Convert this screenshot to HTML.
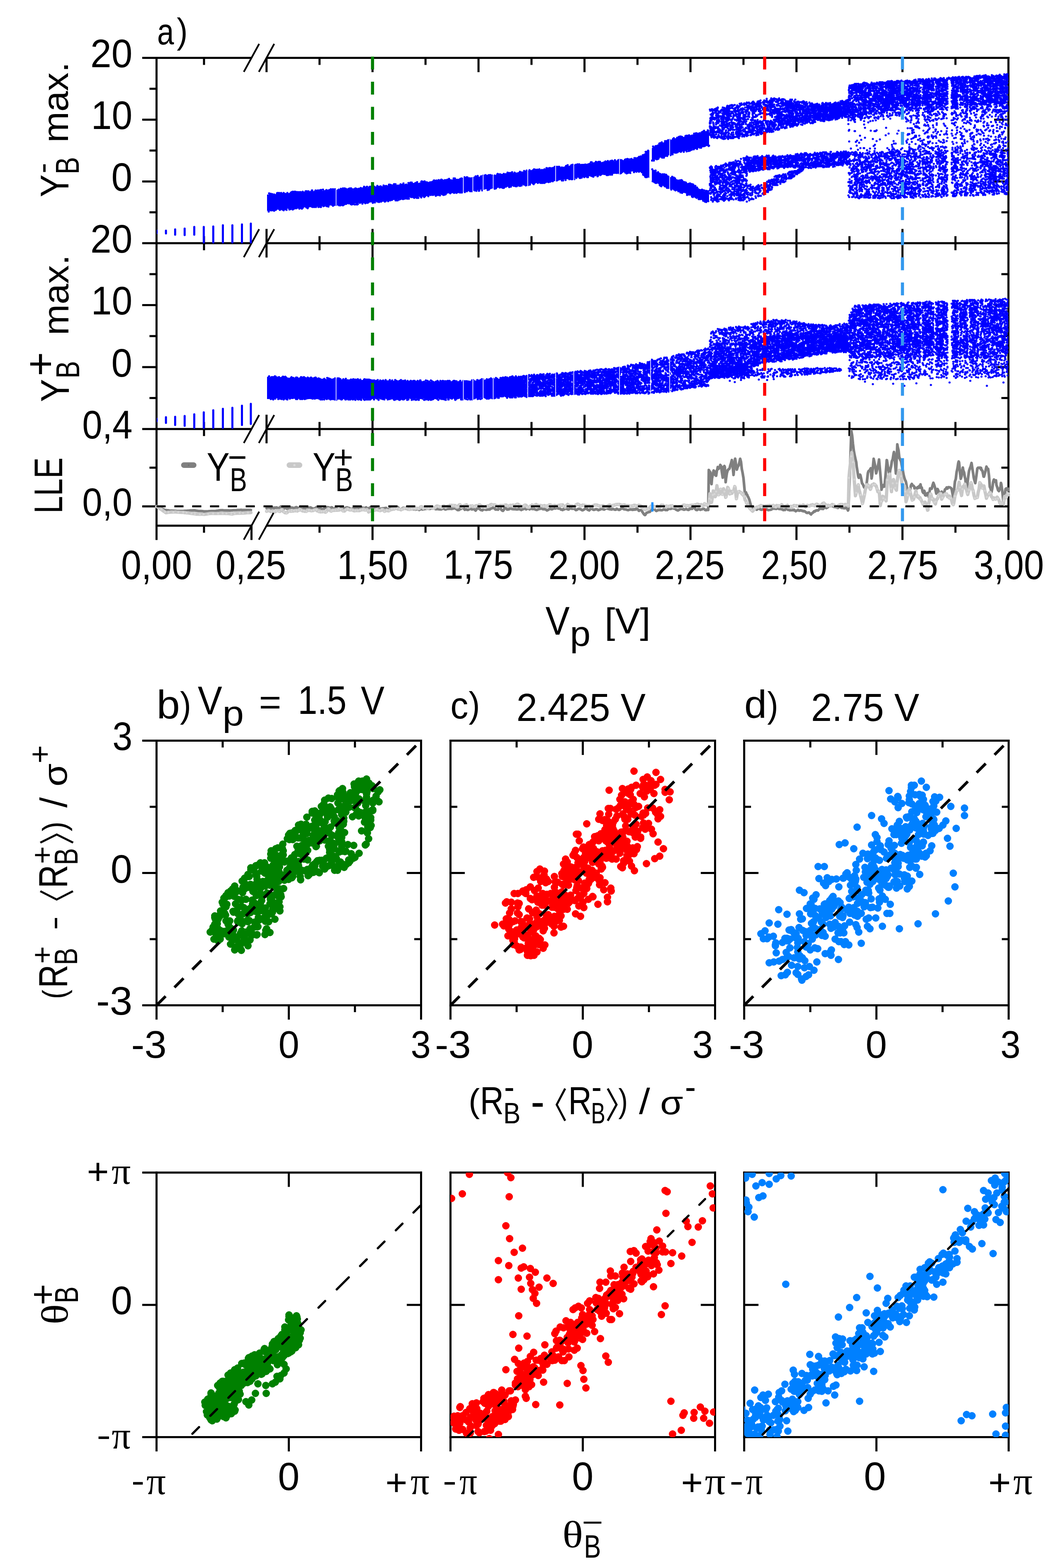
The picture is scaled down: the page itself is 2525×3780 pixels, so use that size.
<!DOCTYPE html>
<html><head><meta charset="utf-8"><title>figure</title><style>html,body{margin:0;padding:0;background:#fff}svg{display:block}</style></head><body>
<svg xmlns="http://www.w3.org/2000/svg" width="2525" height="3780" viewBox="0 0 2525 3780">
<rect width="2525" height="3780" fill="#fff"/>
<line x1="377.5" y1="137" x2="377.5" y2="1269.8" stroke="#000" stroke-width="5.0"/>
<line x1="2432" y1="137" x2="2432" y2="1269.8" stroke="#000" stroke-width="5.0"/>
<line x1="377.5" y1="139.5" x2="606.5" y2="139.5" stroke="#000" stroke-width="5.0"/>
<line x1="642.8" y1="139.5" x2="2434.5" y2="139.5" stroke="#000" stroke-width="5.0"/>
<line x1="377.5" y1="586.3" x2="606.5" y2="586.3" stroke="#000" stroke-width="5.0"/>
<line x1="642.8" y1="586.3" x2="2434.5" y2="586.3" stroke="#000" stroke-width="5.0"/>
<line x1="377.5" y1="1034.2" x2="606.5" y2="1034.2" stroke="#000" stroke-width="5.0"/>
<line x1="642.8" y1="1034.2" x2="2434.5" y2="1034.2" stroke="#000" stroke-width="5.0"/>
<line x1="377.5" y1="1267.3" x2="606.5" y2="1267.3" stroke="#000" stroke-width="5.0"/>
<line x1="642.8" y1="1267.3" x2="2434.5" y2="1267.3" stroke="#000" stroke-width="5.0"/>
<line x1="343" y1="139.5" x2="377.5" y2="139.5" stroke="#000" stroke-width="5.0"/>
<line x1="360.5" y1="214" x2="377.5" y2="214" stroke="#000" stroke-width="5.0"/>
<line x1="343" y1="288.4" x2="377.5" y2="288.4" stroke="#000" stroke-width="5.0"/>
<line x1="360.5" y1="362.9" x2="377.5" y2="362.9" stroke="#000" stroke-width="5.0"/>
<line x1="343" y1="437.4" x2="377.5" y2="437.4" stroke="#000" stroke-width="5.0"/>
<line x1="360.5" y1="511.8" x2="377.5" y2="511.8" stroke="#000" stroke-width="5.0"/>
<line x1="343" y1="586.3" x2="377.5" y2="586.3" stroke="#000" stroke-width="5.0"/>
<line x1="360.5" y1="660.9" x2="377.5" y2="660.9" stroke="#000" stroke-width="5.0"/>
<line x1="343" y1="735.6" x2="377.5" y2="735.6" stroke="#000" stroke-width="5.0"/>
<line x1="360.5" y1="810.2" x2="377.5" y2="810.2" stroke="#000" stroke-width="5.0"/>
<line x1="343" y1="884.9" x2="377.5" y2="884.9" stroke="#000" stroke-width="5.0"/>
<line x1="360.5" y1="959.5" x2="377.5" y2="959.5" stroke="#000" stroke-width="5.0"/>
<line x1="343" y1="1034.2" x2="377.5" y2="1034.2" stroke="#000" stroke-width="5.0"/>
<line x1="360.5" y1="1127.4" x2="377.5" y2="1127.4" stroke="#000" stroke-width="5.0"/>
<line x1="343" y1="1220.7" x2="377.5" y2="1220.7" stroke="#000" stroke-width="5.0"/>
<line x1="2415" y1="214" x2="2432" y2="214" stroke="#000" stroke-width="5.0"/>
<line x1="2397.5" y1="288.4" x2="2432" y2="288.4" stroke="#000" stroke-width="5.0"/>
<line x1="2415" y1="362.9" x2="2432" y2="362.9" stroke="#000" stroke-width="5.0"/>
<line x1="2397.5" y1="437.4" x2="2432" y2="437.4" stroke="#000" stroke-width="5.0"/>
<line x1="2415" y1="511.8" x2="2432" y2="511.8" stroke="#000" stroke-width="5.0"/>
<line x1="2415" y1="660.9" x2="2432" y2="660.9" stroke="#000" stroke-width="5.0"/>
<line x1="2397.5" y1="735.6" x2="2432" y2="735.6" stroke="#000" stroke-width="5.0"/>
<line x1="2415" y1="810.2" x2="2432" y2="810.2" stroke="#000" stroke-width="5.0"/>
<line x1="2397.5" y1="884.9" x2="2432" y2="884.9" stroke="#000" stroke-width="5.0"/>
<line x1="2415" y1="959.5" x2="2432" y2="959.5" stroke="#000" stroke-width="5.0"/>
<line x1="2415" y1="1127.4" x2="2432" y2="1127.4" stroke="#000" stroke-width="5.0"/>
<line x1="2397.5" y1="1220.7" x2="2432" y2="1220.7" stroke="#000" stroke-width="5.0"/>
<line x1="492" y1="139.5" x2="492" y2="156.5" stroke="#000" stroke-width="5.0"/>
<line x1="642.8" y1="139.5" x2="642.8" y2="174" stroke="#000" stroke-width="5.0"/>
<line x1="770.6" y1="139.5" x2="770.6" y2="156.5" stroke="#000" stroke-width="5.0"/>
<line x1="898.4" y1="139.5" x2="898.4" y2="174" stroke="#000" stroke-width="5.0"/>
<line x1="1026.2" y1="139.5" x2="1026.2" y2="156.5" stroke="#000" stroke-width="5.0"/>
<line x1="1154" y1="139.5" x2="1154" y2="174" stroke="#000" stroke-width="5.0"/>
<line x1="1281.8" y1="139.5" x2="1281.8" y2="156.5" stroke="#000" stroke-width="5.0"/>
<line x1="1409.6" y1="139.5" x2="1409.6" y2="174" stroke="#000" stroke-width="5.0"/>
<line x1="1537.4" y1="139.5" x2="1537.4" y2="156.5" stroke="#000" stroke-width="5.0"/>
<line x1="1665.2" y1="139.5" x2="1665.2" y2="174" stroke="#000" stroke-width="5.0"/>
<line x1="1793" y1="139.5" x2="1793" y2="156.5" stroke="#000" stroke-width="5.0"/>
<line x1="1920.8" y1="139.5" x2="1920.8" y2="174" stroke="#000" stroke-width="5.0"/>
<line x1="2048.6" y1="139.5" x2="2048.6" y2="156.5" stroke="#000" stroke-width="5.0"/>
<line x1="2176.4" y1="139.5" x2="2176.4" y2="174" stroke="#000" stroke-width="5.0"/>
<line x1="2304.2" y1="139.5" x2="2304.2" y2="156.5" stroke="#000" stroke-width="5.0"/>
<line x1="492" y1="569.3" x2="492" y2="603.3" stroke="#000" stroke-width="5.0"/>
<line x1="642.8" y1="551.8" x2="642.8" y2="620.8" stroke="#000" stroke-width="5.0"/>
<line x1="770.6" y1="569.3" x2="770.6" y2="603.3" stroke="#000" stroke-width="5.0"/>
<line x1="898.4" y1="551.8" x2="898.4" y2="620.8" stroke="#000" stroke-width="5.0"/>
<line x1="1026.2" y1="569.3" x2="1026.2" y2="603.3" stroke="#000" stroke-width="5.0"/>
<line x1="1154" y1="551.8" x2="1154" y2="620.8" stroke="#000" stroke-width="5.0"/>
<line x1="1281.8" y1="569.3" x2="1281.8" y2="603.3" stroke="#000" stroke-width="5.0"/>
<line x1="1409.6" y1="551.8" x2="1409.6" y2="620.8" stroke="#000" stroke-width="5.0"/>
<line x1="1537.4" y1="569.3" x2="1537.4" y2="603.3" stroke="#000" stroke-width="5.0"/>
<line x1="1665.2" y1="551.8" x2="1665.2" y2="620.8" stroke="#000" stroke-width="5.0"/>
<line x1="1793" y1="569.3" x2="1793" y2="603.3" stroke="#000" stroke-width="5.0"/>
<line x1="1920.8" y1="551.8" x2="1920.8" y2="620.8" stroke="#000" stroke-width="5.0"/>
<line x1="2048.6" y1="569.3" x2="2048.6" y2="603.3" stroke="#000" stroke-width="5.0"/>
<line x1="2176.4" y1="551.8" x2="2176.4" y2="620.8" stroke="#000" stroke-width="5.0"/>
<line x1="2304.2" y1="569.3" x2="2304.2" y2="603.3" stroke="#000" stroke-width="5.0"/>
<line x1="492" y1="1017.2" x2="492" y2="1051.2" stroke="#000" stroke-width="5.0"/>
<line x1="642.8" y1="999.7" x2="642.8" y2="1068.7" stroke="#000" stroke-width="5.0"/>
<line x1="770.6" y1="1017.2" x2="770.6" y2="1051.2" stroke="#000" stroke-width="5.0"/>
<line x1="898.4" y1="999.7" x2="898.4" y2="1068.7" stroke="#000" stroke-width="5.0"/>
<line x1="1026.2" y1="1017.2" x2="1026.2" y2="1051.2" stroke="#000" stroke-width="5.0"/>
<line x1="1154" y1="999.7" x2="1154" y2="1068.7" stroke="#000" stroke-width="5.0"/>
<line x1="1281.8" y1="1017.2" x2="1281.8" y2="1051.2" stroke="#000" stroke-width="5.0"/>
<line x1="1409.6" y1="999.7" x2="1409.6" y2="1068.7" stroke="#000" stroke-width="5.0"/>
<line x1="1537.4" y1="1017.2" x2="1537.4" y2="1051.2" stroke="#000" stroke-width="5.0"/>
<line x1="1665.2" y1="999.7" x2="1665.2" y2="1068.7" stroke="#000" stroke-width="5.0"/>
<line x1="1793" y1="1017.2" x2="1793" y2="1051.2" stroke="#000" stroke-width="5.0"/>
<line x1="1920.8" y1="999.7" x2="1920.8" y2="1068.7" stroke="#000" stroke-width="5.0"/>
<line x1="2048.6" y1="1017.2" x2="2048.6" y2="1051.2" stroke="#000" stroke-width="5.0"/>
<line x1="2176.4" y1="999.7" x2="2176.4" y2="1068.7" stroke="#000" stroke-width="5.0"/>
<line x1="2304.2" y1="1017.2" x2="2304.2" y2="1051.2" stroke="#000" stroke-width="5.0"/>
<line x1="377.5" y1="1267.3" x2="377.5" y2="1301.8" stroke="#000" stroke-width="5.0"/>
<line x1="492" y1="1267.3" x2="492" y2="1284.3" stroke="#000" stroke-width="5.0"/>
<line x1="606.5" y1="1267.3" x2="606.5" y2="1301.8" stroke="#000" stroke-width="5.0"/>
<line x1="770.6" y1="1267.3" x2="770.6" y2="1284.3" stroke="#000" stroke-width="5.0"/>
<line x1="898.4" y1="1267.3" x2="898.4" y2="1301.8" stroke="#000" stroke-width="5.0"/>
<line x1="1026.2" y1="1267.3" x2="1026.2" y2="1284.3" stroke="#000" stroke-width="5.0"/>
<line x1="1154" y1="1267.3" x2="1154" y2="1301.8" stroke="#000" stroke-width="5.0"/>
<line x1="1281.8" y1="1267.3" x2="1281.8" y2="1284.3" stroke="#000" stroke-width="5.0"/>
<line x1="1409.6" y1="1267.3" x2="1409.6" y2="1301.8" stroke="#000" stroke-width="5.0"/>
<line x1="1537.4" y1="1267.3" x2="1537.4" y2="1284.3" stroke="#000" stroke-width="5.0"/>
<line x1="1665.2" y1="1267.3" x2="1665.2" y2="1301.8" stroke="#000" stroke-width="5.0"/>
<line x1="1793" y1="1267.3" x2="1793" y2="1284.3" stroke="#000" stroke-width="5.0"/>
<line x1="1920.8" y1="1267.3" x2="1920.8" y2="1301.8" stroke="#000" stroke-width="5.0"/>
<line x1="2048.6" y1="1267.3" x2="2048.6" y2="1284.3" stroke="#000" stroke-width="5.0"/>
<line x1="2176.4" y1="1267.3" x2="2176.4" y2="1301.8" stroke="#000" stroke-width="5.0"/>
<line x1="2304.2" y1="1267.3" x2="2304.2" y2="1284.3" stroke="#000" stroke-width="5.0"/>
<line x1="2432" y1="1267.3" x2="2432" y2="1301.8" stroke="#000" stroke-width="5.0"/>
<line x1="588" y1="173.2" x2="625" y2="105.8" stroke="#000" stroke-width="4.2"/>
<line x1="624.3" y1="173.2" x2="661.3" y2="105.8" stroke="#000" stroke-width="4.2"/>
<line x1="588" y1="620" x2="625" y2="552.6" stroke="#000" stroke-width="4.2"/>
<line x1="624.3" y1="620" x2="661.3" y2="552.6" stroke="#000" stroke-width="4.2"/>
<line x1="588" y1="1067.9" x2="625" y2="1000.5" stroke="#000" stroke-width="4.2"/>
<line x1="624.3" y1="1067.9" x2="661.3" y2="1000.5" stroke="#000" stroke-width="4.2"/>
<line x1="588" y1="1301" x2="625" y2="1233.6" stroke="#000" stroke-width="4.2"/>
<line x1="624.3" y1="1301" x2="661.3" y2="1233.6" stroke="#000" stroke-width="4.2"/>
<line x1="377.5" y1="1785.5" x2="1015.5" y2="1785.5" stroke="#000" stroke-width="5.0" stroke-linecap="square"/>
<line x1="377.5" y1="2423.5" x2="1015.5" y2="2423.5" stroke="#000" stroke-width="5.0" stroke-linecap="square"/>
<line x1="377.5" y1="1785.5" x2="377.5" y2="2423.5" stroke="#000" stroke-width="5.0" stroke-linecap="square"/>
<line x1="1015.5" y1="1785.5" x2="1015.5" y2="2423.5" stroke="#000" stroke-width="5.0" stroke-linecap="square"/>
<line x1="537" y1="1785.5" x2="537" y2="1802" stroke="#000" stroke-width="5.0"/>
<line x1="696.5" y1="1785.5" x2="696.5" y2="1820" stroke="#000" stroke-width="5.0"/>
<line x1="856" y1="1785.5" x2="856" y2="1802" stroke="#000" stroke-width="5.0"/>
<line x1="377.5" y1="2423.5" x2="377.5" y2="2458" stroke="#000" stroke-width="5.0"/>
<line x1="537" y1="2423.5" x2="537" y2="2440" stroke="#000" stroke-width="5.0"/>
<line x1="696.5" y1="2423.5" x2="696.5" y2="2458" stroke="#000" stroke-width="5.0"/>
<line x1="856" y1="2423.5" x2="856" y2="2440" stroke="#000" stroke-width="5.0"/>
<line x1="1015.5" y1="2423.5" x2="1015.5" y2="2458" stroke="#000" stroke-width="5.0"/>
<line x1="999" y1="1945" x2="1015.5" y2="1945" stroke="#000" stroke-width="5.0"/>
<line x1="981" y1="2104.5" x2="1015.5" y2="2104.5" stroke="#000" stroke-width="5.0"/>
<line x1="999" y1="2264" x2="1015.5" y2="2264" stroke="#000" stroke-width="5.0"/>
<line x1="343" y1="1785.5" x2="377.5" y2="1785.5" stroke="#000" stroke-width="5.0"/>
<line x1="361" y1="1945" x2="377.5" y2="1945" stroke="#000" stroke-width="5.0"/>
<line x1="343" y1="2104.5" x2="377.5" y2="2104.5" stroke="#000" stroke-width="5.0"/>
<line x1="361" y1="2264" x2="377.5" y2="2264" stroke="#000" stroke-width="5.0"/>
<line x1="343" y1="2423.5" x2="377.5" y2="2423.5" stroke="#000" stroke-width="5.0"/>
<line x1="1086.4" y1="1785.5" x2="1724.5" y2="1785.5" stroke="#000" stroke-width="5.0" stroke-linecap="square"/>
<line x1="1086.4" y1="2423.5" x2="1724.5" y2="2423.5" stroke="#000" stroke-width="5.0" stroke-linecap="square"/>
<line x1="1086.4" y1="1785.5" x2="1086.4" y2="2423.5" stroke="#000" stroke-width="5.0" stroke-linecap="square"/>
<line x1="1724.5" y1="1785.5" x2="1724.5" y2="2423.5" stroke="#000" stroke-width="5.0" stroke-linecap="square"/>
<line x1="1245.9" y1="1785.5" x2="1245.9" y2="1802" stroke="#000" stroke-width="5.0"/>
<line x1="1405.5" y1="1785.5" x2="1405.5" y2="1820" stroke="#000" stroke-width="5.0"/>
<line x1="1565" y1="1785.5" x2="1565" y2="1802" stroke="#000" stroke-width="5.0"/>
<line x1="1086.4" y1="2423.5" x2="1086.4" y2="2458" stroke="#000" stroke-width="5.0"/>
<line x1="1245.9" y1="2423.5" x2="1245.9" y2="2440" stroke="#000" stroke-width="5.0"/>
<line x1="1405.5" y1="2423.5" x2="1405.5" y2="2458" stroke="#000" stroke-width="5.0"/>
<line x1="1565" y1="2423.5" x2="1565" y2="2440" stroke="#000" stroke-width="5.0"/>
<line x1="1724.5" y1="2423.5" x2="1724.5" y2="2458" stroke="#000" stroke-width="5.0"/>
<line x1="1708" y1="1945" x2="1724.5" y2="1945" stroke="#000" stroke-width="5.0"/>
<line x1="1690" y1="2104.5" x2="1724.5" y2="2104.5" stroke="#000" stroke-width="5.0"/>
<line x1="1708" y1="2264" x2="1724.5" y2="2264" stroke="#000" stroke-width="5.0"/>
<line x1="1086.4" y1="1945" x2="1102.9" y2="1945" stroke="#000" stroke-width="5.0"/>
<line x1="1086.4" y1="2104.5" x2="1120.9" y2="2104.5" stroke="#000" stroke-width="5.0"/>
<line x1="1086.4" y1="2264" x2="1102.9" y2="2264" stroke="#000" stroke-width="5.0"/>
<line x1="1794.7" y1="1785.5" x2="2432.5" y2="1785.5" stroke="#000" stroke-width="5.0" stroke-linecap="square"/>
<line x1="1794.7" y1="2423.5" x2="2432.5" y2="2423.5" stroke="#000" stroke-width="5.0" stroke-linecap="square"/>
<line x1="1794.7" y1="1785.5" x2="1794.7" y2="2423.5" stroke="#000" stroke-width="5.0" stroke-linecap="square"/>
<line x1="2432.5" y1="1785.5" x2="2432.5" y2="2423.5" stroke="#000" stroke-width="5.0" stroke-linecap="square"/>
<line x1="1954.2" y1="1785.5" x2="1954.2" y2="1802" stroke="#000" stroke-width="5.0"/>
<line x1="2113.6" y1="1785.5" x2="2113.6" y2="1820" stroke="#000" stroke-width="5.0"/>
<line x1="2273.1" y1="1785.5" x2="2273.1" y2="1802" stroke="#000" stroke-width="5.0"/>
<line x1="1794.7" y1="2423.5" x2="1794.7" y2="2458" stroke="#000" stroke-width="5.0"/>
<line x1="1954.2" y1="2423.5" x2="1954.2" y2="2440" stroke="#000" stroke-width="5.0"/>
<line x1="2113.6" y1="2423.5" x2="2113.6" y2="2458" stroke="#000" stroke-width="5.0"/>
<line x1="2273.1" y1="2423.5" x2="2273.1" y2="2440" stroke="#000" stroke-width="5.0"/>
<line x1="2432.5" y1="2423.5" x2="2432.5" y2="2458" stroke="#000" stroke-width="5.0"/>
<line x1="2416" y1="1945" x2="2432.5" y2="1945" stroke="#000" stroke-width="5.0"/>
<line x1="2398" y1="2104.5" x2="2432.5" y2="2104.5" stroke="#000" stroke-width="5.0"/>
<line x1="2416" y1="2264" x2="2432.5" y2="2264" stroke="#000" stroke-width="5.0"/>
<line x1="1794.7" y1="1945" x2="1811.2" y2="1945" stroke="#000" stroke-width="5.0"/>
<line x1="1794.7" y1="2104.5" x2="1829.2" y2="2104.5" stroke="#000" stroke-width="5.0"/>
<line x1="1794.7" y1="2264" x2="1811.2" y2="2264" stroke="#000" stroke-width="5.0"/>
<line x1="377.5" y1="2826.8" x2="1015.5" y2="2826.8" stroke="#000" stroke-width="5.0" stroke-linecap="square"/>
<line x1="377.5" y1="3464.5" x2="1015.5" y2="3464.5" stroke="#000" stroke-width="5.0" stroke-linecap="square"/>
<line x1="377.5" y1="2826.8" x2="377.5" y2="3464.5" stroke="#000" stroke-width="5.0" stroke-linecap="square"/>
<line x1="1015.5" y1="2826.8" x2="1015.5" y2="3464.5" stroke="#000" stroke-width="5.0" stroke-linecap="square"/>
<line x1="696.5" y1="2826.8" x2="696.5" y2="2861.3" stroke="#000" stroke-width="5.0"/>
<line x1="377.5" y1="3464.5" x2="377.5" y2="3499" stroke="#000" stroke-width="5.0"/>
<line x1="696.5" y1="3464.5" x2="696.5" y2="3499" stroke="#000" stroke-width="5.0"/>
<line x1="1015.5" y1="3464.5" x2="1015.5" y2="3499" stroke="#000" stroke-width="5.0"/>
<line x1="981" y1="3145.7" x2="1015.5" y2="3145.7" stroke="#000" stroke-width="5.0"/>
<line x1="343" y1="2826.8" x2="377.5" y2="2826.8" stroke="#000" stroke-width="5.0"/>
<line x1="343" y1="3145.7" x2="377.5" y2="3145.7" stroke="#000" stroke-width="5.0"/>
<line x1="343" y1="3464.5" x2="377.5" y2="3464.5" stroke="#000" stroke-width="5.0"/>
<line x1="1086.4" y1="2826.8" x2="1724.5" y2="2826.8" stroke="#000" stroke-width="5.0" stroke-linecap="square"/>
<line x1="1086.4" y1="3464.5" x2="1724.5" y2="3464.5" stroke="#000" stroke-width="5.0" stroke-linecap="square"/>
<line x1="1086.4" y1="2826.8" x2="1086.4" y2="3464.5" stroke="#000" stroke-width="5.0" stroke-linecap="square"/>
<line x1="1724.5" y1="2826.8" x2="1724.5" y2="3464.5" stroke="#000" stroke-width="5.0" stroke-linecap="square"/>
<line x1="1405.5" y1="2826.8" x2="1405.5" y2="2861.3" stroke="#000" stroke-width="5.0"/>
<line x1="1086.4" y1="3464.5" x2="1086.4" y2="3499" stroke="#000" stroke-width="5.0"/>
<line x1="1405.5" y1="3464.5" x2="1405.5" y2="3499" stroke="#000" stroke-width="5.0"/>
<line x1="1724.5" y1="3464.5" x2="1724.5" y2="3499" stroke="#000" stroke-width="5.0"/>
<line x1="1690" y1="3145.7" x2="1724.5" y2="3145.7" stroke="#000" stroke-width="5.0"/>
<line x1="1086.4" y1="3145.7" x2="1120.9" y2="3145.7" stroke="#000" stroke-width="5.0"/>
<line x1="1794.7" y1="2826.8" x2="2432.5" y2="2826.8" stroke="#000" stroke-width="5.0" stroke-linecap="square"/>
<line x1="1794.7" y1="3464.5" x2="2432.5" y2="3464.5" stroke="#000" stroke-width="5.0" stroke-linecap="square"/>
<line x1="1794.7" y1="2826.8" x2="1794.7" y2="3464.5" stroke="#000" stroke-width="5.0" stroke-linecap="square"/>
<line x1="2432.5" y1="2826.8" x2="2432.5" y2="3464.5" stroke="#000" stroke-width="5.0" stroke-linecap="square"/>
<line x1="2113.6" y1="2826.8" x2="2113.6" y2="2861.3" stroke="#000" stroke-width="5.0"/>
<line x1="1794.7" y1="3464.5" x2="1794.7" y2="3499" stroke="#000" stroke-width="5.0"/>
<line x1="2113.6" y1="3464.5" x2="2113.6" y2="3499" stroke="#000" stroke-width="5.0"/>
<line x1="2432.5" y1="3464.5" x2="2432.5" y2="3499" stroke="#000" stroke-width="5.0"/>
<line x1="2398" y1="3145.7" x2="2432.5" y2="3145.7" stroke="#000" stroke-width="5.0"/>
<line x1="1794.7" y1="3145.7" x2="1829.2" y2="3145.7" stroke="#000" stroke-width="5.0"/>
<defs><clipPath id="cpTop"><rect x="377.5" y="139.5" width="2054.5" height="1127.8"/></clipPath><clipPath id="cp1"><rect x="377.5" y="139.5" width="2054.5" height="446.8"/></clipPath><clipPath id="cp2"><rect x="377.5" y="586.3" width="2054.5" height="447.9"/></clipPath></defs>
<g clip-path="url(#cpTop)">
<path d="M644 469 646 469 650 469 652 467 656 467 658 468 662 466 664 468 668 467 670 466 674 466 676 466 680 465 682 466 686 465 688 465 692 466 694 466 698 465 700 466 704 464 706 463 710 464 712 463 716 462 718 463 722 463 724 464 728 463 730 462 734 462 736 461 740 461 742 461 746 462 748 460 752 461 754 460 758 461 760 460 764 460 766 461 770 460 772 460 776 460 778 460 782 458 784 459 788 459 790 459 794 458 796 458 800 457 802 457 806 457 808 456 812 458 814 456 818 458 820 457 824 456 826 456 830 456 832 455 836 455 838 454 842 455 844 454 848 456 850 454 854 454 856 453 860 455 862 454 866 452 868 454 872 454 874 454 878 453 880 451 884 451 886 453 890 452 892 451 896 452 898 451 902 451 904 450 908 450 910 449 914 448 916 450 920 449 922 449 926 448 928 449 932 447 934 447 938 446 940 446 944 448 946 447 950 446 952 446 956 446 958 445 962 445 964 445 968 444 970 444 974 444 976 444 980 442 982 444 986 441 988 443 992 442 994 441 998 441 1000 442 1004 439 1006 441 1010 441 1012 440 1016 440 1018 438 1022 438 1024 438 1028 437 1030 437 1034 439 1036 437 1040 437 1042 436 1046 437 1048 436 1052 437 1054 435 1058 435 1060 436 1064 435 1066 434 1070 434 1072 435 1076 433 1078 434 1082 432 1084 432 1088 432 1090 433 1094 431 1096 432 1100 431 1102 431 1106 431 1108 431 1112 429 1114 429 1118 428 1120 428 1124 428 1126 429 1130 429 1132 427 1136 428 1138 427 1142 427 1144 427 1148 426 1150 427 1154 426 1156 426 1160 425 1162 424 1166 423 1168 424 1172 424 1174 424 1178 424 1180 422 1184 424 1186 423 1190 423 1192 422 1196 422 1198 420 1202 420 1204 419 1208 419 1210 419 1214 419 1216 419 1220 417 1222 418 1226 417 1228 418 1232 416 1234 416 1238 417 1240 416 1244 416 1246 416 1250 415 1252 414 1256 414 1258 413 1262 414 1264 414 1268 413 1270 411 1274 411 1276 411 1280 410 1282 411 1286 411 1288 410 1292 411 1294 410 1298 408 1300 409 1304 409 1306 407 1310 408 1312 407 1316 407 1318 405 1322 406 1324 406 1328 406 1330 406 1334 404 1336 405 1340 405 1342 404 1346 402 1348 401 1352 403 1354 401 1358 402 1360 402 1364 400 1366 400 1370 400 1372 400 1376 398 1378 399 1382 398 1384 399 1388 399 1390 397 1394 397 1396 397 1400 396 1402 395 1406 395 1408 395 1412 394 1414 395 1418 394 1420 393 1424 392 1426 394 1430 392 1432 391 1436 391 1438 390 1442 392 1444 390 1448 390 1450 391 1454 390 1456 389 1460 389 1462 390 1466 389 1468 389 1472 388 1474 389 1478 389 1480 389 1484 388 1486 387 1490 386 1492 387 1496 388 1498 386 1502 386 1504 386 1508 386 1510 386 1514 383 1516 383 1520 384 1522 383 1526 383 1528 383 1532 383 1534 382 1538 381 1540 379 1544 379 1546 376 1550 374 1552 371 1556 369 1558 366 1562 365 1564 364 1566 362 1566 429 1564 428 1562 428 1558 425 1556 423 1552 421 1550 419 1546 417 1544 414 1540 416 1538 414 1534 414 1532 413 1528 413 1526 413 1522 414 1520 416 1516 416 1514 415 1510 416 1508 417 1504 415 1502 417 1498 417 1496 418 1492 419 1490 418 1486 419 1484 419 1480 419 1478 420 1474 421 1472 421 1468 419 1466 420 1462 420 1460 422 1456 422 1454 421 1450 423 1448 423 1444 423 1442 422 1438 424 1436 425 1432 425 1430 424 1426 426 1424 425 1420 425 1418 426 1414 426 1412 428 1408 427 1406 427 1402 428 1400 427 1396 429 1394 428 1390 429 1388 429 1384 431 1382 430 1378 430 1376 430 1372 431 1370 432 1366 432 1364 432 1360 433 1358 433 1354 433 1352 434 1348 435 1346 436 1342 436 1340 436 1336 437 1334 437 1330 438 1328 437 1324 437 1322 437 1318 439 1316 439 1312 439 1310 439 1306 439 1304 440 1300 440 1298 442 1294 441 1292 442 1288 442 1286 443 1282 442 1280 444 1276 443 1274 444 1270 444 1268 445 1264 444 1262 445 1258 447 1256 447 1252 446 1250 448 1246 448 1244 447 1240 448 1238 449 1234 449 1232 449 1228 450 1226 450 1222 451 1220 452 1216 451 1214 451 1210 452 1208 452 1204 454 1202 452 1198 454 1196 454 1192 455 1190 454 1186 455 1184 456 1180 457 1178 456 1174 456 1172 456 1168 457 1166 458 1162 457 1160 457 1156 458 1154 458 1150 459 1148 459 1144 460 1142 460 1138 460 1136 461 1132 462 1130 461 1126 461 1124 462 1120 462 1118 463 1114 464 1112 463 1108 464 1106 464 1102 464 1100 465 1096 465 1094 465 1090 466 1088 466 1084 467 1082 466 1078 467 1076 468 1072 469 1070 468 1066 468 1064 469 1060 469 1058 470 1054 470 1052 470 1048 470 1046 472 1042 470 1040 471 1036 472 1034 471 1030 473 1028 473 1024 473 1022 472 1018 475 1016 474 1012 475 1010 474 1006 476 1004 476 1000 476 998 476 994 476 992 478 988 476 986 478 982 477 980 479 976 479 974 478 970 480 968 479 964 481 962 481 958 480 956 481 952 482 950 482 946 482 944 483 940 482 938 484 934 484 932 485 928 483 926 484 922 484 920 486 916 485 914 486 910 487 908 486 904 487 902 486 898 487 896 488 892 488 890 489 886 489 884 489 880 490 878 490 874 490 872 490 868 489 866 489 862 491 860 490 856 490 854 492 850 491 848 492 844 491 842 493 838 492 836 494 832 494 830 492 826 493 824 493 820 495 818 495 814 494 812 495 808 495 806 495 802 495 800 496 796 495 794 497 790 496 788 497 784 498 782 496 778 496 776 498 772 497 770 497 766 498 764 498 760 498 758 500 754 500 752 501 748 499 746 500 742 501 740 500 736 500 734 500 730 501 728 501 724 502 722 501 718 503 716 502 712 503 710 503 706 504 704 503 700 503 698 505 694 503 692 504 688 506 686 506 682 506 680 505 676 507 674 507 670 505 668 506 664 508 662 508 658 507 656 508 652 508 650 508 646 508 644 509Z" fill="#0000ff"/>
<path d="M1572 357 1575 355 1578 353 1581 352 1584 349 1587 348 1590 347 1593 345 1596 344 1599 344 1602 342 1605 340 1608 341 1611 340 1614 337 1617 338 1620 336 1623 334 1626 335 1629 333 1632 333 1635 333 1638 331 1641 330 1644 331 1647 330 1650 330 1653 328 1656 329 1659 328 1662 327 1665 326 1668 325 1671 324 1674 323 1677 323 1680 321 1683 322 1686 320 1689 320 1692 318 1695 318 1698 318 1701 316 1704 316 1707 314 1710 314 1710 351 1707 352 1704 352 1701 354 1698 355 1695 355 1692 355 1689 355 1686 356 1683 358 1680 357 1677 359 1674 359 1671 359 1668 359 1665 362 1662 362 1659 362 1656 364 1653 364 1650 365 1647 364 1644 367 1641 367 1638 367 1635 368 1632 368 1629 369 1626 369 1623 371 1620 372 1617 373 1614 374 1611 375 1608 374 1605 377 1602 378 1599 379 1596 380 1593 380 1590 381 1587 384 1584 382 1581 385 1578 385 1575 385 1572 388Z" fill="#0000ff"/>
<path d="M1572 407 1575 409 1578 410 1581 413 1584 415 1587 416 1590 416 1593 417 1596 419 1599 421 1602 421 1605 423 1608 423 1611 424 1614 426 1617 427 1620 427 1623 428 1626 431 1629 431 1632 432 1635 433 1638 435 1641 435 1644 436 1647 438 1650 439 1653 440 1656 440 1659 442 1662 442 1665 444 1668 446 1671 447 1674 449 1677 449 1680 451 1683 452 1686 455 1689 456 1692 456 1695 458 1698 461 1701 462 1704 461 1707 464 1710 463 1710 485 1707 486 1704 486 1701 484 1698 485 1695 484 1692 482 1689 480 1686 478 1683 478 1680 477 1677 474 1674 475 1671 473 1668 471 1665 470 1662 469 1659 469 1656 467 1653 466 1650 465 1647 465 1644 463 1641 464 1638 463 1635 461 1632 460 1629 459 1626 459 1623 457 1620 456 1617 456 1614 453 1611 454 1608 453 1605 450 1602 450 1599 448 1596 448 1593 447 1590 445 1587 443 1584 441 1581 440 1578 438 1575 437 1572 435Z" fill="#0000ff"/>
<path d="M644 909 646 908 650 910 652 908 656 909 658 908 662 909 664 909 668 910 670 909 674 909 676 909 680 909 682 909 686 909 688 909 692 910 694 910 698 911 700 909 704 911 706 910 710 912 712 910 716 911 718 911 722 910 724 911 728 911 730 912 734 910 736 911 740 910 742 911 746 913 748 911 752 913 754 911 758 913 760 913 764 911 766 912 770 913 772 912 776 913 778 913 782 912 784 913 788 914 790 913 794 912 796 912 800 913 802 914 806 915 808 913 812 914 814 913 818 913 820 914 824 915 826 914 830 914 832 915 836 915 838 914 842 915 844 914 848 914 850 914 854 914 856 915 860 915 862 917 866 915 868 917 872 916 874 916 878 915 880 917 884 916 886 916 890 915 892 917 896 916 898 917 902 916 904 916 908 918 910 917 914 918 916 916 920 916 922 917 926 916 928 918 932 917 934 917 938 917 940 918 944 917 946 918 950 918 952 917 956 918 958 917 962 917 964 917 968 917 970 918 974 917 976 919 980 918 982 919 986 918 988 918 992 918 994 917 998 917 1000 918 1004 918 1006 919 1010 919 1012 917 1016 918 1018 919 1022 918 1024 918 1028 920 1030 918 1034 918 1036 920 1040 920 1042 920 1046 918 1048 920 1052 919 1054 920 1058 919 1060 920 1064 920 1066 920 1070 920 1072 919 1076 919 1078 919 1082 919 1084 921 1088 920 1090 919 1094 919 1096 920 1100 919 1102 920 1106 920 1108 919 1112 921 1114 919 1118 919 1120 918 1124 920 1126 918 1130 917 1132 919 1136 918 1138 918 1142 919 1144 916 1148 918 1150 916 1154 917 1156 915 1160 915 1162 915 1166 915 1168 916 1172 914 1174 914 1178 915 1180 914 1184 915 1186 914 1190 914 1192 913 1196 912 1198 913 1202 913 1204 913 1208 912 1210 912 1214 911 1216 911 1220 911 1222 911 1226 910 1228 909 1232 911 1234 908 1238 908 1240 908 1244 908 1246 909 1250 908 1252 907 1256 909 1258 907 1260 908 1260 955 1258 956 1256 955 1252 956 1250 956 1246 956 1244 957 1240 957 1238 956 1234 957 1232 956 1228 957 1226 958 1222 958 1220 958 1216 956 1214 958 1210 958 1208 958 1204 957 1202 958 1198 958 1196 959 1192 958 1190 958 1186 959 1184 960 1180 959 1178 959 1174 959 1172 959 1168 960 1166 959 1162 960 1160 959 1156 961 1154 961 1150 961 1148 960 1144 960 1142 960 1138 962 1136 961 1132 961 1130 961 1126 960 1124 961 1120 961 1118 963 1114 961 1112 962 1108 961 1106 962 1102 963 1100 963 1096 962 1094 961 1090 961 1088 963 1084 961 1082 962 1078 961 1076 962 1072 963 1070 961 1066 963 1064 961 1060 963 1058 961 1054 962 1052 962 1048 962 1046 963 1042 961 1040 962 1036 962 1034 961 1030 961 1028 962 1024 961 1022 961 1018 961 1016 962 1012 962 1010 962 1006 963 1004 961 1000 963 998 962 994 962 992 963 988 961 986 961 982 963 980 962 976 963 974 961 970 962 968 962 964 963 962 963 958 962 956 962 952 961 950 961 946 963 944 963 940 963 938 962 934 963 932 962 928 961 926 962 922 961 920 962 916 963 914 961 910 962 908 963 904 961 902 962 898 962 896 961 892 963 890 962 886 963 884 963 880 961 878 961 874 961 872 963 868 962 866 962 862 963 860 962 856 961 854 962 850 962 848 962 844 961 842 961 838 962 836 962 832 962 830 963 826 961 824 961 820 961 818 961 814 961 812 962 808 961 806 962 802 962 800 961 796 962 794 961 790 962 788 961 784 962 782 962 778 961 776 963 772 962 770 963 766 961 764 962 760 961 758 961 754 960 752 961 748 962 746 962 742 962 740 962 736 961 734 960 730 963 728 961 724 960 722 962 718 961 716 962 712 961 710 961 706 962 704 962 700 961 698 960 694 962 692 961 688 961 686 962 682 961 680 961 676 962 674 961 670 961 668 960 664 960 662 961 658 961 656 961 652 960 650 962 646 962 644 962Z" fill="#0000ff"/>
<path d="M648 510h0m1-44h0m1 1h0m3 0h0m0 40h0m1-38h0m2 38h0m1-39h0m2 1h0m2 39h0m4-2h0m3-40h0m1-1h0m2 1h0m2-1h0m2 3h0m0 38h0m1-40h0m1 1h0m0 1h0m1-3h0m3 40h0m2-38h0m1-2h0m0 42h0m2-40h0m2 37h0m3 2h0m2-41h0m5 40h0m3-40h0m0 39h0m2-41h0m3-1h0m0 43h0m1-41h0m0 1h0m2 37h0m0 1h0m1-41h0m0 2h0m2-2h0m1 40h0m1-39h0m0 39h0m1-39h0m0 39h0m1-39h0m3 0h0m1 1h0m2 39h0m1-40h0m1 38h0m1-38h0m1 38h0m2 2h0m2-41h0m0 38h0m0 1h0m1-37h0m6-3h0m1 0h0m0 1h0m1 38h0m1-39h0m0 39h0m2 0h0m0 2h0m1-40h0m0 37h0m1-38h0m8-2h0m1 0h0m1 40h0m4 0h0m2-38h0m1-2h0m1 39h0m0 1h0m2-38h0m1-1h0m1-1h0m2 40h0m1-40h0m3 38h0m1-39h0m0 40h0m0 1h0m1-41h0m0 3h0m0 38h0m1-41h0m4-1h0m1 40h0m2-1h0m4-36h0m1-2h0m1 2h0m0 37h0m1-38h0m3 39h0m2-40h0m3 0h0m1-2h0m5 0h0m0 40h0m1-38h0m1 0h0m2 36h0m1-38h0m3 38h0m5-1h0m1-36h0m0 37h0m1 1h0m1-2h0m0 2h0m1 0h0m1 0h0m1-40h0m2 37h0m1 2h0m2-40h0m0 41h0m2-38h0m1 36h0m1-39h0m0 2h0m3-1h0m7 0h0m1 1h0m2-2h0m2 38h0m1-38h0m0 2h0m1 37h0m1-1h0m3 0h0m4 1h0m1-39h0m3 1h0m0 35h0m1-1h0m0 4h0m2-1h0m5-3h0m2-36h0m1 1h0m3 37h0m1-37h0m3-4h0m0 2h0m1 0h0m2 0h0m0 38h0m4-40h0m1 39h0m2-1h0m1-36h0m1 0h0m1 0h0m1-2h0m2 1h0m1-1h0m1 2h0m2-1h0m1 38h0m1-2h0m1-38h0m1 1h0m2 1h0m0 36h0m0 1h0m3-36h0m2-1h0m1-3h0m0 38h0m4 1h0m1-37h0m0 35h0m0 1h0m3-37h0m1 36h0m0 1h0m4-2h0m2-37h0m1 1h0m0 35h0m2 3h0m2-1h0m1-37h0m0 1h0m1 0h0m1 0h0m3 36h0m2-40h0m1 36h0m1-36h0m1 38h0m1-1h0m1-36h0m2 36h0m1-1h0m1-34h0m3-3h0m0 3h0m1-3h0m1 0h0m0 3h0m2-3h0m0 39h0m2-3h0m0 3h0m3 0h0m3-3h0m1 1h0m2-1h0m1-36h0m0 35h0m1 0h0m3 0h0m1-34h0m1 34h0m0 1h0m1-38h0m3 37h0m2-2h0m1 1h0m1 0h0m2 0h0m0 1h0m3-38h0m0 36h0m1 2h0m2-37h0m0 1h0m2-3h0m0 3h0m3-3h0m2 35h0m4 2h0m1-1h0m1-34h0m1-1h0m3 36h0m1-38h0m0 38h0m1-2h0m2 2h0m6-3h0m1-36h0m0 38h0m1-39h0m1 1h0m1 2h0m1-2h0m0 34h0m3 3h0m1-38h0m1 36h0m8-1h0m0 1h0m6-3h0m5-32h0m0 32h0m2-35h0m2 0h0m0 1h0m2 34h0m1-1h0m0 3h0m2-37h0m1 34h0m0 1h0m3 0h0m1-36h0m0 2h0m3 35h0m1-36h0m0 1h0m2-3h0m1 0h0m1 35h0m2-33h0m0 34h0m1-2h0m1 3h0m1-3h0m1 2h0m1-35h0m0 35h0m1-34h0m1 33h0m2-34h0m0 1h0m2-2h0m3 0h0m1-2h0m3 35h0m8-36h0m1 35h0m2-35h0m1 34h0m1-1h0m2 1h0m0 1h0m3-2h0m1 0h0m4 1h0m1-33h0m1 33h0m1-33h0m1-1h0m0 33h0m1 1h0m6-37h0m1 36h0m2-34h0m2 0h0m1-2h0m0 34h0m2-33h0m6 33h0m2-2h0m2 1h0m0 1h0m1-2h0m5-31h0m1 31h0m2-34h0m2 2h0m0 33h0m3-36h0m0 2h0m0 1h0m3 33h0m1-1h0m4-34h0m3 34h0m1-35h0m1-1h0m3 1h0m1-1h0m2-1h0m1 1h0m4 35h0m1-35h0m2-1h0m0 35h0m3-35h0m1 0h0m2 1h0m3 0h0m5 0h0m0 32h0m3-1h0m3-33h0m1-2h0m2 1h0m3 2h0m0 30h0m1-32h0m2 1h0m0 30h0m3 1h0m2 0h0m0 1h0m1-32h0m1-2h0m0 34h0m1-2h0m3-2h0m0 1h0m1 0h0m4-34h0m4 1h0m0 34h0m2-33h0m0 31h0m1-32h0m0 1h0m1 31h0m0 1h0m3-35h0m4 33h0m1-1h0m1-31h0m0 32h0m3 1h0m2 0h0m4-3h0m0 1h0m1 0h0m2 1h0m1-34h0m0 31h0m1 3h0m3-3h0m0 2h0m6-35h0m0 33h0m1-1h0m3-30h0m0 30h0m0 3h0m1-2h0m1-34h0m0 33h0m2 2h0m1-2h0m0 1h0m1 1h0m3-36h0m0 2h0m1 33h0m5-33h0m2 30h0m1-32h0m1-1h0m0 32h0m0 3h0m1-36h0m1 33h0m3-32h0m4 0h0m1 0h0m0 32h0m4-33h0m1 2h0m0 30h0m2-1h0m0 2h0m2 0h0m1 0h0m2 0h0m4-33h0m0 33h0m1-3h0m2 1h0m2-34h0m2 33h0m1-32h0m2 1h0m0 31h0m0 1h0m1-32h0m1-2h0m2 0h0m0 33h0m4-2h0m1-31h0m0 31h0m1 1h0m3-33h0m2-2h0m1 0h0m1 3h0m1-2h0m0 32h0m1-33h0m0 2h0m1-1h0m0 32h0m2-32h0m1-1h0m3 0h0m6 33h0m1-2h0m2 2h0m6-1h0m1-34h0m1 0h0m3-2h0m4 32h0m0 2h0m5-34h0m0 33h0m0 1h0m2-2h0m0 2h0m1-35h0m1 34h0m2-33h0m0 1h0m1 33h0m1-33h0m3-2h0m1 32h0m3-33h0m0 2h0m1-1h0m2 0h0m1-1h0m1 1h0m0 1h0m0 31h0m2 0h0m2-1h0m1 0h0m6-1h0m7 0h0m2 0h0m7-36h0m1 33h0m1-33h0m2 3h0m0 31h0m2-2h0m0 3h0m6-36h0m2 1h0m2 34h0m1-34h0m0 33h0m1-32h0m1-2h0m3 0h0m0 31h0m1 1h0m12-33h0m2 1h0m1 32h0m2-32h0m0 30h0m1-32h0m0 34h0m2-1h0m4-33h0m0 33h0m4-34h0m0 34h0m3-32h0m4-3h0m5 31h0m3-31h0m0 1h0m3-2h0m0 33h0m1-31h0m1-1h0m0 31h0m0 1h0m2-1h0m1-31h0m8-1h0m1 31h0m1-32h0m1 2h0m0 30h0m1-32h0m0 34h0m2-35h0m1 34h0m2-33h0m0 32h0m4-32h0m0 33h0m2-32h0m1-2h0m6 30h0m0 2h0m1-34h0m2 0h0m2 32h0m1 1h0m2-33h0m1 0h0m3-3h0m0 36h0m4-37h0m5-3h0m1 46h0m0 1h0m2 1h0m2 1h0m1 3h0m1-60h0m0 58h0m0 3h0m1-61h0m1 0h0m0 61h0m1 0h0m3-64h0m9 24h0m1 21h0m1-22h0m0 51h0m1-84h0m0 34h0m0 50h0m2-50h0m1 52h0m1-27h0m2-60h0m0 59h0m0 2h0m0 28h0m1-58h0m1 58h0m1-57h0m3-1h0m0 32h0m0 1h0m1-34h0m2-36h0m1 100h0m1-101h0m0 2h0m1 101h0m1-102h0m1-1h0m0 104h0m1-106h0m0 103h0m1-67h0m0 1h0m1 40h0m1-41h0m2-1h0m0 1h0m0 1h0m1 40h0m1 2h0m0 27h0m1-109h0m0 36h0m1 73h0m1-28h0m1 1h0m0 28h0m1-110h0m0 112h0m1-76h0m0 77h0m1-28h0m1-87h0m1 88h0m1 0h0m0 27h0m1-114h0m1-2h0m0 35h0m2 2h0m0 79h0m2 4h0m2-31h0m1-54h0m1-37h0m2-2h0m0 2h0m0 93h0m1 3h0m0 26h0m2-89h0m0 62h0m1 29h0m2-91h0m2-36h0m1 35h0m2 94h0m1-131h0m1 3h0m0 102h0m1 0h0m1-106h0m0 106h0m1-105h0m0 35h0m0 99h0m1-135h0m0 37h0m0 96h0m1-28h0m2-104h0m0 105h0m0 30h0m1-2h0m1-25h0m2-72h0m2 73h0m2-111h0m1 112h0m1-113h0m1 38h0m1 103h0m0 2h0m1-1h0m1-142h0m2 37h0m0 79h0m1-117h0m0 37h0m0 106h0m1-106h0m0 106h0m1-106h0m0 79h0m1-80h0m1 81h0m2-116h0m0 34h0m0 84h0m0 26h0m1 3h0m1-30h0m1 31h0m1-30h0m1-85h0m0 88h0m1-126h0m0 36h0m2-36h0m1 1h0m0 125h0m0 27h0m1-118h0m1-36h0m1 35h0m0 121h0m1-155h0m0 37h0m0 93h0m1-130h0m0 1h0m3 157h0m1 0h0m1-159h0m0 158h0m1-123h0m1 124h0m1-125h0m1 1h0m1-37h0m0 139h0m1-1h0m1-139h0m1 140h0m1-141h0m0 2h0m0 141h0m0 24h0m2-169h0m0 3h0m1 141h0m0 24h0m1 0h0m0 3h0m1 0h0m1-25h0m1 26h0m1-27h0m2 2h0m1-148h0m0 2h0m1 145h0m0 4h0m0 20h0m1-133h0m1-1h0m2-87h0m0 31h0m0 3h0m0 6h0m0 2h0m0 16h0m0 3h0m0 79h0m0 39h0m0 3h0m0 13h0m1-192h0m0 18h0m0 5h0m0 2h0m0 5h0m0 13h0m0 5h0m0 4h0m0 84h0m0 3h0m0 5h0m0 15h0m0 29h0m0 10h0m0 2h0m1-191h0m0 9h0m0 11h0m0 10h0m0 106h0m0 4h0m0 6h0m0 1h0m0 7h0m0 1h0m0 4h0m0 2h0m0 13h0m0 1h0m0 16h0m1-201h0m0 17h0m0 3h0m0 1h0m0 19h0m0 7h0m0 15h0m0 73h0m0 15h0m0 19h0m0 5h0m0 2h0m0 3h0m0 9h0m0 21h0m0 7h0m1-204h0m0 8h0m0 5h0m0 18h0m0 10h0m0 12h0m0 74h0m0 2h0m0 3h0m0 10h0m0 28h0m0 3h0m0 26h0m0 2h0m1-216h0m0 11h0m0 41h0m0 9h0m0 79h0m0 3h0m0 11h0m0 32h0m0 11h0m0 3h0m0 1h0m1-197h0m0 7h0m0 35h0m0 6h0m0 5h0m0 8h0m0 80h0m0 5h0m0 4h0m0 5h0m0 5h0m0 9h0m0 3h0m0 19h0m0 2h0m1-189h0m0 5h0m0 1h0m0 5h0m0 5h0m0 24h0m0 7h0m0 9h0m0 1h0m0 89h0m0 5h0m0 1h0m0 7h0m0 2h0m0 15h0m0 2h0m0 1h0m0 8h0m0 26h0m0 2h0m1-191h0m0 2h0m0 17h0m0 99h0m0 2h0m0 6h0m0 36h0m0 2h0m0 4h0m1-190h0m0 25h0m0 3h0m0 4h0m0 2h0m0 12h0m0 2h0m0 6h0m0 3h0m0 80h0m0 1h0m0 1h0m0 3h0m0 17h0m0 1h0m0 5h0m0 11h0m0 11h0m0 8h0m0 1h0m0 10h0m1-215h0m0 1h0m0 1h0m0 18h0m0 24h0m0 7h0m0 10h0m0 7h0m0 77h0m0 9h0m0 4h0m0 6h0m0 5h0m0 24h0m0 2h0m0 10h0m0 1h0m1-182h0m0 17h0m0 1h0m0 3h0m0 1h0m0 18h0m0 82h0m0 8h0m0 5h0m0 29h0m0 5h0m0 8h0m0 10h0m0 7h0m1-219h0m0 3h0m0 18h0m0 3h0m0 127h0m0 14h0m0 10h0m0 4h0m0 10h0m1-189h0m0 7h0m0 16h0m0 23h0m0 10h0m0 84h0m0 41h0m0 1h0m0 10h0m0 24h0m1-217h0m0 9h0m0 47h0m0 12h0m0 71h0m0 5h0m0 4h0m0 10h0m0 5h0m0 3h0m0 1h0m0 29h0m0 7h0m0 17h0m1-214h0m0 5h0m0 5h0m0 18h0m0 4h0m0 6h0m0 1h0m0 17h0m0 76h0m0 9h0m0 6h0m0 1h0m0 9h0m0 4h0m0 2h0m0 1h0m0 2h0m0 23h0m0 20h0m0 3h0m1-219h0m0 5h0m0 1h0m0 9h0m0 3h0m0 1h0m0 2h0m0 3h0m0 22h0m0 12h0m0 13h0m0 74h0m0 33h0m0 3h0m0 1h0m0 18h0m0 12h0m0 11h0m1-223h0m0 2h0m0 1h0m0 13h0m0 6h0m0 7h0m0 1h0m0 1h0m0 26h0m0 92h0m0 54h0m0 6h0m0 11h0m1-219h0m0 3h0m0 8h0m0 36h0m0 7h0m0 17h0m0 91h0m0 3h0m0 8h0m0 37h0m0 2h0m0 5h0m0 7h0m1-227h0m0 1h0m0 7h0m0 8h0m0 6h0m0 15h0m0 1h0m0 20h0m0 2h0m0 10h0m0 73h0m0 11h0m0 17h0m0 10h0m0 32h0m0 4h0m0 5h0m1-197h0m0 5h0m0 17h0m0 6h0m0 92h0m0 3h0m0 10h0m0 25h0m0 20h0m0 6h0m0 1h0m0 3h0m1-194h0m0 6h0m0 9h0m0 3h0m0 14h0m0 15h0m0 3h0m0 2h0m0 89h0m0 1h0m0 20h0m0 30h0m0 15h0m1-214h0m0 18h0m0 39h0m0 74h0m0 4h0m0 23h0m0 4h0m0 38h0m1-202h0m0 3h0m0 9h0m0 11h0m0 22h0m0 2h0m0 4h0m0 93h0m0 25h0m0 18h0m0 14h0m1-168h0m0 10h0m0 2h0m0 91h0m0 6h0m0 6h0m0 9h0m0 1h0m0 17h0m0 6h0m0 2h0m0 2h0m0 8h0m0 1h0m0 10h0m0 7h0m1-209h0m0 32h0m0 28h0m0 75h0m0 18h0m0 16h0m1-173h0m0 1h0m0 12h0m0 52h0m0 70h0m0 10h0m0 9h0m0 14h0m0 12h0m0 7h0m0 13h0m1-201h0m0 19h0m0 1h0m0 36h0m0 77h0m0 3h0m0 20h0m0 16h0m0 19h0m0 1h0m0 6h0m0 16h0m1-196h0m0 4h0m0 5h0m0 4h0m0 7h0m0 11h0m0 3h0m0 9h0m0 81h0m0 3h0m0 8h0m0 9h0m0 25h0m0 10h0m0 12h0m0 2h0m1-213h0m0 29h0m0 3h0m0 5h0m0 2h0m0 20h0m0 80h0m0 6h0m0 2h0m0 8h0m0 2h0m0 1h0m0 53h0m1-208h0m0 6h0m0 9h0m0 16h0m0 8h0m0 3h0m0 4h0m0 17h0m0 4h0m0 73h0m0 18h0m0 4h0m0 18h0m0 7h0m0 1h0m0 8h0m0 18h0m1-222h0m0 8h0m0 11h0m0 10h0m0 9h0m0 9h0m0 2h0m0 3h0m0 2h0m0 5h0m0 100h0m0 10h0m0 5h0m0 6h0m0 3h0m0 15h0m0 5h0m0 18h0m1-201h0m0 15h0m0 6h0m0 98h0m0 2h0m0 8h0m0 15h0m0 6h0m0 23h0m0 8h0m0 11h0m0 8h0m1-210h0m0 15h0m0 1h0m0 4h0m0 3h0m0 2h0m0 18h0m0 10h0m0 13h0m0 74h0m0 4h0m0 19h0m0 4h0m0 4h0m0 7h0m0 6h0m0 23h0m0 7h0m1-220h0m0 2h0m0 9h0m0 2h0m0 1h0m0 4h0m0 16h0m0 5h0m0 7h0m0 17h0m0 4h0m0 5h0m0 77h0m0 4h0m0 14h0m0 7h0m0 12h0m0 4h0m0 15h0m0 5h0m0 2h0m0 9h0m1-224h0m0 3h0m0 5h0m0 4h0m0 3h0m0 24h0m0 9h0m0 89h0m0 7h0m0 6h0m0 30h0m0 9h0m0 2h0m0 9h0m0 14h0m0 8h0m1-218h0m0 1h0m0 1h0m0 1h0m0 40h0m0 14h0m0 8h0m0 86h0m0 6h0m0 3h0m0 1h0m0 47h0m0 8h0m0 1h0m0 1h0m1-209h0m0 10h0m0 11h0m0 6h0m0 4h0m0 2h0m0 14h0m0 1h0m0 1h0m0 3h0m0 9h0m0 81h0m0 11h0m0 2h0m0 6h0m0 2h0m0 22h0m0 6h0m0 6h0m0 11h0m1-210h0m0 13h0m0 3h0m0 7h0m0 6h0m0 18h0m0 6h0m0 3h0m0 67h0m0 4h0m0 27h0m0 11h0m0 10h0m0 4h0m0 8h0m0 8h0m0 11h0m1-214h0m0 25h0m0 4h0m0 14h0m0 8h0m0 7h0m0 80h0m0 10h0m0 14h0m0 15h0m0 1h0m0 1h0m0 1h0m0 12h0m0 11h0m1-205h0m0 7h0m0 6h0m0 3h0m0 27h0m0 16h0m0 76h0m0 4h0m0 8h0m0 3h0m0 15h0m0 22h0m0 10h0m0 21h0m1-221h0m0 3h0m0 3h0m0 9h0m0 2h0m0 8h0m0 3h0m0 2h0m0 5h0m0 4h0m0 1h0m0 5h0m0 27h0m0 102h0m0 5h0m0 23h0m1-205h0m0 5h0m0 3h0m0 5h0m0 5h0m0 6h0m0 6h0m0 14h0m0 8h0m0 1h0m0 23h0m0 1h0m0 98h0m0 9h0m0 5h0m0 9h0m0 20h0m0 6h0m1-224h0m0 10h0m0 11h0m0 1h0m0 14h0m0 28h0m0 11h0m0 85h0m0 13h0m0 2h0m1-172h0m0 3h0m0 9h0m0 34h0m0 6h0m0 15h0m0 1h0m0 5h0m0 4h0m0 63h0m0 11h0m0 9h0m0 1h0m0 13h0m0 8h0m0 14h0m0 7h0m0 3h0m1-202h0m0 4h0m0 4h0m0 1h0m0 3h0m0 9h0m0 4h0m0 11h0m0 1h0m0 16h0m0 9h0m0 83h0m0 2h0m0 22h0m0 1h0m0 24h0m0 26h0m1-226h0m0 1h0m0 5h0m0 2h0m0 1h0m0 1h0m0 2h0m0 6h0m0 4h0m0 3h0m0 8h0m0 32h0m0 8h0m0 3h0m0 63h0m0 6h0m0 22h0m0 4h0m0 2h0m0 1h0m0 11h0m0 2h0m0 36h0m0 4h0m1-226h0m0 16h0m0 5h0m0 7h0m0 11h0m0 1h0m0 15h0m0 17h0m0 63h0m0 13h0m0 17h0m0 8h0m0 5h0m0 14h0m0 8h0m0 13h0m1-202h0m0 33h0m0 28h0m0 77h0m0 1h0m0 2h0m0 18h0m0 16h0m0 4h0m0 30h0m1-223h0m0 1h0m0 6h0m0 45h0m0 8h0m0 15h0m0 66h0m0 3h0m0 7h0m0 55h0m0 1h0m0 18h0m1-225h0m0 21h0m0 35h0m0 2h0m0 18h0m0 3h0m0 72h0m0 1h0m0 12h0m0 6h0m0 7h0m0 18h0m0 19h0m0 7h0m1-201h0m0 6h0m0 9h0m0 16h0m0 2h0m0 1h0m0 16h0m0 68h0m0 4h0m0 7h0m0 3h0m0 4h0m0 8h0m0 12h0m0 1h0m0 1h0m0 7h0m0 31h0m0 5h0m0 5h0m1-220h0m0 12h0m0 16h0m0 4h0m0 3h0m0 7h0m0 9h0m0 84h0m0 15h0m0 19h0m0 16h0m0 1h0m0 17h0m0 3h0m0 6h0m1-219h0m0 16h0m0 20h0m0 8h0m0 23h0m0 5h0m0 7h0m0 1h0m0 75h0m0 1h0m0 1h0m0 6h0m0 29h0m0 20h0m0 13h0m0 1h0m1-223h0m0 14h0m0 1h0m0 140h0m0 2h0m0 7h0m0 17h0m0 14h0m0 5h0m1-201h0m0 1h0m0 5h0m0 25h0m0 10h0m0 4h0m0 3h0m0 9h0m0 1h0m0 15h0m0 72h0m0 2h0m0 3h0m0 22h0m0 1h0m0 15h0m1-188h0m0 18h0m0 10h0m0 14h0m0 1h0m0 9h0m0 6h0m0 6h0m0 14h0m0 58h0m0 2h0m0 4h0m0 7h0m0 4h0m0 4h0m0 30h0m0 23h0m0 2h0m0 2h0m1-215h0m0 24h0m0 3h0m0 15h0m0 28h0m0 7h0m0 84h0m0 5h0m0 16h0m0 7h0m0 20h0m0 2h0m0 16h0m1-214h0m0 10h0m0 2h0m0 50h0m0 1h0m0 61h0m0 8h0m0 2h0m0 9h0m0 18h0m0 7h0m0 7h0m0 13h0m0 2h0m0 6h0m0 3h0m1-203h0m0 4h0m0 46h0m0 18h0m0 67h0m0 2h0m0 8h0m0 10h0m0 3h0m0 31h0m0 20h0m1-219h0m0 16h0m0 19h0m0 9h0m0 1h0m0 1h0m0 96h0m0 18h0m0 1h0m0 6h0m0 1h0m0 8h0m0 18h0m0 9h0m0 5h0m0 6h0m1-207h0m0 3h0m0 2h0m0 24h0m0 108h0m0 7h0m0 13h0m0 1h0m0 11h0m0 8h0m0 14h0m0 10h0m1-194h0m0 5h0m0 5h0m0 12h0m0 12h0m0 4h0m0 25h0m0 57h0m0 28h0m0 7h0m0 14h0m0 4h0m0 11h0m1-191h0m0 17h0m0 2h0m0 21h0m0 19h0m0 3h0m0 8h0m0 63h0m0 7h0m0 31h0m0 3h0m0 7h0m0 27h0m0 10h0m0 2h0m1-205h0m0 1h0m0 13h0m0 20h0m0 1h0m0 2h0m0 5h0m0 7h0m0 66h0m0 35h0m0 13h0m0 8h0m0 15h0m1-204h0m0 2h0m0 9h0m0 23h0m0 9h0m0 4h0m0 4h0m0 13h0m0 8h0m0 65h0m0 29h0m0 3h0m0 7h0m0 2h0m0 5h0m0 5h0m0 3h0m0 8h0m0 9h0m0 1h0m0 3h0m0 2h0m1-217h0m0 3h0m0 18h0m0 7h0m0 1h0m0 17h0m0 17h0m0 79h0m0 1h0m0 17h0m0 20h0m0 6h0m0 30h0m1-205h0m0 16h0m0 4h0m0 12h0m0 2h0m0 8h0m0 3h0m0 1h0m0 10h0m0 74h0m0 17h0m0 18h0m0 5h0m0 7h0m0 8h0m0 8h0m0 2h0m0 1h0m0 1h0m0 5h0m1-206h0m0 7h0m0 1h0m0 21h0m0 22h0m0 14h0m0 3h0m0 2h0m0 57h0m0 12h0m0 26h0m0 11h0m0 1h0m0 1h0m0 29h0m0 1h0m0 8h0m1-198h0m0 4h0m0 4h0m0 4h0m0 10h0m0 8h0m0 6h0m0 2h0m0 8h0m0 6h0m0 64h0m0 6h0m0 2h0m0 8h0m0 17h0m0 4h0m0 8h0m0 8h0m0 7h0m0 1h0m0 2h0m0 5h0m0 4h0m0 4h0m0 11h0m1-226h0m0 2h0m0 12h0m0 4h0m0 5h0m0 16h0m0 14h0m0 5h0m0 10h0m0 2h0m0 7h0m0 75h0m0 2h0m0 6h0m0 24h0m0 12h0m0 1h0m0 17h0m1-177h0m0 6h0m0 13h0m0 7h0m0 4h0m0 99h0m0 15h0m0 1h0m0 12h0m0 24h0m1-224h0m0 6h0m0 9h0m0 1h0m0 11h0m0 3h0m0 3h0m0 1h0m0 6h0m0 10h0m0 5h0m0 1h0m0 6h0m0 2h0m0 5h0m0 9h0m0 64h0m0 2h0m0 3h0m0 15h0m0 4h0m0 13h0m0 4h0m0 9h0m0 17h0m0 10h0m0 10h0m0 4h0m1-208h0m0 2h0m0 8h0m0 7h0m0 2h0m0 10h0m0 19h0m0 66h0m0 3h0m0 20h0m0 5h0m0 8h0m0 29h0m0 16h0m0 5h0m0 8h0m1-230h0m0 11h0m0 9h0m0 16h0m0 16h0m0 6h0m0 83h0m0 20h0m0 6h0m0 4h0m0 4h0m0 18h0m0 5h0m0 6h0m0 8h0m0 3h0m0 3h0m0 8h0m1-226h0m0 9h0m0 1h0m0 21h0m0 9h0m0 16h0m0 7h0m0 7h0m0 1h0m0 59h0m0 20h0m0 43h0m0 3h0m0 5h0m0 4h0m0 14h0m0 7h0m0 4h0m1-234h0m0 3h0m0 1h0m0 9h0m0 8h0m0 23h0m0 6h0m0 5h0m0 4h0m0 119h0m0 7h0m0 17h0m0 11h0m0 7h0m0 8h0m0 3h0m1-228h0m0 10h0m0 59h0m0 76h0m0 13h0m0 14h0m0 19h0m0 18h0m0 21h0m1-216h0m0 19h0m0 13h0m0 2h0m0 24h0m0 5h0m0 72h0m0 1h0m0 1h0m0 4h0m0 1h0m0 1h0m0 7h0m0 7h0m0 11h0m0 4h0m1-177h0m0 3h0m0 9h0m0 21h0m0 5h0m0 8h0m0 7h0m0 92h0m0 17h0m0 15h0m0 31h0m0 2h0m1-209h0m0 26h0m0 9h0m0 27h0m0 2h0m0 2h0m0 74h0m0 3h0m0 22h0m0 18h0m0 12h0m0 15h0m0 4h0m0 7h0m1-213h0m0 8h0m0 1h0m0 2h0m0 2h0m0 1h0m0 15h0m0 13h0m0 5h0m0 9h0m0 55h0m0 71h0m0 8h0m0 22h0m1-232h0m0 2h0m0 24h0m0 1h0m0 16h0m0 19h0m0 14h0m0 1h0m0 1h0m0 58h0m0 20h0m0 2h0m0 3h0m0 4h0m0 16h0m0 3h0m0 1h0m0 11h0m0 12h0m0 9h0m0 1h0m0 12h0m1-231h0m0 2h0m0 2h0m0 11h0m0 15h0m0 10h0m0 4h0m0 19h0m0 13h0m0 4h0m0 62h0m0 12h0m0 4h0m0 2h0m0 1h0m0 22h0m0 19h0m0 16h0m0 3h0m0 3h0m0 3h0m1-193h0m0 1h0m0 10h0m0 18h0m0 14h0m0 56h0m0 12h0m0 8h0m0 6h0m0 27h0m0 25h0m0 5h0m0 6h0m0 9h0m1-221h0m0 18h0m0 39h0m0 9h0m0 56h0m0 29h0m0 2h0m0 53h0m1-215h0m0 19h0m0 19h0m0 7h0m0 14h0m0 9h0m0 2h0m0 66h0m0 13h0m0 17h0m0 16h0m0 3h0m0 13h0m1-180h0m0 3h0m0 28h0m0 9h0m0 75h0m0 3h0m0 19h0m0 11h0m0 27h0m0 14h0m0 6h0m0 13h0m1-224h0m0 13h0m0 2h0m0 4h0m0 3h0m0 7h0m0 11h0m0 17h0m0 9h0m0 4h0m0 58h0m0 4h0m0 13h0m0 11h0m0 4h0m0 6h0m0 6h0m0 13h0m0 5h0m0 2h0m0 4h0m1-201h0m0 2h0m0 10h0m0 8h0m0 58h0m0 1h0m0 2h0m0 49h0m0 16h0m0 8h0m0 12h0m0 5h0m0 1h0m0 3h0m0 13h0m0 24h0m0 7h0m0 1h0m0 1h0m0 18h0m1-231h0m0 1h0m0 3h0m0 22h0m0 41h0m0 4h0m0 53h0m0 7h0m0 4h0m0 4h0m0 59h0m0 22h0m1-207h0m0 19h0m0 16h0m0 1h0m0 17h0m0 58h0m0 6h0m0 6h0m0 7h0m0 3h0m0 63h0m0 10h0m1-226h0m0 9h0m0 4h0m0 3h0m0 23h0m0 14h0m0 16h0m0 9h0m0 54h0m0 17h0m0 7h0m0 3h0m0 42h0m0 15h0m0 5h0m1-193h0m0 2h0m0 29h0m0 4h0m0 69h0m0 1h0m0 9h0m0 3h0m0 1h0m0 1h0m0 5h0m0 47h0m1-200h0m0 7h0m0 3h0m0 15h0m0 1h0m0 4h0m0 4h0m0 19h0m0 7h0m0 9h0m0 3h0m0 61h0m0 6h0m0 10h0m0 2h0m0 2h0m0 8h0m0 2h0m0 68h0m1-229h0m0 11h0m0 11h0m0 3h0m0 8h0m0 25h0m0 2h0m0 9h0m0 62h0m0 6h0m0 19h0m0 7h0m0 43h0m0 28h0m1-223h0m0 40h0m0 1h0m0 2h0m0 6h0m0 5h0m0 67h0m0 5h0m0 8h0m0 2h0m0 17h0m0 1h0m0 33h0m1-186h0m0 35h0m0 17h0m0 2h0m0 4h0m0 72h0m0 7h0m0 3h0m0 48h0m0 17h0m0 4h0m1-220h0m0 9h0m0 66h0m0 1h0m0 65h0m0 7h0m0 2h0m0 2h0m0 5h0m0 6h0m0 32h0m0 10h0m0 3h0m1-202h0m0 2h0m0 7h0m0 24h0m0 15h0m0 10h0m0 66h0m0 25h0m0 6h0m0 42h0m0 27h0m1-224h0m0 6h0m0 39h0m0 1h0m0 16h0m0 7h0m0 62h0m0 3h0m0 2h0m0 3h0m0 8h0m0 7h0m0 41h0m0 6h0m0 14h0m1-223h0m0 8h0m0 9h0m0 2h0m0 22h0m0 2h0m0 5h0m0 9h0m0 9h0m0 6h0m0 4h0m0 63h0m0 6h0m0 6h0m0 1h0m0 8h0m0 49h0m0 21h0m0 2h0m1-230h0m0 34h0m0 25h0m0 1h0m0 74h0m0 3h0m0 15h0m0 3h0m0 1h0m0 52h0m0 6h0m0 1h0m0 4h0m1-223h0m0 1h0m0 1h0m0 7h0m0 5h0m0 12h0m0 4h0m0 8h0m0 2h0m0 17h0m0 5h0m0 5h0m0 4h0m0 70h0m0 5h0m0 12h0m0 7h0m0 1h0m0 40h0m0 2h0m0 1h0m0 5h0m0 3h0m1-218h0m0 2h0m0 6h0m0 12h0m0 3h0m0 4h0m0 8h0m0 3h0m0 6h0m0 7h0m0 21h0m0 66h0m0 6h0m0 2h0m0 22h0m0 37h0m1-205h0m0 25h0m0 36h0m0 1h0m0 15h0m0 57h0m0 4h0m0 1h0m0 5h0m0 3h0m0 2h0m0 5h0m0 1h0m0 8h0m0 72h0m1-221h0m0 5h0m0 8h0m0 1h0m0 9h0m0 17h0m0 1h0m0 7h0m0 3h0m0 14h0m0 58h0m0 14h0m0 11h0m0 3h0m0 2h0m1-164h0m0 4h0m0 6h0m0 4h0m0 2h0m0 4h0m0 1h0m0 1h0m0 1h0m0 2h0m0 21h0m0 13h0m0 7h0m0 63h0m0 6h0m0 1h0m0 4h0m0 8h0m0 1h0m0 7h0m0 6h0m1-152h0m0 33h0m0 17h0m0 72h0m0 2h0m0 2h0m0 9h0m0 7h0m0 54h0m0 4h0m1-206h0m0 14h0m0 16h0m0 8h0m0 2h0m0 1h0m0 7h0m0 15h0m0 89h0m0 53h0m0 4h0m0 3h0m1-196h0m0 13h0m0 11h0m0 13h0m0 16h0m0 56h0m0 14h0m0 10h0m0 6h0m0 45h0m0 21h0m1-222h0m0 4h0m0 3h0m0 9h0m0 10h0m0 20h0m0 1h0m0 85h0m0 3h0m0 9h0m0 17h0m0 52h0m0 13h0m1-226h0m0 9h0m0 4h0m0 17h0m0 12h0m0 1h0m0 7h0m0 25h0m0 53h0m0 87h0m1-217h0m0 5h0m0 2h0m0 2h0m0 51h0m0 8h0m0 7h0m0 66h0m0 1h0m0 18h0m0 40h0m0 8h0m1-205h0m0 27h0m0 14h0m0 11h0m0 6h0m0 2h0m0 5h0m0 1h0m0 4h0m0 57h0m0 8h0m0 3h0m0 5h0m0 12h0m0 47h0m0 3h0m1-212h0m0 18h0m0 26h0m0 1h0m0 5h0m0 4h0m0 18h0m0 2h0m0 6h0m0 51h0m0 5h0m0 17h0m0 2h0m0 9h0m0 45h0m0 2h0m1-210h0m0 2h0m0 46h0m0 5h0m0 14h0m0 69h0m0 10h0m0 1h0m0 6h0m0 3h0m0 5h0m0 1h0m0 40h0m0 3h0m0 3h0m0 12h0m0 6h0m1-228h0m0 20h0m0 12h0m0 21h0m0 8h0m0 1h0m0 14h0m0 5h0m0 61h0m0 11h0m0 5h0m0 5h0m0 4h0m0 35h0m0 9h0m0 12h0m0 6h0m1-228h0m0 4h0m0 1h0m0 4h0m0 3h0m0 11h0m0 28h0m0 8h0m0 76h0m0 10h0m0 3h0m0 3h0m0 6h0m0 6h0m0 44h0m0 1h0m1-204h0m0 10h0m0 2h0m0 42h0m0 79h0m0 3h0m0 7h0m0 6h0m0 5h0m0 2h0m0 53h0m1-214h0m0 49h0m0 11h0m0 6h0m0 7h0m0 3h0m0 82h0m0 3h0m0 5h0m0 39h0m0 6h0m0 8h0m0 9h0m1-218h0m0 8h0m0 4h0m0 4h0m0 4h0m0 1h0m0 17h0m0 11h0m0 11h0m0 78h0m0 11h0m1-161h0m0 9h0m0 5h0m0 39h0m0 1h0m0 12h0m0 12h0m0 1h0m0 58h0m0 5h0m0 3h0m0 7h0m0 2h0m0 1h0m0 1h0m0 10h0m0 51h0m0 1h0m1-212h0m0 7h0m0 12h0m0 5h0m0 1h0m0 50h0m0 57h0m0 22h0m0 1h0m0 4h0m0 65h0m1-190h0m0 16h0m0 1h0m0 13h0m0 2h0m0 4h0m0 5h0m0 68h0m0 2h0m0 53h0m1-189h0m0 2h0m0 36h0m0 7h0m0 6h0m0 7h0m0 76h0m0 1h0m0 15h0m0 45h0m0 1h0m1-160h0m0 12h0m0 9h0m0 62h0m0 7h0m0 1h0m0 4h0m0 2h0m0 8h0m0 8h0m0 2h0m1-135h0m0 21h0m0 7h0m0 9h0m0 4h0m0 7h0m0 57h0m0 15h0m0 1h0m0 10h0m0 1h0m0 3h0m0 59h0m1-221h0m0 16h0m0 2h0m0 36h0m0 7h0m0 75h0m0 9h0m0 18h0m0 57h0m1-216h0m0 1h0m0 47h0m0 12h0m0 10h0m0 59h0m0 1h0m0 7h0m0 4h0m0 18h0m0 45h0m1-207h0m0 3h0m0 11h0m0 8h0m0 21h0m0 18h0m0 2h0m0 8h0m0 63h0m0 6h0m0 2h0m0 11h0m0 8h0m0 50h0m0 11h0m1-227h0m0 5h0m0 6h0m0 6h0m0 15h0m0 28h0m0 7h0m0 70h0m0 1h0m0 3h0m0 1h0m0 2h0m0 1h0m0 10h0m0 9h0m0 40h0m0 2h0m0 14h0m1-210h0m0 55h0m0 82h0m0 5h0m0 3h0m0 3h0m0 1h0m0 43h0m0 1h0m1-202h0m0 9h0m0 8h0m0 3h0m0 11h0m0 1h0m0 48h0m0 59h0m0 1h0m0 15h0m0 8h0m0 41h0m0 3h0m0 7h0m0 1h0m1-167h0m0 20h0m0 9h0m0 1h0m0 67h0m0 9h0m0 4h0m1-145h0m0 8h0m0 32h0m0 17h0m0 3h0m0 62h0m0 2h0m0 6h0m0 1h0m0 6h0m0 5h0m0 5h0m0 45h0m0 15h0m1-217h0m0 46h0m0 2h0m0 18h0m0 82h0m0 10h0m0 40h0m0 6h0m0 1h0m1-213h0m0 4h0m0 11h0m0 11h0m0 2h0m0 9h0m0 1h0m0 23h0m0 18h0m0 58h0m0 11h0m0 18h0m0 2h0m0 37h0m0 17h0m0 2h0m1-201h0m0 2h0m0 3h0m0 31h0m0 1h0m0 3h0m0 9h0m0 2h0m0 5h0m0 1h0m0 60h0m0 11h0m0 1h0m0 1h0m0 15h0m0 32h0m0 8h0m0 3h0m1-204h0m0 2h0m0 10h0m0 2h0m0 4h0m0 29h0m0 14h0m0 75h0m0 17h0m0 7h0m0 33h0m0 9h0m0 2h0m0 10h0m0 1h0m1-212h0m0 6h0m0 39h0m0 11h0m0 3h0m0 8h0m0 67h0m0 5h0m0 1h0m0 1h0m0 5h0m0 14h0m0 30h0m0 12h0m0 5h0m0 6h0m0 2h0m1-218h0m0 2h0m0 16h0m0 2h0m0 1h0m0 1h0m0 25h0m0 14h0m0 4h0m0 3h0m0 65h0m0 2h0m0 8h0m0 1h0m0 8h0m0 1h0m0 8h0m0 33h0m1-192h0m0 6h0m0 14h0m0 8h0m0 29h0m0 3h0m0 1h0m0 3h0m0 64h0m0 3h0m0 1h0m0 8h0m0 2h0m0 3h0m0 9h0m0 34h0m0 14h0m0 9h0m1-213h0m0 8h0m0 22h0m0 19h0m0 5h0m0 5h0m0 13h0m0 67h0m0 62h0m0 6h0m1-194h0m0 45h0m0 2h0m0 2h0m0 1h0m0 5h0m0 5h0m0 67h0m0 20h0m0 3h0m0 27h0m0 19h0m1-212h0m0 7h0m0 2h0m0 22h0m0 107h0m0 5h0m0 5h0m0 5h0m0 7h0m0 33h0m0 3h0m0 1h0m0 1h0m0 4h0m0 14h0m1-213h0m0 17h0m0 7h0m0 9h0m0 21h0m0 89h0m0 12h0m0 44h0m0 4h0m1-199h0m0 3h0m0 3h0m0 7h0m0 3h0m0 26h0m0 5h0m0 15h0m0 4h0m0 1h0m0 68h0m0 9h0m0 6h0m0 3h0m0 41h0m1-206h0m0 1h0m0 8h0m0 9h0m0 4h0m0 34h0m0 2h0m0 4h0m0 10h0m0 8h0m0 67h0m0 7h0m0 5h0m0 40h0m0 2h0m0 19h0m1-217h0m0 4h0m0 5h0m0 2h0m0 5h0m0 17h0m0 4h0m0 18h0m0 1h0m0 1h0m0 1h0m0 20h0m0 71h0m0 12h0m0 3h0m0 1h0m0 28h0m0 1h0m0 3h0m0 14h0m0 5h0m1-215h0m0 4h0m0 3h0m0 22h0m0 7h0m0 1h0m0 4h0m0 20h0m0 2h0m0 75h0m0 3h0m0 4h0m0 65h0m0 1h0m1-213h0m0 9h0m0 5h0m0 12h0m0 7h0m0 22h0m0 5h0m0 15h0m0 1h0m0 62h0m0 2h0m0 64h0m1-199h0m0 14h0m0 11h0m0 3h0m0 33h0m0 12h0m0 59h0m0 3h0m0 3h0m0 2h0m0 5h0m0 1h0m0 5h0m0 7h0m0 1h0m0 1h0m0 1h0m0 30h0m0 1h0m0 1h0m0 4h0m0 5h0m1-206h0m0 16h0m0 1h0m0 9h0m0 33h0m0 12h0m0 6h0m0 58h0m0 3h0m0 7h0m0 3h0m0 1h0m0 1h0m0 1h0m0 2h0m0 1h0m0 2h0m0 7h0m0 3h0m0 30h0m1-198h0m0 27h0m0 5h0m0 19h0m0 18h0m0 72h0m0 3h0m0 1h0m0 10h0m0 12h0m0 27h0m0 1h0m0 1h0m0 6h0m0 4h0m1-207h0m0 5h0m0 10h0m0 22h0m0 14h0m0 2h0m0 6h0m0 7h0m0 3h0m0 4h0m0 68h0m0 1h0m0 24h0m0 33h0m0 3h0m1-199h0m0 17h0m0 6h0m0 5h0m0 3h0m0 3h0m0 22h0m0 5h0m0 4h0m0 1h0m0 73h0m0 12h0m0 6h0m0 1h0m0 1h0m0 27h0m0 6h0m0 4h0m0 10h0m1-208h0m0 21h0m0 23h0m0 6h0m0 5h0m0 8h0m0 86h0m0 1h0m0 3h0m0 41h0m1-166h0m0 3h0m0 32h0m0 12h0m0 64h0m0 2h0m0 4h0m0 5h0m0 6h0m0 39h0m0 9h0m1-197h0m0 17h0m0 3h0m0 3h0m0 1h0m0 19h0m0 3h0m0 2h0m0 7h0m0 2h0m0 10h0m0 68h0m0 9h0m0 4h0m0 8h0m0 1h0m0 22h0m0 1h0m0 8h0m0 8h0m0 5h0m1-175h0m0 11h0m0 5h0m0 5h0m0 89h0m0 1h0m0 10h0m0 4h0m0 1h0m0 1h0m0 44h0m1-203h0m0 5h0m0 2h0m0 7h0m0 14h0m0 1h0m0 12h0m0 4h0m0 3h0m0 23h0m0 70h0m0 6h0m0 2h0m0 3h0m0 33h0m0 4h0m0 5h0m0 3h0m0 2h0m0 8h0m1-202h0m0 2h0m0 9h0m0 7h0m0 1h0m0 1h0m0 10h0m0 34h0m0 72h0m0 10h0m0 12h0m0 22h0m0 6h0m0 4h0m1-189h0m0 21h0m0 3h0m0 6h0m0 7h0m0 6h0m0 109h0m0 5h0m0 4h0m0 20h0m0 7h0m0 4h0m0 3h0m0 6h0m1-206h0m0 1h0m0 5h0m0 8h0m0 11h0m0 20h0m0 8h0m0 20h0m0 67h0m0 14h0m0 3h0m0 5h0m0 33h0m1-195h0m0 3h0m0 7h0m0 12h0m0 7h0m0 4h0m0 5h0m0 10h0m0 7h0m0 9h0m0 5h0m0 69h0m0 2h0m0 5h0m0 1h0m0 1h0m0 1h0m0 13h0m0 4h0m0 18h0m0 9h0m1-151h0m0 1h0m0 9h0m0 4h0m0 5h0m0 12h0m0 67h0m0 8h0m0 6h0m0 46h0m1-202h0m0 3h0m0 31h0m0 14h0m0 2h0m0 13h0m0 10h0m0 2h0m0 65h0m0 1h0m0 3h0m0 1h0m0 2h0m0 15h0m0 1h0m0 27h0m1-187h0m0 2h0m0 13h0m0 11h0m0 3h0m0 4h0m0 4h0m0 13h0m0 99h0m0 3h0m0 2h0m0 3h0m0 3h0m0 2h0m0 1h0m0 19h0m0 4h0m1-162h0m0 1h0m0 17h0m0 9h0m0 1h0m0 4h0m0 5h0m0 88h0m0 11h0m0 2h0m0 36h0m1-189h0m0 11h0m0 3h0m0 39h0m0 75h0m0 4h0m0 5h0m0 7h0m0 42h0m0 8h0m1-160h0m0 14h0m0 1h0m0 5h0m0 75h0m0 11h0m0 7h0m0 29h0m0 11h0m0 3h0m1-198h0m0 6h0m0 9h0m0 15h0m0 3h0m0 4h0m0 3h0m0 4h0m0 1h0m0 5h0m0 9h0m0 3h0m0 4h0m0 1h0m0 73h0m0 7h0m0 7h0m0 3h0m1-154h0m0 1h0m0 3h0m0 8h0m0 7h0m0 7h0m0 3h0m0 8h0m0 14h0m0 10h0m0 80h0m0 11h0m0 3h0m0 3h0m0 23h0m0 5h0m0 2h0m0 5h0m1-198h0m0 12h0m0 24h0m0 11h0m0 4h0m0 3h0m0 15h0m0 70h0m0 14h0m0 7h0m0 3h0m0 21h0m0 5h0m0 1h0m0 6h0m1-166h0m0 17h0m0 6h0m0 2h0m0 82h0m0 16h0m1-148h0m0 6h0m0 11h0m0 16h0m0 9h0m0 4h0m0 9h0m0 8h0m0 71h0m0 23h0m0 1h0m0 26h0m0 7h0m0 4h0m1-200h0m0 9h0m0 6h0m0 1h0m0 9h0m0 14h0m0 8h0m0 13h0m0 2h0m0 5h0m0 81h0m0 11h0m0 1h0m0 21h0m0 15h0m0 3h0m1-190h0m0 14h0m0 1h0m0 14h0m0 11h0m0 3h0m0 6h0m0 3h0m0 79h0m0 6h0m1-123h0m0 1h0m0 6h0m0 14h0m0 8h0m0 87h0m0 1h0m0 14h0m0 12h0m0 17h0m0 4h0m0 3h0m0 2h0m0 8h0m1-199h0m0 9h0m0 4h0m0 25h0m0 4h0m0 25h0m0 72h0m0 7h0m0 5h0m0 1h0m0 3h0m0 1h0m0 4h0m0 25h0m1-159h0m0 21h0m0 2h0m0 4h0m0 4h0m0 12h0m0 68h0m0 5h0m0 19h0m0 26h0m0 4h0m1-179h0m0 7h0m0 11h0m0 110h0m0 1h0m0 8h0m0 4h0m0 2h0m0 7h0m0 18h0m0 5h0m0 5h0m0 7h0m1-194h0m0 2h0m0 2h0m0 3h0m0 4h0m0 12h0m0 4h0m0 10h0m0 4h0m0 1h0m0 9h0m0 12h0m0 71h0m0 7h0m0 1h0m0 11h0m0 26h0m0 1h0m0 2h0m1-178h0m0 2h0m0 6h0m0 3h0m0 3h0m0 7h0m0 24h0m0 3h0m0 1h0m0 4h0m0 86h0m0 9h0m0 1h0m0 2h0m0 27h0m0 5h0m0 2h0m1-180h0m0 2h0m0 12h0m0 1h0m0 9h0m0 1h0m0 26h0m0 5h0m0 90h0m0 2h0m0 2h0m0 27h0m1-181h0m0 16h0m0 3h0m0 10h0m0 4h0m0 2h0m0 9h0m0 3h0m0 7h0m0 83h0m0 1h0m0 2h0m0 11h0m1-150h0m0 10h0m0 20h0m0 8h0m0 3h0m0 84h0m0 8h0m0 5h0m0 6h0m1-149h0m0 4h0m0 7h0m0 4h0m0 2h0m0 2h0m0 2h0m0 2h0m0 1h0m0 12h0m0 1h0m0 1h0m0 8h0m0 9h0m0 79h0m0 7h0m0 6h0m0 1h0m0 5h0m0 2h0m0 2h0m0 2h0m0 15h0m1-165h0m0 18h0m0 8h0m0 1h0m0 1h0m0 8h0m0 2h0m0 1h0m0 5h0m0 2h0m0 78h0m0 2h0m0 3h0m0 4h0m0 3h0m0 4h0m0 28h0m0 9h0m1-185h0m0 6h0m0 7h0m0 2h0m0 5h0m0 3h0m0 4h0m0 9h0m0 12h0m0 89h0m0 3h0m0 2h0m0 12h0m0 1h0m0 1h0m0 28h0m1-161h0m0 7h0m0 20h0m0 3h0m0 81h0m0 10h0m0 26h0m0 1h0m0 5h0m0 5h0m0 1h0m1-178h0m0 5h0m0 5h0m0 26h0m0 9h0m0 1h0m0 7h0m0 74h0m0 4h0m0 3h0m0 13h0m0 1h0m0 3h0m0 1h0m0 14h0m0 15h0m1-187h0m0 23h0m0 5h0m0 3h0m0 5h0m0 1h0m0 6h0m0 5h0m0 87h0m0 12h0m0 5h0m0 1h0m0 18h0m0 11h0m0 2h0m1-187h0m0 6h0m0 10h0m0 3h0m0 2h0m0 11h0m0 8h0m0 4h0m0 22h0m0 68h0m0 2h0m0 15h0m0 1h0m0 10h0m0 12h0m0 7h0m0 4h0m0 4h0m1-179h0m0 1h0m0 6h0m0 16h0m0 17h0m0 3h0m0 9h0m0 74h0m0 1h0m0 3h0m0 18h0m0 1h0m0 1h0m0 14h0m0 9h0m0 7h0m1-186h0m0 1h0m0 11h0m0 4h0m0 14h0m0 5h0m0 9h0m0 10h0m0 81h0m0 2h0m0 6h0m0 3h0m0 10h0m0 17h0m0 8h0m1-183h0m0 10h0m0 1h0m0 8h0m0 6h0m0 1h0m0 5h0m0 2h0m0 8h0m0 7h0m0 12h0m0 75h0m0 19h0m0 1h0m0 3h0m0 21h0m0 8h0m1-189h0m0 8h0m0 1h0m0 6h0m0 6h0m0 5h0m0 110h0m0 2h0m0 5h0m0 1h0m0 9h0m0 4h0m0 4h0m0 12h0m0 2h0m1-163h0m0 2h0m0 3h0m0 5h0m0 7h0m0 10h0m0 9h0m0 10h0m0 1h0m0 6h0m0 75h0m0 1h0m0 8h0m0 2h0m0 3h0m0 1h0m0 2h0m0 3h0m0 14h0m1-153h0m0 1h0m0 3h0m0 16h0m0 4h0m0 9h0m0 10h0m0 1h0m0 77h0m0 32h0m0 3h0m0 4h0m0 4h0m0 1h0m1-176h0m0 13h0m0 10h0m0 1h0m0 1h0m0 5h0m0 17h0m0 117h0m0 2h0m0 10h0m1-161h0m0 27h0m0 7h0m0 2h0m0 1h0m0 74h0m0 4h0m0 2h0m0 4h0m0 5h0m0 12h0m0 10h0m0 1h0m0 2h0m0 1h0m1-173h0m0 10h0m0 3h0m0 1h0m0 1h0m0 8h0m0 22h0m0 5h0m0 90h0m0 15h0m0 26h0m1-178h0m0 11h0m0 4h0m0 22h0m0 6h0m0 4h0m0 4h0m0 4h0m0 97h0m0 3h0m0 1h0m0 1h0m0 10h0m0 2h0m0 7h0m1-157h0m0 15h0m0 6h0m0 5h0m0 86h0m0 2h0m0 2h0m0 2h0m0 2h0m0 26h0m0 3h0m1-175h0m0 6h0m0 6h0m0 10h0m0 8h0m0 12h0m0 1h0m0 6h0m0 6h0m0 3h0m0 3h0m0 75h0m0 4h0m0 6h0m0 2h0m0 3h0m0 11h0m0 2h0m0 11h0m1-167h0m0 3h0m0 5h0m0 8h0m0 5h0m0 3h0m0 12h0m0 2h0m0 2h0m0 3h0m0 81h0m0 8h0m0 3h0m0 5h0m0 6h0m0 4h0m0 3h0m0 14h0m0 3h0m0 1h0m1-172h0m0 10h0m0 19h0m0 3h0m0 1h0m0 9h0m0 10h0m0 75h0m0 6h0m0 37h0m1-170h0m0 9h0m0 1h0m0 4h0m0 2h0m0 13h0m0 12h0m0 124h0m0 1h0m0 5h0m0 1h0m1-170h0m0 6h0m0 15h0m0 11h0m0 10h0m0 8h0m0 1h0m0 3h0m0 74h0m0 6h0m0 1h0m0 2h0m0 5h0m0 5h0m0 17h0m0 3h0m0 4h0m1-175h0m0 1h0m0 5h0m0 14h0m0 8h0m0 1h0m0 5h0m0 11h0m0 81h0m0 3h0m0 1h0m0 8h0m0 1h0m0 2h0m0 13h0m0 19h0m1-166h0m0 22h0m0 11h0m0 3h0m0 4h0m0 7h0m0 73h0m0 3h0m0 12h0m0 12h0m0 3h0m0 12h0m1-169h0m0 1h0m0 13h0m0 34h0m0 7h0m0 81h0m0 1h0m0 5h0m0 6h0m0 7h0m0 9h0m0 8h0m1-172h0m0 10h0m0 1h0m0 18h0m0 5h0m0 8h0m0 3h0m0 7h0m0 90h0m0 15h0m0 11h0m0 1h0m0 1h0m1-164h0m0 1h0m0 7h0m0 3h0m0 3h0m0 15h0m0 95h0m0 1h0m0 2h0m0 1h0m0 4h0m0 3h0m0 1h0m0 11h0m0 2h0m0 9h0m0 2h0m0 4h0m1-168h0m0 12h0m0 118h0m0 3h0m0 7h0m0 11h0m0 1h0m0 4h0m0 4h0m0 1h0m0 2h0m0 1h0m0 3h0m0 1h0m0 1h0m1-163h0m0 14h0m0 1h0m0 4h0m0 7h0m0 5h0m0 90h0m0 12h0m0 1h0m0 16h0m0 5h0m0 1h0m0 5h0m1-153h0m0 3h0m0 5h0m0 20h0m0 5h0m0 78h0m0 1h0m0 36h0m0 2h0m1-165h0m0 9h0m0 6h0m0 3h0m0 9h0m0 4h0m0 13h0m0 91h0m0 2h0m0 12h0m0 10h0m0 7h0m1-158h0m0 2h0m0 6h0m0 1h0m0 21h0m0 5h0m0 2h0m0 9h0m0 70h0m0 9h0m0 2h0m0 13h0m0 12h0m0 2h0m0 5h0m1-167h0m0 8h0m0 31h0m0 8h0m0 1h0m0 79h0m0 6h0m0 4h0m0 4h0m0 6h0m0 7h0m0 3h0m0 1h0m0 3h0m0 3h0m1-162h0m0 12h0m0 1h0m0 2h0m0 15h0m0 5h0m0 9h0m0 1h0m0 78h0m0 3h0m0 3h0m0 1h0m0 8h0m0 19h0m0 2h0m0 1h0m0 1h0m1-163h0m0 2h0m0 8h0m0 1h0m0 1h0m0 17h0m0 3h0m0 2h0m0 12h0m0 9h0m0 71h0m0 7h0m0 6h0m0 12h0m0 14h0m1-164h0m0 8h0m0 5h0m0 7h0m0 4h0m0 19h0m0 5h0m0 85h0m0 8h0m0 11h0m0 1h0m0 1h0m0 1h0m0 1h0m0 2h0m1-161h0m0 2h0m0 15h0m0 12h0m0 10h0m0 5h0m0 5h0m0 4h0m0 82h0m0 1h0m0 20h0m0 6h0m0 2h0m1-164h0m0 3h0m0 10h0m0 3h0m0 1h0m0 2h0m0 1h0m0 3h0m0 4h0m0 1h0m0 1h0m0 8h0m0 104h0m0 2h0m0 6h0m0 1h0m0 2h0m0 8h0m1-153h0m0 17h0m0 16h0m0 1h0m0 1h0m0 3h0m0 85h0m0 11h0m0 2h0m0 2h0m0 1h0m0 14h0m1-158h0m0 19h0m0 22h0m0 4h0m0 79h0m0 8h0m0 19h0m0 6h0m1-153h0m0 7h0m0 2h0m0 19h0m0 1h0m0 5h0m0 3h0m0 11h0m0 71h0m0 1h0m0 6h0m0 7h0m0 1h0m0 3h0m0 3h0m0 13h0m1-149h0m0 1h0m0 1h0m0 2h0m0 9h0m0 2h0m0 5h0m0 14h0m0 4h0m0 4h0m0 91h0m0 2h0m0 2h0m0 12h0m1-153h0m0 26h0m0 2h0m0 2h0m0 4h0m0 6h0m0 82h0m0 19h0m0 3h0m0 4h0m1-148h0m0 3h0m0 10h0m0 3h0m0 1h0m0 9h0m0 8h0m0 1h0m0 84h0m0 15h0m0 12h0m0 7h0m1-157h0m0 5h0m0 13h0m0 3h0m0 2h0m0 1h0m0 4h0m0 3h0m0 8h0m0 6h0m0 1h0m0 80h0m0 10h0m0 13h0m1-142h0m0 1h0m0 1h0m0 7h0m0 11h0m0 8h0m0 6h0m0 4h0m0 1h0m0 2h0m0 1h0m0 1h0m0 75h0m0 3h0m0 24h0m1-148h0m0 10h0m0 3h0m0 5h0m0 2h0m0 1h0m0 5h0m0 10h0m0 3h0m0 5h0m0 102h0m0 1h0m1-138h0m0 2h0m0 114h0m0 1h0m0 2h0m0 1h0m0 4h0m0 5h0m0 4h0m1-135h0m0 12h0m0 3h0m0 1h0m0 7h0m0 95h0m0 4h0m0 3h0m0 3h0m0 4h0m0 3h0m0 12h0m1-143h0m0 2h0m0 4h0m0 5h0m0 10h0m0 4h0m0 7h0m0 80h0m0 2h0m0 1h0m0 4h0m0 7h0m0 7h0m0 3h0m0 1h0m0 7h0m1-143h0m0 6h0m0 2h0m0 10h0m0 1h0m0 4h0m0 8h0m0 84h0m0 6h0m0 4h0m0 9h0m0 3h0m0 1h0m1-153h0m0 8h0m0 19h0m0 5h0m0 4h0m0 7h0m0 4h0m0 79h0m0 14h0m0 8h0m0 5h0m0 2h0m0 2h0m1-149h0m0 2h0m0 7h0m0 6h0m0 9h0m0 1h0m0 1h0m0 1h0m0 1h0m0 5h0m0 84h0m0 1h0m0 2h0m0 3h0m0 5h0m0 15h0m0 3h0m1-151h0m0 2h0m0 30h0m0 3h0m0 86h0m0 1h0m0 1h0m1-122h0m0 1h0m0 4h0m0 7h0m0 9h0m0 1h0m0 2h0m0 2h0m0 6h0m0 4h0m0 10h0m0 86h0m0 10h0m1-142h0m0 1h0m0 2h0m0 3h0m0 6h0m0 3h0m0 7h0m0 7h0m0 9h0m0 85h0m0 9h0m0 9h0m0 1h0m0 5h0m0 7h0m1-153h0m0 8h0m0 1h0m1-12h0m0 6h0m0 1h0m0 9h0m0 2h0m0 4h0m0 1h0m0 24h0m0 77h0m0 10h0m0 4h0m0 5h0m0 8h0m1-147h0m0 7h0m0 4h0m0 2h0m0 13h0m0 11h0m0 3h0m0 92h0m1-133h0m0 1h0m0 9h0m0 11h0m0 11h0m0 7h0m0 1h0m0 5h0m0 99h0m0 2h0m0 1h0m1-147h0m0 5h0m0 14h0m0 12h0m0 90h0m0 2h0m0 1h0m0 5h0m0 20h0m0 2h0m1-150h0m0 8h0m0 4h0m0 3h0m0 2h0m0 4h0m0 3h0m0 14h0m0 4h0m0 77h0m0 1h0m0 2h0m0 6h0m0 12h0m0 3h0m1-143h0m0 16h0m0 5h0m0 1h0m0 7h0m0 6h0m0 3h0m0 99h0m0 3h0m1-141h0m0 4h0m0 3h0m0 1h0m0 2h0m0 4h0m0 1h0m0 5h0m0 5h0m0 1h0m0 93h0m0 22h0m0 7h0m0 1h0m0 1h0m1-148h0m0 5h0m0 11h0m0 6h0m0 5h0m0 3h0m0 3h0m0 1h0m0 1h0m0 79h0m0 4h0m0 8h0m0 15h0m1-137h0m0 4h0m0 5h0m0 7h0m0 1h0m0 13h0m0 6h0m0 79h0m0 11h0m0 1h0m0 4h0m0 10h0m0 1h0m1-145h0m0 6h0m0 9h0m0 7h0m0 2h0m0 92h0m0 2h0m0 1h0m0 7h0m0 4h0m0 3h0m0 2h0m0 14h0m1-153h0m0 8h0m0 10h0m0 7h0m0 3h0m0 6h0m0 1h0m0 102h0m0 1h0m0 7h0m0 1h0m0 3h0m0 1h0m0 1h0m1-148h0m0 6h0m0 6h0m0 8h0m0 1h0m0 5h0m0 4h0m0 88h0m0 3h0m0 7h0m0 6h0m0 1h0m0 5h0m0 4h0m1-144h0m0 4h0m0 1h0m0 20h0m0 1h0m0 93h0m0 5h0m0 21h0m1-149h0m0 6h0m0 21h0m0 7h0m0 4h0m0 81h0m0 10h0m0 15h0m0 2h0m0 3h0m0 1h0m1-140h0m0 3h0m0 26h0m0 84h0m0 4h0m0 7h0m0 2h0m0 1h0m0 8h0m0 6h0m1-139h0m0 9h0m0 3h0m0 1h0m0 5h0m0 9h0m0 86h0m0 16h0m0 10h0m1-145h0m0 11h0m0 2h0m0 10h0m0 2h0m0 4h0m0 1h0m0 3h0m0 82h0m0 7h0m0 5h0m0 8h0m1-138h0m0 1h0m0 1h0m0 7h0m0 7h0m0 15h0m0 87h0m0 7h0m0 4h0m0 10h0m0 6h0m1-146h0m0 3h0m0 2h0m0 7h0m0 1h0m0 2h0m0 5h0m0 3h0m0 1h0m0 5h0m0 104h0m0 8h0m0 1h0m0 2h0m0 1h0m0 4h0m1-143h0m0 1h0m0 4h0m0 1h0m0 2h0m0 2h0m0 7h0m0 3h0m0 2h0m0 4h0m0 3h0m1-31h0m0 7h0m0 4h0m0 3h0m0 4h0m0 2h0m0 2h0m0 8h0m0 82h0m0 28h0m1-139h0m0 1h0m0 7h0m0 3h0m0 2h0m0 12h0m0 9h0m0 81h0m0 4h0m0 10h0m0 3h0m0 3h0m0 8h0m1-143h0m0 130h0m0 2h0m0 12h0m1-145h0m0 1h0m0 2h0m0 2h0m0 1h0m0 4h0m0 2h0m0 6h0m0 6h0m0 8h0m0 84h0m0 7h0m0 1h0m0 1h0m0 6h0m0 5h0m0 2h0m1-140h0m0 3h0m0 6h0m0 13h0m0 3h0m0 9h0m0 3h0m0 79h0m0 29h0m0 1h0m1-151h0m0 3h0m0 5h0m0 7h0m0 104h0m0 3h0m0 2h0m0 3h0m0 1h0m0 2h0m0 7h0m1-138h0m0 7h0m0 5h0m0 2h0m0 4h0m0 3h0m0 6h0m0 2h0m0 6h0m0 4h0m0 2h0m0 89h0m0 5h0m0 8h0m0 9h0m1-144h0m0 1h0m0 7h0m0 3h0m0 11h0m0 3h0m0 3h0m0 5h0m0 78h0m0 20h0m0 3h0m0 8h0m0 5h0m1-140h0m0 7h0m0 2h0m0 1h0m0 4h0m0 4h0m0 3h0m0 8h0m0 84h0m0 1h0m0 1h0m0 6h0m0 4h0m0 11h0m1-148h0m0 2h0m0 8h0m0 4h0m0 5h0m0 4h0m0 15h0m0 2h0m0 91h0m0 11h0m0 10h0m1-152h0m0 10h0m0 2h0m0 6h0m0 4h0m0 9h0m0 1h0m0 2h0m0 4h0m0 3h0m0 75h0m0 7h0m0 6h0m0 12h0m0 8h0m1-148h0m0 6h0m0 4h0m0 3h0m0 1h0m0 4h0m0 7h0m0 6h0m0 88h0m0 6h0m0 2h0m0 14h0m0 8h0m1-142h0m0 2h0m0 3h0m0 3h0m0 4h0m0 5h0m0 7h0m0 3h0m0 1h0m0 1h0m0 113h0m1-147h0m0 1h0m0 9h0m0 11h0m0 4h0m0 1h0m0 91h0m0 12h0m0 4h0m0 8h0m1-147h0m0 1h0m0 4h0m0 3h0m0 2h0m0 3h0m0 3h0m0 8h0m0 4h0m0 5h0m0 7h0m0 79h0m0 11h0m0 2h0m0 12h0m0 4h0m0 6h0m1-150h0m0 1h0m0 8h0m0 3h0m0 9h0m0 104h0m0 12h0m0 3h0m0 5h0m1-145h0m0 1h0m0 5h0m0 6h0m0 3h0m0 3h0m0 18h0m0 96h0m0 2h0m0 4h0m0 1h0m0 2h0m0 1h0m0 8h0m1-149h0m0 13h0m0 4h0m0 1h0m0 10h0m0 4h0m0 2h0m0 2h0m0 84h0m0 6h0m0 1h0m0 1h0m0 3h0m0 8h0m0 4h0m0 2h0m0 4h0m1-151h0m0 7h0m0 1h0m0 3h0m0 4h0m0 2h0m0 11h0m0 1h0m0 1h0m0 2h0m0 1h0m0 86h0m0 9h0m0 7h0m0 12h0m1-149h0m0 12h0m0 15h0m0 1h0m0 2h0m0 3h0m0 3h0m0 88h0m0 10h0m0 14h0m0 2h0m1-138h0m0 1h0m0 3h0m0 12h0m0 1h0m0 93h0m0 2h0m0 12h0m0 1h0m0 4h0m0 4h0m0 7h0m1-148h0m0 5h0m0 1h0m0 20h0m0 2h0m0 1h0m0 5h0m0 3h0m0 98h0m0 2h0m0 7h0m0 1h0m0 1h0m0 3h0m1-151h0m0 1h0m0 8h0m0 19h0m0 105h0m0 4h0m0 6h0m0 1h0m0 1h0m0 2h0m1-146h0m0 3h0m0 5h0m0 6h0m0 3h0m0 4h0m0 14h0m0 96h0m0 7h0m0 9h0m1-151h0m0 3h0m0 2h0m0 1h0m0 1h0m0 3h0m0 6h0m0 2h0m0 1h0m0 2h0m0 4h0m0 6h0m0 3h0m0 1h0m0 4h0m0 83h0m0 7h0m0 1h0m0 10h0m0 8h0m1-142h0m0 1h0m0 5h0m0 5h0m0 4h0m0 1h0m0 4h0m0 3h0m0 2h0m0 1h0m0 2h0m0 7h0m0 77h0m0 7h0m0 2h0m0 3h0m0 3h0m0 1h0m0 6h0m0 1h0m0 6h0m1-139h0m0 8h0m0 1h0m0 5h0m0 2h0m0 4h0m0 4h0m0 3h0m0 1h0m0 2h0m0 80h0m0 13h0m0 5h0m0 11h0m0 3h0m1-146h0m0 7h0m0 3h0m0 2h0m0 2h0m0 1h0m0 2h0m0 4h0m0 1h0m0 2h0m0 7h0m0 2h0m0 93h0m0 6h0m0 1h0m0 4h0m0 6h0m0 1h0m1-128h0m0 2h0m0 10h0m0 1h0m0 1h0m0 4h0m0 91h0m0 2h0m0 4h0m1-129h0m0 4h0m0 3h0m0 13h0m0 1h0m0 10h0m0 1h0m0 2h0m0 86h0m0 4h0m0 9h0m1-136h0m0 6h0m0 3h0m0 1h0m0 3h0m0 4h0m0 12h0m0 7h0m0 84h0m0 1h0m0 6h0m0 1h0m0 7h0m0 7h0m0 4h0m1-135h0m0 2h0m0 12h0m0 8h0m0 1h0m0 89h0m0 1h0m0 9h0m0 2h0m0 16h0m1-151h0m0 5h0m0 4h0m0 10h0m0 2h0m0 1h0m0 1h0m0 2h0m0 1h0m0 3h0m0 90h0m0 2h0m0 12h0m0 12h0m1-140h0m0 8h0m0 5h0m0 2h0m0 4h0m0 1h0m0 2h0m0 6h0m0 94h0m0 3h0m0 1h0m0 3h0m0 3h0m0 2h0m0 7h0m1-148h0m0 4h0m0 1h0m0 11h0m0 3h0m0 7h0m0 2h0m0 1h0m0 3h0m0 91h0m0 15h0m0 1h0m0 4h0m0 4h0m0 1h0m1-149h0m0 3h0m0 4h0m0 13h0m0 1h0m0 1h0m0 4h0m0 1h0m0 1h0m0 2h0m0 1h0m0 5h0m0 88h0m0 6h0m0 1h0m0 12h0m0 2h0m0 3h0m0 5h0m1-151h0m0 3h0m0 6h0m0 2h0m0 3h0m0 8h0m0 5h0m0 93h0m0 6h0m0 18h0m0 1h0m1-148h0m0 27h0m0 8h0m0 1h0m0 5h0m0 94h0m0 11h0m0 1h0m0 1h0m1-145h0m0 3h0m0 5h0m0 1h0m0 9h0m0 2h0m0 1h0m0 2h0m0 4h0m0 93h0m0 4h0m0 2h0m0 2h0m0 1h0m0 12h0m1-137h0m0 7h0m0 12h0m0 7h0m0 3h0m0 1h0m0 86h0m0 4h0m0 21h0m1-132h0m0 2h0m0 2h0m0 4h0m0 2h0m0 5h0m0 91h0m0 10h0m0 13h0m0 6h0m1-149h0m0 1h0m0 9h0m0 3h0m0 2h0m0 11h0m0 8h0m0 4h0m0 79h0m0 1h0m0 5h0m0 23h0m0 2h0m1-146h0m0 11h0m0 6h0m0 4h0m0 4h0m0 93h0m0 5h0m0 1h0m0 3h0m1-130h0m0 2h0m0 6h0m0 5h0m0 2h0m0 5h0m0 10h0m0 3h0m0 1h0m0 87h0m0 3h0m0 1h0m0 18h0m0 2h0m1-146h0m0 3h0m0 5h0m0 3h0m0 1h0m0 1h0m0 2h0m0 1h0m0 8h0m0 8h0m0 4h0m0 1h0m0 1h0m0 83h0m0 1h0m0 1h0m0 2h0m0 16h0m0 5h0m0 5h0m1-148h0m0 6h0m0 6h0m0 4h0m0 1h0m0 1h0m0 1h0m0 3h0m0 10h0m0 102h0m1-135h0m0 1h0m0 2h0m0 1h0m0 1h0m0 3h0m0 6h0m0 5h0m0 4h0m0 1h0m0 7h0m0 4h0m0 91h0m0 6h0m0 13h0m0 1h0m1-144h0m0 5h0m0 4h0m0 8h0m0 4h0m0 4h0m0 4h0m0 1h0m0 1h0m0 91h0m0 8h0m0 16h0m1-143h0m0 2h0m0 8h0m0 2h0m0 8h0m0 6h0m0 93h0m0 1h0m0 2h0m0 8h0m0 8h0m1-148h0m0 4h0m0 5h0m0 6h0m0 2h0m0 12h0m0 1h0m0 1h0m0 4h0m0 90h0m0 16h0m0 2h0m0 9h0m1-148h0m0 9h0m0 10h0m0 4h0m0 1h0m0 6h0m0 88h0m0 8h0m0 1h0m0 4h0m0 2h0m0 8h0m0 5h0m0 1h0m0 1h0m0 1h0m1-153h0m0 5h0m0 9h0m0 5h0m0 2h0m0 9h0m0 4h0m0 92h0m0 1h0m0 1h0m0 6h0m0 4h0m0 9h0m0 4h0m0 1h0m1-145h0m0 7h0m0 2h0m0 3h0m0 11h0m0 6h0m0 91h0m0 3h0m0 14h0m0 2h0m1-147h0m0 16h0m0 2h0m0 1h0m0 6h0m0 4h0m0 2h0m0 3h0m0 1h0m0 2h0m0 4h0m0 93h0m0 10h0m0 3h0m1-146h0m0 3h0m0 1h0m0 4h0m0 6h0m0 1h0m0 9h0m0 11h0m0 101h0m0 10h0m0 9h0m1-153h0m0 6h0m0 10h0m0 7h0m0 3h0m0 1h0m0 2h0m0 1h0m0 3h0m0 89h0m0 10h0m0 1h0m0 8h0m0 3h0m0 2h0m1-140h0m0 2h0m0 1h0m0 5h0m0 10h0m0 1h0m0 1h0m0 94h0m0 8h0m0 1h0m0 11h0m0 5h0m0 4h0m1-142h0m0 2h0m0 4h0m0 5h0m0 1h0m0 100h0m0 6h0m0 5h0m0 8h0m1-133h0m0 6h0m0 1h0m0 15h0m0 1h0m0 5h0m0 92h0m0 2h0m1-128h0m0 3h0m0 1h0m0 3h0m0 12h0m0 5h0m0 5h0m0 6h0m0 91h0m0 9h0m0 3h0m0 2h0m0 5h0m1-144h0m0 1h0m0 1h0m0 3h0m0 5h0m0 1h0m0 3h0m0 9h0m0 10h0m0 3h0m0 84h0m0 11h0m0 2h0m0 12h0m1-146h0m0 3h0m0 14h0m0 8h0m0 8h0m0 93h0m0 7h0m1-134h0m0 1h0m0 1h0m0 20h0m0 7h0m0 4h0m0 2h0m0 86h0m0 3h0m0 7h0m0 8h0m0 9h0m0 2h0m1-152h0m0 6h0m0 9h0m0 13h0m0 1h0m0 5h0m0 5h0m0 87h0m0 2h0m0 3h0m0 5h0m0 6h0m1-133h0m0 1h0m0 1h0m0 1h0m0 3h0m0 7h0m0 2h0m0 4h0m0 1h0m0 11h0m0 86h0m0 4h0m0 16h0m0 3h0m1-136h0m0 1h0m0 1h0m0 1h0m0 4h0m0 8h0m0 3h0m0 107h0m0 17h0m1-156h0m0 4h0m0 9h0m0 2h0m0 3h0m0 4h0m0 1h0m0 3h0m0 4h0m0 104h0m1-131h0m0 11h0m0 1h0m0 6h0m0 3h0m0 3h0m0 1h0m0 2h0m0 5h0m0 95h0m0 8h0m0 14h0m0 1h0m1-148h0m0 3h0m0 5h0m0 11h0m0 6h0m0 10h0m0 5h0m0 4h0m0 9h0m0 68h0m0 6h0m0 3h0m0 12h0m0 3h0m0 4h0m0 44h0m0 32h0m1-254h0m0 17h0m0 5h0m0 20h0m0 4h0m0 17h0m0 35h0m0 62h0m0 40h0m0 31h0m1-238h0m0 1h0m0 1h0m0 1h0m0 1h0m0 6h0m0 4h0m0 6h0m0 31h0m0 1h0m0 5h0m0 2h0m0 44h0m0 28h0m0 35h0m0 15h0m0 3h0m0 23h0m0 21h0m0 25h0m0 12h0m1-269h0m0 2h0m0 30h0m0 4h0m0 7h0m0 2h0m0 7h0m0 14h0m0 112h0m0 19h0m0 1h0m0 16h0m0 1h0m0 11h0m0 6h0m0 9h0m0 12h0m1-248h0m0 27h0m0 1h0m0 2h0m0 7h0m0 1h0m0 9h0m0 14h0m0 6h0m0 91h0m0 27h0m0 45h0m0 12h0m0 12h0m1-254h0m0 9h0m0 5h0m0 27h0m0 2h0m0 4h0m0 6h0m0 10h0m0 9h0m0 89h0m0 16h0m0 7h0m0 3h0m0 40h0m0 17h0m0 7h0m0 1h0m1-257h0m0 20h0m0 6h0m0 1h0m0 14h0m0 21h0m0 22h0m0 68h0m0 11h0m0 2h0m0 79h0m0 15h0m1-255h0m0 3h0m0 6h0m0 1h0m0 1h0m0 3h0m0 7h0m0 25h0m0 16h0m0 116h0m0 22h0m0 7h0m0 40h0m1-250h0m0 3h0m0 1h0m0 10h0m0 9h0m0 29h0m0 4h0m0 14h0m0 130h0m0 1h0m0 9h0m0 10h0m0 9h0m0 5h0m0 13h0m1-249h0m0 5h0m0 7h0m0 1h0m0 4h0m0 15h0m0 11h0m0 3h0m0 17h0m0 6h0m0 4h0m0 8h0m0 81h0m0 45h0m0 39h0m0 24h0m1-269h0m0 3h0m0 7h0m0 12h0m0 20h0m0 3h0m0 23h0m0 1h0m0 1h0m0 6h0m0 3h0m0 120h0m0 20h0m0 22h0m0 4h0m0 6h0m0 9h0m1-258h0m0 36h0m0 9h0m0 6h0m0 2h0m0 4h0m0 2h0m0 3h0m0 1h0m0 5h0m0 2h0m0 2h0m0 93h0m0 13h0m0 9h0m0 11h0m0 1h0m0 7h0m1-208h0m0 1h0m0 1h0m0 4h0m0 2h0m0 1h0m0 9h0m0 32h0m0 2h0m0 15h0m0 4h0m0 7h0m0 4h0m0 84h0m0 14h0m0 15h0m0 2h0m0 5h0m0 2h0m0 48h0m0 1h0m0 9h0m0 1h0m0 5h0m1-270h0m0 3h0m0 3h0m0 3h0m0 1h0m0 20h0m0 8h0m0 22h0m0 7h0m0 2h0m0 95h0m0 21h0m0 57h0m0 26h0m1-266h0m0 2h0m0 10h0m0 6h0m0 9h0m0 17h0m0 15h0m0 20h0m0 5h0m0 109h0m0 7h0m0 2h0m0 6h0m0 6h0m0 4h0m1-220h0m0 1h0m0 8h0m0 4h0m0 14h0m0 1h0m0 2h0m0 1h0m0 5h0m0 11h0m0 19h0m0 23h0m0 23h0m0 54h0m0 4h0m0 8h0m0 18h0m0 21h0m0 6h0m0 14h0m1-239h0m0 1h0m0 11h0m0 17h0m0 28h0m0 17h0m0 5h0m0 7h0m0 6h0m0 22h0m0 61h0m0 55h0m0 9h0m0 1h0m0 12h0m0 9h0m0 2h0m0 2h0m1-229h0m0 2h0m0 13h0m0 1h0m0 2h0m0 24h0m0 86h0m0 2h0m0 1h0m0 2h0m0 15h0m0 20h0m0 18h0m0 8h0m0 6h0m0 7h0m0 31h0m1-271h0m0 4h0m0 1h0m0 7h0m0 1h0m0 4h0m0 8h0m0 7h0m0 16h0m0 5h0m0 4h0m0 2h0m0 2h0m0 1h0m0 3h0m0 72h0m0 31h0m0 3h0m0 19h0m0 9h0m0 18h0m0 7h0m0 6h0m0 9h0m0 2h0m1-240h0m0 8h0m0 4h0m0 7h0m0 10h0m0 9h0m0 16h0m0 18h0m0 89h0m0 8h0m0 27h0m0 5h0m0 5h0m0 11h0m0 4h0m0 4h0m0 7h0m0 17h0m0 2h0m1-255h0m0 5h0m0 17h0m0 4h0m0 123h0m0 18h0m0 3h0m0 13h0m0 1h0m0 17h0m0 3h0m0 14h0m0 5h0m0 20h0m0 3h0m0 4h0m0 11h0m0 9h0m1-265h0m0 34h0m0 10h0m0 19h0m0 8h0m0 61h0m0 33h0m0 14h0m0 6h0m0 15h0m0 1h0m0 11h0m0 12h0m0 28h0m0 6h0m0 1h0m0 2h0m0 7h0m1-263h0m0 2h0m0 5h0m0 21h0m0 24h0m0 1h0m0 131h0m0 4h0m0 26h0m0 7h0m0 9h0m0 28h0m0 1h0m1-261h0m0 11h0m0 10h0m0 1h0m0 3h0m0 3h0m0 29h0m0 3h0m0 6h0m0 5h0m0 80h0m0 36h0m0 13h0m0 1h0m0 4h0m0 1h0m0 5h0m0 16h0m1-235h0m0 5h0m0 2h0m0 3h0m0 1h0m0 6h0m0 20h0m0 3h0m0 10h0m0 2h0m0 20h0m0 3h0m0 97h0m0 5h0m0 21h0m0 9h0m0 23h0m0 1h0m0 4h0m0 40h0m1-271h0m0 3h0m0 6h0m0 25h0m0 1h0m0 5h0m0 7h0m0 2h0m0 5h0m0 118h0m0 5h0m0 13h0m0 15h0m0 1h0m0 28h0m1-234h0m0 14h0m0 3h0m0 7h0m0 25h0m0 12h0m0 15h0m0 62h0m0 29h0m0 5h0m0 10h0m0 9h0m0 38h0m0 21h0m0 22h0m1-269h0m0 1h0m0 3h0m0 17h0m0 19h0m0 2h0m0 14h0m0 2h0m0 6h0m0 1h0m0 101h0m0 43h0m0 11h0m0 18h0m0 4h0m0 10h0m0 12h0m1-269h0m0 13h0m0 2h0m0 2h0m0 4h0m0 10h0m0 3h0m0 1h0m0 23h0m0 1h0m0 18h0m0 46h0m0 41h0m0 18h0m0 6h0m0 26h0m0 26h0m0 32h0m1-273h0m0 2h0m0 5h0m0 12h0m0 13h0m0 42h0m0 8h0m0 72h0m0 14h0m0 9h0m0 10h0m0 42h0m0 8h0m0 15h0m1-247h0m0 9h0m0 3h0m0 1h0m0 13h0m0 15h0m0 9h0m0 7h0m0 5h0m0 19h0m0 87h0m0 18h0m0 3h0m0 35h0m0 1h0m0 36h0m1-265h0m0 1h0m0 2h0m0 1h0m0 2h0m0 1h0m0 3h0m0 17h0m0 1h0m0 2h0m0 7h0m0 12h0m0 8h0m0 1h0m0 12h0m0 63h0m0 65h0m0 6h0m0 17h0m0 7h0m0 20h0m0 4h0m0 3h0m0 9h0m0 5h0m1-269h0m0 7h0m0 2h0m0 11h0m0 3h0m0 5h0m0 8h0m0 36h0m0 2h0m0 7h0m0 87h0m0 5h0m0 16h0m0 18h0m0 23h0m0 3h0m0 3h0m0 1h0m0 5h0m0 12h0m0 17h0m1-271h0m0 12h0m0 1h0m0 2h0m0 3h0m0 13h0m0 3h0m0 34h0m0 10h0m0 3h0m0 114h0m0 4h0m0 1h0m0 11h0m0 18h0m0 5h0m0 7h0m0 4h0m0 8h0m0 4h0m0 10h0m1-269h0m0 18h0m0 3h0m0 12h0m0 10h0m0 6h0m0 11h0m0 12h0m0 2h0m0 3h0m0 94h0m0 18h0m0 3h0m0 4h0m0 5h0m0 7h0m0 13h0m0 8h0m0 5h0m0 35h0m1-258h0m0 6h0m0 3h0m0 7h0m0 11h0m0 14h0m0 1h0m0 21h0m0 1h0m0 92h0m0 9h0m0 35h0m0 14h0m0 7h0m1-234h0m0 3h0m0 1h0m0 1h0m0 3h0m0 16h0m0 21h0m0 4h0m0 10h0m0 8h0m0 1h0m0 122h0m0 15h0m0 9h0m0 10h0m0 15h0m1-234h0m0 1h0m0 1h0m0 2h0m0 21h0m0 17h0m0 2h0m0 17h0m0 2h0m0 1h0m0 88h0m0 23h0m0 25h0m0 2h0m0 23h0m0 14h0m0 1h0m0 6h0m1-252h0m0 4h0m0 2h0m0 16h0m0 8h0m0 4h0m0 2h0m0 6h0m0 2h0m0 7h0m0 11h0m0 1h0m0 4h0m0 3h0m0 1h0m0 22h0m0 8h0m0 57h0m0 34h0m0 17h0m0 65h0m0 3h0m1-255h0m0 2h0m0 25h0m0 5h0m0 5h0m0 3h0m0 10h0m0 2h0m0 2h0m0 10h0m0 118h0m0 45h0m0 22h0m1-263h0m0 2h0m0 8h0m0 9h0m0 2h0m0 4h0m0 4h0m0 30h0m0 18h0m0 24h0m0 24h0m0 55h0m0 8h0m0 1h0m0 13h0m0 19h0m0 10h0m0 17h0m1-248h0m0 7h0m0 8h0m0 1h0m0 12h0m0 1h0m0 2h0m0 8h0m0 13h0m0 12h0m0 12h0m0 87h0m0 7h0m0 32h0m0 18h0m0 12h0m0 27h0m1-266h0m0 15h0m0 3h0m0 5h0m0 10h0m0 12h0m0 3h0m0 1h0m0 3h0m0 2h0m0 9h0m0 4h0m0 1h0m0 1h0m0 6h0m0 107h0m0 1h0m0 7h0m0 11h0m0 8h0m0 2h0m0 2h0m0 9h0m0 2h0m0 11h0m0 3h0m0 2h0m0 31h0m0 5h0m1-271h0m0 25h0m0 5h0m0 6h0m0 5h0m0 7h0m0 24h0m0 102h0m0 17h0m0 11h0m0 22h0m0 9h0m0 2h0m0 16h0m1-253h0m0 21h0m0 3h0m0 3h0m0 2h0m0 1h0m0 21h0m0 16h0m0 3h0m0 131h0m0 7h0m0 28h0m0 3h0m0 7h0m0 12h0m0 4h0m1-264h0m0 2h0m0 1h0m0 7h0m0 2h0m0 14h0m0 6h0m0 12h0m0 2h0m0 7h0m0 1h0m0 6h0m0 101h0m0 23h0m0 1h0m0 1h0m0 20h0m0 43h0m0 19h0m0 6h0m1-251h0m0 5h0m0 52h0m0 87h0m0 1h0m0 3h0m0 10h0m0 6h0m0 1h0m0 13h0m0 3h0m0 13h0m0 1h0m0 5h0m0 12h0m0 30h0m0 3h0m1-262h0m0 2h0m0 3h0m0 11h0m0 7h0m0 14h0m0 16h0m0 1h0m0 129h0m0 8h0m0 30h0m0 1h0m0 32h0m0 7h0m0 8h0m1-273h0m0 2h0m0 18h0m0 11h0m0 13h0m0 5h0m0 9h0m0 10h0m0 13h0m0 11h0m0 144h0m0 18h0m0 1h0m0 14h0m1-267h0m0 5h0m0 8h0m0 4h0m0 13h0m0 1h0m0 8h0m0 5h0m0 2h0m0 6h0m0 5h0m0 23h0m0 92h0m0 5h0m0 8h0m0 3h0m0 3h0m0 65h0m0 9h0m1-261h0m0 5h0m0 3h0m0 7h0m0 2h0m0 3h0m0 28h0m0 17h0m0 96h0m0 10h0m0 1h0m0 19h0m0 3h0m0 25h0m0 6h0m0 3h0m0 19h0m0 7h0m0 4h0m0 3h0m0 7h0m1-264h0m0 3h0m0 1h0m0 13h0m0 9h0m0 3h0m0 2h0m0 5h0m0 1h0m0 3h0m0 5h0m0 6h0m0 3h0m0 15h0m0 83h0m0 40h0m0 12h0m1-212h0m0 1h0m0 4h0m0 42h0m0 8h0m0 3h0m0 95h0m0 50h0m0 2h0m0 31h0m0 27h0m1-262h0m0 7h0m0 3h0m0 2h0m0 3h0m0 4h0m0 20h0m0 2h0m0 9h0m0 13h0m0 23h0m0 109h0m0 10h0m0 60h0m0 5h0m1-273h0m0 3h0m0 1h0m0 20h0m0 2h0m0 9h0m0 3h0m0 10h0m0 1h0m0 4h0m0 14h0m0 1h0m0 10h0m0 34h0m0 58h0m0 16h0m0 3h0m0 5h0m0 7h0m0 12h0m0 15h0m0 21h0m0 17h0m1-265h0m0 2h0m0 12h0m0 9h0m0 1h0m0 1h0m0 38h0m0 7h0m0 126h0m0 1h0m0 11h0m0 14h0m1-227h0m0 48h0m0 19h0m0 4h0m0 107h0m0 2h0m0 46h0m0 3h0m0 2h0m0 16h0m1-243h0m0 9h0m0 7h0m0 19h0m0 23h0m0 136h0m0 12h0m0 5h0m0 3h0m0 30h0m0 4h0m0 4h0m1-252h0m0 2h0m0 2h0m0 35h0m0 1h0m0 19h0m0 4h0m0 1h0m0 119h0m0 44h0m0 5h0m0 16h0m0 2h0m1-249h0m0 2h0m0 1h0m0 2h0m0 5h0m0 19h0m0 6h0m0 1h0m0 10h0m0 4h0m0 11h0m0 1h0m0 25h0m0 44h0m0 36h0m0 2h0m0 17h0m0 27h0m0 12h0m0 4h0m0 28h0m1-258h0m0 8h0m0 21h0m0 9h0m0 9h0m0 3h0m0 6h0m0 3h0m0 15h0m0 105h0m0 18h0m0 8h0m0 18h0m0 46h0m0 2h0m0 3h0m1-276h0m0 2h0m0 15h0m0 2h0m0 10h0m0 7h0m0 6h0m0 17h0m0 9h0m0 83h0m0 37h0m0 6h0m0 23h0m0 10h0m0 35h0m0 9h0m0 3h0m1-274h0m0 2h0m0 2h0m0 21h0m0 1h0m0 11h0m0 18h0m0 7h0m0 14h0m0 138h0m0 4h0m0 8h0m0 20h0m0 29h0m1-273h0m0 4h0m0 6h0m0 6h0m0 4h0m0 18h0m0 10h0m0 3h0m0 1h0m0 10h0m0 9h0m0 9h0m0 2h0m0 31h0m0 48h0m0 4h0m0 1h0m0 19h0m0 19h0m0 1h0m0 22h0m0 13h0m0 10h0m1-252h0m0 3h0m0 4h0m0 20h0m0 5h0m0 5h0m0 13h0m0 5h0m0 93h0m0 9h0m0 12h0m0 9h0m0 3h0m0 4h0m0 4h0m0 22h0m0 2h0m0 8h0m0 19h0m0 3h0m0 22h0m0 4h0m0 7h0m1-275h0m0 24h0m0 2h0m0 7h0m0 1h0m0 2h0m0 6h0m0 19h0m0 110h0m0 37h0m0 14h0m0 5h0m0 11h0m1-225h0m0 9h0m0 5h0m0 7h0m0 6h0m0 7h0m0 22h0m0 1h0m0 11h0m0 7h0m0 26h0m0 74h0m0 11h0m0 13h0m0 18h0m0 39h0m0 3h0m1-265h0m0 3h0m0 1h0m0 11h0m0 9h0m0 1h0m0 2h0m0 1h0m0 6h0m0 26h0m0 107h0m0 15h0m0 14h0m0 2h0m0 18h0m0 5h0m0 32h0m1-259h0m0 6h0m0 3h0m0 7h0m0 10h0m0 6h0m0 11h0m0 6h0m0 5h0m0 1h0m0 9h0m0 7h0m0 40h0m0 26h0m0 39h0m0 49h0m0 5h0m0 2h0m0 18h0m0 1h0m0 2h0m0 15h0m1-272h0m0 3h0m0 6h0m0 1h0m0 9h0m0 5h0m0 9h0m0 20h0m0 5h0m0 111h0m0 12h0m0 4h0m0 7h0m0 8h0m0 6h0m0 24h0m0 7h0m0 7h0m1-217h0m0 2h0m0 28h0m0 3h0m0 8h0m0 18h0m0 102h0m0 14h0m0 2h0m0 1h0m0 16h0m0 7h0m0 28h0m0 14h0m1-267h0m0 10h0m0 23h0m0 5h0m0 12h0m0 2h0m0 6h0m0 144h0m0 9h0m0 29h0m0 1h0m0 28h0m0 6h0m1-254h0m0 8h0m0 6h0m0 8h0m0 3h0m0 8h0m0 6h0m0 19h0m0 5h0m0 85h0m0 62h0m0 5h0m0 7h0m0 5h0m0 15h0m1-264h0m0 2h0m0 1h0m0 15h0m0 1h0m0 24h0m0 12h0m0 2h0m0 5h0m0 8h0m0 12h0m0 94h0m0 10h0m0 29h0m0 11h0m0 28h0m0 3h0m1-244h0m0 3h0m0 7h0m0 7h0m0 2h0m0 3h0m0 2h0m0 1h0m0 2h0m0 3h0m0 11h0m0 119h0m0 7h0m0 33h0m0 14h0m0 8h0m0 3h0m0 14h0m0 7h0m0 3h0m0 10h0m1-275h0m0 1h0m0 2h0m0 2h0m0 4h0m0 11h0m0 5h0m0 14h0m0 2h0m0 3h0m0 31h0m0 1h0m0 103h0m0 28h0m0 22h0m0 5h0m0 7h0m0 33h0m0 6h0m1-278h0m0 1h0m0 6h0m0 9h0m0 20h0m0 3h0m0 2h0m0 10h0m0 6h0m0 79h0m0 32h0m0 17h0m0 7h0m0 3h0m0 8h0m0 21h0m0 24h0m1-237h0m0 4h0m0 12h0m0 5h0m0 3h0m0 3h0m0 3h0m0 16h0m0 2h0m0 3h0m0 10h0m0 96h0m0 22h0m0 7h0m0 4h0m0 1h0m0 25h0m0 10h0m0 8h0m1-247h0m0 4h0m0 7h0m0 7h0m0 23h0m0 7h0m0 12h0m0 6h0m0 16h0m0 89h0m0 5h0m0 1h0m0 2h0m0 7h0m0 11h0m0 40h0m0 32h0m0 10h0m1-276h0m0 3h0m0 23h0m0 14h0m0 25h0m0 104h0m0 16h0m0 7h0m0 3h0m0 16h0m0 15h0m0 16h0m0 29h0m1-270h0m0 3h0m0 2h0m0 3h0m0 5h0m0 2h0m0 6h0m0 1h0m0 2h0m0 16h0m0 5h0m0 1h0m0 11h0m0 3h0m0 2h0m0 3h0m0 1h0m0 4h0m0 4h0m0 92h0m0 3h0m0 2h0m0 30h0m0 69h0m1-264h0m0 3h0m0 7h0m0 6h0m0 1h0m0 3h0m0 4h0m0 2h0m0 2h0m0 2h0m0 18h0m0 12h0m0 98h0m0 54h0m0 23h0m0 3h0m0 14h0m1-262h0m0 2h0m0 2h0m0 1h0m0 24h0m0 8h0m0 13h0m0 3h0m0 5h0m0 9h0m0 112h0m0 10h0m0 44h0m0 5h0m0 16h0m0 1h0m0 5h0m0 2h0m0 4h0m0 4h0m1-267h0m0 14h0m0 3h0m0 14h0m0 1h0m0 3h0m0 10h0m0 3h0m0 4h0m0 3h0m0 12h0m0 9h0m0 90h0m0 35h0m0 38h0m0 29h0m0 7h0m1-274h0m0 2h0m0 6h0m0 11h0m0 1h0m0 8h0m0 8h0m0 2h0m0 15h0m0 8h0m0 8h0m0 9h0m0 1h0m0 111h0m0 4h0m0 10h0m0 3h0m0 3h0m0 14h0m0 9h0m0 9h0m0 11h0m0 5h0m1-258h0m0 21h0m0 4h0m0 15h0m0 5h0m0 1h0m0 19h0m0 3h0m0 17h0m0 133h0m0 4h0m0 1h0m0 17h0m0 11h0m0 3h0m0 3h0m0 7h0m0 5h0m1-272h0m0 10h0m0 9h0m0 4h0m0 4h0m0 13h0m0 8h0m0 3h0m0 4h0m0 7h0m0 10h0m0 100h0m0 4h0m0 20h0m0 10h0m0 29h0m0 7h0m0 3h0m0 1h0m0 28h0m1-245h0m0 17h0m0 2h0m0 4h0m0 9h0m0 1h0m0 6h0m0 1h0m0 110h0m0 16h0m0 19h0m0 7h0m1-219h0m0 25h0m0 25h0m0 7h0m0 114h0m0 10h0m0 17h0m0 26h0m0 8h0m0 8h0m1-241h0m0 9h0m0 10h0m0 3h0m0 9h0m0 9h0m0 2h0m0 11h0m0 3h0m0 5h0m0 3h0m0 3h0m0 131h0m0 11h0m0 15h0m0 20h0m0 19h0m0 11h0m1-274h0m0 3h0m0 2h0m0 6h0m0 8h0m0 3h0m0 6h0m0 9h0m0 4h0m0 6h0m0 4h0m0 2h0m0 1h0m0 3h0m0 2h0m0 67h0m0 44h0m0 8h0m0 16h0m0 33h0m0 1h0m0 18h0m0 31h0m1-274h0m0 8h0m0 2h0m0 1h0m0 8h0m0 5h0m0 7h0m0 13h0m0 14h0m0 1h0m0 46h0m0 64h0m0 2h0m0 19h0m0 5h0m0 17h0m0 33h0m1-250h0m0 3h0m0 1h0m0 3h0m0 7h0m0 14h0m0 17h0m0 1h0m0 3h0m0 12h0m0 120h0m0 7h0m0 4h0m0 8h0m0 22h0m0 3h0m0 24h0m1-235h0m0 10h0m0 29h0m0 9h0m0 1h0m0 6h0m0 5h0m0 7h0m0 90h0m0 31h0m0 7h0m0 14h0m0 5h0m0 9h0m0 18h0m0 11h0m1-257h0m0 2h0m0 21h0m0 1h0m0 6h0m0 1h0m0 3h0m0 1h0m0 1h0m0 12h0m0 5h0m0 1h0m0 17h0m0 79h0m0 17h0m0 8h0m0 20h0m0 5h0m0 2h0m0 1h0m0 4h0m0 23h0m0 21h0m0 5h0m1-267h0m0 7h0m0 1h0m0 1h0m0 27h0m0 7h0m0 4h0m0 12h0m0 10h0m0 114h0m0 17h0m0 20h0m0 11h0m0 15h0m0 23h0m0 1h0m0 6h0m1-273h0m0 2h0m0 3h0m0 13h0m0 10h0m0 3h0m0 3h0m0 13h0m0 2h0m0 15h0m0 19h0m0 86h0m0 13h0m0 1h0m0 14h0m0 6h0m0 31h0m0 11h0m1-248h0m0 3h0m0 3h0m0 2h0m0 1h0m0 6h0m0 25h0m0 5h0m0 8h0m0 3h0m0 1h0m0 3h0m0 66h0m0 59h0m0 1h0m0 23h0m0 12h0m0 1h0m0 17h0m0 3h0m0 3h0m0 14h0m0 2h0m1-260h0m0 2h0m0 1h0m0 3h0m0 4h0m0 6h0m0 10h0m0 2h0m0 9h0m0 2h0m0 9h0m0 10h0m0 4h0m0 102h0m0 16h0m0 20h0m0 17h0m0 11h0m0 2h0m0 3h0m0 22h0m0 13h0m0 7h0m1-268h0m0 3h0m0 3h0m0 9h0m0 7h0m0 3h0m0 1h0m0 17h0m0 2h0m0 1h0m0 3h0m0 4h0m0 8h0m0 121h0m0 21h0m0 3h0m0 7h0m1-221h0m0 3h0m0 1h0m0 8h0m0 13h0m0 13h0m0 9h0m0 6h0m0 25h0m0 5h0m0 87h0m0 1h0m0 2h0m0 16h0m0 19h0m0 16h0m0 4h0m0 15h0m0 4h0m0 6h0m1-250h0m0 2h0m0 1h0m0 12h0m0 5h0m0 18h0m0 2h0m0 3h0m0 1h0m0 43h0m0 82h0m0 15h0m0 39h0m0 2h0m0 20h0m0 19h0m0 2h0m0 9h0m1-277h0m0 10h0m0 3h0m0 4h0m0 6h0m0 1h0m0 12h0m0 1h0m0 9h0m0 4h0m0 1h0m0 15h0m0 108h0m0 15h0m0 8h0m0 12h0m0 36h0m0 22h0m0 12h0m1-277h0m0 1h0m0 2h0m0 16h0m0 3h0m0 1h0m0 2h0m0 4h0m0 1h0m0 1h0m0 16h0m0 2h0m0 13h0m0 5h0m0 99h0m0 11h0m0 47h0m0 7h0m0 2h0m0 6h0m0 28h0m0 3h0m1-274h0m0 4h0m0 3h0m0 4h0m0 7h0m0 6h0m0 2h0m0 8h0m0 6h0m0 15h0m0 11h0m0 4h0m0 13h0m0 106h0m0 33h0m0 11h0m0 2h0m1-231h0m0 2h0m0 9h0m0 10h0m0 5h0m0 6h0m0 4h0m0 3h0m0 2h0m0 5h0m0 7h0m0 97h0m0 15h0m0 3h0m0 2h0m0 6h0m0 7h0m0 10h0m0 21h0m0 29h0m0 13h0m0 17h0m0 6h0m1-282h0m0 2h0m0 2h0m0 3h0m0 10h0m0 7h0m0 3h0m0 2h0m0 2h0m0 5h0m0 3h0m0 1h0m0 16h0m0 2h0m0 4h0m0 3h0m0 5h0m0 11h0m0 77h0m0 6h0m0 12h0m0 4h0m0 25h0m0 5h0m0 4h0m0 35h0m0 1h0m0 1h0m0 24h0m1-255h0m0 5h0m0 2h0m0 3h0m0 6h0m0 5h0m0 13h0m0 22h0m0 98h0m0 10h0m0 20h0m0 26h0m1-224h0m0 5h0m0 13h0m0 4h0m0 2h0m0 17h0m0 4h0m0 1h0m0 1h0m0 16h0m0 141h0m0 33h0m0 22h0m0 6h0m1-268h0m0 7h0m0 4h0m0 9h0m0 6h0m0 6h0m0 10h0m0 1h0m0 13h0m0 85h0m0 18h0m0 8h0m0 9h0m0 19h0m0 62h0m0 16h0m0 5h0m1-279h0m0 1h0m0 15h0m0 3h0m0 1h0m0 12h0m0 6h0m0 3h0m0 4h0m0 14h0m0 2h0m0 87h0m0 23h0m0 1h0m0 42h0m0 1h0m0 24h0m0 13h0m0 24h0m0 4h0m1-276h0m0 2h0m0 6h0m0 3h0m0 22h0m0 11h0m0 7h0m0 2h0m0 2h0m0 1h0m0 10h0m0 93h0m0 20h0m0 16h0m0 19h0m0 6h0m0 20h0m0 13h0m0 13h0m1-271h0m0 5h0m0 3h0m0 15h0m0 2h0m0 3h0m0 10h0m0 4h0m0 1h0m0 1h0m0 3h0m0 1h0m0 12h0m0 2h0m0 7h0m0 108h0m0 7h0m0 1h0m0 1h0m0 47h0m0 28h0m1-260h0m0 1h0m0 39h0m0 14h0m0 2h0m0 5h0m0 12h0m0 108h0m0 7h0m0 40h0m0 16h0m0 8h0m0 4h0m0 5h0m1-252h0m0 10h0m0 3h0m0 16h0m0 3h0m0 15h0m0 6h0m0 4h0m0 13h0m0 69h0m0 21h0m0 1h0m0 12h0m0 1h0m0 4h0m0 14h0m0 25h0m0 44h0m1-269h0m0 14h0m0 9h0m0 25h0m0 2h0m0 4h0m0 4h0m0 16h0m0 91h0m0 25h0m0 2h0m0 21h0m0 6h0m0 4h0m0 2h0m0 2h0m0 8h0m0 27h0m0 6h0m0 8h0m1-272h0m0 19h0m0 2h0m0 2h0m0 4h0m0 5h0m0 12h0m0 9h0m0 16h0m0 124h0m0 34h0m0 22h0m0 10h0m0 12h0m1-279h0m0 2h0m0 6h0m0 4h0m0 3h0m0 8h0m0 6h0m0 11h0m0 5h0m0 11h0m0 1h0m0 1h0m0 4h0m0 1h0m0 5h0m0 15h0m0 96h0m0 11h0m0 24h0m0 5h0m0 4h0m0 27h0m0 7h0m0 21h0m1-277h0m0 3h0m0 22h0m0 4h0m0 3h0m0 4h0m0 5h0m0 8h0m0 17h0m0 60h0m0 40h0m0 3h0m0 46h0m0 22h0m1-238h0m0 3h0m0 2h0m0 11h0m0 2h0m0 9h0m0 8h0m0 8h0m0 125h0m0 14h0m0 16h0m0 14h0m0 10h0m0 16h0m0 20h0m0 19h0m0 6h0m1-283h0m0 16h0m0 7h0m0 3h0m0 32h0m0 1h0m0 17h0m0 99h0m0 15h0m0 4h0m0 39h0m0 1h0m0 16h0m0 13h0m0 1h0m0 2h0m0 9h0m0 5h0m1-275h0m0 17h0m0 15h0m0 2h0m0 5h0m0 10h0m0 12h0m0 13h0m0 41h0m0 51h0m0 6h0m0 29h0m0 6h0m0 19h0m0 38h0m0 8h0m1-272h0m0 6h0m0 27h0m0 3h0m0 2h0m0 3h0m0 22h0m0 108h0m0 25h0m0 7h0m0 9h0m0 8h0m0 20h0m0 1h0m1-243h0m0 11h0m0 9h0m0 4h0m0 4h0m0 1h0m0 11h0m0 33h0m0 4h0m0 3h0m0 1h0m0 86h0m0 6h0m0 20h0m0 17h0m0 2h0m0 62h0m0 5h0m1-281h0m0 3h0m0 6h0m0 3h0m0 5h0m0 1h0m0 3h0m0 2h0m0 7h0m0 1h0m0 5h0m0 9h0m0 1h0m0 128h0m0 6h0m0 15h0m0 9h0m0 21h0m0 13h0m0 23h0m1-259h0m0 1h0m0 1h0m0 25h0m0 20h0m0 4h0m0 25h0m0 95h0m0 16h0m0 6h0m0 5h0m0 22h0m0 20h0m0 14h0m1-243h0m0 5h0m0 11h0m0 9h0m0 7h0m0 3h0m0 5h0m0 6h0m0 9h0m0 116h0m0 8h0m0 8h0m0 31h0m0 3h0m0 8h0m0 4h0m0 7h0m0 19h0m0 3h0m0 5h0m1-280h0m0 1h0m0 2h0m0 2h0m0 1h0m0 15h0m0 1h0m0 1h0m0 8h0m0 12h0m0 15h0m0 12h0m0 94h0m0 30h0m0 16h0m0 14h0m0 7h0m0 15h0m0 23h0m1-271h0m0 5h0m0 17h0m0 15h0m0 2h0m0 8h0m0 1h0m0 5h0m0 1h0m0 14h0m0 8h0m0 117h0m0 7h0m0 23h0m0 3h0m0 3h0m0 7h0m1-224h0m0 7h0m0 4h0m0 2h0m0 17h0m0 10h0m0 9h0m0 123h0m0 36h0m0 11h0m0 45h0m1-272h0m0 2h0m0 3h0m0 9h0m0 7h0m0 7h0m0 5h0m0 5h0m0 4h0m0 8h0m0 15h0m0 9h0m0 85h0m0 16h0m0 37h0m0 9h0m0 17h0m0 2h0m0 3h0m0 3h0m0 5h0m0 8h0m1-254h0m0 1h0m0 4h0m0 3h0m0 8h0m0 17h0m0 6h0m0 17h0m0 16h0m0 140h0m0 6h0m0 1h0m0 18h0m0 1h0m0 13h0m0 12h0m0 2h0m0 4h0m1-275h0m0 3h0m0 17h0m0 8h0m0 20h0m0 5h0m0 71h0m0 51h0m0 22h0m0 12h0m0 2h0m0 10h0m0 1h0m0 2h0m0 15h0m0 14h0m1-252h0m0 6h0m0 11h0m0 1h0m0 4h0m0 8h0m0 3h0m0 3h0m0 6h0m0 9h0m0 129h0m0 2h0m0 10h0m0 6h0m0 13h0m0 4h0m0 7h0m0 25h0m0 14h0m0 8h0m0 6h0m1-276h0m0 18h0m0 7h0m0 1h0m0 6h0m0 1h0m0 14h0m0 5h0m0 2h0m0 2h0m0 132h0m0 75h0m0 15h0m1-269h0m0 1h0m0 14h0m0 4h0m0 21h0m0 25h0m0 107h0m0 8h0m0 19h0m0 16h0m0 30h0m0 18h0m1-269h0m0 11h0m0 11h0m0 15h0m0 8h0m0 10h0m0 14h0m0 95h0m0 8h0m0 20h0m0 6h0m0 9h0m0 14h0m0 4h0m0 16h0m0 21h0m0 3h0m0 11h0m1-275h0m0 8h0m0 2h0m0 2h0m0 7h0m0 8h0m0 8h0m0 6h0m0 8h0m0 7h0m0 158h0m0 31h0m0 3h0m0 6h0m0 18h0m1-278h0m0 17h0m0 9h0m0 26h0m0 36h0m0 105h0m0 11h0m0 38h0m0 5h0m0 3h0m0 11h0m0 2h0m0 7h0m1-268h0m0 17h0m0 10h0m0 2h0m0 3h0m0 8h0m0 4h0m0 5h0m0 11h0m0 8h0m0 21h0m0 92h0m0 23h0m0 16h0m0 9h0m0 7h0m0 12h0m0 3h0m0 3h0m0 4h0m1-259h0m0 6h0m0 7h0m0 3h0m0 4h0m0 20h0m0 1h0m0 6h0m0 7h0m0 3h0m0 3h0m0 37h0m0 47h0m0 61h0m0 2h0m0 2h0m0 1h0m0 3h0m0 14h0m0 27h0m0 2h0m1-231h0m0 8h0m0 1h0m0 1h0m0 4h0m0 2h0m0 3h0m0 1h0m0 12h0m0 6h0m0 1h0m0 15h0m0 69h0m0 21h0m0 11h0m0 6h0m0 21h0m0 9h0m0 2h0m0 8h0m0 43h0m0 10h0m1-281h0m0 4h0m0 3h0m0 7h0m0 5h0m0 7h0m0 17h0m0 19h0m0 10h0m0 22h0m0 84h0m0 8h0m0 10h0m0 6h0m0 28h0m0 4h0m0 10h0m0 5h0m0 9h0m0 1h0m1-256h0m0 1h0m0 17h0m0 10h0m0 2h0m0 14h0m0 13h0m0 55h0m0 16h0m0 11h0m0 31h0m0 14h0m0 21h0m0 5h0m0 9h0m0 36h0m0 2h0m0 2h0m0 8h0m0 4h0m1-268h0m0 5h0m0 11h0m0 9h0m0 9h0m0 3h0m0 1h0m0 1h0m0 11h0m0 6h0m0 1h0m0 66h0m0 46h0m0 5h0m0 3h0m0 25h0m0 15h0m0 9h0m0 5h0m0 35h0m1-268h0m0 10h0m0 10h0m0 6h0m0 2h0m0 3h0m0 6h0m0 1h0m0 18h0m0 9h0m0 10h0m0 18h0m0 33h0m0 47h0m0 12h0m0 25h0m0 37h0m0 13h0m0 6h0m1-268h0m0 28h0m0 1h0m0 7h0m0 2h0m0 7h0m0 30h0m0 93h0m0 10h0m0 22h0m0 3h0m0 3h0m0 15h0m0 22h0m0 4h0m0 2h0m1-250h0m0 3h0m0 10h0m0 10h0m0 5h0m0 5h0m0 5h0m0 3h0m0 2h0m0 8h0m0 5h0m0 2h0m0 6h0m0 1h0m0 1h0m0 62h0m0 25h0m0 6h0m0 2h0m0 5h0m0 6h0m0 30h0m0 7h0m0 10h0m0 20h0m0 3h0m0 14h0m0 13h0m1-256h0m0 5h0m0 10h0m0 4h0m0 4h0m0 3h0m0 26h0m0 98h0m0 5h0m0 6h0m0 18h0m0 5h0m0 38h0m0 12h0m0 12h0m0 14h0m1-272h0m0 3h0m0 3h0m0 18h0m0 6h0m0 38h0m0 2h0m0 14h0m0 29h0m0 50h0m0 28h0m0 18h0m0 6h0m0 7h0m0 22h0m0 23h0m0 7h0m1-273h0m0 1h0m0 17h0m0 2h0m0 42h0m0 36h0m0 80h0m0 1h0m0 20h0m0 6h0m0 5h0m0 8h0m0 1h0m0 9h0m0 2h0m0 2h0m0 11h0m0 26h0m0 9h0m1-277h0m0 7h0m0 7h0m0 12h0m0 6h0m0 11h0m0 11h0m0 7h0m0 31h0m0 68h0m0 21h0m0 13h0m0 3h0m0 1h0m0 14h0m0 44h0m0 10h0m0 4h0m0 5h0m1-271h0m0 1h0m0 9h0m0 8h0m0 7h0m0 21h0m0 16h0m0 16h0m0 4h0m0 5h0m0 46h0m0 49h0m0 17h0m0 8h0m0 4h0m0 34h0m0 4h0m0 9h0m1-263h0m0 5h0m0 2h0m0 19h0m0 10h0m0 12h0m0 3h0m0 61h0m0 33h0m0 17h0m0 11h0m0 37h0m0 3h0m0 39h0m0 7h0m0 7h0m0 11h0m0 2h0m1-278h0m0 5h0m0 1h0m0 28h0m0 5h0m0 3h0m0 4h0m0 3h0m0 5h0m0 1h0m0 3h0m0 3h0m0 55h0m0 1h0m0 5h0m0 1h0m0 72h0m0 2h0m0 19h0m0 3h0m0 1h0m0 9h0m0 5h0m0 20h0m0 21h0m0 1h0m1-275h0m0 3h0m0 3h0m0 5h0m0 4h0m0 5h0m0 1h0m0 4h0m0 1h0m0 13h0m0 10h0m0 9h0m0 4h0m0 6h0m0 93h0m0 18h0m0 11h0m0 8h0m0 31h0m0 5h0m0 7h0m0 3h0m0 10h0m0 10h0m0 4h0m1-271h0m0 3h0m0 20h0m0 2h0m0 13h0m0 7h0m0 5h0m0 1h0m0 1h0m0 85h0m0 31h0m0 5h0m0 1h0m0 19h0m0 7h0m0 6h0m0 5h0m1-212h0m0 2h0m0 20h0m0 11h0m0 4h0m0 5h0m0 1h0m0 13h0m0 27h0m0 35h0m0 48h0m0 8h0m0 63h0m0 7h0m0 16h0m0 22h0m1-283h0m0 3h0m0 2h0m0 23h0m0 6h0m0 5h0m0 4h0m0 3h0m0 1h0m0 6h0m0 4h0m0 2h0m0 46h0m0 20h0m0 48h0m0 9h0m0 56h0m0 8h0m0 2h0m0 11h0m0 6h0m0 8h0m0 4h0m1-278h0m0 2h0m0 2h0m0 1h0m0 14h0m0 27h0m0 7h0m0 16h0m0 69h0m0 35h0m0 5h0m0 16h0m0 15h0m0 14h0m0 3h0m0 26h0m1-251h0m0 1h0m0 6h0m0 5h0m0 9h0m0 2h0m0 2h0m0 11h0m0 11h0m0 136h0m0 2h0m0 3h0m0 3h0m0 24h0m0 11h0m0 35h0m1-260h0m0 2h0m0 2h0m0 17h0m0 12h0m0 6h0m0 1h0m0 1h0m0 2h0m0 11h0m0 2h0m0 4h0m0 49h0m0 23h0m0 34h0m0 24h0m0 2h0m0 35h0m0 7h0m0 9h0m0 7h0m0 10h0m0 4h0m0 5h0m0 9h0m1-281h0m0 4h0m0 3h0m0 1h0m0 12h0m0 4h0m0 1h0m0 12h0m0 4h0m0 8h0m0 11h0m0 1h0m0 4h0m0 2h0m0 20h0m0 27h0m0 41h0m0 14h0m0 15h0m0 2h0m0 5h0m0 30h0m0 7h0m0 7h0m0 3h0m0 2h0m0 37h0m1-266h0m0 1h0m0 1h0m0 11h0m0 1h0m0 14h0m0 4h0m0 8h0m0 7h0m0 6h0m0 11h0m0 60h0m0 3h0m0 43h0m0 2h0m0 8h0m0 17h0m0 24h0m0 8h0m0 20h0m0 16h0m0 5h0m0 1h0m1-278h0m0 5h0m0 4h0m0 1h0m0 1h0m0 7h0m0 1h0m0 1h0m0 2h0m0 3h0m0 3h0m0 2h0m0 3h0m0 5h0m0 2h0m0 7h0m0 14h0m0 1h0m0 5h0m0 17h0m0 5h0m0 12h0m0 7h0m0 65h0m0 3h0m0 28h0m0 1h0m0 10h0m0 18h0m0 12h0m1-235h0m0 11h0m0 10h0m0 10h0m0 8h0m0 3h0m0 1h0m0 2h0m0 5h0m0 17h0m0 149h0m0 33h0m1-255h0m0 5h0m0 25h0m0 1h0m0 16h0m0 1h0m0 18h0m0 16h0m0 23h0m0 2h0m0 70h0m0 14h0m0 38h0m0 13h0m0 25h0m1-271h0m0 1h0m0 9h0m0 5h0m0 4h0m0 27h0m0 2h0m0 4h0m0 1h0m0 2h0m0 3h0m0 9h0m0 9h0m0 3h0m0 19h0m0 11h0m0 114h0m0 18h0m0 10h0m1-228h0m0 2h0m0 9h0m0 6h0m0 5h0m0 13h0m0 38h0m0 45h0m0 22h0m0 21h0m0 16h0m0 23h0m0 10h0m0 21h0m0 3h0m1-262h0m0 40h0m0 7h0m0 23h0m0 2h0m0 3h0m0 5h0m0 6h0m0 2h0m0 8h0m0 50h0m0 18h0m0 23h0m0 16h0m0 2h0m0 5h0m0 5h0m0 15h0m0 25h0m0 5h0m0 1h0m0 9h0m1-265h0m0 6h0m0 5h0m0 1h0m0 17h0m0 8h0m0 6h0m0 7h0m0 20h0m0 13h0m0 17h0m0 12h0m0 105h0m0 36h0m0 10h0m0 3h0m0 10h0m1-278h0m0 24h0m0 19h0m0 4h0m0 2h0m0 4h0m0 2h0m0 2h0m0 58h0m0 18h0m0 24h0m0 13h0m0 13h0m0 19h0m0 3h0m0 30h0m0 36h0m0 4h0m1-278h0m0 2h0m0 2h0m0 2h0m0 16h0m0 18h0m0 1h0m0 4h0m0 6h0m0 10h0m0 2h0m0 1h0m0 5h0m0 116h0m0 11h0m0 7h0m0 18h0m0 7h0m0 10h0m0 16h0m0 10h0m0 13h0m1-277h0m0 28h0m0 2h0m0 16h0m0 6h0m0 3h0m0 1h0m0 4h0m0 2h0m0 81h0m0 20h0m0 26h0m0 10h0m0 16h0m0 41h0m0 2h0m0 12h0m1-264h0m0 4h0m0 28h0m0 4h0m0 3h0m0 1h0m0 103h0m0 13h0m0 7h0m0 6h0m0 4h0m0 4h0m0 30h0m0 9h0m0 22h0m0 41h0m1-279h0m0 14h0m0 50h0m0 157h0m0 40h0m1-265h0m0 2h0m1-3h0m0 2h0m1-1h0m0 43h0m0 9h0m0 4h0m0 90h0m0 9h0m0 34h0m0 6h0m0 82h0m1-279h0m0 1h0m0 3h0m0 3h0m0 5h0m0 13h0m0 6h0m0 14h0m0 3h0m0 1h0m0 6h0m0 8h0m0 23h0m0 67h0m0 4h0m0 8h0m0 17h0m0 12h0m0 8h0m0 4h0m0 6h0m0 27h0m0 4h0m0 10h0m0 1h0m1-254h0m0 40h0m0 19h0m0 22h0m0 93h0m0 40h0m0 37h0m0 29h0m0 3h0m1-279h0m0 4h0m0 11h0m0 3h0m0 9h0m0 2h0m0 9h0m0 12h0m0 4h0m0 66h0m0 66h0m0 29h0m0 1h0m0 3h0m0 5h0m0 2h0m0 10h0m0 6h0m0 6h0m0 3h0m0 8h0m0 8h0m0 9h0m0 2h0m1-279h0m0 2h0m0 1h0m0 1h0m0 5h0m0 2h0m0 12h0m0 11h0m0 10h0m0 9h0m0 15h0m0 2h0m0 73h0m0 27h0m0 15h0m0 11h0m0 4h0m0 13h0m1-188h0m0 2h0m0 16h0m0 2h0m0 5h0m0 18h0m0 16h0m0 3h0m0 21h0m0 46h0m0 10h0m0 27h0m0 19h0m0 1h0m0 25h0m0 25h0m1-250h0m0 1h0m0 5h0m0 3h0m0 8h0m0 4h0m0 2h0m0 1h0m0 17h0m0 18h0m0 23h0m0 13h0m0 22h0m0 26h0m0 22h0m0 1h0m0 35h0m0 12h0m0 12h0m1-235h0m0 2h0m0 1h0m0 2h0m0 10h0m0 11h0m0 3h0m0 3h0m0 3h0m0 2h0m0 4h0m0 8h0m0 8h0m0 1h0m0 10h0m0 6h0m0 13h0m0 81h0m0 27h0m0 17h0m0 14h0m0 17h0m0 23h0m0 7h0m1-264h0m0 10h0m0 7h0m0 7h0m0 15h0m0 3h0m0 4h0m0 2h0m0 37h0m0 2h0m0 29h0m0 32h0m0 17h0m0 1h0m0 24h0m0 3h0m0 24h0m0 2h0m0 5h0m0 47h0m1-283h0m0 3h0m0 5h0m0 3h0m0 1h0m0 3h0m0 5h0m0 17h0m0 3h0m0 4h0m0 2h0m0 11h0m0 10h0m0 44h0m0 99h0m0 1h0m0 26h0m0 18h0m0 1h0m0 23h0m1-280h0m0 4h0m0 1h0m0 2h0m0 23h0m0 6h0m0 3h0m0 6h0m0 2h0m0 4h0m0 6h0m0 11h0m0 3h0m0 87h0m0 15h0m0 3h0m0 3h0m0 11h0m0 4h0m0 6h0m0 13h0m0 5h0m0 12h0m0 23h0m0 30h0m1-282h0m0 10h0m0 10h0m0 6h0m0 7h0m0 16h0m0 11h0m0 8h0m0 28h0m0 30h0m0 51h0m0 9h0m0 25h0m0 10h0m0 10h0m0 12h0m1-241h0m0 10h0m0 3h0m0 19h0m0 10h0m0 2h0m0 16h0m0 7h0m0 8h0m0 26h0m0 24h0m0 60h0m0 1h0m0 6h0m0 26h0m0 15h0m0 19h0m0 14h0m1-265h0m0 4h0m0 4h0m0 1h0m0 2h0m0 7h0m0 9h0m0 1h0m0 9h0m0 3h0m0 6h0m0 5h0m0 8h0m0 3h0m0 1h0m0 8h0m0 14h0m0 39h0m0 12h0m0 35h0m0 15h0m0 8h0m0 4h0m0 2h0m0 6h0m0 24h0m0 28h0m0 21h0m1-282h0m0 7h0m0 8h0m0 4h0m0 1h0m0 16h0m0 9h0m0 7h0m0 6h0m0 17h0m0 5h0m0 11h0m0 5h0m0 13h0m0 13h0m0 15h0m0 13h0m0 12h0m0 38h0m0 19h0m0 16h0m0 11h0m0 5h0m0 24h0m1-257h0m0 4h0m0 4h0m0 19h0m0 16h0m0 5h0m0 1h0m0 7h0m0 38h0m0 28h0m0 14h0m0 24h0m0 20h0m0 9h0m0 2h0m0 1h0m0 24h0m0 10h0m0 6h0m0 19h0m0 5h0m1-276h0m0 2h0m0 2h0m0 11h0m0 1h0m0 2h0m0 1h0m0 7h0m0 6h0m0 15h0m0 10h0m0 4h0m0 17h0m0 2h0m0 12h0m0 47h0m0 53h0m0 51h0m0 20h0m0 22h0m1-283h0m0 20h0m0 3h0m0 13h0m0 2h0m0 4h0m0 21h0m0 1h0m0 7h0m0 26h0m0 22h0m0 32h0m0 23h0m0 52h0m0 9h0m0 5h0m0 10h0m0 28h0m1-274h0m0 1h0m0 4h0m0 2h0m0 27h0m0 4h0m0 4h0m0 1h0m0 31h0m0 1h0m0 5h0m0 33h0m0 48h0m0 41h0m0 6h0m0 5h0m0 31h0m0 15h0m0 2h0m1-254h0m0 31h0m0 4h0m0 1h0m0 5h0m0 8h0m0 40h0m0 49h0m0 30h0m0 22h0m0 21h0m0 8h0m0 13h0m0 6h0m0 16h0m1-260h0m0 6h0m0 2h0m0 1h0m0 1h0m0 2h0m0 5h0m0 10h0m0 3h0m0 27h0m0 5h0m0 12h0m0 13h0m0 92h0m0 2h0m0 11h0m0 17h0m0 23h0m0 4h0m0 2h0m0 15h0m1-256h0m0 11h0m0 11h0m0 9h0m0 3h0m0 6h0m0 6h0m0 12h0m0 3h0m0 13h0m0 8h0m0 81h0m0 13h0m0 15h0m0 16h0m0 13h0m0 9h0m0 17h0m0 19h0m1-262h0m0 8h0m0 2h0m0 3h0m0 18h0m0 7h0m0 10h0m0 9h0m0 12h0m0 138h0m0 55h0m0 5h0m0 10h0m1-285h0m0 6h0m0 9h0m0 10h0m0 4h0m0 11h0m0 4h0m0 12h0m0 11h0m0 5h0m0 2h0m0 15h0m0 48h0m0 3h0m0 26h0m0 27h0m0 9h0m0 29h0m0 24h0m1-250h0m0 2h0m0 28h0m0 9h0m0 18h0m0 10h0m0 29h0m0 69h0m0 23h0m0 5h0m0 34h0m0 29h0m0 14h0m0 8h0m1-276h0m0 2h0m0 2h0m0 15h0m0 2h0m0 16h0m0 14h0m0 5h0m0 16h0m0 77h0m0 34h0m0 32h0m0 10h0m0 5h0m0 9h0m0 11h0m0 2h0m0 3h0m1-258h0m0 4h0m0 12h0m0 3h0m0 1h0m0 20h0m0 2h0m0 12h0m0 3h0m0 2h0m0 14h0m0 36h0m0 31h0m0 24h0m0 5h0m0 12h0m0 33h0m0 24h0m0 23h0m0 6h0m0 6h0m0 7h0m1-273h0m0 5h0m0 1h0m0 1h0m0 25h0m0 3h0m0 13h0m0 41h0m0 2h0m0 16h0m0 12h0m0 59h0m0 23h0m0 1h0m0 20h0m0 17h0m0 20h0m0 2h0m1-268h0m0 10h0m0 12h0m0 3h0m0 7h0m0 2h0m0 6h0m0 12h0m0 3h0m0 2h0m0 8h0m0 1h0m0 3h0m0 2h0m0 1h0m0 10h0m0 54h0m0 28h0m0 20h0m0 18h0m0 10h0m0 56h0m1-272h0m0 3h0m1 0h0m1-3h0m1 3h0m0 33h0m0 5h0m0 13h0m0 2h0m0 2h0m0 2h0m0 25h0m0 12h0m0 26h0m0 4h0m0 49h0m0 5h0m0 98h0m0 6h0m1-283h0m0 4h0m0 3h0m0 1h0m0 10h0m0 15h0m0 2h0m0 12h0m0 10h0m0 15h0m0 16h0m0 8h0m0 25h0m0 16h0m0 25h0m0 47h0m0 23h0m0 28h0m1-258h0m0 2h0m0 13h0m0 6h0m0 2h0m0 4h0m0 5h0m0 6h0m0 1h0m0 6h0m0 10h0m0 2h0m0 5h0m0 3h0m0 31h0m0 43h0m0 13h0m0 24h0m0 9h0m0 1h0m0 6h0m0 3h0m0 15h0m0 55h0m0 3h0m0 8h0m1-275h0m0 8h0m0 21h0m0 2h0m0 4h0m0 46h0m0 22h0m0 4h0m0 21h0m0 49h0m0 79h0m0 11h0m0 5h0m0 5h0m0 2h0m1-273h0m0 20h0m0 2h0m0 1h0m0 4h0m0 1h0m0 6h0m0 4h0m0 1h0m0 11h0m0 8h0m0 30h0m0 79h0m0 26h0m0 57h0m0 15h0m0 3h0m1-276h0m0 2h0m0 2h0m0 7h0m0 11h0m0 12h0m0 21h0m0 5h0m0 7h0m0 1h0m0 18h0m0 113h0m0 4h0m0 39h0m0 5h0m1-244h0m0 3h0m0 2h0m0 4h0m0 3h0m0 4h0m0 3h0m0 8h0m0 16h0m0 2h0m0 29h0m0 49h0m0 34h0m0 8h0m0 8h0m0 6h0m0 4h0m0 11h0m0 29h0m0 19h0m0 2h0m0 7h0m1-246h0m0 4h0m0 4h0m0 3h0m0 9h0m0 23h0m0 15h0m0 1h0m0 98h0m0 16h0m0 10h0m0 48h0m0 28h0m0 13h0m1-281h0m0 2h0m0 1h0m0 2h0m0 1h0m0 2h0m0 15h0m0 5h0m0 11h0m0 22h0m0 20h0m0 13h0m0 54h0m0 22h0m0 12h0m0 17h0m0 2h0m0 18h0m0 15h0m0 5h0m0 40h0m1-272h0m0 4h0m0 2h0m0 13h0m0 5h0m0 7h0m0 5h0m0 7h0m0 4h0m0 4h0m0 110h0m0 5h0m0 5h0m0 7h0m0 26h0m0 19h0m0 8h0m0 19h0m0 4h0m0 14h0m1-274h0m0 2h0m0 4h0m0 7h0m0 5h0m0 10h0m0 5h0m0 3h0m0 4h0m0 6h0m0 2h0m0 10h0m0 4h0m0 21h0m0 112h0m0 11h0m0 2h0m0 6h0m0 4h0m0 10h0m0 23h0m1-240h0m0 43h0m0 11h0m0 6h0m0 62h0m0 45h0m0 9h0m0 17h0m0 11h0m1-219h0m0 17h0m0 23h0m0 1h0m0 1h0m0 15h0m0 12h0m0 85h0m0 35h0m0 3h0m0 24h0m0 8h0m0 58h0m1-278h0m0 2h0m0 7h0m0 4h0m0 25h0m0 9h0m0 1h0m0 2h0m0 5h0m0 6h0m0 89h0m0 12h0m0 10h0m0 6h0m0 4h0m0 2h0m0 17h0m0 1h0m0 12h0m0 25h0m1-242h0m0 2h0m0 2h0m0 1h0m0 1h0m0 8h0m0 2h0m0 2h0m0 6h0m0 4h0m0 2h0m0 7h0m0 12h0m0 49h0m0 29h0m0 74h0m0 4h0m0 25h0m0 8h0m0 1h0m0 3h0m0 28h0m0 15h0m1-282h0m0 13h0m0 1h0m0 9h0m0 3h0m0 1h0m0 14h0m0 18h0m0 3h0m0 6h0m0 102h0m0 6h0m0 7h0m0 15h0m0 40h0m0 9h0m0 4h0m0 17h0m0 15h0m1-282h0m0 12h0m0 7h0m0 4h0m0 4h0m0 1h0m0 6h0m0 6h0m0 1h0m0 2h0m0 3h0m0 13h0m0 8h0m0 2h0m0 2h0m0 6h0m0 112h0m0 4h0m0 18h0m0 4h0m0 19h0m0 7h0m0 21h0m0 2h0m0 5h0m0 2h0m0 3h0m1-272h0m0 10h0m0 2h0m0 2h0m0 4h0m0 14h0m0 8h0m0 9h0m0 42h0m0 67h0m0 22h0m0 15h0m0 30h0m0 10h0m0 7h0m0 15h0m0 7h0m1-269h0m0 2h0m0 11h0m0 1h0m0 4h0m0 2h0m0 6h0m0 23h0m0 8h0m0 16h0m0 1h0m0 8h0m0 13h0m0 59h0m0 29h0m0 3h0m0 6h0m0 5h0m0 1h0m0 4h0m0 8h0m0 3h0m0 1h0m0 3h0m0 59h0m1-274h0m0 6h0m0 2h0m0 6h0m0 13h0m0 6h0m0 5h0m0 2h0m0 1h0m0 9h0m0 3h0m0 2h0m0 1h0m0 8h0m0 8h0m0 16h0m0 57h0m0 18h0m0 12h0m0 11h0m0 26h0m0 5h0m0 5h0m0 16h0m0 23h0m0 16h0m1-281h0m0 7h0m0 2h0m0 6h0m0 1h0m0 2h0m0 10h0m0 2h0m0 12h0m0 8h0m0 1h0m0 17h0m0 20h0m0 1h0m0 8h0m0 13h0m0 40h0m0 47h0m0 19h0m0 28h0m0 16h0m0 11h0m0 5h0m0 8h0m1-280h0m0 1h0m0 17h0m0 14h0m0 3h0m0 2h0m0 9h0m0 4h0m0 38h0m0 44h0m0 19h0m0 27h0m0 8h0m0 11h0m0 38h0m0 6h0m0 8h0m0 15h0m0 5h0m1-269h0m0 12h0m0 4h0m0 9h0m0 10h0m0 11h0m0 3h0m0 9h0m0 8h0m0 17h0m0 27h0m0 22h0m0 33h0m0 24h0m0 22h0m0 2h0m0 8h0m0 37h0m0 11h0m0 7h0m1-275h0m0 6h0m0 5h0m0 4h0m0 17h0m0 7h0m0 5h0m0 4h0m0 122h0m0 21h0m0 4h0m0 20h0m0 2h0m0 1h0m0 6h0m0 6h0m0 14h0m1-244h0m0 11h0m0 10h0m0 28h0m0 11h0m0 22h0m0 29h0m0 50h0m0 24h0m0 21h0m0 21h0m1-223h0m0 7h0m0 7h0m0 7h0m0 6h0m0 1h0m0 5h0m0 8h0m0 1h0m0 4h0m0 8h0m0 11h0m0 14h0m0 92h0m0 8h0m0 5h0m0 16h0m0 6h0m0 11h0m0 14h0m0 6h0m0 2h0m0 9h0m0 22h0m1-272h0m0 3h0m0 8h0m0 35h0m0 3h0m0 2h0m0 1h0m0 1h0m0 12h0m0 61h0m0 34h0m0 10h0m0 14h0m0 11h0m0 5h0m0 43h0m0 15h0m0 11h0m1-268h0m0 4h0m0 13h0m0 1h0m0 9h0m0 2h0m0 21h0m0 5h0m0 34h0m0 31h0m0 24h0m0 56h0m0 16h0m0 35h0m0 4h0m0 13h0m0 8h0m1-283h0m0 3h0m0 2h0m0 6h0m0 14h0m0 13h0m0 5h0m0 17h0m0 16h0m0 44h0m0 15h0m0 85h0m0 15h0m0 5h0m0 4h0m0 21h0m1-264h0m0 1h0m0 13h0m0 5h0m0 5h0m0 7h0m0 5h0m0 11h0m0 1h0m0 6h0m0 4h0m0 2h0m0 9h0m0 73h0m0 32h0m0 27h0m0 31h0m0 35h0m0 4h0m0 9h0m1-281h0m2-2h0m1 1h0m1 2h0m3-1h0m1 5h0m1-4h0m0 1h0m0 2h0m0 6h0m0 30h0m0 5h0m0 2h0m0 8h0m0 13h0m0 4h0m0 13h0m0 16h0m0 32h0m0 47h0m0 23h0m0 4h0m0 11h0m0 14h0m0 43h0m1-276h0m0 1h0m0 7h0m0 3h0m0 3h0m0 5h0m0 11h0m0 6h0m0 7h0m0 13h0m0 2h0m0 26h0m0 4h0m0 21h0m0 17h0m0 54h0m0 4h0m0 3h0m0 2h0m0 7h0m0 1h0m0 19h0m0 4h0m0 5h0m0 27h0m0 25h0m1-277h0m0 3h0m0 16h0m0 14h0m0 1h0m0 3h0m0 2h0m0 5h0m0 4h0m0 13h0m0 7h0m0 3h0m0 68h0m0 15h0m0 14h0m0 4h0m0 1h0m0 7h0m0 38h0m0 3h0m0 21h0m0 3h0m0 8h0m0 23h0m1-278h0m0 5h0m0 1h0m0 2h0m0 7h0m0 12h0m0 9h0m0 4h0m0 24h0m0 2h0m0 8h0m0 122h0m0 3h0m0 18h0m0 6h0m0 10h0m0 8h0m0 38h0m0 7h0m1-279h0m0 3h0m0 32h0m0 6h0m0 5h0m0 3h0m0 3h0m0 44h0m0 58h0m0 78h0m0 44h0m0 1h0m0 1h0m0 2h0m1-285h0m0 2h0m0 1h0m0 9h0m0 5h0m0 6h0m0 4h0m0 2h0m0 19h0m0 10h0m0 13h0m0 14h0m0 11h0m0 1h0m0 14h0m0 77h0m0 10h0m0 3h0m0 2h0m0 21h0m0 6h0m0 47h0m0 1h0m0 2h0m1-280h0m0 2h0m0 4h0m0 17h0m0 9h0m0 12h0m0 11h0m0 54h0m0 36h0m0 32h0m0 15h0m0 19h0m0 15h0m0 18h0m0 29h0m0 6h0m1-278h0m0 1h0m0 17h0m0 1h0m0 19h0m0 13h0m0 7h0m0 9h0m0 12h0m0 120h0m0 11h0m0 3h0m0 4h0m0 65h0m1-284h0m0 2h0m0 1h0m0 21h0m0 7h0m0 1h0m0 5h0m0 7h0m0 7h0m0 6h0m0 7h0m0 2h0m0 6h0m0 11h0m0 16h0m0 16h0m0 85h0m0 8h0m0 34h0m0 5h0m0 13h0m0 3h0m0 9h0m0 14h0m1-287h0m0 19h0m0 1h0m0 1h0m0 14h0m0 1h0m0 12h0m0 9h0m0 2h0m0 1h0m0 8h0m0 6h0m0 35h0m0 61h0m0 3h0m0 8h0m0 17h0m0 7h0m0 35h0m0 9h0m0 9h0m1-246h0m0 12h0m0 9h0m0 5h0m0 2h0m0 5h0m0 1h0m0 10h0m0 6h0m0 14h0m0 10h0m0 23h0m0 29h0m0 8h0m0 30h0m0 4h0m0 27h0m0 5h0m0 7h0m0 9h0m0 9h0m1-236h0m0 3h0m0 1h0m0 1h0m0 1h0m0 2h0m0 7h0m0 1h0m0 7h0m0 25h0m0 2h0m0 3h0m0 7h0m0 9h0m0 2h0m0 18h0m0 4h0m0 88h0m0 14h0m0 2h0m0 17h0m0 6h0m0 37h0m0 9h0m0 7h0m0 6h0m0 5h0m1-283h0m0 1h0m0 12h0m0 14h0m0 4h0m0 4h0m0 10h0m0 2h0m0 2h0m0 5h0m0 4h0m0 4h0m0 12h0m0 46h0m0 36h0m0 39h0m0 6h0m0 3h0m0 12h0m0 8h0m0 28h0m0 1h0m0 4h0m0 1h0m0 21h0m1-280h0m0 9h0m0 16h0m0 14h0m0 16h0m0 10h0m0 36h0m0 26h0m0 6h0m0 82h0m0 2h0m0 1h0m0 6h0m0 18h0m0 12h0m0 23h0m1-256h0m0 5h0m0 5h0m0 2h0m0 9h0m0 20h0m0 2h0m0 5h0m0 3h0m0 47h0m0 47h0m0 7h0m0 2h0m0 29h0m0 16h0m0 41h0m0 8h0m0 8h0m1-275h0m0 4h0m0 5h0m0 1h0m0 12h0m0 3h0m0 2h0m0 13h0m0 33h0m0 16h0m0 7h0m0 82h0m0 14h0m0 7h0m0 63h0m0 1h0m0 5h0m1-271h0m0 1h0m0 5h0m0 6h0m0 2h0m0 2h0m0 5h0m0 5h0m0 8h0m0 9h0m0 3h0m0 1h0m0 123h0m0 17h0m0 13h0m0 6h0m0 1h0m0 16h0m0 1h0m0 26h0m0 8h0m0 14h0m1-270h0m0 2h0m1-5h0m0 4h0m1 0h0m0 3h0m1 0h0m0 4h0m0 2h0m0 5h0m0 26h0m0 12h0m0 11h0m0 24h0m0 42h0m0 91h0m0 12h0m0 7h0m0 20h0m0 17h0m0 2h0m1-278h0m0 5h0m0 11h0m0 5h0m0 2h0m0 1h0m0 19h0m0 6h0m0 2h0m0 19h0m0 94h0m0 5h0m0 6h0m0 5h0m0 16h0m0 12h0m0 26h0m0 21h0m0 4h0m0 14h0m1-271h0m0 3h0m0 5h0m0 3h0m0 15h0m0 1h0m0 3h0m0 14h0m0 2h0m0 3h0m0 7h0m0 6h0m0 20h0m0 5h0m0 31h0m0 16h0m0 10h0m0 21h0m0 48h0m0 13h0m0 2h0m0 9h0m0 16h0m1-252h0m0 9h0m0 1h0m0 6h0m0 4h0m0 2h0m0 1h0m0 2h0m0 23h0m0 11h0m0 152h0m0 53h0m0 7h0m0 6h0m0 1h0m0 1h0m1-285h0m0 9h0m0 5h0m0 2h0m0 2h0m0 4h0m0 9h0m0 3h0m0 61h0m0 40h0m0 40h0m0 19h0m0 18h0m0 3h0m0 9h0m0 9h0m0 9h0m0 17h0m0 25h0m1-269h0m0 8h0m0 5h0m0 1h0m0 4h0m0 31h0m0 16h0m0 61h0m0 3h0m0 5h0m0 10h0m0 19h0m0 26h0m0 2h0m0 13h0m0 22h0m0 13h0m0 8h0m0 13h0m0 3h0m1-277h0m0 14h0m0 3h0m0 4h0m0 3h0m0 11h0m0 10h0m0 2h0m0 3h0m0 4h0m0 7h0m0 20h0m0 23h0m0 103h0m1-209h0m0 5h0m0 12h0m0 2h0m0 7h0m0 3h0m0 2h0m0 2h0m0 8h0m0 22h0m0 2h0m0 3h0m0 12h0m0 4h0m0 2h0m0 18h0m0 16h0m0 24h0m0 18h0m0 5h0m0 20h0m0 6h0m0 2h0m0 26h0m0 8h0m0 7h0m0 18h0m1-252h0m0 23h0m0 5h0m0 6h0m0 11h0m0 145h0m0 42h0m0 15h0m0 28h0m1-274h0m0 6h0m0 2h0m0 1h0m0 12h0m0 7h0m0 6h0m0 1h0m0 1h0m0 2h0m0 6h0m0 96h0m0 50h0m0 10h0m0 9h0m0 38h0m0 19h0m0 8h0m1-240h0m0 1h0m0 9h0m0 12h0m0 29h0m0 23h0m0 86h0m0 7h0m0 17h0m0 6h0m0 9h0m0 14h0m1-248h0m0 8h0m0 5h0m0 5h0m0 6h0m0 19h0m0 1h0m0 8h0m0 47h0m0 25h0m0 26h0m0 4h0m0 88h0m0 7h0m0 15h0m1-263h0m0 1h0m0 3h0m0 4h0m0 20h0m0 3h0m0 4h0m0 7h0m0 4h0m0 4h0m0 2h0m0 10h0m0 7h0m0 31h0m0 57h0m0 19h0m0 12h0m0 3h0m0 82h0m0 7h0m0 3h0m1-280h0m0 12h0m0 31h0m0 1h0m0 1h0m0 4h0m0 11h0m0 2h0m0 5h0m0 22h0m0 89h0m0 6h0m0 49h0m0 10h0m0 19h0m0 13h0m1-279h0m0 1h0m0 2h0m0 17h0m0 13h0m0 2h0m0 7h0m0 11h0m0 29h0m0 100h0m0 23h0m0 16h0m0 12h0m0 33h0m0 5h0m0 3h0m0 2h0m0 7h0m1-285h0m0 4h0m0 1h0m0 1h0m0 2h0m0 1h0m0 4h0m0 11h0m0 8h0m0 3h0m0 16h0m0 5h0m0 2h0m0 14h0m0 11h0m0 5h0m0 8h0m0 2h0m0 14h0m0 18h0m0 1h0m0 59h0m0 13h0m0 19h0m0 11h0m0 23h0m0 11h0m0 5h0m0 14h0m1-283h0m0 1h0m0 3h0m0 5h0m0 12h0m0 16h0m0 2h0m0 12h0m0 6h0m0 1h0m0 1h0m0 6h0m0 2h0m0 9h0m0 11h0m0 42h0m0 71h0m0 35h0m0 21h0m0 3h0m0 6h0m0 3h0m0 10h0m0 5h0m1-282h0m0 1h0m0 2h0m0 23h0m0 4h0m0 7h0m0 5h0m0 15h0m0 9h0m0 4h0m0 6h0m0 1h0m0 8h0m0 3h0m0 5h0m0 33h0m0 1h0m0 45h0m0 8h0m0 6h0m0 5h0m0 3h0m0 11h0m0 1h0m0 20h0m0 51h0m1-266h0m0 7h0m0 1h0m0 2h0m0 1h0m0 4h0m0 4h0m0 2h0m0 10h0m0 3h0m0 4h0m0 2h0m0 15h0m0 7h0m0 30h0m0 49h0m0 27h0m0 4h0m0 8h0m0 18h0m0 29h0m0 4h0m0 11h0m0 23h0m0 2h0m1-280h0m0 11h0m0 12h0m0 5h0m0 9h0m0 10h0m0 4h0m0 3h0m0 1h0m0 5h0m0 1h0m0 3h0m0 43h0m0 89h0m0 10h0m0 19h0m0 6h0m0 26h0m0 21h0m1-280h0m0 2h0m3-1h0m0 2h0m0 1h0m0 9h0m0 8h0m0 15h0m0 22h0m0 53h0m0 17h0m0 75h0m0 21h0m0 46h0m0 3h0m1-270h0m0 1h0m0 2h0m0 3h0m0 21h0m0 2h0m0 2h0m0 14h0m0 1h0m0 7h0m0 6h0m0 5h0m0 5h0m0 2h0m0 7h0m0 18h0m0 6h0m0 78h0m0 1h0m0 13h0m0 41h0m0 1h0m1-233h0m0 1h0m0 8h0m0 5h0m0 22h0m0 6h0m0 1h0m0 10h0m0 25h0m0 20h0m0 34h0m0 5h0m0 117h0m0 5h0m0 13h0m0 8h0m1-283h0m0 8h0m0 3h0m0 10h0m0 8h0m0 18h0m0 14h0m0 1h0m0 2h0m0 9h0m0 38h0m0 35h0m0 72h0m0 33h0m0 11h0m0 11h0m1-272h0m0 1h0m0 17h0m0 12h0m0 4h0m0 4h0m0 1h0m0 9h0m0 9h0m0 7h0m0 1h0m0 20h0m0 15h0m0 32h0m0 12h0m0 90h0m0 5h0m0 4h0m0 13h0m0 1h0m0 7h0m0 1h0m0 5h0m0 4h0m0 3h0m1-274h0m0 5h0m0 8h0m0 4h0m0 16h0m0 23h0m0 3h0m0 14h0m0 26h0m0 31h0m0 14h0m0 22h0m0 24h0m0 9h0m0 35h0m0 4h0m0 30h0m1-271h0m0 6h0m0 4h0m0 27h0m0 9h0m0 6h0m0 1h0m0 4h0m0 114h0m0 39h0m0 21h0m0 4h0m0 6h0m0 18h0m0 8h0m1-266h0m0 3h0m0 2h0m0 9h0m0 4h0m0 34h0m0 3h0m0 7h0m0 68h0m0 31h0m0 23h0m0 31h0m0 20h0m0 15h0m1-251h0m0 13h0m0 2h0m0 2h0m0 1h0m0 11h0m0 15h0m0 5h0m0 3h0m0 4h0m0 1h0m0 12h0m0 3h0m0 1h0m0 68h0m0 24h0m0 19h0m0 1h0m0 3h0m0 1h0m0 28h0m0 11h0m0 25h0m0 18h0m0 1h0m0 1h0m0 8h0m1-282h0m0 1h0m0 23h0m0 16h0m0 6h0m0 7h0m0 1h0m0 6h0m0 3h0m0 85h0m0 41h0m0 2h0m0 4h0m0 24h0m0 2h0m0 1h0m0 22h0m0 2h0m0 1h0m0 19h0m0 6h0m1-272h0m0 13h0m0 22h0m0 24h0m0 1h0m0 13h0m0 79h0m0 1h0m0 18h0m0 3h0m0 20h0m0 1h0m0 11h0m0 18h0m0 14h0m0 1h0m0 19h0m0 4h0m0 2h0m0 19h0m0 1h0m1-276h0m0 1h0m0 12h0m0 6h0m0 15h0m0 2h0m0 4h0m0 6h0m0 5h0m0 2h0m0 8h0m0 6h0m0 9h0m0 36h0m0 20h0m0 3h0m0 16h0m0 14h0m0 18h0m0 14h0m0 14h0m1-223h0m0 10h0m0 4h0m0 9h0m0 11h0m0 18h0m0 22h0m0 90h0m0 8h0m0 13h0m0 39h0m0 4h0m0 12h0m0 2h0m0 6h0m0 11h0m0 2h0m1-255h0m0 14h0m0 5h0m0 1h0m0 1h0m0 16h0m0 1h0m0 5h0m0 7h0m0 12h0m0 26h0m0 24h0m0 4h0m0 62h0m0 3h0m0 12h0m0 13h0m0 3h0m0 53h0m0 5h0m1-271h0m0 7h0m0 17h0m0 5h0m0 3h0m0 1h0m0 16h0m0 1h0m0 2h0m0 3h0m0 36h0m0 14h0m0 84h0m0 9h0m0 7h0m0 2h0m0 6h0m0 46h0m0 3h0m1-246h0m0 7h0m0 18h0m0 21h0m0 1h0m0 12h0m0 148h0m0 21h0m0 14h0m0 4h0m0 10h0m1-274h0m0 5h0m0 6h0m0 14h0m0 2h0m0 28h0m0 44h0m0 76h0m0 8h0m0 27h0m0 4h0m0 7h0m0 23h0m0 2h0m0 2h0m0 10h0m0 28h0m1-287h0m0 25h0m0 4h0m0 6h0m0 15h0m0 1h0m0 21h0m0 1h0m0 6h0m0 14h0m0 36h0m0 13h0m0 33h0m0 42h0m0 12h0m0 52h0m0 5h0m1-277h0m0 11h0m0 3h0m0 9h0m0 10h0m0 12h0m0 5h0m0 9h0m0 17h0m0 25h0m0 1h0m0 21h0m0 2h0m0 41h0m0 44h0m0 33h0m1-248h0m0 35h0m0 9h0m0 7h0m0 1h0m0 1h0m0 16h0m0 10h0m0 74h0m0 3h0m0 50h0m0 10h0m0 16h0m0 2h0m0 14h0m0 12h0m0 19h0m1-283h0m0 6h0m0 4h0m0 2h0m0 1h0m0 1h0m0 6h0m0 1h0m0 14h0m0 2h0m0 3h0m0 1h0m0 91h0m0 63h0m0 25h0m0 17h0m0 5h0m1-228h0m0 3h0m0 2h0m0 4h0m0 13h0m0 10h0m0 9h0m0 52h0m0 3h0m0 20h0m0 51h0m0 45h0m0 18h0m0 14h0m0 9h0m0 20h0m1-285h0m0 3h0m0 2h0m0 1h0m0 6h0m0 8h0m0 2h0m0 5h0m0 10h0m0 20h0m0 2h0m0 6h0m0 14h0m0 58h0m0 44h0m0 9h0m0 3h0m0 14h0m0 48h0m0 9h0m0 16h0m1-282h0m0 4h0m1 0h0m1-5h0m0 4h0m0 1h0m1 11h0m0 2h0m0 1h0m0 5h0m0 12h0m0 5h0m0 14h0m0 7h0m0 5h0m0 3h0m0 72h0m0 12h0m0 14h0m0 39h0m0 14h0m0 1h0m0 12h0m0 32h0m0 5h0m0 5h0m1-270h0m0 7h0m0 4h0m0 3h0m0 29h0m0 4h0m0 4h0m0 22h0m0 22h0m0 9h0m0 21h0m0 11h0m0 15h0m0 27h0m0 12h0m0 6h0m0 6h0m0 13h0m0 3h0m0 20h0m0 11h0m0 5h0m0 7h0m0 13h0m0 1h0m1-277h0m0 14h0m0 7h0m0 6h0m0 6h0m0 1h0m0 16h0m0 16h0m0 30h0m0 4h0m0 60h0m0 11h0m0 7h0m0 12h0m0 16h0m0 7h0m0 16h0m0 29h0m0 20h0m1-278h0m0 13h0m0 20h0m0 3h0m0 11h0m0 6h0m0 9h0m0 5h0m0 6h0m0 2h0m0 120h0m0 6h0m0 35h0m0 11h0m0 11h0m0 3h0m0 9h0m0 6h0m1-276h0m0 11h0m0 1h0m0 5h0m0 11h0m0 3h0m0 9h0m0 53h0m0 38h0m0 45h0m0 13h0m0 4h0m0 9h0m0 10h0m0 3h0m0 12h0m0 24h0m0 19h0m0 9h0m1-282h0m0 29h0m0 2h0m0 3h0m0 5h0m0 3h0m0 8h0m0 12h0m0 3h0m0 2h0m0 7h0m0 13h0m0 6h0m0 79h0m0 23h0m0 1h0m0 2h0m0 1h0m0 10h0m0 63h0m0 11h0m1-266h0m0 4h0m0 16h0m0 16h0m0 5h0m0 2h0m0 3h0m0 15h0m0 7h0m0 12h0m0 40h0m0 77h0m0 1h0m0 17h0m0 16h0m0 20h0m1-264h0m0 7h0m0 10h0m0 7h0m0 7h0m0 12h0m0 4h0m0 6h0m0 10h0m0 1h0m0 130h0m0 8h0m0 1h0m0 4h0m0 16h0m0 29h0m0 3h0m0 25h0m0 3h0m1-287h0m0 2h0m0 3h0m0 6h0m0 10h0m0 17h0m0 6h0m0 2h0m0 18h0m0 2h0m0 1h0m0 16h0m0 11h0m0 9h0m0 10h0m0 7h0m0 18h0m0 14h0m0 1h0m0 33h0m0 5h0m0 56h0m0 9h0m1-257h0m0 11h0m0 15h0m0 1h0m0 2h0m0 11h0m0 1h0m0 8h0m0 12h0m0 3h0m0 59h0m0 22h0m0 23h0m0 23h0m0 16h0m0 57h0m0 19h0m1-279h0m0 7h0m0 5h0m0 3h0m0 3h0m0 5h0m0 3h0m0 11h0m0 20h0m0 4h0m0 5h0m0 19h0m0 22h0m0 81h0m0 19h0m0 2h0m0 7h0m0 3h0m0 1h0m0 2h0m0 2h0m0 44h0m0 6h0m1-277h0m0 3h0m0 1h0m0 2h0m0 3h0m0 12h0m0 4h0m0 6h0m0 1h0m0 11h0m0 18h0m0 3h0m0 5h0m0 16h0m0 94h0m0 15h0m0 7h0m0 12h0m0 26h0m1-230h0m0 3h0m0 10h0m0 9h0m0 4h0m0 6h0m0 5h0m0 14h0m0 31h0m0 40h0m0 56h0m0 21h0m0 23h0m0 10h0m0 9h0m0 8h0m0 3h0m0 4h0m0 5h0m0 16h0m0 1h0m1-289h0m0 17h0m0 10h0m0 9h0m0 2h0m0 8h0m0 1h0m0 2h0m0 3h0m0 31h0m0 78h0m0 12h0m0 36h0m0 1h0m0 18h0m0 8h0m0 10h0m0 6h0m0 2h0m0 4h0m0 13h0m0 9h0m1-277h0m0 10h0m0 4h0m0 13h0m0 3h0m0 1h0m0 18h0m0 9h0m0 6h0m0 3h0m0 84h0m0 29h0m0 35h0m0 1h0m1-212h0m0 3h0m0 4h0m0 1h0m0 2h0m0 12h0m0 26h0m0 9h0m0 26h0m0 41h0m0 74h0m0 34h0m0 6h0m0 19h0m0 8h0m0 3h0m1-270h0m0 1h0m0 4h0m0 17h0m0 5h0m0 14h0m0 2h0m0 2h0m0 5h0m0 23h0m0 43h0m0 67h0m0 2h0m0 14h0m0 7h0m0 3h0m0 31h0m0 6h0m1-248h0m0 3h0m0 1h0m0 2h0m0 4h0m0 4h0m0 7h0m0 6h0m0 7h0m0 10h0m0 1h0m0 1h0m0 2h0m0 8h0m0 14h0m0 7h0m0 20h0m0 16h0m0 70h0m0 13h0m0 1h0m0 15h0m0 67h0m1-267h0m0 5h0m0 16h0m0 1h0m0 16h0m0 5h0m0 2h0m0 2h0m0 1h0m0 1h0m0 89h0m0 11h0m0 36h0m0 8h0m0 4h0m0 7h0m0 12h0m0 14h0m0 34h0m1-265h0m0 5h0m0 4h0m0 1h0m0 1h0m0 6h0m0 2h0m0 4h0m0 5h0m0 11h0m0 18h0m0 12h0m0 19h0m0 25h0m0 31h0m0 18h0m0 30h0m0 12h0m0 20h0m0 20h0m0 11h0m1-266h0m0 1h0m0 7h0m0 13h0m0 9h0m0 1h0m0 24h0m0 2h0m0 3h0m0 2h0m0 11h0m0 10h0m0 35h0m0 25h0m0 36h0m0 39h0m0 29h0m0 6h0m0 10h0m0 5h0m1-266h0m0 38h0m0 3h0m0 1h0m0 2h0m0 6h0m0 17h0m0 2h0m0 101h0m0 32h0m0 25h0m0 7h0m0 8h0m0 14h0m0 4h0m0 8h0m0 7h0m0 1h0m1-277h0m0 1h0m0 3h0m0 6h0m0 6h0m0 6h0m0 8h0m0 5h0m0 2h0m0 4h0m0 4h0m0 6h0m0 10h0m0 1h0m0 16h0m0 53h0m0 21h0m0 33h0m0 19h0m0 16h0m0 3h0m0 1h0m0 18h0m0 17h0m0 3h0m0 19h0m1-273h0m0 1h0m0 2h0m0 2h0m0 15h0m0 12h0m0 6h0m0 3h0m0 7h0m0 1h0m0 3h0m0 19h0m0 13h0m0 88h0m0 5h0m0 2h0m0 23h0m0 10h0m0 18h0m0 19h0m0 9h0m0 9h0m1-258h0m0 5h0m0 5h0m0 8h0m0 17h0m0 6h0m0 7h0m0 64h0m0 84h0m0 17h0m0 3h0m0 1h0m0 3h0m0 1h0m0 8h0m0 3h0m0 10h0m0 5h0m1-260h0m0 1h0m0 2h0m0 2h0m0 8h0m0 2h0m0 6h0m0 14h0m0 3h0m0 1h0m0 3h0m0 9h0m0 1h0m0 14h0m0 103h0m0 8h0m0 7h0m0 17h0m0 11h0m0 21h0m0 4h0m0 3h0m0 4h0m0 3h0m0 4h0m0 3h0m0 7h0m0 11h0m1-261h0m0 16h0m0 11h0m0 1h0m0 9h0m0 3h0m0 17h0m0 37h0m0 35h0m0 20h0m0 16h0m0 4h0m0 24h0m0 16h0m0 23h0m0 21h0m0 6h0m0 1h0m1-274h0m0 9h0m0 13h0m0 14h0m0 9h0m0 2h0m0 8h0m0 4h0m0 2h0m0 134h0m0 1h0m0 7h0m0 8h0m0 25h0m0 3h0m0 5h0m0 3h0m0 6h0m1-258h0m0 1h0m0 4h0m0 9h0m0 3h0m0 23h0m0 3h0m0 8h0m0 1h0m0 48h0m0 23h0m0 44h0m0 25h0m0 30h0m0 2h0m0 1h0m0 10h0m0 5h0m0 19h0m0 23h0m1-276h0m0 1h0m0 8h0m0 6h0m0 13h0m0 10h0m0 6h0m0 7h0m0 8h0m0 25h0m0 33h0m0 50h0m0 19h0m0 39h0m0 5h0m0 8h0m0 27h0m1-264h0m0 2h0m0 5h0m0 12h0m0 35h0m0 120h0m0 42h0m0 17h0m0 1h0m0 8h0m0 27h0m0 3h0m0 9h0m1-283h0m0 10h0m0 5h0m0 1h0m0 10h0m0 8h0m0 2h0m0 21h0m0 24h0m0 36h0m0 14h0m0 53h0m0 1h0m0 8h0m0 29h0m0 4h0m0 1h0m0 27h0m0 4h0m0 1h0m1-262h0m0 12h0m0 10h0m0 2h0m0 2h0m0 7h0m0 5h0m0 9h0m0 14h0m0 2h0m0 18h0m0 49h0m0 8h0m0 55h0m0 12h0m0 1h0m0 11h0m0 10h0m0 1h0m0 24h0m0 4h0m0 1h0m0 10h0m0 1h0m0 1h0m0 10h0m1-254h0m0 33h0m0 105h0m0 39h0m0 31h0m0 12h0m0 4h0m0 2h0m0 8h0m0 8h0m0 1h0m0 14h0m0 3h0m0 1h0m1-284h0m0 7h0m0 3h0m0 13h0m0 5h0m0 3h0m0 12h0m0 3h0m0 2h0m0 6h0m0 5h0m0 3h0m0 5h0m0 12h0m0 74h0m0 39h0m0 7h0m0 37h0m0 3h0m0 2h0m0 20h0m0 1h0m0 5h0m0 8h0m0 6h0m1-277h0m0 2h0m0 1h0m0 23h0m0 14h0m0 10h0m0 3h0m0 4h0m0 100h0m0 19h0m0 7h0m0 5h0m0 23h0m0 2h0m0 3h0m0 4h0m0 15h0m0 5h0m0 4h0m0 20h0m1-262h0m0 2h0m0 3h0m0 6h0m0 5h0m0 1h0m0 5h0m0 3h0m0 5h0m0 2h0m0 5h0m0 1h0m0 4h0m0 2h0m0 9h0m0 6h0m0 8h0m0 11h0m0 76h0m0 15h0m0 10h0m0 4h0m0 6h0m0 22h0m0 16h0m0 15h0m0 14h0m1-257h0m0 6h0m0 9h0m0 14h0m0 3h0m0 2h0m0 1h0m0 16h0m0 6h0m0 18h0m0 15h0m0 12h0m0 38h0m0 37h0m0 36h0m0 2h0m0 7h0m0 4h0m0 2h0m0 2h0m0 13h0m0 24h0m1-274h0m0 10h0m0 1h0m0 4h0m0 5h0m0 2h0m0 8h0m0 12h0m0 3h0m0 1h0m0 5h0m0 5h0m0 4h0m0 7h0m0 7h0m0 2h0m0 6h0m0 4h0m0 7h0m0 19h0m0 41h0m0 1h0m0 7h0m0 19h0m0 14h0m0 15h0m0 8h0m0 2h0m0 6h0m0 3h0m0 2h0m0 12h0m0 2h0m0 21h0m1-266h0m0 3h0m0 14h0m0 2h0m0 3h0m0 1h0m0 1h0m0 11h0m0 10h0m0 11h0m0 1h0m0 13h0m0 121h0m0 4h0m0 13h0m0 40h0m0 12h0m0 12h0m0 3h0m0 1h0m0 4h0m1-274h0m0 8h0m0 6h0m0 3h0m0 1h0m0 1h0m0 4h0m0 13h0m0 13h0m0 5h0m0 14h0m0 14h0m0 38h0m0 8h0m0 66h0m0 7h0m0 5h0m0 56h0m0 3h0m0 14h0m1-282h0m0 4h0m0 23h0m0 17h0m0 1h0m0 1h0m0 1h0m0 2h0m0 8h0m0 3h0m0 2h0m0 1h0m0 53h0m0 58h0m0 1h0m0 5h0m0 30h0m0 40h0m0 10h0m0 22h0m1-284h0m0 1h0m0 28h0m0 2h0m0 6h0m0 4h0m0 7h0m0 1h0m0 5h0m0 2h0m0 3h0m0 23h0m0 7h0m0 15h0m0 29h0m0 50h0m0 25h0m0 2h0m0 2h0m0 8h0m0 2h0m0 33h0m0 19h0m1-267h0m0 3h0m0 2h0m0 5h0m0 5h0m0 1h0m0 19h0m0 5h0m0 56h0m0 69h0m0 5h0m0 25h0m0 6h0m0 21h0m0 14h0m0 33h0m1-276h0m0 1h0m0 3h0m0 11h0m0 7h0m0 9h0m0 10h0m0 1h0m0 21h0m0 3h0m0 22h0m0 10h0m0 6h0m0 44h0m0 6h0m0 60h0m0 12h0m0 39h0m1-266h0m0 11h0m0 28h0m0 2h0m0 1h0m0 9h0m0 13h0m0 3h0m0 18h0m0 3h0m0 57h0m0 35h0m0 27h0m0 18h0m0 2h0m0 2h0m0 2h0m0 20h0m0 28h0m0 5h0m1-282h0m0 5h0m0 5h0m0 6h0m0 5h0m0 8h0m0 10h0m0 6h0m0 1h0m0 35h0m0 74h0m0 3h0m0 8h0m0 3h0m0 43h0m0 26h0m0 6h0m0 22h0m0 1h0m1-271h0m0 2h0m0 1h0m0 4h0m0 3h0m0 4h0m0 4h0m0 9h0m0 6h0m0 1h0m0 1h0m0 6h0m0 15h0m0 10h0m0 9h0m0 39h0m0 16h0m0 15h0m0 31h0m0 20h0m0 2h0m0 35h0m0 11h0m0 7h0m1-236h0m0 3h0m0 1h0m0 6h0m0 15h0m0 20h0m0 12h0m0 2h0m0 23h0m0 28h0m0 24h0m0 24h0m0 33h0m0 15h0m0 18h0m1-236h0m0 2h0m0 7h0m0 8h0m0 6h0m0 1h0m0 2h0m0 1h0m0 1h0m0 4h0m0 1h0m0 6h0m0 15h0m0 4h0m0 1h0m0 5h0m0 3h0m0 14h0m0 5h0m0 8h0m0 91h0m0 6h0m0 14h0m0 4h0m0 18h0m0 1h0m0 9h0m0 2h0m0 1h0m1-240h0m0 14h0m0 10h0m0 2h0m0 1h0m0 1h0m0 12h0m0 2h0m0 6h0m0 5h0m0 1h0m0 8h0m0 30h0m0 7h0m0 94h0m0 22h0m0 8h0m0 21h0m0 1h0m1-244h0m0 1h0m0 2h0m0 5h0m0 9h0m0 3h0m0 1h0m0 15h0m0 19h0m0 27h0m0 1h0m0 8h0m0 59h0m0 27h0m0 1h0m0 2h0m0 3h0m0 6h0m0 41h0m0 12h0m0 23h0m0 5h0m0 1h0m0 7h0m1-276h0m0 1h0m0 14h0m0 10h0m0 1h0m0 13h0m0 21h0m0 4h0m0 29h0m0 18h0m0 9h0m0 13h0m0 52h0m0 1h0m0 7h0m0 14h0m0 35h0m0 2h0m0 8h0m1-244h0m0 7h0m0 1h0m0 7h0m0 4h0m0 1h0m0 7h0m0 32h0m0 1h0m0 3h0m0 25h0m0 42h0m0 18h0m0 1h0m0 22h0m0 5h0m0 8h0m0 13h0m0 1h0m0 14h0m0 25h0m0 27h0m1-269h0m0 18h0m0 7h0m0 4h0m0 11h0m0 2h0m0 11h0m0 8h0m0 19h0m0 15h0m0 16h0m0 76h0m0 9h0m0 7h0m0 36h0m0 1h0m1-244h0m0 13h0m0 6h0m0 13h0m0 40h0m0 4h0m0 13h0m0 19h0m0 27h0m0 21h0m0 16h0m0 11h0m0 7h0m0 1h0m0 7h0m0 4h0m0 10h0m0 5h0m0 5h0m0 14h0m0 2h0m0 19h0m0 21h0m1-274h0m0 6h0m0 1h0m0 6h0m0 9h0m0 9h0m0 2h0m0 13h0m0 4h0m0 8h0m0 9h0m0 1h0m0 88h0m0 5h0m0 60h0m0 4h0m0 1h0m0 3h0m0 32h0m1-266h0m0 16h0m0 1h0m0 9h0m0 14h0m0 5h0m0 5h0m0 2h0m0 7h0m0 17h0m0 57h0m0 18h0m0 34h0m0 11h0m0 26h0m0 3h0m0 22h0m0 17h0m0 3h0m0 6h0m1-278h0m0 4h0m0 2h0m0 10h0m0 2h0m0 14h0m0 2h0m0 1h0m0 13h0m0 4h0m0 18h0m0 13h0m0 6h0m0 20h0m0 64h0m0 27h0m0 32h0m0 1h0m0 8h0m0 26h0m0 7h0m0 7h0m1-277h0m0 3h0m0 2h0m0 2h0m0 33h0m0 15h0m0 4h0m0 5h0m0 1h0m0 21h0m0 3h0m0 97h0m0 7h0m0 10h0m0 9h0m0 21h0m0 4h0m0 5h0m0 37h0m0 5h0m1-287h0m0 2h0m0 6h0m0 10h0m0 7h0m0 14h0m0 4h0m0 6h0m0 8h0m0 1h0m0 5h0m0 65h0m0 1h0m0 26h0m0 61h0m0 15h0m0 6h0m0 27h0m1-261h0m0 3h0m0 13h0m0 35h0m0 1h0m0 3h0m0 2h0m0 4h0m0 14h0m0 43h0m0 30h0m0 21h0m0 34h0m0 20h0m0 11h0m0 21h0m0 2h0m0 1h0m1-258h0m0 1h0m0 3h0m0 4h0m0 11h0m0 7h0m0 5h0m0 5h0m0 4h0m0 6h0m0 3h0m0 2h0m0 2h0m0 11h0m0 10h0m0 1h0m0 3h0m0 7h0m0 13h0m0 17h0m0 46h0m0 17h0m0 31h0m0 8h0m0 6h0m0 30h0m0 32h0m1-282h0m0 3h0m0 1h0m0 5h0m0 4h0m0 1h0m0 2h0m0 3h0m0 5h0m0 3h0m0 1h0m0 9h0m0 9h0m0 1h0m0 2h0m0 2h0m0 19h0m0 2h0m0 3h0m0 135h0m0 10h0m0 28h0m0 7h0m0 2h0m0 7h0m0 4h0m0 11h0m1-286h0m0 8h0m0 6h0m0 9h0m0 1h0m0 16h0m0 17h0m0 1h0m0 10h0m0 6h0m0 3h0m0 32h0m0 108h0m0 27h0m0 20h0m0 9h0m0 6h0m0 10h0m1-289h0m0 4h0m0 2h0m0 1h0m0 1h0m0 2h0m0 10h0m0 26h0m0 15h0m0 17h0m0 45h0m0 98h0m0 8h0m0 5h0m0 5h0m0 8h0m0 6h0m0 3h0m1-256h0m0 10h0m0 2h0m0 2h0m0 17h0m0 4h0m0 5h0m0 2h0m0 12h0m0 5h0m0 19h0m0 2h0m0 8h0m0 100h0m0 4h0m0 13h0m0 2h0m0 25h0m0 14h0m0 14h0m0 9h0m0 8h0m1-263h0m0 6h0m0 24h0m0 10h0m0 7h0m0 1h0m0 21h0m0 41h0m0 38h0m0 17h0m0 17h0m0 2h0m0 25h0m0 5h0m0 6h0m0 6h0m0 2h0m0 15h0m0 3h0m0 12h0m0 4h0m1-246h0m0 48h0m0 108h0m0 38h0m0 17h0m0 15h0m0 7h0m0 17h0" stroke="#0000ff" stroke-width="5.2" stroke-linecap="round" fill="none" clip-path="url(#cp1)"/>
<path d="M647 910h0m2-3h0m4 55h0m2-53h0m1 51h0m1 1h0m1-52h0m1 51h0m0 2h0m0 1h0m2-54h0m0 51h0m2-53h0m1 2h0m0 52h0m1-53h0m0 2h0m5 0h0m1 52h0m1-2h0m1-51h0m2 52h0m4 1h0m2-53h0m1-1h0m1 0h0m1 55h0m2-2h0m1-52h0m1-1h0m0 1h0m1 2h0m1-1h0m0 1h0m1 51h0m1-2h0m1 3h0m6-2h0m4-52h0m2 2h0m2 1h0m1-1h0m5 49h0m1-50h0m0 52h0m2-52h0m1 1h0m0 51h0m7 0h0m1-51h0m1-2h0m2 53h0m1-52h0m0 52h0m1-51h0m2 1h0m1-3h0m0 1h0m0 51h0m1-50h0m1 51h0m1-51h0m1 1h0m1 49h0m1-48h0m3-3h0m0 1h0m0 49h0m1-49h0m4 1h0m2-1h0m1-1h0m0 3h0m1 47h0m2-48h0m1 49h0m2-48h0m2-2h0m1 50h0m1-48h0m1-3h0m0 3h0m1-2h0m0 49h0m5 0h0m1-48h0m2 1h0m0 48h0m1-48h0m0 47h0m2 3h0m4 0h0m5-50h0m0 50h0m2-3h0m4 2h0m1-51h0m3 1h0m0 2h0m1 47h0m2-48h0m0 47h0m2-46h0m0 47h0m0 2h0m3-2h0m1 1h0m1-47h0m1 46h0m0 1h0m1-1h0m1-47h0m1 0h0m1 49h0m1-51h0m0 50h0m2 0h0m1 2h0m1-2h0m2-50h0m0 3h0m3-3h0m0 49h0m2-48h0m1 48h0m1-47h0m2 49h0m1 0h0m1-1h0m3-48h0m5 2h0m0 47h0m1-50h0m0 49h0m0 1h0m4-3h0m0 1h0m2 2h0m3 0h0m2 0h0m1-48h0m0 1h0m0 46h0m1-47h0m0 1h0m0 45h0m1-45h0m3 47h0m1-49h0m3 1h0m1 47h0m1 2h0m1-49h0m4 47h0m1-48h0m0 3h0m1-1h0m0 1h0m0 46h0m1 0h0m3-1h0m1-47h0m0 2h0m2 47h0m6-2h0m1-47h0m1-1h0m0 50h0m3-49h0m0 48h0m1-1h0m1-47h0m0 48h0m2-47h0m1-1h0m0 47h0m0 1h0m1-47h0m1 0h0m0 46h0m1-47h0m0 3h0m0 45h0m1-45h0m1 0h0m1-2h0m0 47h0m2-46h0m0 44h0m2-44h0m4 0h0m1 46h0m1-46h0m0 1h0m5 0h0m2 43h0m1-45h0m0 45h0m2 3h0m4-47h0m3 44h0m3 1h0m1-45h0m0 1h0m3 45h0m3-47h0m5 46h0m0 1h0m4-1h0m1-46h0m0 46h0m6-45h0m4 46h0m1 1h0m2-48h0m1 3h0m0 44h0m2-45h0m3 44h0m4 2h0m1-46h0m0 46h0m3-48h0m0 46h0m5-44h0m0 45h0m1-44h0m0 43h0m0 1h0m2-44h0m0 43h0m2-45h0m5 47h0m1-46h0m0 1h0m0 42h0m1 0h0m1 2h0m5-45h0m0 1h0m1-1h0m2 46h0m4-46h0m1 1h0m0 44h0m2-45h0m3 46h0m3-1h0m1-45h0m0 1h0m1 0h0m2 42h0m0 3h0m3-47h0m0 2h0m1-2h0m5 44h0m4-41h0m0 44h0m2-2h0m2-45h0m0 46h0m3-1h0m1-44h0m0 43h0m2 3h0m1-1h0m1-43h0m1 42h0m3-45h0m0 47h0m3-45h0m0 44h0m1-1h0m2 0h0m6-42h0m2 41h0m1-41h0m0 41h0m1-43h0m1 1h0m1 45h0m5-46h0m0 43h0m2-42h0m2 43h0m2-44h0m2 44h0m2-43h0m0 44h0m1-1h0m1-43h0m1 45h0m1-45h0m4-1h0m1 45h0m1 0h0m1-44h0m1-1h0m0 2h0m1-1h0m5 2h0m0 40h0m3-42h0m1-1h0m2 0h0m1 43h0m1 3h0m1-45h0m0 44h0m1-43h0m1-1h0m5 2h0m4-3h0m0 2h0m2 43h0m2 0h0m2-1h0m1-44h0m0 3h0m0 42h0m4-44h0m1 41h0m1-41h0m1 43h0m1-43h0m1 0h0m2 44h0m4-43h0m0 40h0m2 3h0m2-1h0m1-1h0m1-44h0m0 2h0m1 44h0m1-1h0m1-46h0m2 44h0m2 0h0m6-44h0m1 46h0m1-45h0m3 44h0m3-45h0m0 46h0m3-48h0m1 46h0m1-45h0m1-1h0m6 45h0m3-45h0m0 47h0m1-46h0m0 44h0m3 2h0m2-47h0m1 1h0m0 45h0m3-48h0m0 46h0m1-44h0m2 46h0m1-2h0m1-44h0m0 46h0m1-47h0m1 44h0m1 2h0m0 1h0m1-1h0m1-2h0m1 2h0m1-48h0m3 2h0m2 46h0m2 0h0m4-48h0m4 0h0m2-1h0m3 1h0m3-2h0m4 1h0m0 49h0m1-47h0m5-2h0m0 1h0m0 45h0m1-47h0m0 49h0m3 0h0m1-50h0m2-1h0m0 3h0m0 48h0m1-49h0m0 46h0m1-45h0m2 0h0m2 48h0m2-51h0m0 51h0m1-49h0m5 47h0m1-48h0m1 48h0m3-43h0m0 1h0m0 14h0m0 3h0m0 20h0m1-43h0m0 2h0m0 3h0m0 7h0m0 1h0m0 26h0m1-36h0m0 16h0m0 3h0m0 15h0m0 10h0m0 1h0m1-42h0m0 4h0m0 2h0m0 3h0m0 12h0m0 7h0m0 1h0m0 11h0m1-40h0m0 1h0m0 22h0m0 4h0m0 1h0m0 1h0m0 2h0m0 7h0m0 3h0m1-45h0m0 1h0m0 3h0m0 11h0m0 2h0m0 1h0m0 6h0m0 21h0m1-48h0m0 3h0m0 1h0m0 5h0m0 5h0m0 2h0m0 10h0m0 7h0m0 1h0m1-12h0m0 6h0m0 1h0m0 2h0m0 10h0m0 5h0m1-47h0m0 3h0m0 2h0m0 6h0m0 5h0m0 1h0m0 8h0m0 9h0m0 5h0m0 8h0m1-35h0m0 7h0m0 4h0m0 14h0m0 1h0m0 3h0m0 6h0m1-46h0m0 3h0m0 1h0m0 9h0m0 4h0m0 3h0m0 2h0m1-14h0m0 2h0m0 5h0m0 11h0m0 7h0m0 3h0m0 3h0m0 5h0m0 3h0m0 1h0m1-42h0m0 6h0m0 12h0m0 6h0m0 4h0m0 13h0m1-44h0m0 17h0m0 1h0m0 2h0m0 8h0m0 5h0m0 6h0m0 1h0m0 3h0m1-43h0m0 1h0m0 3h0m0 3h0m0 3h0m0 24h0m0 4h0m0 2h0m1-44h0m0 3h0m0 1h0m0 8h0m0 9h0m0 2h0m0 1h0m0 4h0m0 9h0m0 12h0m0 2h0m1-43h0m0 10h0m0 6h0m0 22h0m0 1h0m0 2h0m1-45h0m0 1h0m0 4h0m0 1h0m0 4h0m0 8h0m0 1h0m0 3h0m0 7h0m0 5h0m0 10h0m0 1h0m1-47h0m0 17h0m1-18h0m0 5h0m0 10h0m0 1h0m0 1h0m0 4h0m0 7h0m0 6h0m0 9h0m1-43h0m0 1h0m0 15h0m0 3h0m0 10h0m0 3h0m0 4h0m0 1h0m0 2h0m1-42h0m0 19h0m0 19h0m0 1h0m0 6h0m0 5h0m0 1h0m1-49h0m0 9h0m0 6h0m0 9h0m0 5h0m0 11h0m1-29h0m0 5h0m0 3h0m0 6h0m0 1h0m0 6h0m0 7h0m0 2h0m1-26h0m0 20h0m0 8h0m0 2h0m0 1h0m1-45h0m0 6h0m0 3h0m0 3h0m0 22h0m0 5h0m0 6h0m0 3h0m1-41h0m0 4h0m0 10h0m0 5h0m0 1h0m0 6h0m0 11h0m1-47h0m0 3h0m0 5h0m0 2h0m0 1h0m0 1h0m0 16h0m0 1h0m0 9h0m0 2h0m0 2h0m0 5h0m1-36h0m0 1h0m0 16h0m0 6h0m0 1h0m0 8h0m0 2h0m1-41h0m0 3h0m0 1h0m0 4h0m0 8h0m0 1h0m0 4h0m0 3h0m0 12h0m0 6h0m0 4h0m0 1h0m1-45h0m0 6h0m0 6h0m0 2h0m0 9h0m0 1h0m0 1h0m0 16h0m0 4h0m1-49h0m0 2h0m0 4h0m0 27h0m0 8h0m0 2h0m0 2h0m0 3h0m1-43h0m0 1h0m0 3h0m0 2h0m0 4h0m0 7h0m0 1h0m0 3h0m0 5h0m0 3h0m0 1h0m0 6h0m1-44h0m0 7h0m0 9h0m0 9h0m0 3h0m0 4h0m0 3h0m0 14h0m1-46h0m0 2h0m0 4h0m0 2h0m0 4h0m0 12h0m0 2h0m0 6h0m0 5h0m0 2h0m0 1h0m0 6h0m1-46h0m0 5h0m0 1h0m0 29h0m0 1h0m0 2h0m0 3h0m1-39h0m0 4h0m0 14h0m0 1h0m1-19h0m0 9h0m0 4h0m0 3h0m0 1h0m0 8h0m0 2h0m0 4h0m0 5h0m0 9h0m1-45h0m0 7h0m0 3h0m0 10h0m0 7h0m0 6h0m0 5h0m1-35h0m0 7h0m0 4h0m0 8h0m0 15h0m0 1h0m0 4h0m1-46h0m0 19h0m0 10h0m0 9h0m0 2h0m0 3h0m0 4h0m0 2h0m0 1h0m1-50h0m0 6h0m0 4h0m0 11h0m0 12h0m0 1h0m0 10h0m0 1h0m0 2h0m0 2h0m1-48h0m0 1h0m0 2h0m0 6h0m0 3h0m0 8h0m0 3h0m0 19h0m1-28h0m0 1h0m0 30h0m1-44h0m0 5h0m0 4h0m0 4h0m0 8h0m0 11h0m1-33h0m0 2h0m0 8h0m0 8h0m0 1h0m0 25h0m0 4h0m1-45h0m0 8h0m0 10h0m0 4h0m0 3h0m0 3h0m1-13h0m0 21h0m0 3h0m0 7h0m1-52h0m0 9h0m0 1h0m0 8h0m0 1h0m0 9h0m0 20h0m1-46h0m0 3h0m0 6h0m0 13h0m0 6h0m0 10h0m0 3h0m0 2h0m1-43h0m0 2h0m0 25h0m0 2h0m0 1h0m0 3h0m0 7h0m0 1h0m0 3h0m0 6h0m1-47h0m0 3h0m0 13h0m0 2h0m0 2h0m0 1h0m0 8h0m0 1h0m0 15h0m0 1h0m1-50h0m0 3h0m0 8h0m0 10h0m0 12h0m0 9h0m0 2h0m1-42h0m0 18h0m0 8h0m0 3h0m0 2h0m0 7h0m0 3h0m0 5h0m1-45h0m0 2h0m0 1h0m0 2h0m0 1h0m0 3h0m0 1h0m0 1h0m0 11h0m0 4h0m0 2h0m0 2h0m0 8h0m0 2h0m0 8h0m1-51h0m0 1h0m0 2h0m0 5h0m0 1h0m0 3h0m0 3h0m0 3h0m0 5h0m0 1h0m0 2h0m0 2h0m0 18h0m0 1h0m1-48h0m0 2h0m0 2h0m0 20h0m0 2h0m0 9h0m1-27h0m0 10h0m0 20h0m0 2h0m1-26h0m0 8h0m0 2h0m0 3h0m0 14h0m0 7h0m1-42h0m0 7h0m0 10h0m0 4h0m0 1h0m0 1h0m0 6h0m0 3h0m0 3h0m0 3h0m0 2h0m0 5h0m1-11h0m0 3h0m0 3h0m0 3h0m1-39h0m0 13h0m0 6h0m0 5h0m0 16h0m0 3h0m1-51h0m0 7h0m0 2h0m0 6h0m0 3h0m0 2h0m0 6h0m0 3h0m0 14h0m1-13h0m0 1h0m0 1h0m1-31h0m0 3h0m0 2h0m0 1h0m0 14h0m0 9h0m0 3h0m0 2h0m0 6h0m1-44h0m0 4h0m0 1h0m0 6h0m0 19h0m0 2h0m0 3h0m0 1h0m0 3h0m0 4h0m0 5h0m1-38h0m0 7h0m0 3h0m0 5h0m0 14h0m0 9h0m1-6h0m0 1h0m0 8h0m1-49h0m0 7h0m0 3h0m0 1h0m0 9h0m0 11h0m0 6h0m0 4h0m0 2h0m0 4h0m1-47h0m0 4h0m0 1h0m0 4h0m0 2h0m0 8h0m0 1h0m0 2h0m0 5h0m0 6h0m0 5h0m0 10h0m1-47h0m0 5h0m0 28h0m0 5h0m0 2h0m0 6h0m1-49h0m0 10h0m0 1h0m0 5h0m0 4h0m0 9h0m0 2h0m0 5h0m0 1h0m1-23h0m0 5h0m0 7h0m0 13h0m1-33h0m0 2h0m0 9h0m0 1h0m0 5h0m0 4h0m0 2h0m0 1h0m0 10h0m0 3h0m0 4h0m1-40h0m0 18h0m0 24h0m1-35h0m0 7h0m0 17h0m0 1h0m0 2h0m0 7h0m0 1h0m1-46h0m0 6h0m0 8h0m0 4h0m0 2h0m0 15h0m0 14h0m0 1h0m1-51h0m0 1h0m0 3h0m0 1h0m0 25h0m0 1h0m0 1h0m0 5h0m0 11h0m1-40h0m0 10h0m0 5h0m0 10h0m0 5h0m0 11h0m0 2h0m1-51h0m0 1h0m0 18h0m0 2h0m0 4h0m0 7h0m0 5h0m0 3h0m0 4h0m0 6h0m0 1h0m1-47h0m0 9h0m0 11h0m0 15h0m0 10h0m1-43h0m0 3h0m0 4h0m0 23h0m0 13h0m1-47h0m0 8h0m0 3h0m0 3h0m0 2h0m0 6h0m0 8h0m0 2h0m0 4h0m0 12h0m1-50h0m0 2h0m0 2h0m0 15h0m0 9h0m0 2h0m0 3h0m0 11h0m0 2h0m0 5h0m1-51h0m0 2h0m0 10h0m0 15h0m0 14h0m0 5h0m0 4h0m1-52h0m0 21h0m0 8h0m0 1h0m0 1h0m0 4h0m0 6h0m0 9h0m1-37h0m0 4h0m0 2h0m0 6h0m0 2h0m0 2h0m0 4h0m0 7h0m1-39h0m0 7h0m0 6h0m0 6h0m0 31h0m1-52h0m0 25h0m0 10h0m0 2h0m0 7h0m1-42h0m0 3h0m0 4h0m0 9h0m0 15h0m0 5h0m0 7h0m0 4h0m1-35h0m0 3h0m0 3h0m0 1h0m0 2h0m0 6h0m0 6h0m0 3h0m0 2h0m0 3h0m0 7h0m1-43h0m0 6h0m0 1h0m0 10h0m0 13h0m0 12h0m1-36h0m0 2h0m0 7h0m0 2h0m0 2h0m0 13h0m1-34h0m0 2h0m0 1h0m0 3h0m0 5h0m0 4h0m0 10h0m0 5h0m0 1h0m0 8h0m0 1h0m1-33h0m0 5h0m0 4h0m0 14h0m1-28h0m0 10h0m0 1h0m0 10h0m0 5h0m0 3h0m0 4h0m0 5h0m1-42h0m0 1h0m0 16h0m0 3h0m0 7h0m0 7h0m0 1h0m0 3h0m0 8h0m0 2h0m1-42h0m0 4h0m0 14h0m0 5h0m0 10h0m0 9h0m1-39h0m0 6h0m0 1h0m0 3h0m0 2h0m0 6h0m0 3h0m0 4h0m0 5h0m0 9h0m0 3h0m1-52h0m0 1h0m0 9h0m0 5h0m0 10h0m0 6h0m0 6h0m0 5h0m0 4h0m1-46h0m0 12h0m0 8h0m0 3h0m0 7h0m0 7h0m0 1h0m0 1h0m0 3h0m0 6h0m0 1h0m1-52h0m0 7h0m0 18h0m0 7h0m0 1h0m0 12h0m0 2h0m1-37h0m0 7h0m0 8h0m0 16h0m0 3h0m0 1h0m0 8h0m1-30h0m0 2h0m0 1h0m0 4h0m0 9h0m0 4h0m0 3h0m0 1h0m0 5h0m0 2h0m1-53h0m0 8h0m0 11h0m0 21h0m0 4h0m0 2h0m0 1h0m1-46h0m0 2h0m0 1h0m0 4h0m0 7h0m0 1h0m0 3h0m0 28h0m1-38h0m0 8h0m0 8h0m0 1h0m0 4h0m0 15h0m0 2h0m0 4h0m1-38h0m0 7h0m0 6h0m0 5h0m0 4h0m0 7h0m0 5h0m1-42h0m0 9h0m0 5h0m0 9h0m0 10h0m0 4h0m0 5h0m0 1h0m1-49h0m0 3h0m0 1h0m0 1h0m0 5h0m0 18h0m0 6h0m0 1h0m0 3h0m0 6h0m1-35h0m0 6h0m0 2h0m0 5h0m0 1h0m0 14h0m1-36h0m0 14h0m0 2h0m0 6h0m0 27h0m1-42h0m0 16h0m0 5h0m0 1h0m0 11h0m0 10h0m1-41h0m0 4h0m0 11h0m0 1h0m0 4h0m0 2h0m0 14h0m1-43h0m0 6h0m0 10h0m0 8h0m0 6h0m0 1h0m0 5h0m0 1h0m0 5h0m1-43h0m0 4h0m0 1h0m0 6h0m0 5h0m0 2h0m0 2h0m0 4h0m0 1h0m0 2h0m0 19h0m1-47h0m0 15h0m0 14h0m0 10h0m0 13h0m1-43h0m0 3h0m0 9h0m0 18h0m0 4h0m1-34h0m0 13h0m0 5h0m0 4h0m0 2h0m0 2h0m1-32h0m0 6h0m0 1h0m0 4h0m0 26h0m0 3h0m1-45h0m0 5h0m0 12h0m0 7h0m0 2h0m0 1h0m0 2h0m0 2h0m0 5h0m0 1h0m0 2h0m0 12h0m1-47h0m0 2h0m0 1h0m0 4h0m0 9h0m0 1h0m0 3h0m0 6h0m0 6h0m0 7h0m1-41h0m0 4h0m0 4h0m0 17h0m0 5h0m0 6h0m0 3h0m0 5h0m0 2h0m1-38h0m0 1h0m0 2h0m0 1h0m0 4h0m0 9h0m0 11h0m0 8h0m0 6h0m1-52h0m0 28h0m0 3h0m0 1h0m0 12h0m0 1h0m0 7h0m1-51h0m0 26h0m0 4h0m0 9h0m0 2h0m0 3h0m0 2h0m0 1h0m1-47h0m0 6h0m0 1h0m0 1h0m0 6h0m0 14h0m0 2h0m0 6h0m1-38h0m0 1h0m0 15h0m0 5h0m0 10h0m0 8h0m0 1h0m1-33h0m0 1h0m0 3h0m0 2h0m0 3h0m0 3h0m0 7h0m0 6h0m0 3h0m1-23h0m0 8h0m0 2h0m0 1h0m0 4h0m0 5h0m0 1h0m0 7h0m0 2h0m0 7h0m0 4h0m1-50h0m0 10h0m0 1h0m0 2h0m0 2h0m0 5h0m0 15h0m0 13h0m1-50h0m0 2h0m0 4h0m0 1h0m0 7h0m0 11h0m0 12h0m0 1h0m0 1h0m0 5h0m0 1h0m0 2h0m0 1h0m0 3h0m1-51h0m0 5h0m0 8h0m0 3h0m0 9h0m0 8h0m0 15h0m0 1h0m0 2h0m1-53h0m0 11h0m0 1h0m0 3h0m0 8h0m0 3h0m0 7h0m0 2h0m0 13h0m0 1h0m1-45h0m0 1h0m0 2h0m0 5h0m0 5h0m0 4h0m0 2h0m0 7h0m0 16h0m0 1h0m0 6h0m1-37h0m0 2h0m0 2h0m0 12h0m0 10h0m0 2h0m0 7h0m1-46h0m0 11h0m0 10h0m0 9h0m0 1h0m0 17h0m1-51h0m0 8h0m0 32h0m0 7h0m1-50h0m0 7h0m0 5h0m0 1h0m0 2h0m0 2h0m0 4h0m0 6h0m0 3h0m0 19h0m1-32h0m0 15h0m0 2h0m0 10h0m0 12h0m1-47h0m0 1h0m0 13h0m0 7h0m0 12h0m0 1h0m0 1h0m0 9h0m0 2h0m1-53h0m0 26h0m0 11h0m0 9h0m0 2h0m0 1h0m0 4h0m1-53h0m0 14h0m0 4h0m0 4h0m0 16h0m0 5h0m0 4h0m0 6h0m0 1h0m1-43h0m0 2h0m0 6h0m0 5h0m0 2h0m0 11h0m0 5h0m0 1h0m1-43h0m0 11h0m0 2h0m0 10h0m0 1h0m0 9h0m0 5h0m0 9h0m1-50h0m0 8h0m0 3h0m0 7h0m0 1h0m0 11h0m0 8h0m0 4h0m0 11h0m1-50h0m0 6h0m0 8h0m0 3h0m0 15h0m0 2h0m0 5h0m0 5h0m1-46h0m0 10h0m0 8h0m0 3h0m0 6h0m0 1h0m0 1h0m0 10h0m0 1h0m0 6h0m0 7h0m1-47h0m0 2h0m0 1h0m0 5h0m0 6h0m0 2h0m0 2h0m0 1h0m0 2h0m0 1h0m0 17h0m0 6h0m1-34h0m0 1h0m0 3h0m0 5h0m0 18h0m0 5h0m0 5h0m0 1h0m1-53h0m0 7h0m0 7h0m0 2h0m0 1h0m0 1h0m0 2h0m0 1h0m0 1h0m0 2h0m0 7h0m0 9h0m1-39h0m0 13h0m0 8h0m0 7h0m0 2h0m0 12h0m1-26h0m0 6h0m0 1h0m0 19h0m1-42h0m0 1h0m0 5h0m0 17h0m0 12h0m0 10h0m1-45h0m0 7h0m0 1h0m0 2h0m0 8h0m0 31h0m0 2h0m1-55h0m0 5h0m0 8h0m0 13h0m0 4h0m1-28h0m0 7h0m0 5h0m0 4h0m0 17h0m0 3h0m0 14h0m1-49h0m0 13h0m0 2h0m0 2h0m0 5h0m0 8h0m0 1h0m0 10h0m0 11h0m0 1h0m1-55h0m0 2h0m0 4h0m0 2h0m0 24h0m0 15h0m0 2h0m0 4h0m1-49h0m0 3h0m0 5h0m0 6h0m0 14h0m0 2h0m0 9h0m0 3h0m0 1h0m1-45h0m0 24h0m0 1h0m0 5h0m0 2h0m0 1h0m0 9h0m0 1h0m0 3h0m0 3h0m1-47h0m0 12h0m0 15h0m0 16h0m1-45h0m0 1h0m0 1h0m0 1h0m0 5h0m0 6h0m0 2h0m0 1h0m0 7h0m0 4h0m0 6h0m0 4h0m0 2h0m0 11h0m1-52h0m0 9h0m0 4h0m0 7h0m0 1h0m0 8h0m0 1h0m0 5h0m0 8h0m0 7h0m1-44h0m0 8h0m0 14h0m0 12h0m0 12h0m1-54h0m0 7h0m0 1h0m0 12h0m0 1h0m0 5h0m0 3h0m0 12h0m1-39h0m0 2h0m0 2h0m0 4h0m0 5h0m0 10h0m0 3h0m0 8h0m0 3h0m0 6h0m1-45h0m0 1h0m0 6h0m0 13h0m0 6h0m0 2h0m0 7h0m0 4h0m0 4h0m0 9h0m1-53h0m0 11h0m0 4h0m0 17h0m0 9h0m0 5h0m1-46h0m0 1h0m0 21h0m0 8h0m0 4h0m0 7h0m0 4h0m0 8h0m1-51h0m0 11h0m0 2h0m0 8h0m0 4h0m0 2h0m0 11h0m0 3h0m0 6h0m0 3h0m0 1h0m0 3h0m1-52h0m0 12h0m0 18h0m0 3h0m0 19h0m1-53h0m0 4h0m0 4h0m0 1h0m0 15h0m0 1h0m0 18h0m0 8h0m1-44h0m0 20h0m0 15h0m0 3h0m0 8h0m1-39h0m0 1h0m0 6h0m0 11h0m0 2h0m0 12h0m0 2h0m1-44h0m0 1h0m0 5h0m0 11h0m0 10h0m0 3h0m0 18h0m1-55h0m0 13h0m0 3h0m0 8h0m0 8h0m0 1h0m0 2h0m0 2h0m0 10h0m0 3h0m0 5h0m0 1h0m1-53h0m0 7h0m0 5h0m0 10h0m0 3h0m0 12h0m0 4h0m0 3h0m0 6h0m0 1h0m1-49h0m0 9h0m0 3h0m0 19h0m0 8h0m0 2h0m0 9h0m1-55h0m0 1h0m0 1h0m0 6h0m0 2h0m0 5h0m0 4h0m0 4h0m0 13h0m0 1h0m0 14h0m1-25h0m0 1h0m0 12h0m1-33h0m0 19h0m0 4h0m0 10h0m0 1h0m0 5h0m0 6h0m0 1h0m0 1h0m1-54h0m0 12h0m0 18h0m0 13h0m0 1h0m0 13h0m1-51h0m0 8h0m0 3h0m0 11h0m1-10h0m0 7h0m0 5h0m0 6h0m0 1h0m0 5h0m0 7h0m0 1h0m1-51h0m0 6h0m0 2h0m0 5h0m0 8h0m0 2h0m0 6h0m0 1h0m0 18h0m0 9h0m1-48h0m0 28h0m0 1h0m0 1h0m0 10h0m0 3h0m0 4h0m1-50h0m0 2h0m0 1h0m0 3h0m0 30h0m0 1h0m0 13h0m0 1h0m0 1h0m0 1h0m1-57h0m0 5h0m0 1h0m0 5h0m0 26h0m1-38h0m0 11h0m0 13h0m0 3h0m0 10h0m0 2h0m0 10h0m1-44h0m0 14h0m0 8h0m0 2h0m0 12h0m0 1h0m0 2h0m0 7h0m0 1h0m0 3h0m1-56h0m0 14h0m0 2h0m0 6h0m0 8h0m0 20h0m0 5h0m0 1h0m0 1h0m1-39h0m0 11h0m0 1h0m0 4h0m0 2h0m0 11h0m1-46h0m0 4h0m0 9h0m0 8h0m0 4h0m0 2h0m0 1h0m0 1h0m0 10h0m0 12h0m0 4h0m1-57h0m0 13h0m0 5h0m0 4h0m0 6h0m0 3h0m0 7h0m0 2h0m0 1h0m0 3h0m0 3h0m0 1h0m0 7h0m0 3h0m1-24h0m0 1h0m0 9h0m0 4h0m0 2h0m0 3h0m0 4h0m0 3h0m1-60h0m0 9h0m0 4h0m0 16h0m0 2h0m0 2h0m0 1h0m0 1h0m0 7h0m0 5h0m1-38h0m0 8h0m0 1h0m0 10h0m0 1h0m0 11h0m0 9h0m0 2h0m0 8h0m1-53h0m0 1h0m0 12h0m0 14h0m0 19h0m0 2h0m0 2h0m1-48h0m0 7h0m0 9h0m0 9h0m0 5h0m0 4h0m0 1h0m0 3h0m0 9h0m1-53h0m0 1h0m0 18h0m0 1h0m0 5h0m0 12h0m0 1h0m0 10h0m0 6h0m0 2h0m1-55h0m0 10h0m0 11h0m0 2h0m0 1h0m0 6h0m0 7h0m0 8h0m0 8h0m0 2h0m1-57h0m0 3h0m0 4h0m0 6h0m0 25h0m0 1h0m0 5h0m0 2h0m0 6h0m1-52h0m0 9h0m0 1h0m0 4h0m0 23h0m0 5h0m0 14h0m0 1h0m0 1h0m1-55h0m0 1h0m0 10h0m0 2h0m0 7h0m0 1h0m0 4h0m0 4h0m0 1h0m0 7h0m1-14h0m0 6h0m0 3h0m0 9h0m0 13h0m1-59h0m0 8h0m0 1h0m0 7h0m0 11h0m0 1h0m0 3h0m0 9h0m0 1h0m1-40h0m0 15h0m0 5h0m0 3h0m0 4h0m0 4h0m0 25h0m0 1h0m1-52h0m0 5h0m0 2h0m0 11h0m0 6h0m0 13h0m0 5h0m0 4h0m0 4h0m0 4h0m1-44h0m0 1h0m0 8h0m0 11h0m0 5h0m0 1h0m0 2h0m0 8h0m0 6h0m1-35h0m0 5h0m0 2h0m0 9h0m0 7h0m0 8h0m1-46h0m0 10h0m0 19h0m0 6h0m1-41h0m0 3h0m0 4h0m0 4h0m0 3h0m0 6h0m0 12h0m0 9h0m0 10h0m0 4h0m0 2h0m1-58h0m0 5h0m0 15h0m0 3h0m0 4h0m0 1h0m0 5h0m0 19h0m0 5h0m1-57h0m0 3h0m0 1h0m0 8h0m0 2h0m0 2h0m0 16h0m0 3h0m0 17h0m0 1h0m0 2h0m1-50h0m0 4h0m0 17h0m0 6h0m0 4h0m0 4h0m0 7h0m0 5h0m1-45h0m0 9h0m0 1h0m0 34h0m0 3h0m1-50h0m0 1h0m0 3h0m0 2h0m0 1h0m0 4h0m0 6h0m0 3h0m0 6h0m0 5h0m0 16h0m0 7h0m1-57h0m0 8h0m0 7h0m0 5h0m0 10h0m0 1h0m0 7h0m0 4h0m0 4h0m1-39h0m0 6h0m0 3h0m0 7h0m0 7h0m0 1h0m0 20h0m0 4h0m1-54h0m0 30h0m0 4h0m1-36h0m0 6h0m0 1h0m0 6h0m0 7h0m0 3h0m0 1h0m0 1h0m0 5h0m0 9h0m0 12h0m1-47h0m0 1h0m0 17h0m0 5h0m0 3h0m0 9h0m0 11h0m0 4h0m1-47h0m0 2h0m0 6h0m0 4h0m0 12h0m0 3h0m0 2h0m0 3h0m1-28h0m0 6h0m0 8h0m0 27h0m1-48h0m0 3h0m0 2h0m0 10h0m0 24h0m0 1h0m0 4h0m1-51h0m0 4h0m0 6h0m0 2h0m0 4h0m0 5h0m0 3h0m0 3h0m0 8h0m0 6h0m0 5h0m0 10h0m1-54h0m0 3h0m0 5h0m0 7h0m0 3h0m0 4h0m0 5h0m0 1h0m0 4h0m0 24h0m1-37h0m0 13h0m0 2h0m0 1h0m0 6h0m0 2h0m0 2h0m0 2h0m0 3h0m0 8h0m1-59h0m0 22h0m0 2h0m0 5h0m0 7h0m0 20h0m1-48h0m0 2h0m0 7h0m0 2h0m0 10h0m0 5h0m0 5h0m0 14h0m0 5h0m1-57h0m0 20h0m0 9h0m0 12h0m0 9h0m1-36h0m0 3h0m0 9h0m0 16h0m1-41h0m0 5h0m0 23h0m0 15h0m0 1h0m0 6h0m0 3h0m0 1h0m0 2h0m1-59h0m0 5h0m0 10h0m0 18h0m0 20h0m0 1h0m1-53h0m0 15h0m0 5h0m0 1h0m0 37h0m1-48h0m0 10h0m0 11h0m0 6h0m0 6h0m0 2h0m0 1h0m0 4h0m0 11h0m1-59h0m0 5h0m0 2h0m0 6h0m0 2h0m0 16h0m0 15h0m0 2h0m1-52h0m0 2h0m0 4h0m0 4h0m0 1h0m0 7h0m0 7h0m0 11h0m0 2h0m0 10h0m0 5h0m0 9h0m1-62h0m0 2h0m0 6h0m0 13h0m0 7h0m0 14h0m0 9h0m0 8h0m0 2h0m1-60h0m0 4h0m0 4h0m0 2h0m0 5h0m0 6h0m0 13h0m0 2h0m0 4h0m0 2h0m0 16h0m1-52h0m0 2h0m0 3h0m0 16h0m0 3h0m0 1h0m0 1h0m0 3h0m0 19h0m0 4h0m1-48h0m0 19h0m0 17h0m0 1h0m0 2h0m0 7h0m0 5h0m0 1h0m1-35h0m0 6h0m0 5h0m0 1h0m0 1h0m0 15h0m0 3h0m1-55h0m0 2h0m0 16h0m0 3h0m0 10h0m0 15h0m0 3h0m0 3h0m1-54h0m0 2h0m0 18h0m0 2h0m0 1h0m0 11h0m0 5h0m0 1h0m0 4h0m0 1h0m0 2h0m1-47h0m0 28h0m0 3h0m0 8h0m0 6h0m0 1h0m0 10h0m0 4h0m1-63h0m0 6h0m0 6h0m0 12h0m0 1h0m0 32h0m1-45h0m0 4h0m0 1h0m0 3h0m0 7h0m0 11h0m0 4h0m0 1h0m0 4h0m0 3h0m0 1h0m0 4h0m0 6h0m1-53h0m0 5h0m0 1h0m0 1h0m0 17h0m0 2h0m0 5h0m0 25h0m1-65h0m0 5h0m0 1h0m0 25h0m0 2h0m0 25h0m1-57h0m0 7h0m0 1h0m0 4h0m0 12h0m0 14h0m0 16h0m0 10h0m1-65h0m0 4h0m0 2h0m0 14h0m0 6h0m0 4h0m0 10h0m0 14h0m0 7h0m1-57h0m0 1h0m0 7h0m0 10h0m0 2h0m0 33h0m1-53h0m0 3h0m0 6h0m0 6h0m0 3h0m0 14h0m0 1h0m0 7h0m1-38h0m0 6h0m0 2h0m0 15h0m0 6h0m0 3h0m0 5h0m0 15h0m1-53h0m0 3h0m0 4h0m0 3h0m0 18h0m0 4h0m0 4h0m0 23h0m1-58h0m0 14h0m0 1h0m0 21h0m0 3h0m0 5h0m0 3h0m0 12h0m1-54h0m0 2h0m0 10h0m0 6h0m0 7h0m0 6h0m0 3h0m0 1h0m0 5h0m0 1h0m0 5h0m0 5h0m0 2h0m1-67h0m0 1h0m0 1h0m0 4h0m0 23h0m0 11h0m0 7h0m0 2h0m0 6h0m0 8h0m1-60h0m0 27h0m0 4h0m0 14h0m0 1h0m0 2h0m0 11h0m1-60h0m0 7h0m0 17h0m0 17h0m0 18h0m0 4h0m1-62h0m0 5h0m0 6h0m0 1h0m0 2h0m0 2h0m0 1h0m0 12h0m0 19h0m0 5h0m0 1h0m1-30h0m0 8h0m0 1h0m0 4h0m0 3h0m0 5h0m0 1h0m0 8h0m0 11h0m1-66h0m0 9h0m0 4h0m0 19h0m0 17h0m0 5h0m0 4h0m0 5h0m1-63h0m0 11h0m0 1h0m0 9h0m0 3h0m0 9h0m1-23h0m0 7h0m0 7h0m0 4h0m0 17h0m0 14h0m1-63h0m0 1h0m0 24h0m0 3h0m0 4h0m0 14h0m0 1h0m0 3h0m0 5h0m0 4h0m1-58h0m0 20h0m0 2h0m0 11h0m0 4h0m0 4h0m0 1h0m0 15h0m0 10h0m1-55h0m0 3h0m0 10h0m0 9h0m0 5h0m0 2h0m0 5h0m0 8h0m0 12h0m1-66h0m0 25h0m0 7h0m0 6h0m0 2h0m0 3h0m0 18h0m1-59h0m0 5h0m0 5h0m0 13h0m0 10h0m0 5h0m0 6h0m0 1h0m0 4h0m0 2h0m0 6h0m0 8h0m1-67h0m0 2h0m0 3h0m0 2h0m0 6h0m0 7h0m0 7h0m0 1h0m0 6h0m0 6h0m0 2h0m0 3h0m0 3h0m0 4h0m0 9h0m0 3h0m1-49h0m0 19h0m0 1h0m0 1h0m0 6h0m0 12h0m0 12h0m1-65h0m0 14h0m0 18h0m0 2h0m0 16h0m0 2h0m0 4h0m0 4h0m1-60h0m0 17h0m0 10h0m0 3h0m0 2h0m0 12h0m0 10h0m0 10h0m1-59h0m0 2h0m0 8h0m0 7h0m0 8h0m0 1h0m0 14h0m1-43h0m0 6h0m0 2h0m0 5h0m0 8h0m0 16h0m0 4h0m0 15h0m0 7h0m1-52h0m0 5h0m0 5h0m0 7h0m0 7h0m0 2h0m0 2h0m0 21h0m0 5h0m1-70h0m0 19h0m0 4h0m0 9h0m0 5h0m0 11h0m1-41h0m0 1h0m0 6h0m0 26h0m0 2h0m0 12h0m0 3h0m1-55h0m0 5h0m0 23h0m0 11h0m0 10h0m0 14h0m0 4h0m1-66h0m0 3h0m0 4h0m0 3h0m0 36h0m0 8h0m0 13h0m1-67h0m0 1h0m0 3h0m0 1h0m0 1h0m0 1h0m0 2h0m0 1h0m0 1h0m0 9h0m0 7h0m0 3h0m0 2h0m0 3h0m0 4h0m0 5h0m0 3h0m0 19h0m1-67h0m0 1h0m0 2h0m0 13h0m0 6h0m0 15h0m0 5h0m0 5h0m0 11h0m1-33h0m0 2h0m0 3h0m0 12h0m0 8h0m0 1h0m0 8h0m0 1h0m1-60h0m0 5h0m0 11h0m0 8h0m0 4h0m0 2h0m0 10h0m0 5h0m1-44h0m0 41h0m0 12h0m0 11h0m1-70h0m0 6h0m0 5h0m0 1h0m0 11h0m0 2h0m0 1h0m0 5h0m0 17h0m0 13h0m1-58h0m0 1h0m0 22h0m0 6h0m0 2h0m0 13h0m0 4h0m0 13h0m0 9h0m1-63h0m0 11h0m0 6h0m0 22h0m0 7h0m0 10h0m1-64h0m0 11h0m0 18h0m0 1h0m0 2h0m0 14h0m0 9h0m0 6h0m0 2h0m1-62h0m0 8h0m0 17h0m0 13h0m0 8h0m1-47h0m0 5h0m0 5h0m0 22h0m0 3h0m0 3h0m0 31h0m1-69h0m0 7h0m0 2h0m0 21h0m0 9h0m0 15h0m0 5h0m0 7h0m1-63h0m0 3h0m0 4h0m0 24h0m0 5h0m0 20h0m0 4h0m0 2h0m0 2h0m0 3h0m1-42h0m0 1h0m0 4h0m0 3h0m0 4h0m0 1h0m0 18h0m0 1h0m0 3h0m0 1h0m1-51h0m0 3h0m0 5h0m0 6h0m0 3h0m0 1h0m0 11h0m0 20h0m0 6h0m0 1h0m1-65h0m0 5h0m0 8h0m0 7h0m0 30h0m0 3h0m0 13h0m1-69h0m0 12h0m0 5h0m0 4h0m0 3h0m0 18h0m0 10h0m0 8h0m0 10h0m1-57h0m0 12h0m0 10h0m0 1h0m0 2h0m0 8h0m0 13h0m0 11h0m1-68h0m0 10h0m0 5h0m0 14h0m0 3h0m0 6h0m0 11h0m0 8h0m1-54h0m0 4h0m0 13h0m0 4h0m0 10h0m0 8h0m0 2h0m0 5h0m0 8h0m0 10h0m1-62h0m0 12h0m0 6h0m0 8h0m0 5h0m0 29h0m0 1h0m1-57h0m0 12h0m0 9h0m0 20h0m0 5h0m0 10h0m1-62h0m0 4h0m0 1h0m0 16h0m0 1h0m0 3h0m0 5h0m0 5h0m1-40h0m0 3h0m0 7h0m0 6h0m0 3h0m0 2h0m0 16h0m0 1h0m0 23h0m0 2h0m0 2h0m1-70h0m0 2h0m0 2h0m0 3h0m0 1h0m0 12h0m0 16h0m0 7h0m0 7h0m0 11h0m1-53h0m0 2h0m0 5h0m0 23h0m0 8h0m0 1h0m0 1h0m0 1h0m0 14h0m0 2h0m1-64h0m0 8h0m0 2h0m0 4h0m0 10h0m0 47h0m0 4h0m1-76h0m0 20h0m0 1h0m0 23h0m0 12h0m0 4h0m0 6h0m1-66h0m0 1h0m0 2h0m0 1h0m0 3h0m0 7h0m0 24h0m0 4h0m0 8h0m1-48h0m0 10h0m0 10h0m0 1h0m0 19h0m0 7h0m0 15h0m1-49h0m0 5h0m0 7h0m0 47h0m1-76h0m0 5h0m0 2h0m0 5h0m0 17h0m0 3h0m0 28h0m0 9h0m0 6h0m1-69h0m0 2h0m0 4h0m0 1h0m0 20h0m0 2h0m0 25h0m0 2h0m0 3h0m0 2h0m1-66h0m0 38h0m0 2h0m0 21h0m1-66h0m0 3h0m0 6h0m0 17h0m0 6h0m0 6h0m0 24h0m0 5h0m0 3h0m1-55h0m0 3h0m0 6h0m0 5h0m0 8h0m0 3h0m0 8h0m0 9h0m0 1h0m0 4h0m0 1h0m0 4h0m0 3h0m0 8h0m0 1h0m1-77h0m0 8h0m0 12h0m0 3h0m0 11h0m0 16h0m0 8h0m0 18h0m1-35h0m0 8h0m0 10h0m0 17h0m1-72h0m0 34h0m0 5h0m0 8h0m0 2h0m0 11h0m0 2h0m0 2h0m1-60h0m0 2h0m0 7h0m0 20h0m0 19h0m0 8h0m0 11h0m0 1h0m0 2h0m1-45h0m0 2h0m0 6h0m0 14h0m0 12h0m1-66h0m0 7h0m0 17h0m0 1h0m0 6h0m0 25h0m0 11h0m0 1h0m0 3h0m0 2h0m0 1h0m1-74h0m0 3h0m0 4h0m0 6h0m0 10h0m0 13h0m0 7h0m0 1h0m0 2h0m0 1h0m1-46h0m0 20h0m0 2h0m0 1h0m0 3h0m0 3h0m0 13h0m0 2h0m0 5h0m0 1h0m0 4h0m0 3h0m0 8h0m1-58h0m0 16h0m0 26h0m0 2h0m0 14h0m0 5h0m1-67h0m0 12h0m0 18h0m0 5h0m0 6h0m0 15h0m0 11h0m1-65h0m0 1h0m0 5h0m0 2h0m0 5h0m0 5h0m0 3h0m0 5h0m0 3h0m0 13h0m0 2h0m0 6h0m0 15h0m0 4h0m1-77h0m0 1h0m0 8h0m0 6h0m0 11h0m0 7h0m0 1h0m0 10h0m0 12h0m0 18h0m1-75h0m0 31h0m0 2h0m0 29h0m0 9h0m1-59h0m0 23h0m0 9h0m0 18h0m0 6h0m0 5h0m0 4h0m1-41h0m0 4h0m0 8h0m0 11h0m0 7h0m0 6h0m1-73h0m0 22h0m0 2h0m0 4h0m0 25h0m0 8h0m0 6h0m1-67h0m0 22h0m0 9h0m0 14h0m0 6h0m0 14h0m0 3h0m0 10h0m0 1h0m1-71h0m0 32h0m0 15h0m0 12h0m0 8h0m0 2h0m0 3h0m1-67h0m0 19h0m0 2h0m0 2h0m0 22h0m1-60h0m0 6h0m0 16h0m0 2h0m0 5h0m0 2h0m0 2h0m0 2h0m0 12h0m0 6h0m0 1h0m0 9h0m0 7h0m1-70h0m0 6h0m0 10h0m0 22h0m0 6h0m0 23h0m0 7h0m0 2h0m1-65h0m0 2h0m0 26h0m0 23h0m0 10h0m0 2h0m0 2h0m0 4h0m1-64h0m0 24h0m0 9h0m0 11h0m0 10h0m0 3h0m1-67h0m0 4h0m0 2h0m0 8h0m0 28h0m0 2h0m0 15h0m0 8h0m1-42h0m0 19h0m0 8h0m0 2h0m1-45h0m0 14h0m0 2h0m0 10h0m0 3h0m0 10h0m0 21h0m1-71h0m0 12h0m0 1h0m0 34h0m0 14h0m0 5h0m0 3h0m0 1h0m0 6h0m1-78h0m0 5h0m0 1h0m0 38h0m0 6h0m0 13h0m0 3h0m1-70h0m0 2h0m0 13h0m0 2h0m0 5h0m0 4h0m0 18h0m0 23h0m0 8h0m0 7h0m1-72h0m0 2h0m0 4h0m0 8h0m0 1h0m0 24h0m0 31h0m1-69h0m0 2h0m0 4h0m0 10h0m0 26h0m0 12h0m1-39h0m0 2h0m0 9h0m0 3h0m0 4h0m0 5h0m0 2h0m0 4h0m0 1h0m0 6h0m0 4h0m0 10h0m1-76h0m0 14h0m0 9h0m0 2h0m0 14h0m0 1h0m0 22h0m1-54h0m0 1h0m0 4h0m0 18h0m0 11h0m0 6h0m0 19h0m0 7h0m0 7h0m0 2h0m1-83h0m0 2h0m0 9h0m0 13h0m0 18h0m0 1h0m0 8h0m0 23h0m0 3h0m0 1h0m1-74h0m0 5h0m0 3h0m0 5h0m0 13h0m0 18h0m0 3h0m0 4h0m0 3h0m0 11h0m0 1h0m1-64h0m0 7h0m0 9h0m0 28h0m0 2h0m0 14h0m0 1h0m0 6h0m1-58h0m0 7h0m0 8h0m0 4h0m0 18h0m0 11h0m0 5h0m1-52h0m0 6h0m0 5h0m0 15h0m0 7h0m0 5h0m0 4h0m0 6h0m0 3h0m0 10h0m0 3h0m1-72h0m0 7h0m0 6h0m0 3h0m0 1h0m0 38h0m0 2h0m0 9h0m0 8h0m1-74h0m0 18h0m0 17h0m0 10h0m0 6h0m0 3h0m0 4h0m0 13h0m1-71h0m0 28h0m0 15h0m0 9h0m0 5h0m0 1h0m0 5h0m0 8h0m1-75h0m0 2h0m0 9h0m0 5h0m0 4h0m0 15h0m0 9h0m0 1h0m0 1h0m0 11h0m0 1h0m1-34h0m0 20h0m0 2h0m0 10h0m0 12h0m0 1h0m1-61h0m0 8h0m0 2h0m0 4h0m0 2h0m0 2h0m0 17h0m0 6h0m0 3h0m0 12h0m1-52h0m0 7h0m0 2h0m0 42h0m1-67h0m0 11h0m0 1h0m0 1h0m0 10h0m0 5h0m0 25h0m0 14h0m0 2h0m1-71h0m0 6h0m0 2h0m0 18h0m0 10h0m0 9h0m0 3h0m0 4h0m0 11h0m0 20h0m1-80h0m0 8h0m0 21h0m0 29h0m0 3h0m0 2h0m0 2h0m0 2h0m0 1h0m0 1h0m0 8h0m1-81h0m0 31h0m0 9h0m0 8h0m0 6h0m0 1h0m0 21h0m0 2h0m1-79h0m0 11h0m0 6h0m0 4h0m0 3h0m0 10h0m0 21h0m0 5h0m0 6h0m0 8h0m0 5h0m1-70h0m0 2h0m0 9h0m0 11h0m0 12h0m0 1h0m0 1h0m0 1h0m0 18h0m0 2h0m0 7h0m0 4h0m0 6h0m1-51h0m1-11h0m0 4h0m0 10h0m0 3h0m0 3h0m0 10h0m0 12h0m0 18h0m0 2h0m1-79h0m0 36h0m0 11h0m0 6h0m0 8h0m0 9h0m0 8h0m1-57h0m0 32h0m0 21h0m1-75h0m0 2h0m0 30h0m0 8h0m0 12h0m0 10h0m0 6h0m1-72h0m0 5h0m0 11h0m0 2h0m0 10h0m0 10h0m0 4h0m0 5h0m0 14h0m1-62h0m0 3h0m0 3h0m0 7h0m0 17h0m0 3h0m0 1h0m0 1h0m0 31h0m0 4h0m0 6h0m1-75h0m0 60h0m0 6h0m0 8h0m0 8h0m0 1h0m1-67h0m0 14h0m0 11h0m0 3h0m0 6h0m0 4h0m0 1h0m0 1h0m0 26h0m1-75h0m0 2h0m0 33h0m0 30h0m0 3h0m0 2h0m1-69h0m0 2h0m0 7h0m0 1h0m0 19h0m0 5h0m0 5h0m0 3h0m1-53h0m0 3h0m0 5h0m0 2h0m0 20h0m0 7h0m0 2h0m0 7h0m0 19h0m1-56h0m0 2h0m0 8h0m0 3h0m0 13h0m0 8h0m0 36h0m1-52h0m0 1h0m0 17h0m0 8h0m0 1h0m0 13h0m0 7h0m0 4h0m0 1h0m1-68h0m0 12h0m0 6h0m0 9h0m0 3h0m0 6h0m0 4h0m0 15h0m0 13h0m0 4h0m1-82h0m0 4h0m0 11h0m0 8h0m0 9h0m0 9h0m0 2h0m0 12h0m0 1h0m0 9h0m0 14h0m1-77h0m0 9h0m0 1h0m0 19h0m0 1h0m0 4h0m0 1h0m0 3h0m0 4h0m0 17h0m1-60h0m0 4h0m0 4h0m0 20h0m0 7h0m0 9h0m0 7h0m0 8h0m0 4h0m0 4h0m0 16h0m1-79h0m0 4h0m0 1h0m0 1h0m0 27h0m0 37h0m0 7h0m0 1h0m1-84h0m0 9h0m0 1h0m0 12h0m0 5h0m0 16h0m0 15h0m1-49h0m0 8h0m0 6h0m0 15h0m0 25h0m1-62h0m0 30h0m0 4h0m0 2h0m0 4h0m0 11h0m0 20h0m0 1h0m0 3h0m0 8h0m1-61h0m0 24h0m0 22h0m1-69h0m0 13h0m0 20h0m0 8h0m0 26h0m0 2h0m0 5h0m0 6h0m0 1h0m1-77h0m0 10h0m0 3h0m0 9h0m0 6h0m0 12h0m0 11h0m0 20h0m0 2h0m0 5h0m1-79h0m0 2h0m0 6h0m0 13h0m0 2h0m0 2h0m0 8h0m0 6h0m0 13h0m0 11h0m0 4h0m0 7h0m1-72h0m0 11h0m0 47h0m0 5h0m0 8h0m1-68h0m0 6h0m0 9h0m0 11h0m0 7h0m0 5h0m0 18h0m0 8h0m0 10h0m1-64h0m0 19h0m0 6h0m0 3h0m0 3h0m0 2h0m0 3h0m1-45h0m0 8h0m0 18h0m0 14h0m0 1h0m0 28h0m1-80h0m0 29h0m0 17h0m0 7h0m0 4h0m0 26h0m1-85h0m0 2h0m0 15h0m0 10h0m0 2h0m0 5h0m0 3h0m0 31h0m0 11h0m0 7h0m1-75h0m0 12h0m0 22h0m0 7h0m1-37h0m0 6h0m0 10h0m0 15h0m0 4h0m0 8h0m0 4h0m0 21h0m1-82h0m0 14h0m0 10h0m0 8h0m0 4h0m0 10h0m0 12h0m0 20h0m0 5h0m1-82h0m0 2h0m0 3h0m0 14h0m0 16h0m0 13h0m0 13h0m0 8h0m1-43h0m0 29h0m0 2h0m0 8h0m0 1h0m0 13h0m1-52h0m0 11h0m0 13h0m0 4h0m0 2h0m0 14h0m0 2h0m1-77h0m0 19h0m0 8h0m0 11h0m0 6h0m0 12h0m0 6h0m0 24h0m0 1h0m1-84h0m0 17h0m0 13h0m0 4h0m0 5h0m0 6h0m0 8h0m0 20h0m0 5h0m1-80h0m0 4h0m0 15h0m0 4h0m0 10h0m0 2h0m0 6h0m0 3h0m0 31h0m1-68h0m0 5h0m0 15h0m0 5h0m0 32h0m1-64h0m0 4h0m0 3h0m0 5h0m0 8h0m0 3h0m0 27h0m0 9h0m0 12h0m0 10h0m0 3h0m1-84h0m0 37h0m0 9h0m0 8h0m0 9h0m0 12h0m0 3h0m0 5h0m0 1h0m1-62h0m0 28h0m0 20h0m0 9h0m0 1h0m0 2h0m1-78h0m0 19h0m0 10h0m0 2h0m0 4h0m0 23h0m0 8h0m1-70h0m0 1h0m0 27h0m0 5h0m0 18h0m0 2h0m0 10h0m0 19h0m1-78h0m0 13h0m0 11h0m0 4h0m0 3h0m0 5h0m0 4h0m0 2h0m0 24h0m0 9h0m1-60h0m0 5h0m0 22h0m0 1h0m0 1h0m0 6h0m0 2h0m0 18h0m0 1h0m0 1h0m0 2h0m0 3h0m0 4h0m1-74h0m0 24h0m0 11h0m0 10h0m0 7h0m0 3h0m0 5h0m0 8h0m1-78h0m0 5h0m0 21h0m0 14h0m0 34h0m1-75h0m0 10h0m0 1h0m0 1h0m0 1h0m0 1h0m0 10h0m0 58h0m0 3h0m1-79h0m0 21h0m0 8h0m0 7h0m0 5h0m0 5h0m0 11h0m0 3h0m0 1h0m0 2h0m0 8h0m0 6h0m1-84h0m0 25h0m0 2h0m0 2h0m0 9h0m0 11h0m0 3h0m0 7h0m0 1h0m1-42h0m0 9h0m0 1h0m0 24h0m0 8h0m0 4h0m0 9h0m1-75h0m0 11h0m0 2h0m0 7h0m0 15h0m0 2h0m0 6h0m0 6h0m0 31h0m1-81h0m0 1h0m0 25h0m0 31h0m0 12h0m0 2h0m0 1h0m0 7h0m1-74h0m0 2h0m0 5h0m0 1h0m0 16h0m0 20h0m0 7h0m1-56h0m0 9h0m0 6h0m0 1h0m0 9h0m0 46h0m0 7h0m1-78h0m0 10h0m0 1h0m0 1h0m0 5h0m0 7h0m0 15h0m0 3h0m0 6h0m0 24h0m0 14h0m1-84h0m0 5h0m0 18h0m0 5h0m0 14h0m0 14h0m0 17h0m1-10h0m0 9h0m0 2h0m0 4h0m1-62h0m0 2h0m0 16h0m0 11h0m1-47h0m0 27h0m0 6h0m0 9h0m0 1h0m0 4h0m0 2h0m0 3h0m0 28h0m0 2h0m0 3h0m1-64h0m0 2h0m0 19h0m0 21h0m0 6h0m0 2h0m0 14h0m1-86h0m0 14h0m0 12h0m0 4h0m0 8h0m0 2h0m0 1h0m0 18h0m0 9h0m0 7h0m1-64h0m0 6h0m0 17h0m0 6h0m0 3h0m0 20h0m0 2h0m0 9h0m0 4h0m0 7h0m0 3h0m1-87h0m0 8h0m0 5h0m0 13h0m0 2h0m0 18h0m0 35h0m0 3h0m1-74h0m0 12h0m0 9h0m0 28h0m0 3h0m0 21h0m0 2h0m1-78h0m0 10h0m0 13h0m0 6h0m0 25h0m0 9h0m0 1h0m1-42h0m0 2h0m0 45h0m1-70h0m0 31h0m0 4h0m0 1h0m0 8h0m0 31h0m0 2h0m1-85h0m0 6h0m0 3h0m0 4h0m0 4h0m0 4h0m0 9h0m0 4h0m0 15h0m0 6h0m0 11h0m0 4h0m0 12h0m1-76h0m0 21h0m0 6h0m0 1h0m0 9h0m0 34h0m0 8h0m1-84h0m0 2h0m0 3h0m0 5h0m0 27h0m0 1h0m0 3h0m0 21h0m0 3h0m0 3h0m0 14h0m0 2h0m0 1h0m0 1h0m1-90h0m0 21h0m0 37h0m0 22h0m0 10h0m1-87h0m0 8h0m0 10h0m0 4h0m0 4h0m0 11h0m0 22h0m0 3h0m0 8h0m0 6h0m0 10h0m1-87h0m0 8h0m0 41h0m0 17h0m0 2h0m0 18h0m0 3h0m1-88h0m0 15h0m0 9h0m0 32h0m0 1h0m0 3h0m0 2h0m0 5h0m0 5h0m1-73h0m0 8h0m0 18h0m0 17h0m0 3h0m0 6h0m0 24h0m0 3h0m1-63h0m0 4h0m0 2h0m0 28h0m0 4h0m0 32h0m1-86h0m0 14h0m0 8h0m0 5h0m0 5h0m0 19h0m0 4h0m0 15h0m0 6h0m0 1h0m0 9h0m1-88h0m0 17h0m0 4h0m0 68h0m0 1h0m1-82h0m0 1h0m0 5h0m0 15h0m0 12h0m0 6h0m0 11h0m0 2h0m0 8h0m1-35h0m0 14h0m0 14h0m0 1h0m0 6h0m0 7h0m1-68h0m0 2h0m0 27h0m0 24h0m0 10h0m0 3h0m1-91h0m0 14h0m0 7h0m0 10h0m0 5h0m0 18h0m0 20h0m0 13h0m1-88h0m0 2h0m0 6h0m0 2h0m0 21h0m0 1h0m0 12h0m0 11h0m0 8h0m0 4h0m0 5h0m0 2h0m0 1h0m0 3h0m0 3h0m0 2h0m0 1h0m0 6h0m1-92h0m0 30h0m0 6h0m0 7h0m0 4h0m0 14h0m0 4h0m0 5h0m0 8h0m0 4h0m0 6h0m0 1h0m1-104h0m0 9h0m0 13h0m0 6h0m0 18h0m0 4h0m0 2h0m0 5h0m0 1h0m0 7h0m0 8h0m0 5h0m0 7h0m0 4h0m0 19h0m1-111h0m0 32h0m0 6h0m0 3h0m0 19h0m0 3h0m0 17h0m0 1h0m0 10h0m0 8h0m0 3h0m0 8h0m1-72h0m0 3h0m0 10h0m0 29h0m0 9h0m0 4h0m0 1h0m0 1h0m0 2h0m0 2h0m0 5h0m1-81h0m0 14h0m0 7h0m0 15h0m0 12h0m0 4h0m0 1h0m0 4h0m0 17h0m0 7h0m0 6h0m1-112h0m0 39h0m0 1h0m0 1h0m0 44h0m0 8h0m0 2h0m0 1h0m0 1h0m0 7h0m0 3h0m0 1h0m1-106h0m0 76h0m0 4h0m0 5h0m0 4h0m0 1h0m0 10h0m0 3h0m1-99h0m0 4h0m0 6h0m0 14h0m0 1h0m0 1h0m0 7h0m0 28h0m0 11h0m0 5h0m0 15h0m1-89h0m0 21h0m0 12h0m0 17h0m0 2h0m0 11h0m0 1h0m0 4h0m0 2h0m0 2h0m0 1h0m0 6h0m0 12h0m0 1h0m0 2h0m0 6h0m0 1h0m1-94h0m0 35h0m0 5h0m0 9h0m0 12h0m0 1h0m0 9h0m0 5h0m0 8h0m0 2h0m0 2h0m0 1h0m1-95h0m0 30h0m0 10h0m0 5h0m0 15h0m0 6h0m0 7h0m0 1h0m0 5h0m0 7h0m0 2h0m0 1h0m0 9h0m0 4h0m1-109h0m0 33h0m0 3h0m0 1h0m0 26h0m0 15h0m0 2h0m0 8h0m1-89h0m0 10h0m0 19h0m0 15h0m0 5h0m0 3h0m0 3h0m0 2h0m0 6h0m0 11h0m0 3h0m0 6h0m0 2h0m0 2h0m0 7h0m0 5h0m0 4h0m0 4h0m1-110h0m0 15h0m0 17h0m0 1h0m0 1h0m0 11h0m0 5h0m0 1h0m0 7h0m0 6h0m0 9h0m0 13h0m0 3h0m0 1h0m0 2h0m0 9h0m0 5h0m1-94h0m0 11h0m0 6h0m0 2h0m0 1h0m0 2h0m0 15h0m0 23h0m0 3h0m0 1h0m0 10h0m0 1h0m0 15h0m0 8h0m1-74h0m0 8h0m0 18h0m0 8h0m0 4h0m0 10h0m0 5h0m0 1h0m0 5h0m0 3h0m0 1h0m0 5h0m0 2h0m0 5h0m1-84h0m0 7h0m0 7h0m0 14h0m0 1h0m0 15h0m0 13h0m0 4h0m0 10h0m0 2h0m0 4h0m0 2h0m0 6h0m1-117h0m0 21h0m0 15h0m0 2h0m0 2h0m0 15h0m0 5h0m0 29h0m0 11h0m0 11h0m0 3h0m1-76h0m0 1h0m0 2h0m0 3h0m0 1h0m0 15h0m0 11h0m0 2h0m0 2h0m0 22h0m0 4h0m0 8h0m0 6h0m1-110h0m0 21h0m0 10h0m0 6h0m0 21h0m0 2h0m0 41h0m0 7h0m0 5h0m1-117h0m0 34h0m0 14h0m0 9h0m0 8h0m0 18h0m0 18h0m0 12h0m0 1h0m1-106h0m0 33h0m0 3h0m0 2h0m0 1h0m0 2h0m0 2h0m0 10h0m0 12h0m0 13h0m0 1h0m0 1h0m0 2h0m0 3h0m0 2h0m0 2h0m0 16h0m0 4h0m1-117h0m0 11h0m0 10h0m0 17h0m0 6h0m0 4h0m0 4h0m0 7h0m0 12h0m0 18h0m0 13h0m0 1h0m1-102h0m0 8h0m0 20h0m0 6h0m0 9h0m0 4h0m0 19h0m0 22h0m0 1h0m0 5h0m0 2h0m0 9h0m0 2h0m1-106h0m0 6h0m0 40h0m0 2h0m0 4h0m0 14h0m0 10h0m0 3h0m0 9h0m0 17h0m0 5h0m0 1h0m0 2h0m1-105h0m0 25h0m0 24h0m0 5h0m0 24h0m0 3h0m0 7h0m0 11h0m1-70h0m0 4h0m0 15h0m0 5h0m0 2h0m0 7h0m0 16h0m0 3h0m0 7h0m0 3h0m0 2h0m0 2h0m0 4h0m0 3h0m0 2h0m1-113h0m0 2h0m0 2h0m0 1h0m0 1h0m0 31h0m0 2h0m0 27h0m0 9h0m0 3h0m0 5h0m0 6h0m0 6h0m0 4h0m0 3h0m0 1h0m0 2h0m0 6h0m1-103h0m0 3h0m0 21h0m0 9h0m0 4h0m0 6h0m0 13h0m0 5h0m0 15h0m0 2h0m0 3h0m0 3h0m0 7h0m0 5h0m0 3h0m0 1h0m0 6h0m1-107h0m0 13h0m0 13h0m0 10h0m0 4h0m0 7h0m0 17h0m0 2h0m0 1h0m0 8h0m0 3h0m0 8h0m0 1h0m0 3h0m0 2h0m0 5h0m0 4h0m1-88h0m0 3h0m0 4h0m0 4h0m0 11h0m0 2h0m0 1h0m0 2h0m0 9h0m0 12h0m0 2h0m0 1h0m0 3h0m0 10h0m0 3h0m0 11h0m0 3h0m0 9h0m0 2h0m1-52h0m0 4h0m0 11h0m0 13h0m0 2h0m0 13h0m0 1h0m0 5h0m0 4h0m1-114h0m0 1h0m0 12h0m0 2h0m0 7h0m0 2h0m0 7h0m0 25h0m0 12h0m0 7h0m0 7h0m0 4h0m0 1h0m0 9h0m0 9h0m0 2h0m1-109h0m0 11h0m0 19h0m0 6h0m0 1h0m0 3h0m0 6h0m0 8h0m0 6h0m0 3h0m0 7h0m0 4h0m0 2h0m0 2h0m0 24h0m0 9h0m0 1h0m0 5h0m0 1h0m0 1h0m1-116h0m0 9h0m0 26h0m0 7h0m0 1h0m0 8h0m0 23h0m0 16h0m0 8h0m0 1h0m1-101h0m0 1h0m0 4h0m0 10h0m0 20h0m0 6h0m0 6h0m0 22h0m0 3h0m0 10h0m0 7h0m0 7h0m0 17h0m1-95h0m0 8h0m0 4h0m0 20h0m0 13h0m0 18h0m0 2h0m0 8h0m0 4h0m1-86h0m0 2h0m0 3h0m0 21h0m0 24h0m0 4h0m0 1h0m0 15h0m0 9h0m0 2h0m0 1h0m0 7h0m0 6h0m0 2h0m0 1h0m0 5h0m0 1h0m1-112h0m0 9h0m0 7h0m0 30h0m0 5h0m0 11h0m0 24h0m0 1h0m0 2h0m0 10h0m0 8h0m0 6h0m1-110h0m0 23h0m0 22h0m0 6h0m0 1h0m0 22h0m0 2h0m0 2h0m0 16h0m0 4h0m0 3h0m0 11h0m1-82h0m0 3h0m0 7h0m0 3h0m0 18h0m0 4h0m0 8h0m0 1h0m0 6h0m0 5h0m0 5h0m0 2h0m0 1h0m0 1h0m0 14h0m0 5h0m1-108h0m0 2h0m0 17h0m0 17h0m0 10h0m0 8h0m0 11h0m0 22h0m0 3h0m0 4h0m0 7h0m0 5h0m1-94h0m0 23h0m0 5h0m0 6h0m0 29h0m0 4h0m0 11h0m0 3h0m0 5h0m0 5h0m0 4h0m1-106h0m0 1h0m0 22h0m0 13h0m0 7h0m0 11h0m0 3h0m0 6h0m0 4h0m0 9h0m0 3h0m0 5h0m0 4h0m0 1h0m0 1h0m0 4h0m0 9h0m0 3h0m1-119h0m0 3h0m0 28h0m0 4h0m0 13h0m0 4h0m0 3h0m0 1h0m0 5h0m0 3h0m0 4h0m0 10h0m0 1h0m0 8h0m0 5h0m0 10h0m0 8h0m0 2h0m0 5h0m0 1h0m1-113h0m0 46h0m0 6h0m0 15h0m0 3h0m0 6h0m0 12h0m0 10h0m0 9h0m0 1h0m0 2h0m1-112h0m0 10h0m0 3h0m0 51h0m0 18h0m0 3h0m0 1h0m0 3h0m0 3h0m0 6h0m0 1h0m0 3h0m0 5h0m0 1h0m0 1h0m0 4h0m0 1h0m0 11h0m1-107h0m0 6h0m0 13h0m0 5h0m0 3h0m0 22h0m0 25h0m0 2h0m0 2h0m0 4h0m1-104h0m0 15h0m0 2h0m0 26h0m0 4h0m0 15h0m0 3h0m0 6h0m0 8h0m0 2h0m0 15h0m0 4h0m0 16h0m1-112h0m0 9h0m0 10h0m0 2h0m0 2h0m0 25h0m0 7h0m0 5h0m0 12h0m0 5h0m0 1h0m0 22h0m0 4h0m0 2h0m0 3h0m0 4h0m1-110h0m0 18h0m0 14h0m0 34h0m0 3h0m0 10h0m0 9h0m0 4h0m0 11h0m1-102h0m0 24h0m0 25h0m0 10h0m0 5h0m0 2h0m0 7h0m0 6h0m0 6h0m0 5h0m0 9h0m0 9h0m0 4h0m1-112h0m0 18h0m0 14h0m0 2h0m0 31h0m0 8h0m0 2h0m0 2h0m0 6h0m0 1h0m0 9h0m1-99h0m0 11h0m0 50h0m0 1h0m0 8h0m0 7h0m0 7h0m0 1h0m0 4h0m0 1h0m0 5h0m0 8h0m0 4h0m1-108h0m0 1h0m0 1h0m0 1h0m0 6h0m0 11h0m0 18h0m0 13h0m0 12h0m0 17h0m0 18h0m0 1h0m0 6h0m0 8h0m0 1h0m1-100h0m0 6h0m0 34h0m0 9h0m0 1h0m0 2h0m0 8h0m0 6h0m0 19h0m0 1h0m0 1h0m0 5h0m0 5h0m0 1h0m0 10h0m1-101h0m0 18h0m0 17h0m0 17h0m0 4h0m0 7h0m0 2h0m0 9h0m0 5h0m0 8h0m0 2h0m0 3h0m1-102h0m0 14h0m0 5h0m0 10h0m0 14h0m0 18h0m0 6h0m0 2h0m0 17h0m0 2h0m0 1h0m0 5h0m0 9h0m1-109h0m0 47h0m0 30h0m0 5h0m0 7h0m0 3h0m0 8h0m0 17h0m0 9h0m1-121h0m0 23h0m0 10h0m0 18h0m0 39h0m0 3h0m0 6h0m0 10h0m0 2h0m1-95h0m0 17h0m0 3h0m0 5h0m0 4h0m0 2h0m0 2h0m0 25h0m0 1h0m0 1h0m0 4h0m0 6h0m0 1h0m0 2h0m0 3h0m0 8h0m0 1h0m0 7h0m1-120h0m0 23h0m0 4h0m0 7h0m0 5h0m0 15h0m0 8h0m0 6h0m0 8h0m0 11h0m0 8h0m0 7h0m0 12h0m1-112h0m0 7h0m0 7h0m0 18h0m0 9h0m0 11h0m0 9h0m0 7h0m0 3h0m0 20h0m0 4h0m0 3h0m0 5h0m0 6h0m0 5h0m1-94h0m0 1h0m0 19h0m0 25h0m0 2h0m0 11h0m0 8h0m0 2h0m0 2h0m0 1h0m0 1h0m0 3h0m0 2h0m0 7h0m0 2h0m0 1h0m0 1h0m0 1h0m0 9h0m1-117h0m0 3h0m0 1h0m0 47h0m0 39h0m0 11h0m0 1h0m0 4h0m0 7h0m1-114h0m0 5h0m0 1h0m0 24h0m0 20h0m0 4h0m0 5h0m0 3h0m0 3h0m0 4h0m0 2h0m0 1h0m0 11h0m0 11h0m0 1h0m0 10h0m0 5h0m0 1h0m0 1h0m0 4h0m0 1h0m1-109h0m0 13h0m0 6h0m0 1h0m0 1h0m0 11h0m0 20h0m0 19h0m0 9h0m0 9h0m0 3h0m0 5h0m0 5h0m0 10h0m1-120h0m0 7h0m0 13h0m0 16h0m0 1h0m0 21h0m0 25h0m0 13h0m0 9h0m0 13h0m1-121h0m0 3h0m0 35h0m0 3h0m0 13h0m0 22h0m0 2h0m0 5h0m0 7h0m0 3h0m0 3h0m0 1h0m0 2h0m0 3h0m0 12h0m1-112h0m0 4h0m0 14h0m0 7h0m0 14h0m0 2h0m0 9h0m0 2h0m0 7h0m0 24h0m0 5h0m0 3h0m0 1h0m0 1h0m0 1h0m0 7h0m0 4h0m1-102h0m0 4h0m0 12h0m0 1h0m0 10h0m0 9h0m0 6h0m0 5h0m0 5h0m0 19h0m0 3h0m0 3h0m0 14h0m0 9h0m0 6h0m0 6h0m0 2h0m1-115h0m0 1h0m0 24h0m0 22h0m0 28h0m0 2h0m0 3h0m0 7h0m0 10h0m0 1h0m0 9h0m0 5h0m1-114h0m0 6h0m0 6h0m0 17h0m0 7h0m0 4h0m0 1h0m0 1h0m0 10h0m0 2h0m0 9h0m0 4h0m0 11h0m0 3h0m0 3h0m0 5h0m0 3h0m0 3h0m0 4h0m0 6h0m0 1h0m0 1h0m0 10h0m1-117h0m0 8h0m0 64h0m0 12h0m0 8h0m0 4h0m0 1h0m0 9h0m0 5h0m0 4h0m0 7h0m0 5h0m1-100h0m0 31h0m0 17h0m0 9h0m0 2h0m0 8h0m0 7h0m0 3h0m0 4h0m0 2h0m0 6h0m1-98h0m0 20h0m0 6h0m0 9h0m0 11h0m0 6h0m0 9h0m0 3h0m0 4h0m0 5h0m0 3h0m0 2h0m0 7h0m0 5h0m0 10h0m1-79h0m0 9h0m0 13h0m0 9h0m0 4h0m0 16h0m0 2h0m0 2h0m0 7h0m0 5h0m0 3h0m0 5h0m0 1h0m0 7h0m1-103h0m0 13h0m0 2h0m0 7h0m0 14h0m0 2h0m0 17h0m0 16h0m0 1h0m0 6h0m0 2h0m0 1h0m0 5h0m0 1h0m0 4h0m0 3h0m0 9h0m1-122h0m0 6h0m0 2h0m0 19h0m0 14h0m0 8h0m0 4h0m0 16h0m0 21h0m0 8h0m0 9h0m0 4h0m0 3h0m1-112h0m0 6h0m0 41h0m0 2h0m0 4h0m0 3h0m0 6h0m0 4h0m0 6h0m0 1h0m0 18h0m1-83h0m0 3h0m0 20h0m0 6h0m0 6h0m0 2h0m0 25h0m0 16h0m0 13h0m0 3h0m0 4h0m0 3h0m0 1h0m0 1h0m0 7h0m1-93h0m0 18h0m0 13h0m0 5h0m0 16h0m0 16h0m0 1h0m0 27h0m1-124h0m0 2h0m0 22h0m0 7h0m0 6h0m0 17h0m0 4h0m0 2h0m0 17h0m0 5h0m0 7h0m0 3h0m0 1h0m0 7h0m0 4h0m0 13h0m1-118h0m0 40h0m0 5h0m0 6h0m0 8h0m0 9h0m0 17h0m0 4h0m0 8h0m0 15h0m0 1h0m0 1h0m1-112h0m0 3h0m0 9h0m0 1h0m0 9h0m0 4h0m0 5h0m0 9h0m0 9h0m0 1h0m0 11h0m0 2h0m0 2h0m0 10h0m0 18h0m0 9h0m0 3h0m0 9h0m1-97h0m0 37h0m0 10h0m0 2h0m0 10h0m0 11h0m0 1h0m0 9h0m0 2h0m0 11h0m1-73h0m0 9h0m0 9h0m0 15h0m0 2h0m0 13h0m0 7h0m0 3h0m0 2h0m1-96h0m0 19h0m0 3h0m0 72h0m0 3h0m0 5h0m0 6h0m0 3h0m0 2h0m0 2h0m1-113h0m0 23h0m0 4h0m0 12h0m0 32h0m0 20h0m0 4h0m0 1h0m0 11h0m0 1h0m0 5h0m0 2h0m1-119h0m0 7h0m0 12h0m0 8h0m0 38h0m0 1h0m0 16h0m0 6h0m0 2h0m0 4h0m0 15h0m0 1h0m0 1h0m0 4h0m0 6h0m1-114h0m0 34h0m0 9h0m0 8h0m0 3h0m0 3h0m0 1h0m0 20h0m0 22h0m0 2h0m1-108h0m0 26h0m0 6h0m0 30h0m0 1h0m0 8h0m0 9h0m0 2h0m0 6h0m0 14h0m0 3h0m0 1h0m0 6h0m0 1h0m1-72h0m0 18h0m0 19h0m0 18h0m0 7h0m0 6h0m0 8h0m0 4h0m1-118h0m0 14h0m0 18h0m0 5h0m0 25h0m0 17h0m0 21h0m0 5h0m1-98h0m0 9h0m0 21h0m0 9h0m0 3h0m0 9h0m0 2h0m0 1h0m0 13h0m0 6h0m0 23h0m0 10h0m1-104h0m0 4h0m0 21h0m0 9h0m0 13h0m0 19h0m0 7h0m0 9h0m1-63h0m0 5h0m0 32h0m0 14h0m0 4h0m0 2h0m0 6h0m0 3h0m0 9h0m1-95h0m0 3h0m0 29h0m0 1h0m0 3h0m0 1h0m0 24h0m0 4h0m0 3h0m0 2h0m0 13h0m0 5h0m0 5h0m0 3h0m0 3h0m1-118h0m0 8h0m0 6h0m0 28h0m0 11h0m0 3h0m0 8h0m0 18h0m0 20h0m0 2h0m0 2h0m0 6h0m0 1h0m0 1h0m0 1h0m1-94h0m0 18h0m0 12h0m0 1h0m0 3h0m0 1h0m0 3h0m0 3h0m0 22h0m0 6h0m0 7h0m0 1h0m0 3h0m0 5h0m0 1h0m0 4h0m0 1h0m0 2h0m0 1h0m0 8h0m1-108h0m0 15h0m0 20h0m0 15h0m0 1h0m0 2h0m0 8h0m0 6h0m0 13h0m0 1h0m0 16h0m1-110h0m0 35h0m0 16h0m0 15h0m0 1h0m0 4h0m0 1h0m0 1h0m0 15h0m0 9h0m0 13h0m0 9h0m0 2h0m1-120h0m0 4h0m0 13h0m0 4h0m0 8h0m0 5h0m0 5h0m0 3h0m0 8h0m0 18h0m0 3h0m0 18h0m1-93h0m0 27h0m0 20h0m0 2h0m0 5h0m0 5h0m0 10h0m0 5h0m0 9h0m0 10h0m0 1h0m0 21h0m0 2h0m0 2h0m1-115h0m0 4h0m0 26h0m0 15h0m0 6h0m0 6h0m0 6h0m0 7h0m0 4h0m0 4h0m0 2h0m0 2h0m0 2h0m0 8h0m0 3h0m0 4h0m0 12h0m1-113h0m0 6h0m0 1h0m0 10h0m0 13h0m0 15h0m0 4h0m0 6h0m0 2h0m0 2h0m0 21h0m0 7h0m0 1h0m0 2h0m0 1h0m0 33h0m1-93h0m0 8h0m0 12h0m0 3h0m0 3h0m0 3h0m0 6h0m0 1h0m0 2h0m0 9h0m0 5h0m0 5h0m0 1h0m0 8h0m0 3h0m0 16h0m1-110h0m0 4h0m0 7h0m0 16h0m0 8h0m0 8h0m0 2h0m0 15h0m0 6h0m0 14h0m0 2h0m0 8h0m0 1h0m1-100h0m0 5h0m0 28h0m0 22h0m0 14h0m0 6h0m0 2h0m0 16h0m0 4h0m0 5h0m0 22h0m1-121h0m0 8h0m0 27h0m0 10h0m0 7h0m0 5h0m0 14h0m0 13h0m0 3h0m0 1h0m0 2h0m0 2h0m0 6h0m1-63h0m0 9h0m0 6h0m0 4h0m0 2h0m0 9h0m0 9h0m0 1h0m0 13h0m0 7h0m0 3h0m0 25h0m1-108h0m0 32h0m0 13h0m0 10h0m0 2h0m0 6h0m0 1h0m0 8h0m0 3h0m0 5h0m1-96h0m0 35h0m0 1h0m0 21h0m0 5h0m0 3h0m0 4h0m0 2h0m0 4h0m0 1h0m0 4h0m0 4h0m0 3h0m0 2h0m0 20h0m0 7h0m1-120h0m0 17h0m0 3h0m0 20h0m0 1h0m0 17h0m0 5h0m0 1h0m0 1h0m0 5h0m0 6h0m0 5h0m0 12h0m0 5h0m0 18h0m0 7h0m0 4h0m1-117h0m0 3h0m0 6h0m0 13h0m0 5h0m0 2h0m0 2h0m0 2h0m0 2h0m0 7h0m0 10h0m0 8h0m0 3h0m0 4h0m0 1h0m0 15h0m0 5h0m0 6h0m0 21h0m1-91h0m0 11h0m0 3h0m0 13h0m0 15h0m0 14h0m0 8h0m0 2h0m0 23h0m1-93h0m0 14h0m0 2h0m0 2h0m0 4h0m0 7h0m0 14h0m0 4h0m0 4h0m0 4h0m0 53h0m1-112h0m0 9h0m0 12h0m0 9h0m0 4h0m0 5h0m0 2h0m0 1h0m0 24h0m0 6h0m1-96h0m0 18h0m0 36h0m0 5h0m0 23h0m0 6h0m0 1h0m0 1h0m0 5h0m0 28h0m1-122h0m0 12h0m0 1h0m0 18h0m0 12h0m0 12h0m0 11h0m0 30h0m0 16h0m1-117h0m0 48h0m0 1h0m0 1h0m0 4h0m0 2h0m0 14h0m0 19h0m0 10h0m0 18h0m1-114h0m0 3h0m0 8h0m0 10h0m0 2h0m0 10h0m0 4h0m0 4h0m0 4h0m0 4h0m0 13h0m0 2h0m0 12h0m0 4h0m0 6h0m1-83h0m0 15h0m0 35h0m0 23h0m0 5h0m0 40h0m0 9h0m1-93h0m0 18h0m0 40h0m0 37h0m1-91h0m0 2h0m0 1h0m0 2h0m0 1h0m0 9h0m0 1h0m0 18h0m0 2h0m0 4h0m0 15h0m0 28h0m0 5h0m1-89h0m0 5h0m0 1h0m0 10h0m0 1h0m0 2h0m0 1h0m0 2h0m0 2h0m0 7h0m0 5h0m0 8h0m0 5h0m0 2h0m0 20h0m0 3h0m0 14h0m1-124h0m0 3h0m0 32h0m0 1h0m0 5h0m0 10h0m0 2h0m0 4h0m0 4h0m0 2h0m0 8h0m0 1h0m0 3h0m0 10h0m0 7h0m0 36h0m1-134h0m0 1h0m0 23h0m0 16h0m0 29h0m0 6h0m0 10h0m0 6h0m1-93h0m0 1h0m0 4h0m0 2h0m0 7h0m0 2h0m0 11h0m0 4h0m0 10h0m0 25h0m0 2h0m0 11h0m0 11h0m0 8h0m0 28h0m1-124h0m0 39h0m0 3h0m0 16h0m0 13h0m0 2h0m0 10h0m0 1h0m0 2h0m0 3h0m0 45h0m1-127h0m0 13h0m0 21h0m0 1h0m0 4h0m0 1h0m0 2h0m0 14h0m0 1h0m0 6h0m0 15h0m0 11h0m0 2h0m0 18h0m0 15h0m1-90h0m0 8h0m0 1h0m0 8h0m0 4h0m0 12h0m0 7h0m0 1h0m0 7h0m0 2h0m1-88h0m0 16h0m0 9h0m0 5h0m0 10h0m0 7h0m0 3h0m0 9h0m0 2h0m0 8h0m0 6h0m0 3h0m0 8h0m0 10h0m1-95h0m0 8h0m0 7h0m0 3h0m0 18h0m0 3h0m0 9h0m0 11h0m0 3h0m0 2h0m0 4h0m0 13h0m0 5h0m0 2h0m0 4h0m0 1h0m1-96h0m0 5h0m0 31h0m0 18h0m0 16h0m0 1h0m0 8h0m0 5h0m0 10h0m1-60h0m0 1h0m0 3h0m0 5h0m0 4h0m0 6h0m0 13h0m0 4h0m0 2h0m0 3h0m0 3h0m0 6h0m0 5h0m0 2h0m1-67h0m0 2h0m0 11h0m0 10h0m0 5h0m0 7h0m0 2h0m0 4h0m0 19h0m0 5h0m0 50h0m1-119h0m0 7h0m0 13h0m0 7h0m0 10h0m0 1h0m0 11h0m0 9h0m0 3h0m0 2h0m0 37h0m0 2h0m0 9h0m1-134h0m0 2h0m0 1h0m0 19h0m0 17h0m0 2h0m0 1h0m0 17h0m0 1h0m0 3h0m0 1h0m0 2h0m0 5h0m0 1h0m0 14h0m0 9h0m0 2h0m0 36h0m0 1h0m1-135h0m0 17h0m0 7h0m0 19h0m0 3h0m0 3h0m0 4h0m0 2h0m0 12h0m0 21h0m0 8h0m0 21h0m1-107h0m0 2h0m0 1h0m0 26h0m0 5h0m0 23h0m0 12h0m0 4h0m0 10h0m0 6h0m0 23h0m1-102h0m0 6h0m0 3h0m0 13h0m0 8h0m0 6h0m0 11h0m0 8h0m0 1h0m0 3h0m0 12h0m1-88h0m0 35h0m0 15h0m0 10h0m0 15h0m0 7h0m0 13h0m1-94h0m0 2h0m0 8h0m0 17h0m0 14h0m0 18h0m0 4h0m0 1h0m0 11h0m0 12h0m0 30h0m1-114h0m0 3h0m0 20h0m0 4h0m0 24h0m0 6h0m0 5h0m0 8h0m0 4h0m0 5h0m0 1h0m0 43h0m1-109h0m0 11h0m0 3h0m0 5h0m0 1h0m0 7h0m0 13h0m0 1h0m0 5h0m0 2h0m0 1h0m0 3h0m0 1h0m0 9h0m0 3h0m0 2h0m0 6h0m0 23h0m1-116h0m0 3h0m0 6h0m0 16h0m0 13h0m0 7h0m0 2h0m0 25h0m0 1h0m0 5h0m0 13h0m0 1h0m0 4h0m1-83h0m0 4h0m0 8h0m0 18h0m0 5h0m0 14h0m0 1h0m0 21h0m0 31h0m1-107h0m0 12h0m0 22h0m0 10h0m0 2h0m0 7h0m0 11h0m0 1h0m0 2h0m0 10h0m0 1h0m1-72h0m0 24h0m0 2h0m0 8h0m0 15h0m0 21h0m0 14h0m1-96h0m0 2h0m0 3h0m0 30h0m0 5h0m0 14h0m0 4h0m0 6h0m0 5h0m0 23h0m0 38h0m1-135h0m0 13h0m0 25h0m0 5h0m0 2h0m0 3h0m0 25h0m0 13h0m0 9h0m0 35h0m0 8h0m1-136h0m0 6h0m0 8h0m0 24h0m0 11h0m0 2h0m0 6h0m0 3h0m0 4h0m0 13h0m0 1h0m0 14h0m0 1h0m0 3h0m0 1h0m0 44h0m1-111h0m0 7h0m0 2h0m0 1h0m0 1h0m0 19h0m0 1h0m0 9h0m0 23h0m0 6h0m0 26h0m0 6h0m1-125h0m0 28h0m0 7h0m0 1h0m0 5h0m0 4h0m0 22h0m0 2h0m0 7h0m0 5h0m0 1h0m1-74h0m0 1h0m0 5h0m0 27h0m0 2h0m0 8h0m0 3h0m0 7h0m0 7h0m0 3h0m0 8h0m0 6h0m0 28h0m0 7h0m1-127h0m0 2h0m0 2h0m0 6h0m0 17h0m0 12h0m0 17h0m0 22h0m0 3h0m0 3h0m0 3h0m0 6h0m1-80h0m0 30h0m0 15h0m0 12h0m0 22h0m0 7h0m1-99h0m0 7h0m0 1h0m0 16h0m0 15h0m0 4h0m0 12h0m0 1h0m0 1h0m0 2h0m0 29h0m0 5h0m0 33h0m1-127h0m0 41h0m0 4h0m0 7h0m0 8h0m0 4h0m0 3h0m0 1h0m0 5h0m0 1h0m0 12h0m0 39h0m1-115h0m0 1h0m0 13h0m0 4h0m0 8h0m0 10h0m0 2h0m0 4h0m0 4h0m0 14h0m0 7h0m0 19h0m0 30h0m0 10h0m1-117h0m0 14h0m0 6h0m0 3h0m0 2h0m0 4h0m0 7h0m0 25h0m0 1h0m0 5h0m0 3h0m0 6h0m0 1h0m1-93h0m0 37h0m0 12h0m0 11h0m0 14h0m0 5h0m0 6h0m0 5h0m0 4h0m1-89h0m0 14h0m0 15h0m0 5h0m0 3h0m0 5h0m0 4h0m0 9h0m0 5h0m0 4h0m0 6h0m0 4h0m0 8h0m0 2h0m1-89h0m0 19h0m0 4h0m0 7h0m0 8h0m0 3h0m0 9h0m0 3h0m0 1h0m0 1h0m0 1h0m0 7h0m0 5h0m0 2h0m0 1h0m0 8h0m0 1h0m0 10h0m0 3h0m0 23h0m1-116h0m0 6h0m0 29h0m0 3h0m0 9h0m0 1h0m0 12h0m0 23h0m0 11h0m1-93h0m0 2h0m0 38h0m0 10h0m0 4h0m0 3h0m0 35h0m0 1h0m0 1h0m0 20h0m1-100h0m0 2h0m0 3h0m0 6h0m0 9h0m0 2h0m0 22h0m0 4h0m0 17h0m0 6h0m0 3h0m0 30h0m1-115h0m0 5h0m0 3h0m0 30h0m0 15h0m0 6h0m0 15h0m0 2h0m0 10h0m0 1h0m0 1h0m0 3h0m0 2h0m0 36h0m1-125h0m0 10h0m0 30h0m0 15h0m0 2h0m0 25h0m0 28h0m0 11h0m1-129h0m0 12h0m0 36h0m0 2h0m0 6h0m0 10h0m0 5h0m1-73h0m0 8h0m0 3h0m0 6h0m0 32h0m0 11h0m0 2h0m0 22h0m0 1h0m0 5h0m0 4h0m0 5h0m0 24h0m0 2h0m0 4h0m0 2h0m0 1h0m1-130h0m0 4h0m0 3h0m0 12h0m0 10h0m0 8h0m0 6h0m0 3h0m0 1h0m0 2h0m0 3h0m0 15h0m0 9h0m0 5h0m0 1h0m0 10h0m1-87h0m0 24h0m0 4h0m0 5h0m0 4h0m0 4h0m0 17h0m0 2h0m0 1h0m0 2h0m0 8h0m0 7h0m0 1h0m0 8h0m1-93h0m0 17h0m0 12h0m0 6h0m0 4h0m0 5h0m0 11h0m0 5h0m0 3h0m0 7h0m0 7h0m0 4h0m0 5h0m0 6h0m0 1h0m0 24h0m0 10h0m1-124h0m0 23h0m0 8h0m0 2h0m0 1h0m0 8h0m0 3h0m0 7h0m0 3h0m0 5h0m0 9h0m0 9h0m0 1h0m0 8h0m0 28h0m0 15h0m1-117h0m0 2h0m0 2h0m0 7h0m0 22h0m0 12h0m0 2h0m0 5h0m0 2h0m0 5h0m0 2h0m0 1h0m0 1h0m0 1h0m0 10h0m0 3h0m0 27h0m0 5h0m0 7h0m0 1h0m1-126h0m0 20h0m0 7h0m0 1h0m0 2h0m0 4h0m0 19h0m0 10h0m0 4h0m0 2h0m0 11h0m0 48h0m1-132h0m0 1h0m0 9h0m0 1h0m0 12h0m0 11h0m0 1h0m0 8h0m0 1h0m0 18h0m0 6h0m0 7h0m0 2h0m0 2h0m0 1h0m0 6h0m1-89h0m0 13h0m0 14h0m0 4h0m0 9h0m0 2h0m0 5h0m0 5h0m0 2h0m0 13h0m0 2h0m0 11h0m0 7h0m0 1h0m0 6h0m0 1h0m0 30h0m0 10h0m1-93h0m0 1h0m0 3h0m0 2h0m0 2h0m0 4h0m0 4h0m0 2h0m0 4h0m0 9h0m0 45h0m0 17h0m1-137h0m0 15h0m0 1h0m0 28h0m0 8h0m0 6h0m0 3h0m0 2h0m0 3h0m0 15h0m0 6h0m0 39h0m0 1h0m1-121h0m0 21h0m0 7h0m0 1h0m0 3h0m0 8h0m0 8h0m0 10h0m0 5h0m0 12h0m0 2h0m0 4h0m0 4h0m0 1h0m0 29h0m0 3h0m1-112h0m0 9h0m0 5h0m0 4h0m0 15h0m0 2h0m0 1h0m0 1h0m0 17h0m0 12h0m0 8h0m0 1h0m0 1h0m0 3h0m0 38h0m1-99h0m0 28h0m0 3h0m0 13h0m1-66h0m0 12h0m0 11h0m0 13h0m0 2h0m0 2h0m0 5h0m0 1h0m0 6h0m0 14h0m0 4h0m0 6h0m0 9h0m0 27h0m0 7h0m0 4h0m1-129h0m0 17h0m0 17h0m0 4h0m0 7h0m0 6h0m0 13h0m0 1h0m0 1h0m0 11h0m0 2h0m0 1h0m0 4h0m0 4h0m0 36h0m1-92h0m0 11h0m0 6h0m0 12h0m0 4h0m0 6h0m0 4h0m0 9h0m0 5h0m0 28h0m0 3h0m0 8h0m1-118h0m0 29h0m0 3h0m0 3h0m0 3h0m0 3h0m0 5h0m0 4h0m0 8h0m0 5h0m0 8h0m0 4h0m1-72h0m0 7h0m0 11h0m0 2h0m0 1h0m0 2h0m0 2h0m0 1h0m0 3h0m0 1h0m0 5h0m0 1h0m0 7h0m0 22h0m0 2h0m0 10h0m0 3h0m0 27h0m0 7h0m1-112h0m0 11h0m0 2h0m0 1h0m0 2h0m0 3h0m0 4h0m0 11h0m0 11h0m0 2h0m0 2h0m0 6h0m0 5h0m0 6h0m0 2h0m1-83h0m0 20h0m0 15h0m0 3h0m0 7h0m0 7h0m0 26h0m0 7h0m0 49h0m1-131h0m0 3h0m0 27h0m0 2h0m0 1h0m0 6h0m0 9h0m0 2h0m0 6h0m0 19h0m0 2h0m0 6h0m0 6h0m0 25h0m0 2h0m1-115h0m0 13h0m0 7h0m0 12h0m0 39h0m0 1h0m0 1h0m0 7h0m0 47h0m1-115h0m0 20h0m0 3h0m0 4h0m0 10h0m0 4h0m0 2h0m0 10h0m0 3h0m0 4h0m0 7h0m0 5h0m0 33h0m0 3h0m0 3h0m0 7h0m1-125h0m0 16h0m0 2h0m0 3h0m0 7h0m0 2h0m0 2h0m0 7h0m0 3h0m0 5h0m0 6h0m0 6h0m0 2h0m0 2h0m0 2h0m0 10h0m0 1h0m0 2h0m0 3h0m0 30h0m0 6h0m1-103h0m0 1h0m0 7h0m0 10h0m0 6h0m0 10h0m0 5h0m0 1h0m0 1h0m0 7h0m0 6h0m0 1h0m0 13h0m0 40h0m1-96h0m0 5h0m0 5h0m0 7h0m0 10h0m0 3h0m0 13h0m0 1h0m0 38h0m1-112h0m0 3h0m0 29h0m0 19h0m0 5h0m0 3h0m0 4h0m0 4h0m0 4h0m0 18h0m1-92h0m0 4h0m0 39h0m0 10h0m0 4h0m0 6h0m0 4h0m0 21h0m0 33h0m1-99h0m0 8h0m0 3h0m0 20h0m0 1h0m0 2h0m0 1h0m0 5h0m0 5h0m0 3h0m0 1h0m0 4h0m0 3h0m0 1h0m0 3h0m0 1h0m1-83h0m0 4h0m0 11h0m0 3h0m0 20h0m0 3h0m0 4h0m0 7h0m0 7h0m0 2h0m0 1h0m0 1h0m0 16h0m0 2h0m0 2h0m0 5h0m0 30h0m0 2h0m0 2h0m1-122h0m0 2h0m0 30h0m0 8h0m0 3h0m0 11h0m0 4h0m0 2h0m0 2h0m0 8h0m0 5h0m0 1h0m0 3h0m0 3h0m0 8h0m1-89h0m0 13h0m0 1h0m0 15h0m0 2h0m0 1h0m0 22h0m0 28h0m0 4h0m0 28h0m0 4h0m0 1h0m0 9h0m1-122h0m0 1h0m0 1h0m0 5h0m0 8h0m0 6h0m0 2h0m0 1h0m0 12h0m0 13h0m0 8h0m0 4h0m0 11h0m0 7h0m0 1h0m0 31h0m0 2h0m0 9h0m1-125h0m0 27h0m0 50h0m0 8h0m1-86h0m0 2h0m0 33h0m0 5h0m0 5h0m0 3h0m0 2h0m0 6h0m1-59h0m0 27h0m0 5h0m0 2h0m0 6h0m0 4h0m0 1h0m0 2h0m0 1h0m0 1h0m0 8h0m0 5h0m0 8h0m0 1h0m0 6h0m0 1h0m0 6h0m0 6h0m1-78h0m0 3h0m0 21h0m0 1h0m0 1h0m0 3h0m0 23h0m0 16h0m0 6h0m0 36h0m0 3h0m1-119h0m0 14h0m0 8h0m0 14h0m0 3h0m0 16h0m0 7h0m0 12h0m0 4h0m0 2h0m1-81h0m0 1h0m0 5h0m0 3h0m0 9h0m0 3h0m0 3h0m0 6h0m0 2h0m0 4h0m0 3h0m0 5h0m0 22h0m0 13h0m0 2h0m0 36h0m0 7h0m1-122h0m0 1h0m0 25h0m0 6h0m0 2h0m0 5h0m0 12h0m0 3h0m0 3h0m0 2h0m0 7h0m0 7h0m1-55h0m0 18h0m0 1h0m0 12h0m0 1h0m0 9h0m0 1h0m0 1h0m0 12h0m1-77h0m0 2h0m0 6h0m0 50h0m0 1h0m0 1h0m0 3h0m0 1h0m0 10h0m0 38h0m1-113h0m0 6h0m0 3h0m0 6h0m0 20h0m0 9h0m0 17h0m0 2h0m0 8h0m0 8h0m0 7h0m1-81h0m0 1h0m0 33h0m0 12h0m0 5h0m0 1h0m0 3h0m0 7h0m0 2h0m0 7h0m0 4h0m0 39h0m0 2h0m1-111h0m0 3h0m0 7h0m0 1h0m0 7h0m0 25h0m0 6h0m0 6h0m0 1h0m0 8h0m0 5h0m0 35h0m0 6h0m0 1h0m1-90h0m0 3h0m0 26h0m0 5h0m0 10h0m0 10h0m1-82h0m0 1h0m0 7h0m0 15h0m0 10h0m0 2h0m0 13h0m0 4h0m0 18h0m0 42h0m0 8h0m1-107h0m0 2h0m0 1h0m0 30h0m0 10h0m0 1h0m0 8h0m0 1h0m0 4h0m0 2h0m0 3h0m0 39h0m1-114h0m0 27h0m0 5h0m0 1h0m0 5h0m0 10h0m0 6h0m0 13h0m0 2h0m0 9h0m0 4h0m0 40h0m0 1h0m1-116h0m0 18h0m0 29h0m0 5h0m0 8h0m0 1h0m0 8h0m0 5h0m0 29h0m0 5h0m1-111h0m0 26h0m0 4h0m0 1h0m0 4h0m0 13h0m0 3h0m0 1h0m0 1h0m0 1h0m0 3h0m0 3h0m0 1h0m0 4h0m0 5h0m0 1h0m0 2h0m1-65h0m0 4h0m0 7h0m0 3h0m0 2h0m0 7h0m0 1h0m0 7h0m0 10h0m0 17h0m0 4h0m0 7h0m1-82h0m0 3h0m0 3h0m0 13h0m0 5h0m0 6h0m0 1h0m0 1h0m0 15h0m0 2h0m0 10h0m0 1h0m0 2h0m0 6h0m0 1h0m0 3h0m0 4h0m0 4h0m1-80h0m0 6h0m0 23h0m0 3h0m0 15h0m0 8h0m0 1h0m0 17h0m0 1h0m0 4h0m0 32h0m0 8h0m0 1h0m1-118h0m0 3h0m0 1h0m0 1h0m0 2h0m0 1h0m0 23h0m0 2h0m0 3h0m0 8h0m0 2h0m0 2h0m0 2h0m0 21h0m0 4h0m0 1h0m0 45h0m1-119h0m0 5h0m0 21h0m0 2h0m0 4h0m0 12h0m0 1h0m0 1h0m0 11h0m0 4h0m0 10h0m0 1h0m0 1h0m0 3h0m0 30h0m0 5h0m0 10h0m1-117h0m0 6h0m0 11h0m0 11h0m0 2h0m0 27h0m0 1h0m0 5h0m0 2h0m0 4h0m0 2h0m0 40h0m1-106h0m0 11h0m0 1h0m0 14h0m0 4h0m0 2h0m0 4h0m0 13h0m0 17h0m0 41h0m1-116h0m0 14h0m0 7h0m0 3h0m0 3h0m0 2h0m0 4h0m0 1h0m0 2h0m0 20h0m0 6h0m0 51h0m1-99h0m0 15h0m0 14h0m0 16h0m0 10h0m0 3h0m0 38h0m0 7h0m1-95h0m0 8h0m0 1h0m0 3h0m0 3h0m0 3h0m0 6h0m0 10h0m0 12h0m0 38h0m0 11h0m0 3h0m1-118h0m0 17h0m0 12h0m0 1h0m0 4h0m0 3h0m0 1h0m0 5h0m0 3h0m0 2h0m0 11h0m0 3h0m0 11h0m0 35h0m0 11h0m1-118h0m0 3h0m0 16h0m0 1h0m0 5h0m0 1h0m0 3h0m0 9h0m0 5h0m0 3h0m0 5h0m0 3h0m0 4h0m0 1h0m0 10h0m0 1h0m1-55h0m0 9h0m0 3h0m0 2h0m0 4h0m0 4h0m0 3h0m0 2h0m0 6h0m0 3h0m0 3h0m0 1h0m0 11h0m0 1h0m0 1h0m0 1h0m0 35h0m0 7h0m0 2h0m0 2h0m1-119h0m0 7h0m0 13h0m0 12h0m0 5h0m0 1h0m0 5h0m0 5h0m0 1h0m0 1h0m0 3h0m0 2h0m0 2h0m0 1h0m0 8h0m0 7h0m0 35h0m0 6h0m0 4h0m1-115h0m0 1h0m0 7h0m0 18h0m0 6h0m0 1h0m0 1h0m0 1h0m0 5h0m0 2h0m0 5h0m0 7h0m0 2h0m1-55h0m0 19h0m0 6h0m0 4h0m0 1h0m0 2h0m0 4h0m0 1h0m0 27h0m0 5h0m0 5h0m0 42h0m1-114h0m0 5h0m0 10h0m0 9h0m0 1h0m0 27h0m0 4h0m0 6h0m0 2h0m0 50h0m1-103h0m0 5h0m0 3h0m0 9h0m0 10h0m0 7h0m0 1h0m0 8h0m0 2h0m0 3h0m0 4h0m0 3h0m0 39h0m1-105h0m0 15h0m0 19h0m0 2h0m0 1h0m0 8h0m0 5h0m0 2h0m0 1h0m0 5h0m0 6h0m0 1h0m0 3h0m0 3h0m0 37h0m0 3h0m0 3h0m1-119h0m0 2h0m0 24h0m0 14h0m0 3h0m0 5h0m0 3h0m0 3h0m0 6h0m0 5h0m0 42h0m1-104h0m0 11h0m0 1h0m0 2h0m0 2h0m0 4h0m0 2h0m0 3h0m0 2h0m0 3h0m0 2h0m0 4h0m0 6h0m0 1h0m0 8h0m0 6h0m0 3h0m0 2h0m0 8h0m0 2h0m1-68h0m0 3h0m0 2h0m0 2h0m0 3h0m0 11h0m0 4h0m0 5h0m0 4h0m0 6h0m0 3h0m0 6h0m0 2h0m0 3h0m0 51h0m1-109h0m0 10h0m0 14h0m0 10h0m0 3h0m0 13h0m0 3h0m0 5h0m0 2h0m0 9h0m0 38h0m0 5h0m1-111h0m0 8h0m0 1h0m0 1h0m0 15h0m0 1h0m0 7h0m0 2h0m0 1h0m0 7h0m0 2h0m0 1h0m0 2h0m0 4h0m0 1h0m0 4h0m0 10h0m0 42h0m1-113h0m0 5h0m0 11h0m0 8h0m0 2h0m0 4h0m0 4h0m0 6h0m0 2h0m0 11h0m0 4h0m0 2h0m0 4h0m0 2h0m1-56h0m0 26h0m0 4h0m0 11h0m0 2h0m0 14h0m0 1h0m0 40h0m0 4h0m0 3h0m1-95h0m0 8h0m0 5h0m0 2h0m0 1h0m0 2h0m0 5h0m0 1h0m0 1h0m0 1h0m0 4h0m0 9h0m0 2h0m0 3h0m0 1h0m0 3h0m0 47h0m0 4h0m0 1h0m1-117h0m0 4h0m0 7h0m0 17h0m0 2h0m0 1h0m0 4h0m0 1h0m0 8h0m0 6h0m0 2h0m0 1h0m0 6h0m0 1h0m0 3h0m0 7h0m0 40h0m0 2h0m1-109h0m0 6h0m0 6h0m0 5h0m0 6h0m0 1h0m0 4h0m0 3h0m0 17h0m0 2h0m0 7h0m0 2h0m0 1h0m0 5h0m0 38h0m1-106h0m0 4h0m0 21h0m0 3h0m0 1h0m0 7h0m0 8h0m0 9h0m0 14h0m0 2h0m0 47h0m1-108h0m0 15h0m0 1h0m0 17h0m0 3h0m0 1h0m0 5h0m0 7h0m0 3h0m0 7h0m0 3h0m0 35h0m0 10h0m1-116h0m0 3h0m0 1h0m0 3h0m0 3h0m0 19h0m0 2h0m0 1h0m0 8h0m0 12h0m0 8h0m0 45h0m1-96h0m0 5h0m0 19h0m0 2h0m0 9h0m0 13h0m0 4h0m0 44h0m1-98h0m0 10h0m0 4h0m0 5h0m0 1h0m0 1h0m0 15h0m0 13h0m0 3h0m0 1h0m0 2h0m0 5h0m0 1h0m0 1h0m0 3h0m0 40h0m1-97h0m0 7h0m0 4h0m0 1h0m0 13h0m0 9h0m0 16h0m0 1h0m0 1h0m0 4h0m0 33h0m0 7h0m1-108h0m0 28h0m0 26h0m0 5h0m0 3h0m0 3h0m0 2h0m0 35h0m0 11h0m1-112h0m0 12h0m0 5h0m0 4h0m0 13h0m0 2h0m0 10h0m0 10h0m0 1h0m0 3h0m0 5h0m0 1h0m0 1h0m0 39h0m1-110h0m0 16h0m0 13h0m0 9h0m0 4h0m0 2h0m0 10h0m0 1h0m0 1h0m0 2h0m0 5h0m0 1h0m1-64h0m0 16h0m0 12h0m0 11h0m0 2h0m0 13h0m0 12h0m1-53h0m0 4h0m0 3h0m0 15h0m0 4h0m0 6h0m0 10h0m0 6h0m0 4h0m1-63h0m0 1h0m0 1h0m0 2h0m0 1h0m0 14h0m0 5h0m0 4h0m0 4h0m0 7h0m0 6h0m0 3h0m0 56h0m0 11h0m1-98h0m0 3h0m0 3h0m0 9h0m0 2h0m0 1h0m0 4h0m0 7h0m0 6h0m0 4h0m0 10h0m1-67h0m0 1h0m0 26h0m0 2h0m0 1h0m0 5h0m0 4h0m0 9h0m0 6h0m0 11h0m0 40h0m0 3h0m0 5h0m0 3h0m1-103h0m0 3h0m0 1h0m0 6h0m0 3h0m0 3h0m0 12h0m0 2h0m0 1h0m0 2h0m0 2h0m0 4h0m0 1h0m0 3h0m0 9h0m0 5h0m0 35h0m0 4h0m1-98h0m0 6h0m0 2h0m0 22h0m0 3h0m0 3h0m0 4h0m0 1h0m0 12h0m0 42h0m0 3h0m0 1h0m1-103h0m0 1h0m0 6h0m0 21h0m0 5h0m0 1h0m0 1h0m0 5h0m0 2h0m0 12h0m0 8h0m0 41h0m1-111h0m0 3h0m0 4h0m0 14h0m0 6h0m0 5h0m0 16h0m0 10h0m0 56h0m1-110h0m0 7h0m0 1h0m0 4h0m0 6h0m0 11h0m0 18h0m0 2h0m0 5h0m0 7h0m0 2h0m0 39h0m1-98h0m0 8h0m0 8h0m0 3h0m0 1h0m0 7h0m0 7h0m0 2h0m0 5h0m0 4h0m0 2h0m0 1h0m0 1h0m0 9h0m0 48h0m1-107h0m0 4h0m0 13h0m0 7h0m0 1h0m0 2h0m0 6h0m0 3h0m0 25h0m1-66h0m0 12h0m0 5h0m0 19h0m0 5h0m0 4h0m0 2h0m0 5h0m0 2h0m0 2h0m0 2h0m0 6h0m0 1h0m1-66h0m0 8h0m0 1h0m0 3h0m0 4h0m0 12h0m0 1h0m0 2h0m0 9h0m0 2h0m0 15h0m0 8h0m1-38h0m0 6h0m0 1h0m0 2h0m0 3h0m0 4h0m0 10h0m0 1h0m0 8h0m0 1h0m0 40h0m0 10h0m1-105h0m0 6h0m0 2h0m0 6h0m0 6h0m0 7h0m0 3h0m0 6h0m0 2h0m0 9h0m0 3h0m0 2h0m0 2h0m0 3h0m0 3h0m0 40h0m1-93h0m0 4h0m0 13h0m0 2h0m0 1h0m0 9h0m0 2h0m0 17h0m1-62h0m0 2h0m0 11h0m0 8h0m0 7h0m0 3h0m0 3h0m0 1h0m0 7h0m0 13h0m0 9h0m0 1h0m0 43h0m0 5h0m1-111h0m0 1h0m0 11h0m0 27h0m0 3h0m0 2h0m0 4h0m0 1h0m0 3h0m0 4h0m0 9h0m0 42h0m1-107h0m0 7h0m0 9h0m0 8h0m0 1h0m0 10h0m0 5h0m0 2h0m0 13h0m0 1h0m0 2h0m0 3h0m0 42h0m0 7h0m1-106h0m0 8h0m0 11h0m0 6h0m0 17h0m0 1h0m0 3h0m0 4h0m0 4h0m1-47h0m0 1h0m0 19h0m0 1h0m0 3h0m0 7h0m0 8h0m0 1h0m0 4h0m0 1h0m0 2h0m0 43h0m0 6h0m0 1h0m1-104h0m0 16h0m0 1h0m0 13h0m0 4h0m0 3h0m0 1h0m0 1h0m0 4h0m0 1h0m0 5h0m0 1h0m0 1h0m0 4h0m0 49h0m1-105h0m0 11h0m0 8h0m0 14h0m0 8h0m0 6h0m0 1h0m0 1h0m0 1h0m0 1h0m0 2h0m0 1h0m0 1h0m1-52h0m0 13h0m0 5h0m0 8h0m0 22h0m0 1h0m0 1h0m1-46h0m0 12h0m0 4h0m0 4h0m0 6h0m0 6h0m0 1h0m0 6h0m1-50h0m0 11h0m0 2h0m0 1h0m0 4h0m0 8h0m0 2h0m0 3h0m0 2h0m0 5h0m0 7h0m0 6h0m0 5h0m0 1h0m0 44h0m0 7h0m0 3h0m1-107h0m0 6h0m0 18h0m0 6h0m0 4h0m0 1h0m0 4h0m0 7h0m0 1h0m0 2h0m0 1h0m0 4h0m0 3h0m0 44h0m0 4h0m1-111h0m0 5h0m0 7h0m0 3h0m0 7h0m0 1h0m0 9h0m0 4h0m0 13h0m0 9h0m0 49h0m0 3h0m1-104h0m0 1h0m0 2h0m0 1h0m0 17h0m0 1h0m0 1h0m0 6h0m0 9h0m0 7h0m0 1h0m0 2h0m0 9h0m1-59h0m0 18h0m0 9h0m0 8h0m0 9h0m0 2h0m0 3h0m0 7h0m0 44h0m0 3h0m0 5h0m1-109h0m0 3h0m0 2h0m0 18h0m0 4h0m0 2h0m0 3h0m0 19h0m0 3h0m0 1h0m0 1h0m0 1h0m1-52h0m0 34h0m0 16h0m0 1h0m0 2h0m0 1h0m0 1h0m0 44h0m0 5h0m1-103h0m0 18h0m0 6h0m0 7h0m0 5h0m0 1h0m0 14h0m0 1h0m0 1h0m0 4h0m0 39h0m0 7h0m1-108h0m0 2h0m0 9h0m0 3h0m0 1h0m0 12h0m0 5h0m0 3h0m0 10h0m0 2h0m0 2h0m0 1h0m0 1h0m0 8h0m0 45h0m0 4h0m1-107h0m0 1h0m0 3h0m0 6h0m0 10h0m0 2h0m0 6h0m0 9h0m0 1h0m0 3h0m0 8h0m0 8h0m1-60h0m0 2h0m0 18h0m0 7h0m0 3h0m0 2h0m0 4h0m0 16h0m0 56h0m1-104h0m0 9h0m0 8h0m0 3h0m0 5h0m0 4h0m0 4h0m0 11h0m0 4h0m0 1h0m0 3h0m0 1h0m0 1h0m0 2h0m0 1h0m0 41h0m1-97h0m0 3h0m0 5h0m0 1h0m0 4h0m0 3h0m0 9h0m0 15h0m0 3h0m0 2h0m0 1h0m0 5h0m0 4h0m0 1h0m0 2h0m1-62h0m0 9h0m0 10h0m0 10h0m0 2h0m0 4h0m0 17h0m0 7h0m0 1h0m0 3h0m0 44h0m1-110h0m0 21h0m0 1h0m0 8h0m0 16h0m0 1h0m0 3h0m0 2h0m0 58h0m1-108h0m0 2h0m0 21h0m0 2h0m0 2h0m0 3h0m0 2h0m0 9h0m0 9h0m0 4h0m0 3h0m0 1h0m0 44h0m1-92h0m0 6h0m0 3h0m0 3h0m0 1h0m0 5h0m0 1h0m0 14h0m0 1h0m0 2h0m0 2h0m0 1h0m0 3h0m0 6h0m0 2h0m0 47h0m1-109h0m0 5h0m0 1h0m0 18h0m0 7h0m0 8h0m0 11h0m0 2h0m0 1h0m0 7h0m0 2h0m0 3h0m0 44h0m1-103h0m0 17h0m0 7h0m0 4h0m0 7h0m0 4h0m0 2h0m0 2h0m0 4h0m0 54h0m1-99h0m0 8h0m0 2h0m0 9h0m0 7h0m0 3h0m0 10h0m0 8h0m0 5h0m0 50h0m1-110h0m0 8h0m0 3h0m0 16h0m0 1h0m0 1h0m0 6h0m0 6h0m0 2h0m0 2h0m0 4h0m0 5h0m0 6h0m0 47h0m1-96h0m0 3h0m0 19h0m0 7h0m0 4h0m0 3h0m0 5h0m1-41h0m0 2h0m0 8h0m0 5h0m0 2h0m0 4h0m0 2h0m0 1h0m0 7h0m0 10h0m0 5h0m0 4h0m0 1h0m0 2h0m0 44h0m1-108h0m0 15h0m0 8h0m0 11h0m0 5h0m0 2h0m0 11h0m0 2h0m0 1h0m0 50h0m0 1h0m0 1h0m1-110h0m0 3h0m0 15h0m0 8h0m0 6h0m0 1h0m0 2h0m0 8h0m0 5h0m0 1h0m0 3h0m0 5h0m0 1h0m0 6h0m0 49h0m1-107h0m0 12h0m0 7h0m0 11h0m0 11h0m0 1h0m0 1h0m0 2h0m0 6h0m0 1h0m1-47h0m0 2h0m0 1h0m0 8h0m0 3h0m0 4h0m0 2h0m0 2h0m0 8h0m0 1h0m0 7h0m0 2h0m0 13h0m0 45h0m1-96h0m0 1h0m0 6h0m0 2h0m0 16h0m0 5h0m0 6h0m0 6h0m0 12h0m0 44h0m1-89h0m0 1h0m0 3h0m0 2h0m0 3h0m0 6h0m0 3h0m0 6h0m0 6h0m0 3h0m0 8h0m1-57h0m0 14h0m0 12h0m0 1h0m0 1h0m0 12h0m0 3h0m0 1h0m0 1h0m0 8h0m0 3h0m0 3h0m1-52h0m0 4h0m0 13h0m0 3h0m0 2h0m0 3h0m0 3h0m0 9h0m0 4h0m0 6h0m0 1h0m1-59h0m0 8h0m0 8h0m0 13h0m0 15h0m0 5h0m0 10h0m0 4h0m1-44h0m0 9h0m0 11h0m0 4h0m0 3h0m0 4h0m0 3h0m1-50h0m0 17h0m0 4h0m0 3h0m0 1h0m0 10h0m0 2h0m0 16h0m0 3h0m1-52h0m0 16h0m0 8h0m0 2h0m0 5h0m0 4h0m0 4h0m0 3h0m0 4h0m0 8h0m0 5h0m1-69h0m0 17h0m0 9h0m0 4h0m0 7h0m0 1h0m0 8h0m0 1h0m0 3h0m0 13h0m0 3h0m1-57h0m0 4h0m0 9h0m0 20h0m0 1h0m0 5h0m0 7h0m0 1h0m0 8h0m1-61h0m0 9h0m0 2h0m0 14h0m0 3h0m0 1h0m0 6h0m0 1h0m0 2h0m0 1h0m0 7h0m0 3h0m0 3h0m0 1h0m0 5h0m0 5h0m1-57h0m0 17h0m0 1h0m0 16h0m0 2h0m0 3h0m0 6h0m0 4h0m0 2h0m1-58h0m0 6h0m0 3h0m0 6h0m0 1h0m0 11h0m0 6h0m0 4h0m0 5h0m0 5h0m0 3h0m0 1h0m0 4h0m0 2h0m0 1h0m0 6h0m0 1h0m0 2h0m1-67h0m0 2h0m0 6h0m0 8h0m0 5h0m0 5h0m0 4h0m0 3h0m0 14h0m0 2h0m0 1h0m0 2h0m0 10h0m1-63h0m0 9h0m0 5h0m0 2h0m0 6h0m0 6h0m0 5h0m0 5h0m0 6h0m0 6h0m0 8h0m0 1h0m0 4h0m1-52h0m0 2h0m0 23h0m0 4h0m0 1h0m0 7h0m0 6h0m0 1h0m1-52h0m0 2h0m0 1h0m0 8h0m0 2h0m0 14h0m0 8h0m0 7h0m0 8h0m0 3h0m0 4h0m0 3h0m1-55h0m0 12h0m0 15h0m0 3h0m0 8h0m0 2h0m0 8h0m0 5h0m0 4h0m1-60h0m0 15h0m0 3h0m0 25h0m0 2h0m0 1h0m0 8h0m1-67h0m0 31h0m0 23h0m0 7h0m0 8h0m0 46h0m1-109h0m0 9h0m0 2h0m0 24h0m0 22h0m0 12h0m0 58h0m1-147h0m0 6h0m0 3h0m0 19h0m0 9h0m0 8h0m0 3h0m0 1h0m0 1h0m0 21h0m0 27h0m0 11h0m0 25h0m0 1h0m0 1h0m1-132h0m0 14h0m0 3h0m0 6h0m0 2h0m0 4h0m0 2h0m0 1h0m0 1h0m0 3h0m0 13h0m0 3h0m0 2h0m0 14h0m0 4h0m0 7h0m0 3h0m0 4h0m0 12h0m0 28h0m1-117h0m0 9h0m0 8h0m0 3h0m0 3h0m0 4h0m0 13h0m0 2h0m0 5h0m0 5h0m0 10h0m0 25h0m0 1h0m0 22h0m1-117h0m0 10h0m0 2h0m0 7h0m0 17h0m0 37h0m0 13h0m1-98h0m0 19h0m0 1h0m0 3h0m0 2h0m0 8h0m0 10h0m0 13h0m0 18h0m0 1h0m0 17h0m0 14h0m0 3h0m0 15h0m1-119h0m0 1h0m0 4h0m0 11h0m0 2h0m0 13h0m0 26h0m0 3h0m0 2h0m0 17h0m0 4h0m0 2h0m0 5h0m0 27h0m0 6h0m0 30h0m1-151h0m0 15h0m0 4h0m0 4h0m0 1h0m0 7h0m0 11h0m0 1h0m0 8h0m0 16h0m0 25h0m0 1h0m0 2h0m0 31h0m0 5h0m0 1h0m0 15h0m1-163h0m0 9h0m0 5h0m0 16h0m0 4h0m0 30h0m0 1h0m0 3h0m0 29h0m0 12h0m0 1h0m0 2h0m0 19h0m0 21h0m1-149h0m0 5h0m0 17h0m0 5h0m0 1h0m0 4h0m0 34h0m0 14h0m0 9h0m0 12h0m0 5h0m1-105h0m0 19h0m0 7h0m0 12h0m0 5h0m0 24h0m0 14h0m0 11h0m0 33h0m0 17h0m0 19h0m1-162h0m0 4h0m0 10h0m0 3h0m0 18h0m0 2h0m0 22h0m0 15h0m0 4h0m0 7h0m0 26h0m0 2h0m0 1h0m0 23h0m0 12h0m0 4h0m1-151h0m0 8h0m0 1h0m0 3h0m0 30h0m0 2h0m0 5h0m0 4h0m0 4h0m0 29h0m0 2h0m0 19h0m0 29h0m0 6h0m1-151h0m0 24h0m0 5h0m0 3h0m0 4h0m0 3h0m0 7h0m0 4h0m0 10h0m0 9h0m0 26h0m0 2h0m0 8h0m0 5h0m0 33h0m0 19h0m0 3h0m1-168h0m0 33h0m0 10h0m0 11h0m0 4h0m0 18h0m0 6h0m0 8h0m0 9h0m0 7h0m0 2h0m0 1h0m0 6h0m0 1h0m0 8h0m1-116h0m0 7h0m0 10h0m0 2h0m0 20h0m0 5h0m0 4h0m0 5h0m0 7h0m0 9h0m0 18h0m0 11h0m0 13h0m0 2h0m1-120h0m0 8h0m0 1h0m0 19h0m0 4h0m0 14h0m0 4h0m0 30h0m0 1h0m0 2h0m0 8h0m0 6h0m0 2h0m0 4h0m0 5h0m0 13h0m0 3h0m0 24h0m0 9h0m1-156h0m0 9h0m0 3h0m0 6h0m0 6h0m0 5h0m0 26h0m0 28h0m0 2h0m0 11h0m0 23h0m0 5h0m0 16h0m0 25h0m1-152h0m0 1h0m0 6h0m0 14h0m0 34h0m0 24h0m0 30h0m0 14h0m1-126h0m0 1h0m0 4h0m0 5h0m0 10h0m0 1h0m0 2h0m0 6h0m0 1h0m0 5h0m0 23h0m0 1h0m0 9h0m0 8h0m0 8h0m0 2h0m0 12h0m0 1h0m0 22h0m1-109h0m0 48h0m0 24h0m0 1h0m0 4h0m0 2h0m0 23h0m1-123h0m0 7h0m0 5h0m0 16h0m0 11h0m0 2h0m0 16h0m0 4h0m0 2h0m0 8h0m0 5h0m0 8h0m0 26h0m0 11h0m0 20h0m1-145h0m0 5h0m0 4h0m0 2h0m0 33h0m0 3h0m0 1h0m0 33h0m0 1h0m0 5h0m1-71h0m0 4h0m0 11h0m0 7h0m0 23h0m0 10h0m0 3h0m0 36h0m0 4h0m0 4h0m0 7h0m0 44h0m0 8h0m1-177h0m0 11h0m0 1h0m0 5h0m0 7h0m0 10h0m0 10h0m0 5h0m0 10h0m0 7h0m0 11h0m0 1h0m0 10h0m0 14h0m0 6h0m0 1h0m0 2h0m0 27h0m1-136h0m0 20h0m0 15h0m0 24h0m0 13h0m0 23h0m0 9h0m0 62h0m0 2h0m1-165h0m0 9h0m0 12h0m0 14h0m0 7h0m0 10h0m0 3h0m0 7h0m0 9h0m0 14h0m0 2h0m0 26h0m0 4h0m0 23h0m0 13h0m0 20h0m1-171h0m0 5h0m0 6h0m0 12h0m0 8h0m0 11h0m0 1h0m0 41h0m0 7h0m0 4h0m0 17h0m0 54h0m1-158h0m0 2h0m0 9h0m0 11h0m0 5h0m0 5h0m0 9h0m0 9h0m0 9h0m0 5h0m0 3h0m0 12h0m0 39h0m0 5h0m0 28h0m1-153h0m0 22h0m0 1h0m0 9h0m0 1h0m0 24h0m0 7h0m0 13h0m0 8h0m0 1h0m0 10h0m0 22h0m0 1h0m0 16h0m1-139h0m0 4h0m0 8h0m0 6h0m0 8h0m0 2h0m0 3h0m0 1h0m0 1h0m0 3h0m0 11h0m0 9h0m0 4h0m0 14h0m0 8h0m0 1h0m0 13h0m0 13h0m1-75h0m0 14h0m0 14h0m0 10h0m0 8h0m0 3h0m0 28h0m0 4h0m0 14h0m0 10h0m0 4h0m1-152h0m0 10h0m0 15h0m0 8h0m0 20h0m0 17h0m0 16h0m0 10h0m0 38h0m0 15h0m0 23h0m1-154h0m0 9h0m0 11h0m0 4h0m0 27h0m0 5h0m0 4h0m0 4h0m0 1h0m0 9h0m0 8h0m0 6h0m0 2h0m0 8h0m0 8h0m0 5h0m0 41h0m0 8h0m1-177h0m0 3h0m0 1h0m0 14h0m0 8h0m0 10h0m0 3h0m0 5h0m0 15h0m0 13h0m0 6h0m0 37h0m0 14h0m1-129h0m0 6h0m0 1h0m0 18h0m0 10h0m0 5h0m0 8h0m0 1h0m0 6h0m0 25h0m0 9h0m0 37h0m0 1h0m1-125h0m0 1h0m0 40h0m0 2h0m0 5h0m0 28h0m0 9h0m0 5h0m0 4h0m0 6h0m0 25h0m0 27h0m1-152h0m0 5h0m0 31h0m0 8h0m0 37h0m0 6h0m0 20h0m0 3h0m0 5h0m0 8h0m0 10h0m1-129h0m0 2h0m0 4h0m0 9h0m0 3h0m0 1h0m0 35h0m0 4h0m0 18h0m0 79h0m0 16h0m0 6h0m1-179h0m0 5h0m0 24h0m0 4h0m0 4h0m0 5h0m0 19h0m0 8h0m0 4h0m0 9h0m0 8h0m0 3h0m0 4h0m0 18h0m0 17h0m0 13h0m0 4h0m1-154h0m0 7h0m0 16h0m0 5h0m0 6h0m0 13h0m0 9h0m0 19h0m0 27h0m0 17h0m0 2h0m0 4h0m0 4h0m0 7h0m0 10h0m0 3h0m1-148h0m0 6h0m0 8h0m0 1h0m0 3h0m0 5h0m0 2h0m0 10h0m0 14h0m0 9h0m0 17h0m0 1h0m0 9h0m0 18h0m0 2h0m0 11h0m0 1h0m0 5h0m0 2h0m0 1h0m0 33h0m1-153h0m0 29h0m0 9h0m0 11h0m0 4h0m0 5h0m0 9h0m0 19h0m0 5h0m0 1h0m0 3h0m0 21h0m0 3h0m0 22h0m0 1h0m1-141h0m0 5h0m0 3h0m0 12h0m0 1h0m0 5h0m0 7h0m0 20h0m0 6h0m0 3h0m0 7h0m0 2h0m0 5h0m0 43h0m0 12h0m0 11h0m0 26h0m1-167h0m0 1h0m0 4h0m0 14h0m0 2h0m0 29h0m0 7h0m0 4h0m0 21h0m0 56h0m0 10h0m0 1h0m0 14h0m0 2h0m1-171h0m0 6h0m0 14h0m0 20h0m0 5h0m0 3h0m0 27h0m0 1h0m0 7h0m0 1h0m0 8h0m0 4h0m0 3h0m0 4h0m0 8h0m0 6h0m0 4h0m1-118h0m0 9h0m0 5h0m0 12h0m0 5h0m0 12h0m0 7h0m0 6h0m0 5h0m0 49h0m0 1h0m0 9h0m0 19h0m0 3h0m0 1h0m1-126h0m0 9h0m0 24h0m0 12h0m0 4h0m0 25h0m0 3h0m0 20h0m0 1h0m0 42h0m0 3h0m1-165h0m0 1h0m0 5h0m0 1h0m0 7h0m0 5h0m0 13h0m0 21h0m0 20h0m0 1h0m0 1h0m0 3h0m0 13h0m0 8h0m0 5h0m0 10h0m0 3h0m0 3h0m0 6h0m0 40h0m1-168h0m0 1h0m0 13h0m0 5h0m0 21h0m0 7h0m0 9h0m0 20h0m0 4h0m0 10h0m0 17h0m0 7h0m0 18h0m0 1h0m0 35h0m1-153h0m0 1h0m0 5h0m0 2h0m0 7h0m0 5h0m0 14h0m0 4h0m0 3h0m0 4h0m0 7h0m0 7h0m0 13h0m0 4h0m0 3h0m0 11h0m0 11h0m0 3h0m0 21h0m0 16h0m0 12h0m0 1h0m1-163h0m0 7h0m0 14h0m0 6h0m0 2h0m0 2h0m0 7h0m0 11h0m0 15h0m0 6h0m0 13h0m0 4h0m0 3h0m0 5h0m0 15h0m0 6h0m0 4h0m0 49h0m1-174h0m0 19h0m0 5h0m0 6h0m0 13h0m0 15h0m0 9h0m0 5h0m0 19h0m0 17h0m0 2h0m0 11h0m0 5h0m0 38h0m0 10h0m1-171h0m0 6h0m0 1h0m0 3h0m0 2h0m0 5h0m0 16h0m0 4h0m0 17h0m0 10h0m0 5h0m0 8h0m0 22h0m0 4h0m0 8h0m0 24h0m0 20h0m0 6h0m0 12h0m1-168h0m0 3h0m0 5h0m0 12h0m0 2h0m0 6h0m0 12h0m0 15h0m0 6h0m0 2h0m0 4h0m0 3h0m0 63h0m1-135h0m0 26h0m0 8h0m0 29h0m0 17h0m0 9h0m0 9h0m0 3h0m0 16h0m0 1h0m0 1h0m0 1h0m0 12h0m0 8h0m1-138h0m0 21h0m0 5h0m0 5h0m0 20h0m0 5h0m0 38h0m0 19h0m0 24h0m0 4h0m0 3h0m1-151h0m0 3h0m0 7h0m0 1h0m0 24h0m0 15h0m0 2h0m0 4h0m0 14h0m0 13h0m0 10h0m0 1h0m0 9h0m0 4h0m0 83h0m1-191h0m0 1h0m0 44h0m0 1h0m0 8h0m0 4h0m0 2h0m0 4h0m0 2h0m0 11h0m0 18h0m0 6h0m0 23h0m0 30h0m0 5h0m0 19h0m1-179h0m0 6h0m0 6h0m0 1h0m0 3h0m0 4h0m0 8h0m0 13h0m0 5h0m0 6h0m0 1h0m0 2h0m0 9h0m0 1h0m0 30h0m0 11h0m0 10h0m1-114h0m0 5h0m0 5h0m0 22h0m0 14h0m0 6h0m0 28h0m0 3h0m0 1h0m0 9h0m0 2h0m0 1h0m0 4h0m0 6h0m0 17h0m0 9h0m0 9h0m0 14h0m0 8h0m0 9h0m1-171h0m0 28h0m0 3h0m0 1h0m0 14h0m0 7h0m0 1h0m0 1h0m0 10h0m0 6h0m0 5h0m0 15h0m0 9h0m0 69h0m1-172h0m0 57h0m0 8h0m0 11h0m0 4h0m0 10h0m0 18h0m0 8h0m0 41h0m1-152h0m0 7h0m0 15h0m0 8h0m0 7h0m0 16h0m0 1h0m0 4h0m0 19h0m0 6h0m0 17h0m0 11h0m0 10h0m0 2h0m0 11h0m0 31h0m1-165h0m0 16h0m0 2h0m0 2h0m0 1h0m0 6h0m0 8h0m0 4h0m0 15h0m0 16h0m0 5h0m0 5h0m0 19h0m0 6h0m0 6h0m0 10h0m0 2h0m0 32h0m1-156h0m0 18h0m0 1h0m0 1h0m0 13h0m0 14h0m0 8h0m0 1h0m0 5h0m0 4h0m0 24h0m0 16h0m0 6h0m0 2h0m0 34h0m0 9h0m0 4h0m1-155h0m0 11h0m0 1h0m0 1h0m0 1h0m0 2h0m0 23h0m0 42h0m0 2h0m0 18h0m0 2h0m0 9h0m0 58h0m1-179h0m0 14h0m0 3h0m0 1h0m0 16h0m0 7h0m0 1h0m0 6h0m0 4h0m0 8h0m0 8h0m0 2h0m0 13h0m0 2h0m0 6h0m0 3h0m0 1h0m0 7h0m0 7h0m0 16h0m0 16h0m1-138h0m0 11h0m0 33h0m0 6h0m0 2h0m0 5h0m0 12h0m0 15h0m0 2h0m0 20h0m0 5h0m0 23h0m0 43h0m1-171h0m0 6h0m0 42h0m0 18h0m0 2h0m0 1h0m0 34h0m0 10h0m0 18h0m0 3h0m1-127h0m0 8h0m0 3h0m0 10h0m0 8h0m0 3h0m0 1h0m0 7h0m0 13h0m0 44h0m0 31h0m0 19h0m0 2h0m0 10h0m1-175h0m0 14h0m0 1h0m0 7h0m0 2h0m0 37h0m0 1h0m0 5h0m0 4h0m0 1h0m0 12h0m0 5h0m0 3h0m0 1h0m0 1h0m0 56h0m0 1h0m0 13h0m0 7h0m1-169h0m0 4h0m0 4h0m0 4h0m0 14h0m0 19h0m0 21h0m0 19h0m0 19h0m0 9h0m0 5h0m0 4h0m0 8h0m1-129h0m0 16h0m0 7h0m0 3h0m0 25h0m0 12h0m0 11h0m0 21h0m0 9h0m0 2h0m0 1h0m0 5h0m0 26h0m1-122h0m0 9h0m0 3h0m0 1h0m0 13h0m0 19h0m0 8h0m0 11h0m0 3h0m0 7h0m0 1h0m0 19h0m0 3h0m0 11h0m0 23h0m0 4h0m0 1h0m0 14h0m1-167h0m0 6h0m0 7h0m0 4h0m0 4h0m0 5h0m0 4h0m0 3h0m0 4h0m0 4h0m0 23h0m0 3h0m0 5h0m0 6h0m0 30h0m0 11h0m0 44h0m0 13h0m1-171h0m0 10h0m0 1h0m0 2h0m0 11h0m0 4h0m0 14h0m0 5h0m0 23h0m0 5h0m0 15h0m0 3h0m0 3h0m0 11h0m0 1h0m0 10h0m0 47h0m0 2h0m1-167h0m0 22h0m0 45h0m0 1h0m0 1h0m0 15h0m0 8h0m0 3h0m0 15h0m0 2h0m0 37h0m1-152h0m0 8h0m0 19h0m0 9h0m0 13h0m0 1h0m0 24h0m0 40h0m0 23h0m0 10h0m0 14h0m0 12h0m1-168h0m0 24h0m0 14h0m0 2h0m0 3h0m0 22h0m0 11h0m0 9h0m0 23h0m0 44h0m0 8h0m0 10h0m1-173h0m0 6h0m0 5h0m0 9h0m0 1h0m0 2h0m0 15h0m0 30h0m0 7h0m0 8h0m0 16h0m0 53h0m0 2h0m1-152h0m0 1h0m0 2h0m0 24h0m0 19h0m0 13h0m0 3h0m0 1h0m0 2h0m0 4h0m0 14h0m0 5h0m0 8h0m0 1h0m0 3h0m0 12h0m0 27h0m1-142h0m0 26h0m0 30h0m0 2h0m0 4h0m0 18h0m0 13h0m0 52h0m1-151h0m0 14h0m0 7h0m0 4h0m0 8h0m0 8h0m0 9h0m0 23h0m0 6h0m0 26h0m0 10h0m0 9h0m0 13h0m0 39h0m1-172h0m0 15h0m0 2h0m0 15h0m0 6h0m0 11h0m0 5h0m0 3h0m0 5h0m0 6h0m0 6h0m0 6h0m0 9h0m0 11h0m0 4h0m0 50h0m1-147h0m0 1h0m0 11h0m0 17h0m0 21h0m0 18h0m0 27h0m0 12h0m0 9h0m0 1h0m0 24h0m0 16h0m0 4h0m1-164h0m0 8h0m0 7h0m0 4h0m0 39h0m0 1h0m0 14h0m0 12h0m0 17h0m0 8h0m0 10h0m0 25h0m0 10h0m0 1h0m0 3h0m0 3h0m0 1h0m1-166h0m0 6h0m0 5h0m0 2h0m0 16h0m0 3h0m0 10h0m0 7h0m0 2h0m0 10h0m0 12h0m0 6h0m0 4h0m0 1h0m0 10h0m0 5h0m0 17h0m0 35h0m1-146h0m0 4h0m0 5h0m0 18h0m0 12h0m0 36h0m0 8h0m0 8h0m0 9h0m0 10h0m0 5h0m0 7h0m0 5h0m0 17h0m1-147h0m0 2h0m0 1h0m0 22h0m0 15h0m0 7h0m0 16h0m0 7h0m0 1h0m0 31h0m0 64h0m0 8h0m1-181h0m0 11h0m0 1h0m0 6h0m0 18h0m0 21h0m0 17h0m0 7h0m0 20h0m0 7h0m0 1h0m0 27h0m0 10h0m1-134h0m0 3h0m0 7h0m0 17h0m0 4h0m0 4h0m0 2h0m0 19h0m0 6h0m0 19h0m0 7h0m0 16h0m0 30h0m0 34h0m1-173h0m0 4h0m0 3h0m0 4h0m0 5h0m0 9h0m0 3h0m0 7h0m0 16h0m0 5h0m0 4h0m0 1h0m0 3h0m0 18h0m0 13h0m0 10h0m0 4h0m0 8h0m0 3h0m0 26h0m0 11h0m0 9h0m1-166h0m0 1h0m0 10h0m0 11h0m0 10h0m0 11h0m0 45h0m0 23h0m0 30h0m0 12h0m0 6h0m1-159h0m0 7h0m0 3h0m0 17h0m0 2h0m0 15h0m0 3h0m0 2h0m0 7h0m0 10h0m0 3h0m0 16h0m0 15h0m0 2h0m0 6h0m0 9h0m0 36h0m1-154h0m0 8h0m0 5h0m0 13h0m0 10h0m0 13h0m0 6h0m0 9h0m0 51h0m0 7h0m0 29h0m1-153h0m0 15h0m0 10h0m0 11h0m0 2h0m0 1h0m0 5h0m0 13h0m0 1h0m0 10h0m0 24h0m0 1h0m0 10h0m0 1h0m0 1h0m0 11h0m0 35h0m1-128h0m0 1h0m0 4h0m0 3h0m0 14h0m0 13h0m0 8h0m0 2h0m0 2h0m0 3h0m0 2h0m0 39h0m0 3h0m0 25h0m0 17h0m0 5h0m1-161h0m0 12h0m0 3h0m0 7h0m0 36h0m0 22h0m0 3h0m0 17h0m0 14h0m0 1h0m0 2h0m0 1h0m0 6h0m1-132h0m0 18h0m0 1h0m0 3h0m0 10h0m0 2h0m0 6h0m0 10h0m0 16h0m0 12h0m0 8h0m0 9h0m0 19h0m0 4h0m0 5h0m0 1h0m0 24h0m1-143h0m0 9h0m0 5h0m0 4h0m0 2h0m0 5h0m0 5h0m0 40h0m0 3h0m0 24h0m0 13h0m0 5h0m0 7h0m0 19h0m0 5h0m0 7h0m0 6h0m0 17h0m0 1h0m1-168h0m0 5h0m0 20h0m0 15h0m0 7h0m0 2h0m0 13h0m0 30h0m0 1h0m0 21h0m0 36h0m0 14h0m1-175h0m0 3h0m0 7h0m0 5h0m0 10h0m0 2h0m0 4h0m0 18h0m0 23h0m0 28h0m0 4h0m0 14h0m0 28h0m1-125h0m0 1h0m0 25h0m0 8h0m0 5h0m0 5h0m0 12h0m0 2h0m0 5h0m0 19h0m0 15h0m0 10h0m0 12h0m0 28h0m1-159h0m0 7h0m0 5h0m0 10h0m0 7h0m0 1h0m0 14h0m0 6h0m0 3h0m0 8h0m0 3h0m0 10h0m0 1h0m0 9h0m0 8h0m0 6h0m0 10h0m0 4h0m1-121h0m0 18h0m0 24h0m0 26h0m0 11h0m0 4h0m0 4h0m0 2h0m0 26h0m0 1h0m0 6h0m1-115h0m0 1h0m0 2h0m0 13h0m0 3h0m0 5h0m0 4h0m0 32h0m0 9h0m0 7h0m0 7h0m0 6h0m0 3h0m0 4h0m0 1h0m0 3h0m0 11h0m0 2h0m0 70h0m1-192h0m0 17h0m0 1h0m0 26h0m0 7h0m0 10h0m0 3h0m0 14h0m0 6h0m0 7h0m0 3h0m0 8h0m0 8h0m0 20h0m0 10h0m0 16h0m0 15h0m0 8h0m1-180h0m0 26h0m0 8h0m0 10h0m0 1h0m0 23h0m0 23h0m0 7h0m0 9h0m0 8h0m0 20h0m0 41h0m1-167h0m0 5h0m0 1h0m0 7h0m0 3h0m0 4h0m0 4h0m0 3h0m0 9h0m0 7h0m0 7h0m0 17h0m0 2h0m0 2h0m0 13h0m0 1h0m0 10h0m0 5h0m0 5h0m0 2h0m0 13h0m0 15h0m0 26h0m1-152h0m0 27h0m0 21h0m0 20h0m0 5h0m0 5h0m0 19h0m1-111h0m0 9h0m0 3h0m0 10h0m0 11h0m0 1h0m0 1h0m0 2h0m0 5h0m0 4h0m0 2h0m0 8h0m0 10h0m0 11h0m0 24h0m0 4h0m0 4h0m0 9h0m0 34h0m1-155h0m0 4h0m0 15h0m0 12h0m0 5h0m0 21h0m0 3h0m0 13h0m0 10h0m0 18h0m0 10h0m0 1h0m0 56h0m1-169h0m0 21h0m0 16h0m0 10h0m0 7h0m0 4h0m0 9h0m0 9h0m0 20h0m0 3h0m0 4h0m0 12h0m0 8h0m0 18h0m0 41h0m1-153h0m0 5h0m0 7h0m0 2h0m0 1h0m0 2h0m0 40h0m0 67h0m0 29h0m1-183h0m0 24h0m0 20h0m0 8h0m0 28h0m0 6h0m0 5h0m0 4h0m0 8h0m0 39h0m0 6h0m1-144h0m0 15h0m0 21h0m0 2h0m0 1h0m0 9h0m0 19h0m0 19h0m0 12h0m0 11h0m0 2h0m0 3h0m1-110h0m0 9h0m0 16h0m0 22h0m0 28h0m0 9h0m0 5h0m0 45h0m0 19h0m0 21h0m1-181h0m0 11h0m0 2h0m0 10h0m0 8h0m0 4h0m0 5h0m0 5h0m0 1h0m0 4h0m0 8h0m0 22h0m0 5h0m0 18h0m0 2h0m0 1h0m0 12h0m0 5h0m1-116h0m0 25h0m0 7h0m0 1h0m0 8h0m0 10h0m0 6h0m0 2h0m0 8h0m0 4h0m0 21h0m0 7h0m0 21h0m0 18h0m0 1h0m0 20h0m1-153h0m0 26h0m0 3h0m0 13h0m0 9h0m0 14h0m0 8h0m0 3h0m0 5h0m0 9h0m0 18h0m0 22h0m1-134h0m0 19h0m0 21h0m0 2h0m0 12h0m0 37h0m0 5h0m0 8h0m0 6h0m0 42h0m1-131h0m0 12h0m0 14h0m0 6h0m0 3h0m0 9h0m0 11h0m0 3h0m0 8h0m0 7h0m0 8h0m0 10h0m0 11h0m0 26h0m0 18h0m1-154h0m0 1h0m0 11h0m0 4h0m0 32h0m0 2h0m0 2h0m0 4h0m0 14h0m0 1h0m0 3h0m0 11h0m0 13h0m0 13h0m0 20h0m0 4h0m1-158h0m0 1h0m0 29h0m0 3h0m0 2h0m0 12h0m0 1h0m0 3h0m0 12h0m0 6h0m0 2h0m0 2h0m0 19h0m0 6h0m0 50h0m0 35h0m1-183h0m0 8h0m0 11h0m0 1h0m0 16h0m0 60h0m0 11h0m0 4h0m0 5h0m0 11h0m0 34h0m0 2h0m1-164h0m0 6h0m0 9h0m0 4h0m0 1h0m0 3h0m0 14h0m0 1h0m0 2h0m0 1h0m0 1h0m0 5h0m0 24h0m0 1h0m0 2h0m0 4h0m0 2h0m0 2h0m0 13h0m0 5h0m0 7h0m0 4h0m0 21h0m0 6h0m0 21h0m0 16h0m1-172h0m0 3h0m0 13h0m0 20h0m0 11h0m0 9h0m0 1h0m0 10h0m0 1h0m0 18h0m0 15h0m0 17h0m0 22h0m0 22h0m1-159h0m0 19h0m0 1h0m0 1h0m0 3h0m0 10h0m0 17h0m0 6h0m0 10h0m0 12h0m0 8h0m0 1h0m0 15h0m0 3h0m0 14h0m0 3h0m0 48h0m1-134h0m0 4h0m0 6h0m0 29h0m0 5h0m0 2h0m0 2h0m0 23h0m0 16h0m0 1h0m0 16h0m0 11h0m0 21h0m1-158h0m0 8h0m0 30h0m0 16h0m0 9h0m0 13h0m0 12h0m0 4h0m0 18h0m0 41h0m0 12h0m1-182h0m0 16h0m0 13h0m0 6h0m0 6h0m0 1h0m0 16h0m0 4h0m0 2h0m0 10h0m0 3h0m0 5h0m0 20h0m0 2h0m0 5h0m0 7h0m0 25h0m1-139h0m0 25h0m0 16h0m0 5h0m0 2h0m0 1h0m0 3h0m0 5h0m0 1h0m0 21h0m0 4h0m0 7h0m0 23h0m0 40h0m0 13h0m0 13h0m1-178h0m0 2h0m0 6h0m0 44h0m0 26h0m0 11h0m0 12h0m0 15h0m0 56h0m0 23h0m1-171h0m0 13h0m0 11h0m0 10h0m0 8h0m0 3h0m0 18h0m0 8h0m0 3h0m0 4h0m0 3h0m0 4h0m1-91h0m0 44h0m0 9h0m0 7h0m0 23h0m0 2h0m0 23h0m0 5h0m0 34h0m1-160h0m0 5h0m0 5h0m0 8h0m0 33h0m0 11h0m0 28h0m0 10h0m0 18h0m0 3h0m0 3h0m0 9h0m0 2h0m1-136h0m0 39h0m0 17h0m0 6h0m0 10h0m0 7h0m0 6h0m0 6h0m0 3h0m0 10h0m0 9h0m0 62h0m1-179h0m0 4h0m0 11h0m0 6h0m0 17h0m0 2h0m0 1h0m0 2h0m0 7h0m0 33h0m0 7h0m0 18h0m0 14h0m0 9h0m0 19h0m1-151h0m0 14h0m0 7h0m0 11h0m0 7h0m0 1h0m0 15h0m0 14h0m0 3h0m0 6h0m0 7h0m0 2h0m0 4h0m0 7h0m0 3h0m0 6h0m0 7h0m0 18h0m0 7h0m0 10h0m0 2h0m0 8h0m1-157h0m0 13h0m0 23h0m0 7h0m0 9h0m0 19h0m0 10h0m0 31h0m0 4h0m0 19h0m0 23h0m0 3h0m1-167h0m0 1h0m0 6h0m0 4h0m0 20h0m0 3h0m0 7h0m0 3h0m0 15h0m0 1h0m0 2h0m0 5h0m0 1h0m0 11h0m0 3h0m0 18h0m0 20h0m0 12h0m1-126h0m0 7h0m0 5h0m0 5h0m0 30h0m0 7h0m0 8h0m0 8h0m0 5h0m0 2h0m0 3h0m0 6h0m0 2h0m0 21h0m0 3h0m0 5h0m0 2h0m0 3h0m0 1h0m0 2h0m0 18h0m0 29h0m1-179h0m0 19h0m0 12h0m0 8h0m0 10h0m0 5h0m0 2h0m0 32h0m0 41h0m0 14h0m0 24h0m1-152h0m0 18h0m0 1h0m0 20h0m0 7h0m0 2h0m0 18h0m0 4h0m0 1h0m0 4h0m0 3h0m0 14h0m0 2h0m0 3h0m0 15h0m0 4h0m0 19h0m0 10h0m0 4h0m0 4h0m0 14h0m1-174h0m0 16h0m0 2h0m0 8h0m0 39h0m0 2h0m0 13h0m0 6h0m0 2h0m0 2h0m0 4h0m0 14h0m0 1h0m0 9h0m0 2h0m0 45h0m0 7h0m1-168h0m0 8h0m0 11h0m0 3h0m0 1h0m0 6h0m0 2h0m0 14h0m0 11h0m0 3h0m0 1h0m0 7h0m0 8h0m0 6h0m0 16h0m0 6h0m0 13h0m0 10h0m0 47h0m1-169h0m0 4h0m0 16h0m0 17h0m0 8h0m0 23h0m0 3h0m0 1h0m0 3h0m0 10h0m0 4h0m0 8h0m0 14h0m0 3h0m0 31h0m0 13h0m0 1h0m1-166h0m0 2h0m0 12h0m0 3h0m0 4h0m0 13h0m0 10h0m0 8h0m0 3h0m0 10h0m0 2h0m0 2h0m0 32h0m0 1h0m0 12h0m0 3h0m0 4h0m0 3h0m0 8h0m0 34h0m1-162h0m0 21h0m0 10h0m0 25h0m0 4h0m0 2h0m0 18h0m0 18h0m0 13h0m0 15h0m0 4h0m0 37h0m1-173h0m0 5h0m0 7h0m0 2h0m0 4h0m0 3h0m0 10h0m0 3h0m0 8h0m0 31h0m0 4h0m0 5h0m0 2h0m0 44h0m0 21h0m1-154h0m0 33h0m0 8h0m0 2h0m0 3h0m0 2h0m0 2h0m0 1h0m0 5h0m0 18h0m0 12h0m0 65h0m0 20h0m1-167h0m0 29h0m0 1h0m0 11h0m0 7h0m0 46h0m0 2h0m0 10h0m0 5h0m0 7h0m0 2h0m0 19h0m0 8h0m0 16h0m1-154h0m0 11h0m0 9h0m0 1h0m0 7h0m0 7h0m0 12h0m0 12h0m0 11h0m0 8h0m0 4h0m0 5h0m0 17h0m0 2h0m0 23h0m0 13h0m0 25h0m1-181h0m0 37h0m0 1h0m0 4h0m0 6h0m0 7h0m0 3h0m0 27h0m0 9h0m0 5h0m0 6h0m0 8h0m0 33h0m0 9h0m1-154h0m0 18h0m0 6h0m0 6h0m0 2h0m0 31h0m0 32h0m0 4h0m0 7h0m0 23h0m0 53h0m1-175h0m0 2h0m0 8h0m0 11h0m0 9h0m0 8h0m0 1h0m0 8h0m0 35h0m0 28h0m0 52h0m0 12h0m1-180h0m0 9h0m0 4h0m0 32h0m0 5h0m0 8h0m0 30h0m0 3h0m0 1h0m0 32h0m0 7h0m0 2h0m0 41h0m0 3h0m1-147h0m0 22h0m0 7h0m0 9h0m0 6h0m0 6h0m0 5h0m0 6h0m0 6h0m0 2h0m0 12h0m0 10h0m0 27h0m0 19h0m1-153h0m0 4h0m0 37h0m0 3h0m0 5h0m0 13h0m0 7h0m0 9h0m0 9h0m0 3h0m0 14h0m0 14h0m0 23h0m1-156h0m0 14h0m0 15h0m0 12h0m0 9h0m0 9h0m0 11h0m0 20h0m0 8h0m0 31h0m0 22h0m1-148h0m0 13h0m0 3h0m0 31h0m0 4h0m0 24h0m0 4h0m0 11h0m0 9h0m0 5h0m0 15h0m0 51h0m1-169h0m0 15h0m0 4h0m0 10h0m0 5h0m0 2h0m0 18h0m0 1h0m0 15h0m0 1h0m0 2h0m0 6h0m0 3h0m0 19h0m0 10h0m0 5h0m0 4h0m0 36h0m0 5h0m0 1h0m0 27h0m1-185h0m0 9h0m0 7h0m0 1h0m0 7h0m0 7h0m0 31h0m0 11h0m0 11h0m0 5h0m0 16h0m0 3h0m0 2h0m0 34h0m0 22h0m1-174h0m0 12h0m0 16h0m0 5h0m0 2h0m0 22h0m0 4h0m0 1h0m0 13h0m0 8h0m0 5h0m0 14h0m0 1h0m0 16h0m0 19h0m1-140h0m0 3h0m0 5h0m0 7h0m0 6h0m0 14h0m0 13h0m0 5h0m0 21h0m0 8h0m0 19h0m0 3h0m0 2h0m0 6h0m0 17h0m0 12h0m0 5h0m0 34h0m1-170h0m0 3h0m0 15h0m0 1h0m0 9h0m0 2h0m0 4h0m0 18h0m0 15h0m0 1h0m0 18h0m0 2h0m0 5h0m0 12h0m0 6h0m1-102h0m0 3h0m0 12h0m0 15h0m0 6h0m0 4h0m0 32h0m0 10h0m0 12h0m0 17h0m0 28h0m0 4h0m0 17h0m0 3h0m1-168h0m0 17h0m0 1h0m0 11h0m0 22h0m0 31h0m0 3h0m0 4h0m0 1h0m0 6h0m0 2h0m0 5h0m1-115h0m0 13h0m0 1h0m0 3h0m0 4h0m0 25h0m0 1h0m0 1h0m0 4h0m0 16h0m0 10h0m0 3h0m0 10h0m0 1h0m0 15h0m0 1h0m0 4h0m0 7h0m0 3h0m0 18h0m0 14h0m0 9h0m0 9h0m0 2h0m1-176h0m0 8h0m0 31h0m0 14h0m0 13h0m0 25h0m0 35h0m0 7h0m0 4h0m0 3h0m0 4h0m0 11h0m0 18h0m1-169h0m0 12h0m0 1h0m0 7h0m0 1h0m0 1h0m0 3h0m0 45h0m0 24h0m0 10h0m0 58h0m1-165h0m0 18h0m0 19h0m0 16h0m0 1h0m0 16h0m0 10h0m0 3h0m0 2h0m0 6h0m0 3h0m0 8h0m0 2h0m0 3h0m0 11h0m0 42h0m0 10h0m1-148h0m0 3h0m0 28h0m0 1h0m0 55h0m0 20h0m3-120h0m0 1h0m0 2h0m0 6h0m0 80h0m0 75h0m1-150h0m0 8h0m0 18h0m0 8h0m0 5h0m0 9h0m0 8h0m0 4h0m0 3h0m0 8h0m0 15h0m0 36h0m1-145h0m0 3h0m0 10h0m0 16h0m0 6h0m0 5h0m0 3h0m0 7h0m0 10h0m0 6h0m0 8h0m0 1h0m0 4h0m0 1h0m0 7h0m0 1h0m0 15h0m0 1h0m0 7h0m0 37h0m0 24h0m1-137h0m0 1h0m0 5h0m0 18h0m0 6h0m0 10h0m0 2h0m0 5h0m0 6h0m0 31h0m0 12h0m0 1h0m0 18h0m1-148h0m0 6h0m0 4h0m0 30h0m0 5h0m0 20h0m0 14h0m0 9h0m0 2h0m0 8h0m0 3h0m0 1h0m0 6h0m0 10h0m0 7h0m0 3h0m0 7h0m0 1h0m1-126h0m0 20h0m0 5h0m0 24h0m0 1h0m0 5h0m0 5h0m0 2h0m0 14h0m0 6h0m0 20h0m0 3h0m0 16h0m0 3h0m0 1h0m0 29h0m0 3h0m1-164h0m0 5h0m0 9h0m0 23h0m0 10h0m0 1h0m0 10h0m0 36h0m0 1h0m0 22h0m0 5h0m0 7h0m0 1h0m0 28h0m1-164h0m0 7h0m0 12h0m0 12h0m0 18h0m0 12h0m0 5h0m0 8h0m0 1h0m0 1h0m0 11h0m0 9h0m0 36h0m0 43h0m1-173h0m0 5h0m0 1h0m0 6h0m0 12h0m0 1h0m0 11h0m0 3h0m0 2h0m0 15h0m0 4h0m0 1h0m0 2h0m0 4h0m0 21h0m0 4h0m0 4h0m0 24h0m0 2h0m0 1h0m0 7h0m0 35h0m1-168h0m0 28h0m0 1h0m0 16h0m0 11h0m0 3h0m0 18h0m0 6h0m0 1h0m0 14h0m0 3h0m0 20h0m0 9h0m0 23h0m0 20h0m1-162h0m0 10h0m0 11h0m0 1h0m0 3h0m0 43h0m0 2h0m0 5h0m0 4h0m0 14h0m0 6h0m0 5h0m0 3h0m0 38h0m1-157h0m0 7h0m0 3h0m0 28h0m0 11h0m0 5h0m0 6h0m0 5h0m0 9h0m0 12h0m0 8h0m0 1h0m1-81h0m0 44h0m0 1h0m0 9h0m0 31h0m0 30h0m0 21h0m0 25h0m1-164h0m0 2h0m0 9h0m0 1h0m0 2h0m0 5h0m0 4h0m0 1h0m0 11h0m0 11h0m0 8h0m0 4h0m0 1h0m0 12h0m0 11h0m0 7h0m0 10h0m0 19h0m0 3h0m1-107h0m0 5h0m0 17h0m0 3h0m0 38h0m0 7h0m0 6h0m0 1h0m0 3h0m0 12h0m0 6h0m1-119h0m0 16h0m0 1h0m0 7h0m0 29h0m0 14h0m0 14h0m0 2h0m0 1h0m0 12h0m0 12h0m0 7h0m0 10h0m0 12h0m1-134h0m0 8h0m0 3h0m0 1h0m0 8h0m0 17h0m0 4h0m0 6h0m0 8h0m0 4h0m0 9h0m0 35h0m0 13h0m0 4h0m0 34h0m1-161h0m0 2h0m0 9h0m0 28h0m0 6h0m0 9h0m0 5h0m0 4h0m0 3h0m0 29h0m0 2h0m0 10h0m0 11h0m0 2h0m0 9h0m0 10h0m0 12h0m0 28h0m1-179h0m0 20h0m0 8h0m0 25h0m0 16h0m0 5h0m0 18h0m0 10h0m0 3h0m0 1h0m0 4h0m0 14h0m0 39h0m0 17h0m1-164h0m0 5h0m0 1h0m0 25h0m0 8h0m0 6h0m0 3h0m0 3h0m0 13h0m0 4h0m0 15h0m0 1h0m0 22h0m0 1h0m0 3h0m0 20h0m1-142h0m0 8h0m0 19h0m0 6h0m0 3h0m0 20h0m0 5h0m0 17h0m0 6h0m0 2h0m0 5h0m0 3h0m0 5h0m0 7h0m0 3h0m0 72h0m1-168h0m0 4h0m0 5h0m0 3h0m0 11h0m0 31h0m0 23h0m0 1h0m0 4h0m0 2h0m0 29h0m0 31h0m0 40h0m1-198h0m0 4h0m0 5h0m0 2h0m0 2h0m0 15h0m0 21h0m0 9h0m0 10h0m0 3h0m0 8h0m0 23h0m0 8h0m0 3h0m0 6h0m0 25h0m1-122h0m0 3h0m0 35h0m0 1h0m0 1h0m0 2h0m0 7h0m0 1h0m0 2h0m0 7h0m0 56h0m0 17h0m0 12h0m0 2h0m1-167h0m0 11h0m0 15h0m0 10h0m0 1h0m0 3h0m0 7h0m0 14h0m0 9h0m0 1h0m0 12h0m0 3h0m0 9h0m0 5h0m0 11h0m0 5h0m0 29h0m0 16h0m1-125h0m0 24h0m0 17h0m0 15h0m0 20h0m0 10h0m0 3h0m0 10h0m0 46h0m1-180h0m0 12h0m0 29h0m0 7h0m0 9h0m0 4h0m0 4h0m0 29h0m1-75h0m0 3h0m0 4h0m0 1h0m0 4h0m0 21h0m0 16h0m0 1h0m0 4h0m0 5h0m0 16h0m0 4h0m0 1h0m0 25h0m0 35h0m1-150h0m0 27h0m0 34h0m0 3h0m0 6h0m0 5h0m0 14h0m0 5h0m0 1h0m0 2h0m0 10h0m4-90h0m0 10h0m0 37h0m0 14h0m0 2h0m0 18h0m0 11h0m1-121h0m0 44h0m0 19h0m0 10h0m0 5h0m0 12h0m0 16h0m0 7h0m0 28h0m0 1h0m0 8h0m0 13h0m1-159h0m0 1h0m0 10h0m0 17h0m0 10h0m0 6h0m0 7h0m0 7h0m0 3h0m0 23h0m0 3h0m0 2h0m0 8h0m0 7h0m0 2h0m0 3h0m0 12h0m0 17h0m0 9h0m1-146h0m0 17h0m0 12h0m0 13h0m0 1h0m0 4h0m0 16h0m0 2h0m0 28h0m0 3h0m0 1h0m0 21h0m0 29h0m0 3h0m0 25h0m1-175h0m0 11h0m0 4h0m0 1h0m0 2h0m0 18h0m0 2h0m0 3h0m0 7h0m0 9h0m0 8h0m0 5h0m0 42h0m0 9h0m0 8h0m0 15h0m0 15h0m0 9h0m1-171h0m0 13h0m0 5h0m0 37h0m0 8h0m0 4h0m0 9h0m0 4h0m0 3h0m0 3h0m0 7h0m0 6h0m0 6h0m0 5h0m0 2h0m0 12h0m0 14h0m0 1h0m0 30h0m1-168h0m0 10h0m0 2h0m0 3h0m0 13h0m0 6h0m0 2h0m0 10h0m0 5h0m0 2h0m0 7h0m0 5h0m0 2h0m0 45h0m0 18h0m0 1h0m0 38h0m1-174h0m0 9h0m0 1h0m0 20h0m0 37h0m0 36h0m0 9h0m0 4h0m0 3h0m0 3h0m0 10h0m0 5h0m0 11h0m1-142h0m0 9h0m0 11h0m0 4h0m0 8h0m0 28h0m0 3h0m0 1h0m0 12h0m0 14h0m0 1h0m0 2h0m0 19h0m0 9h0m0 2h0m0 24h0m0 2h0m0 28h0m1-182h0m0 19h0m0 8h0m0 19h0m0 20h0m0 3h0m0 10h0m0 8h0m0 3h0m0 34h0m0 4h0m0 3h0m0 5h0m0 4h0m0 26h0m0 1h0m0 1h0m1-151h0m0 8h0m0 7h0m0 8h0m0 11h0m0 1h0m0 2h0m0 18h0m0 28h0m0 2h0m0 17h0m0 3h0m1-104h0m0 7h0m0 21h0m0 7h0m0 20h0m0 4h0m0 1h0m0 3h0m0 3h0m0 5h0m0 7h0m0 14h0m0 4h0m0 2h0m0 11h0m0 2h0m0 1h0m1-122h0m0 24h0m0 6h0m0 13h0m0 14h0m0 5h0m0 20h0m0 4h0m0 2h0m0 5h0m0 4h0m0 1h0m0 1h0m0 4h0m0 9h0m0 23h0m0 9h0m0 4h0m1-146h0m0 1h0m0 13h0m0 1h0m0 52h0m0 3h0m0 4h0m0 4h0m0 13h0m0 1h0m0 2h0m0 9h0m0 8h0m0 41h0m1-163h0m0 20h0m0 2h0m0 2h0m0 7h0m0 6h0m0 1h0m0 15h0m0 15h0m0 13h0m0 11h0m0 6h0m0 18h0m0 13h0m0 16h0m0 11h0m0 21h0m0 6h0m1-173h0m0 1h0m0 11h0m0 28h0m0 16h0m0 5h0m0 15h0m0 15h0m0 6h0m0 17h0m0 8h0m0 4h0m0 16h0m0 13h0m1-164h0m0 8h0m0 19h0m0 5h0m0 4h0m0 11h0m0 4h0m0 12h0m0 1h0m0 29h0m0 16h0m0 3h0m0 20h0m1-133h0m0 3h0m0 8h0m0 8h0m0 13h0m0 35h0m0 11h0m0 3h0m0 1h0m0 8h0m0 34h0m0 1h0m0 4h0m0 20h0m0 31h0m1-143h0m0 5h0m0 21h0m0 1h0m0 22h0m0 8h0m0 2h0m0 5h0m0 1h0m0 2h0m0 7h0m0 11h0m0 7h0m1-117h0m0 3h0m0 2h0m0 4h0m0 7h0m0 2h0m0 8h0m0 3h0m0 6h0m0 5h0m0 3h0m0 4h0m0 11h0m0 6h0m0 45h0m0 1h0m0 45h0m0 5h0m0 8h0m1-176h0m0 10h0m0 11h0m0 11h0m0 7h0m0 1h0m0 27h0m0 2h0m0 11h0m0 28h0m0 3h0m0 4h0m0 1h0m0 3h0m0 51h0m0 7h0m1-180h0m0 1h0m0 5h0m0 2h0m0 4h0m0 6h0m0 4h0m0 29h0m0 17h0m0 9h0m0 2h0m0 6h0m0 39h0m0 18h0m0 10h0m0 9h0m0 19h0m1-170h0m0 20h0m0 10h0m0 15h0m0 2h0m0 6h0m0 10h0m0 2h0m0 9h0m0 1h0m0 31h0m0 12h0m0 5h0m0 15h0m1-134h0m0 25h0m0 8h0m0 2h0m0 55h0m0 11h0m0 11h0m0 8h0m1-121h0m0 3h0m0 1h0m0 9h0m0 5h0m0 14h0m0 12h0m0 11h0m0 13h0m0 5h0m0 3h0m0 16h0m0 19h0m0 1h0m0 48h0m1-170h0m0 12h0m0 17h0m0 15h0m0 12h0m0 2h0m0 1h0m0 50h0m0 3h0m0 8h0m0 7h0m0 2h0m0 36h0m0 7h0m1-153h0m0 4h0m0 5h0m0 1h0m0 11h0m0 25h0m0 8h0m0 1h0m0 4h0m0 8h0m0 8h0m0 15h0m0 17h0m0 34h0m0 13h0m1-173h0m0 7h0m0 6h0m0 2h0m0 1h0m0 3h0m0 15h0m0 14h0m0 15h0m0 16h0m0 12h0m0 1h0m0 2h0m0 7h0m0 29h0m0 2h0m0 4h0m0 9h0m0 35h0m1-178h0m0 2h0m0 7h0m0 4h0m0 35h0m0 12h0m0 2h0m0 14h0m0 3h0m0 28h0m0 3h0m0 26h0m1-122h0m0 26h0m0 1h0m0 9h0m0 5h0m0 22h0m0 3h0m0 6h0m0 4h0m0 1h0m0 4h0m0 9h0m0 13h0m0 11h0m0 8h0m0 15h0m0 2h0m0 12h0m0 3h0m5 21h0m5-190h0m0 31h0m0 48h0m0 1h0m0 7h0m0 75h0m1-154h0m0 2h0m0 23h0m0 4h0m0 6h0m0 12h0m0 14h0m0 26h0m0 4h0m0 1h0m0 32h0m1-125h0m0 27h0m0 3h0m0 4h0m0 2h0m0 14h0m0 3h0m0 6h0m0 3h0m0 16h0m0 10h0m0 18h0m0 2h0m0 11h0m0 4h0m0 27h0m0 7h0m1-171h0m0 11h0m0 3h0m0 15h0m0 1h0m0 11h0m0 8h0m0 1h0m0 9h0m0 48h0m0 5h0m0 14h0m0 6h0m1-128h0m0 3h0m0 1h0m0 7h0m0 11h0m0 2h0m0 2h0m0 5h0m0 13h0m0 17h0m0 8h0m0 36h0m0 6h0m0 6h0m0 5h0m0 21h0m0 5h0m0 11h0m1-158h0m0 1h0m0 17h0m0 4h0m0 23h0m0 3h0m0 7h0m0 16h0m0 5h0m0 15h0m0 4h0m0 11h0m0 13h0m0 2h0m0 31h0m0 4h0m1-161h0m0 5h0m0 26h0m0 45h0m0 8h0m0 5h0m0 5h0m0 1h0m0 1h0m0 4h0m0 16h0m0 5h0m0 6h0m0 1h0m0 10h0m0 44h0m1-181h0m0 6h0m0 4h0m0 1h0m0 6h0m0 15h0m0 10h0m0 4h0m0 13h0m0 13h0m0 9h0m0 3h0m0 21h0m0 22h0m0 2h0m0 6h0m1-136h0m0 10h0m0 4h0m0 1h0m0 9h0m0 1h0m0 9h0m0 9h0m0 8h0m0 7h0m0 3h0m0 15h0m0 8h0m0 11h0m0 1h0m0 15h0m0 5h0m0 8h0m0 3h0m0 7h0m0 3h0m0 27h0m1-150h0m0 10h0m0 2h0m0 1h0m0 10h0m0 16h0m0 4h0m0 5h0m0 17h0m0 3h0m0 7h0m0 1h0m0 3h0m0 15h0m0 14h0m0 13h0m0 12h0m0 11h0m0 10h0m1-167h0m0 10h0m0 7h0m0 29h0m0 6h0m0 6h0m0 7h0m0 8h0m0 7h0m0 4h0m0 15h0m0 3h0m0 5h0m0 3h0m0 17h0m0 2h0m0 13h0m0 12h0m0 5h0m0 17h0m0 9h0m1-174h0m0 14h0m0 14h0m0 7h0m0 14h0m0 10h0m0 1h0m0 15h0m0 2h0m0 11h0m0 11h0m0 10h0m0 5h0m0 53h0m0 6h0m1-180h0m0 1h0m0 9h0m0 4h0m0 9h0m0 15h0m0 27h0m0 6h0m0 28h0m0 11h0m0 1h0m0 11h0m0 7h0m0 2h0m0 40h0m1-175h0m0 9h0m0 4h0m0 1h0m0 10h0m0 23h0m0 8h0m0 13h0m0 19h0m0 4h0m0 5h0m0 2h0m0 2h0m0 10h0m0 14h0m0 22h0m0 1h0m0 6h0m1-153h0m0 5h0m0 20h0m0 1h0m0 8h0m0 2h0m0 25h0m0 9h0m0 3h0m0 32h0m0 4h0m0 6h0m0 7h0m0 2h0m0 5h0m0 14h0m0 26h0m0 13h0m1-183h0m0 8h0m0 6h0m0 29h0m0 11h0m0 12h0m0 14h0m0 78h0m0 19h0m1-170h0m0 11h0m0 3h0m0 39h0m0 2h0m0 13h0m0 2h0m0 8h0m0 2h0m0 10h0m0 1h0m0 3h0m0 5h0m0 10h0m0 8h0m0 13h0m0 33h0m4-165h0m0 6h0m0 1h0m0 5h0m0 15h0m0 4h0m0 3h0m0 11h0m0 12h0m0 39h0m0 3h0m0 9h0m0 5h0m0 3h0m0 3h0m0 2h0m0 1h0m0 3h0m0 9h0m0 7h0m0 8h0m0 20h0m0 6h0m1-173h0m0 13h0m0 3h0m0 12h0m0 5h0m0 5h0m0 7h0m0 2h0m0 3h0m0 1h0m0 12h0m0 25h0m0 14h0m0 9h0m0 6h0m0 28h0m1-124h0m0 4h0m0 13h0m0 4h0m0 14h0m0 20h0m0 7h0m0 2h0m0 6h0m0 73h0m1-148h0m0 14h0m0 2h0m0 25h0m0 1h0m0 4h0m0 8h0m0 21h0m0 10h0m0 12h0m0 9h0m0 7h0m0 25h0m1-160h0m0 7h0m0 10h0m0 2h0m0 22h0m0 1h0m0 3h0m0 33h0m0 15h0m0 2h0m0 4h0m0 17h0m0 41h0m1-130h0m0 30h0m0 4h0m0 12h0m0 27h0m0 1h0m0 26h0m0 55h0m1-183h0m0 14h0m0 30h0m0 3h0m0 7h0m0 10h0m0 32h0m0 2h0m0 23h0m0 24h0m0 23h0m1-153h0m0 7h0m0 9h0m0 3h0m0 3h0m0 2h0m0 16h0m0 56h0m0 61h0m1-162h0m0 18h0m0 15h0m0 52h0m0 3h0m0 6h0m0 5h0m0 10h0m0 7h0m0 40h0m1-155h0m0 2h0m0 9h0m0 5h0m0 6h0m0 7h0m0 5h0m0 3h0m0 6h0m0 30h0m0 3h0m0 6h0m0 2h0m0 11h0m0 5h0m1-109h0m0 13h0m0 16h0m0 15h0m0 7h0m0 3h0m0 20h0m0 11h0m0 14h0m0 12h0m0 11h0m0 32h0m0 2h0m1-157h0m0 6h0m0 10h0m0 2h0m0 28h0m0 1h0m0 13h0m0 2h0m0 4h0m0 18h0m0 7h0m0 1h0m0 10h0m0 15h0m0 13h0m0 4h0m1-120h0m0 2h0m0 10h0m0 2h0m0 7h0m0 1h0m0 25h0m0 1h0m0 30h0m0 10h0m0 6h0m0 6h0m0 8h0m0 8h0m0 3h0m0 2h0m0 41h0m0 9h0m1-185h0m0 9h0m0 11h0m0 9h0m0 8h0m0 3h0m0 11h0m0 7h0m0 3h0m0 11h0m0 12h0m0 2h0m0 26h0m0 11h0m0 14h0m0 7h0m0 5h0m0 22h0m0 3h0m0 3h0m1-173h0m0 18h0m0 10h0m0 21h0m0 12h0m0 30h0m0 29h0m1-119h0m0 5h0m0 8h0m0 8h0m0 4h0m0 2h0m0 26h0m0 5h0m0 16h0m0 11h0m0 6h0m0 9h0m0 1h0m0 3h0m0 26h0m0 13h0m0 13h0m0 12h0m1-172h0m0 5h0m0 4h0m0 8h0m0 10h0m0 3h0m0 2h0m0 14h0m0 11h0m0 9h0m0 7h0m0 2h0m0 26h0m0 11h0m0 10h0m0 60h0m1-186h0m0 43h0m0 7h0m0 11h0m0 1h0m0 23h0m0 4h0m0 4h0m0 5h0m0 3h0m0 2h0m0 2h0m0 5h0m0 13h0m0 4h0m0 3h0m0 4h0m1-131h0m0 3h0m0 1h0m0 7h0m0 58h0m0 16h0m0 7h0m0 4h0m0 14h0m0 7h0m0 8h0m0 27h0m0 18h0m0 2h0m1-158h0m0 30h0m0 23h0m0 6h0m0 6h0m0 18h0m0 1h0m0 6h0m0 2h0m0 8h0m0 19h0m0 1h0m0 27h0m4-164h0m0 1h0m0 13h0m0 10h0m0 7h0m0 55h0m0 4h0m0 1h0m0 9h0m0 37h0m0 3h0m0 29h0m0 14h0m1-181h0m0 1h0m0 1h0m0 12h0m0 5h0m0 1h0m0 15h0m0 3h0m0 1h0m0 35h0m0 16h0m0 5h0m0 15h0m0 15h0m0 17h0m0 26h0m1-170h0m0 1h0m0 2h0m0 15h0m0 2h0m0 3h0m0 4h0m0 2h0m0 4h0m0 34h0m0 7h0m0 1h0m0 5h0m0 33h0m0 6h0m0 6h0m0 3h0m0 2h0m0 20h0m0 30h0m0 15h0m1-186h0m0 21h0m0 1h0m0 4h0m0 19h0m0 9h0m0 37h0m0 1h0m0 31h0m0 26h0m1-146h0m0 1h0m0 21h0m0 12h0m0 5h0m0 5h0m0 40h0m0 1h0m0 27h0m0 1h0m0 1h0m0 3h0m0 2h0m0 5h0m0 13h0m0 2h0m1-151h0m0 37h0m0 3h0m0 12h0m0 7h0m0 5h0m0 9h0m0 11h0m0 19h0m0 31h0m0 3h0m0 2h0m0 20h0m0 27h0m1-185h0m0 10h0m0 8h0m0 3h0m0 1h0m0 3h0m0 4h0m0 4h0m0 1h0m0 5h0m0 47h0m0 11h0m0 4h0m0 20h0m0 6h0m0 17h0m1-143h0m0 5h0m0 30h0m0 5h0m0 2h0m0 5h0m0 28h0m0 12h0m0 4h0m0 10h0m0 11h0m0 12h0m0 8h0m0 26h0m0 14h0m1-174h0m0 12h0m0 27h0m0 1h0m0 3h0m0 20h0m0 26h0m0 2h0m0 5h0m0 8h0m0 20h0m0 14h0m0 11h0m0 4h0m0 10h0m0 2h0m0 6h0m1-151h0m0 23h0m0 16h0m0 8h0m0 5h0m0 25h0m0 6h0m0 5h0m0 10h0m0 25h0m0 11h0m0 15h0m0 11h0m1-170h0m0 13h0m0 7h0m0 3h0m0 12h0m0 2h0m0 7h0m0 14h0m0 12h0m0 2h0m0 4h0m0 8h0m0 10h0m0 1h0m0 5h0m0 37h0m0 34h0m1-173h0m0 7h0m0 9h0m0 12h0m0 2h0m0 11h0m0 17h0m0 2h0m0 17h0m0 7h0m0 5h0m0 16h0m0 15h0m0 7h0m1-135h0m0 4h0m0 15h0m0 18h0m0 13h0m0 2h0m0 8h0m0 40h0m0 14h0m0 2h0m0 3h0m0 2h0m0 12h0m0 35h0m1-161h0m0 22h0m0 18h0m0 2h0m0 10h0m0 6h0m0 4h0m0 34h0m0 3h0m0 3h0m0 3h0m0 4h0m0 5h0m0 5h0m0 1h0m0 26h0m0 28h0m1-178h0m0 19h0m0 3h0m0 1h0m0 11h0m0 5h0m0 10h0m0 3h0m0 33h0m0 20h0m0 4h0m0 1h0m0 36h0m1-146h0m0 3h0m0 10h0m0 8h0m0 2h0m0 3h0m0 22h0m0 10h0m0 25h0m0 2h0m0 3h0m0 12h0m0 29h0m0 16h0m0 4h0m0 11h0m0 10h0m0 3h0m1-166h0m0 8h0m0 3h0m0 19h0m0 12h0m0 33h0m0 1h0m0 12h0m0 15h0m0 20h0m0 6h0m0 16h0m0 22h0m0 1h0m0 8h0m1-168h0m0 5h0m0 3h0m0 4h0m0 41h0m0 9h0m0 14h0m0 5h0m0 30h0m0 25h0m0 5h0m1-153h0m0 1h0m0 13h0m0 34h0m0 29h0m0 9h0m0 18h0m0 21h0m0 1h0m0 5h0m0 3h0m0 6h0m0 24h0m1-145h0m0 7h0m0 24h0m0 6h0m0 5h0m0 1h0m0 1h0m0 6h0m0 1h0m0 13h0m0 19h0m0 2h0m0 5h0m0 8h0m0 6h0m0 1h0m0 7h0m0 4h0m0 19h0m0 7h0m0 5h0m1-161h0m0 3h0m0 20h0m0 1h0m0 2h0m0 27h0m0 14h0m0 5h0m0 5h0m0 1h0m0 17h0m0 12h0m0 9h0m0 3h0m0 41h0m1-170h0m0 7h0m0 10h0m0 10h0m0 25h0m0 3h0m0 3h0m0 11h0m0 1h0m0 3h0m0 9h0m0 5h0m0 19h0m0 12h0m0 4h0m0 10h0m0 1h0m0 31h0m0 11h0m0 11h0m1-154h0m0 4h0m0 9h0m0 22h0m0 9h0m0 1h0m0 12h0m0 17h0m0 1h0m0 2h0m0 25h0m0 1h0m0 22h0m0 21h0m4-176h0m0 2h0m0 14h0m0 13h0m0 8h0m0 6h0m0 3h0m0 8h0m0 38h0m0 8h0m0 2h0m0 2h0m0 1h0m0 6h0m0 1h0m0 5h0m0 19h0m0 16h0m0 14h0m0 2h0m0 5h0m1-162h0m0 7h0m0 8h0m0 11h0m0 8h0m0 16h0m0 20h0m0 1h0m0 6h0m0 4h0m0 12h0m0 7h0m0 18h0m0 38h0m1-169h0m0 1h0m0 6h0m0 27h0m0 42h0m0 4h0m0 9h0m0 10h0m0 6h0m0 7h0m0 25h0m0 33h0m1-172h0m0 1h0m0 34h0m0 12h0m0 13h0m0 35h0m0 21h0m0 5h0m0 7h0m0 2h0m0 56h0m1-182h0m0 20h0m0 30h0m0 6h0m0 2h0m0 9h0m0 5h0m0 58h0m0 15h0m0 23h0m0 8h0m1-176h0m0 1h0m0 5h0m0 2h0m0 41h0m0 5h0m0 16h0m0 21h0m0 22h0m0 11h0m0 17h0m0 13h0m1-156h0m0 46h0m0 6h0m0 1h0m0 6h0m0 4h0m0 4h0m0 8h0m0 21h0m0 7h0m0 6h0m0 8h0m0 12h0m0 20h0m0 5h0m0 5h0m0 8h0m1-152h0m0 15h0m0 4h0m0 9h0m0 4h0m0 1h0m0 3h0m0 2h0m0 2h0m0 3h0m0 55h0m0 6h0m0 1h0m0 11h0m0 33h0m1-147h0m0 5h0m0 11h0m0 17h0m0 23h0m0 2h0m0 24h0m0 14h0m0 9h0m0 5h0m0 9h0m0 11h0m1-122h0m0 6h0m0 11h0m0 4h0m0 3h0m0 8h0m0 21h0m0 18h0m0 2h0m0 13h0m0 14h0m0 1h0m0 4h0m0 7h0m0 1h0m0 8h0m0 1h0m0 19h0m0 7h0m1-135h0m0 1h0m0 1h0m0 1h0m0 6h0m0 1h0m0 8h0m0 4h0m0 3h0m0 7h0m0 10h0m0 3h0m0 7h0m0 10h0m0 7h0m0 4h0m1-96h0m0 9h0m0 15h0m0 12h0m0 1h0m0 31h0m0 5h0m0 15h0m0 6h0m0 5h0m0 3h0m0 2h0m0 1h0m0 9h0m0 1h0m0 2h0m0 8h0m0 35h0m1-162h0m0 10h0m0 16h0m0 3h0m0 9h0m0 1h0m0 2h0m0 1h0m0 3h0m0 4h0m0 1h0m0 9h0m0 41h0m0 8h0m0 14h0m0 30h0m1-163h0m0 12h0m0 1h0m0 12h0m0 6h0m0 2h0m0 3h0m0 11h0m0 3h0m0 6h0m0 6h0m0 6h0m0 4h0m0 29h0m0 64h0m0 4h0m0 12h0m1-185h0m0 30h0m0 5h0m0 13h0m0 10h0m0 37h0m0 7h0m0 9h0m0 5h0m0 7h0m0 5h0m0 7h0m0 2h0m0 4h0m0 21h0m0 9h0m1-170h0m0 18h0m0 3h0m0 60h0m0 17h0m0 14h0m0 38h0m1-126h0m0 34h0m0 6h0m0 6h0m0 18h0m0 6h0m0 2h0m0 43h0m0 31h0m0 2h0m0 6h0m0 29h0m1-205h0m0 13h0m0 47h0m0 1h0m0 1h0m0 12h0m0 3h0m0 11h0m0 45h0m1-121h0m0 1h0m0 25h0m0 6h0m0 1h0m0 2h0m0 7h0m0 32h0m0 13h0m0 7h0m0 21h0m0 9h0m0 38h0m1-166h0m0 14h0m0 6h0m0 22h0m0 2h0m0 2h0m0 6h0m0 1h0m0 26h0m0 8h0m0 12h0m0 28h0m0 10h0m0 30h0m1-167h0m0 3h0m0 22h0m0 10h0m0 13h0m0 11h0m0 11h0m0 32h0m0 3h0m0 16h0m0 16h0m0 6h0m0 23h0m0 5h0m0 6h0m1-188h0m0 15h0m0 1h0m0 2h0m0 46h0m0 9h0m0 13h0m0 10h0m0 24h0m0 17h0m0 24h0m0 15h0m1-176h0m0 10h0m0 5h0m0 12h0m0 2h0m0 2h0m0 43h0m0 4h0m0 3h0m0 6h0m0 12h0m0 9h0m0 18h0m0 11h0m0 7h0m0 42h0m1-169h0m0 5h0m0 22h0m0 14h0m0 7h0m0 22h0m0 9h0m0 3h0m1-93h0m0 7h0m0 1h0m0 8h0m0 2h0m0 10h0m0 5h0m0 30h0m0 10h0m0 4h0m0 37h0m0 11h0m0 8h0m1-128h0m0 17h0m0 11h0m0 3h0m0 15h0m0 5h0m0 38h0m0 2h0m0 20h0m0 15h0m0 5h0m0 6h0m0 3h0m0 7h0m0 30h0m1-187h0m0 1h0m0 12h0m0 8h0m0 6h0m0 14h0m0 9h0m0 2h0m0 3h0m0 64h0m0 7h0m0 1h0m0 16h0m0 30h0m1-170h0m0 16h0m0 8h0m0 2h0m0 16h0m0 1h0m0 9h0m0 11h0m0 26h0m0 10h0m0 15h0m0 3h0m0 8h0m0 25h0m0 17h0m0 6h0m1-171h0m0 4h0m0 13h0m0 21h0m0 26h0m0 1h0m0 3h0m0 20h0m0 10h0m0 6h0m0 59h0m1-165h0m0 13h0m0 16h0m0 14h0m0 1h0m0 5h0m0 7h0m0 19h0m0 11h0m0 11h0m0 15h0m0 3h0m0 18h0m0 20h0m0 6h0m1-137h0m0 8h0m0 7h0m0 4h0m0 5h0m0 11h0m0 6h0m0 10h0m0 12h0m0 7h0m0 1h0m0 1h0m0 11h0m0 17h0m0 5h0m0 26h0m0 15h0m0 15h0m1-185h0m0 2h0m0 14h0m0 10h0m0 15h0m0 4h0m0 8h0m0 12h0m0 4h0m0 4h0m0 5h0m0 18h0m0 4h0m0 6h0m0 2h0m0 1h0m0 34h0m1-111h0m0 30h0m0 15h0m0 27h0m0 3h0m0 67h0m1-164h0m0 28h0m0 15h0m0 7h0m0 4h0m0 7h0m0 8h0m0 2h0m0 10h0m0 16h0m0 15h0m0 2h0m0 1h0m0 7h0m0 22h0m0 11h0m1-137h0m0 3h0m0 3h0m0 4h0m0 12h0m0 3h0m0 7h0m0 12h0m0 7h0m0 1h0m0 12h0m0 9h0m0 4h0m0 14h0m0 7h0m0 3h0m0 14h0m0 15h0m0 13h0m0 11h0m1-182h0m0 5h0m0 4h0m0 11h0m0 2h0m0 3h0m0 6h0m0 3h0m0 4h0m0 4h0m0 5h0m0 7h0m0 6h0m0 2h0m0 21h0m0 15h0m0 3h0m0 5h0m0 13h0m0 18h0m0 19h0m1-145h0m0 6h0m0 8h0m0 5h0m0 16h0m0 21h0m0 5h0m0 17h0m0 14h0m0 46h0m0 12h0m1-164h0m0 39h0m0 57h0m0 33h0m0 20h0m0 3h0m0 2h0m0 31h0m1-166h0m0 8h0m0 4h0m0 19h0m0 13h0m0 2h0m0 3h0m0 4h0m0 5h0m0 17h0m0 40h0m0 17h0m0 21h0m0 5h0m1-172h0m0 1h0m0 6h0m0 12h0m0 6h0m0 2h0m0 4h0m0 4h0m0 2h0m0 3h0m0 21h0m0 10h0m0 2h0m0 9h0m0 6h0m0 14h0m0 5h0m0 22h0m0 2h0m0 2h0m0 3h0m0 2h0m0 39h0m0 4h0m1-173h0m0 21h0m0 15h0m0 3h0m0 28h0m0 4h0m0 10h0m0 4h0m0 1h0m0 6h0m0 9h0m0 5h0m0 39h0m0 6h0m0 2h0m0 5h0m0 9h0m1-121h0m0 26h0m0 13h0m0 12h0m0 2h0m0 8h0m0 2h0m0 8h0m0 15h0m1-131h0m0 4h0m0 24h0m0 4h0m0 15h0m0 5h0m0 2h0m0 3h0m0 24h0m0 10h0m0 2h0m0 32h0m1-136h0m0 4h0m0 20h0m0 11h0m0 9h0m0 23h0m0 6h0m0 15h0m0 1h0m0 17h0m0 2h0m0 15h0m0 11h0m0 2h0m0 39h0m1-174h0m0 13h0m0 26h0m0 1h0m0 1h0m0 3h0m0 15h0m0 13h0m0 3h0m0 11h0m0 13h0m0 9h0m0 9h0m0 5h0m0 32h0m0 12h0m0 15h0m1-180h0m0 7h0m0 6h0m0 1h0m0 7h0m0 11h0m0 8h0m0 23h0m0 35h0m0 3h0m0 8h0m0 22h0m0 17h0m1-151h0m0 16h0m0 7h0m0 4h0m0 9h0m0 11h0m0 20h0m0 4h0m0 4h0m0 34h0m0 13h0m0 1h0m0 57h0m1-181h0m0 11h0m0 2h0m0 21h0m0 9h0m0 8h0m0 7h0m0 15h0m0 4h0m0 11h0m0 2h0m0 11h0m0 2h0m0 9h0m0 31h0m0 39h0m1-171h0m0 1h0m0 19h0m0 2h0m0 2h0m0 21h0m0 15h0m0 2h0m0 33h0m0 11h0m0 12h0m0 13h0m0 3h0m1-138h0m0 5h0m0 5h0m0 9h0m0 14h0m0 10h0m0 1h0m0 18h0m0 2h0m0 9h0m0 29h0m0 5h0m1-113h0m0 2h0m0 6h0m0 2h0m0 6h0m0 30h0m0 5h0m0 8h0m0 4h0m0 2h0m0 10h0m0 12h0m0 2h0m0 11h0m0 11h0m0 10h0m0 13h0m0 2h0m0 1h0m0 23h0m1-135h0m0 4h0m0 16h0m0 15h0m0 1h0m0 8h0m0 6h0m0 4h0m0 6h0m0 19h0m0 50h0m0 7h0m0 3h0m1-155h0m0 6h0m0 19h0m0 12h0m0 1h0m0 23h0m0 3h0m0 33h0m0 16h0m0 2h0m0 10h0m0 11h0m0 35h0m1-180h0m0 8h0m0 16h0m0 5h0m0 9h0m0 19h0m0 18h0m0 2h0m0 10h0m0 3h0m0 4h0m0 6h0m0 20h0m0 2h0m0 14h0m0 48h0m1-180h0m0 2h0m0 8h0m0 6h0m0 13h0m0 21h0m0 39h0m0 4h0m0 4h0m0 3h0m0 6h0m0 5h0m0 5h0m0 35h0m0 14h0m0 5h0m0 3h0m1-179h0m0 13h0m0 18h0m0 18h0m0 49h0m0 12h0m0 3h0m0 8h0m0 1h0m0 6h0m0 9h0m0 30h0m1-137h0m0 6h0m0 2h0m0 8h0m0 1h0m0 22h0m0 28h0m0 3h0m0 14h0m0 13h0m0 74h0m1-195h0m0 1h0m0 6h0m0 13h0m0 10h0m0 7h0m0 38h0m0 13h0m0 1h0m0 7h0m0 17h0m0 7h0m1-107h0m0 3h0m0 2h0m0 18h0m0 12h0m0 2h0m0 16h0m0 12h0m0 4h0m0 17h0m0 43h0m0 6h0m0 23h0m0 7h0m1-176h0m0 8h0m0 2h0m0 24h0m0 21h0m0 7h0m0 2h0m0 6h0m0 6h0m0 1h0m0 8h0m0 5h0m0 22h0m0 18h0m0 25h0m0 24h0m1-188h0m0 12h0m0 7h0m0 5h0m0 7h0m0 4h0m0 7h0m0 6h0m0 12h0m0 7h0m0 6h0m0 8h0m0 10h0m0 6h0m0 19h0m0 13h0m0 3h0m0 10h0m0 2h0m0 16h0m1-145h0m0 25h0m0 8h0m0 1h0m0 3h0m0 18h0m0 19h0m0 9h0m0 27h0m0 21h0m1-104h0m0 4h0m0 3h0m0 1h0m0 3h0m0 21h0m0 9h0m0 5h0m0 12h0m0 30h0m0 4h0m0 3h0m0 30h0m1-165h0m0 13h0m0 2h0m0 7h0m0 6h0m0 1h0m0 1h0m0 4h0m0 9h0m0 15h0m0 12h0m0 4h0m0 6h0m0 30h0m0 2h0m0 6h0m0 2h0m0 1h0m1-73h0m0 2h0m0 3h0m0 16h0m0 15h0m0 20h0m0 6h0m0 12h0m0 7h0m0 21h0m0 6h0m0 18h0m1-166h0m0 4h0m0 24h0m0 7h0m0 8h0m0 2h0m0 11h0m0 12h0m0 23h0m0 4h0m0 11h0m0 4h0m0 51h0m0 6h0m1-165h0m0 3h0m0 21h0m0 7h0m0 17h0m0 4h0m0 3h0m0 6h0m0 24h0m0 30h0m0 1h0m0 1h0m0 24h0m0 1h0m0 9h0m0 3h0m0 19h0m1-179h0m0 2h0m0 2h0m0 8h0m0 31h0m0 12h0m0 1h0m0 30h0m0 2h0m0 6h0m0 4h0m0 15h0m1-117h0m0 5h0m0 11h0m0 1h0m0 16h0m0 22h0m0 5h0m0 1h0m0 11h0m0 5h0m0 13h0m0 16h0m0 43h0" stroke="#0000ff" stroke-width="5.2" stroke-linecap="round" fill="none" clip-path="url(#cp2)"/>
<line x1="810.5" y1="300" x2="810.5" y2="520" stroke="#fff" stroke-width="1.6"/>
<line x1="810.5" y1="830" x2="810.5" y2="975" stroke="#fff" stroke-width="1.6"/>
<line x1="1117.4" y1="300" x2="1117.4" y2="520" stroke="#fff" stroke-width="1.6"/>
<line x1="1117.4" y1="830" x2="1117.4" y2="975" stroke="#fff" stroke-width="1.6"/>
<line x1="1140.4" y1="300" x2="1140.4" y2="520" stroke="#fff" stroke-width="1.6"/>
<line x1="1140.4" y1="830" x2="1140.4" y2="975" stroke="#fff" stroke-width="1.6"/>
<line x1="1165.2" y1="300" x2="1165.2" y2="520" stroke="#fff" stroke-width="1.6"/>
<line x1="1165.2" y1="830" x2="1165.2" y2="975" stroke="#fff" stroke-width="1.6"/>
<line x1="1189.4" y1="300" x2="1189.4" y2="520" stroke="#fff" stroke-width="1.6"/>
<line x1="1189.4" y1="830" x2="1189.4" y2="975" stroke="#fff" stroke-width="1.6"/>
<line x1="1272.7" y1="300" x2="1272.7" y2="520" stroke="#fff" stroke-width="1.6"/>
<line x1="1272.7" y1="830" x2="1272.7" y2="975" stroke="#fff" stroke-width="1.6"/>
<line x1="1340" y1="300" x2="1340" y2="520" stroke="#fff" stroke-width="1.6"/>
<line x1="1340" y1="830" x2="1340" y2="975" stroke="#fff" stroke-width="1.6"/>
<line x1="1383.7" y1="300" x2="1383.7" y2="520" stroke="#fff" stroke-width="1.6"/>
<line x1="1383.7" y1="830" x2="1383.7" y2="975" stroke="#fff" stroke-width="1.6"/>
<line x1="1494" y1="300" x2="1494" y2="520" stroke="#fff" stroke-width="1.6"/>
<line x1="1494" y1="830" x2="1494" y2="975" stroke="#fff" stroke-width="1.6"/>
<line x1="1569" y1="300" x2="1569" y2="520" stroke="#fff" stroke-width="1.6"/>
<line x1="1569" y1="830" x2="1569" y2="975" stroke="#fff" stroke-width="1.6"/>
<line x1="1615" y1="300" x2="1615" y2="520" stroke="#fff" stroke-width="1.6"/>
<line x1="1615" y1="830" x2="1615" y2="975" stroke="#fff" stroke-width="1.6"/>
<line x1="1569" y1="300" x2="1569" y2="520" stroke="#fff" stroke-width="2.4"/>
<path d="M377.9 555.9V561.8M400.2 555.9V562.7M422.4 552.9V565.7M445.3 550.9V566.7M468.5 547.0V565.7M491.4 547.0V584.5M514.3 546.0V584.5M537.5 543.0V584.5M560.4 543.0V584.5M583.5 541.0V584.5M604.9 539.1V584.5M377.9 1009.7V1015.5M400.2 1005.8V1019.5M422.4 1004.8V1024.5M445.3 1002.8V1026.5M468.5 998.8V1031.5M491.4 993.9V1031.5M514.3 989.0V1031.5M537.5 985.5V1031.5M560.4 983.0V1031.5M583.5 978.1V1024.5M604.9 973.5V1022.1" stroke="#0000ff" stroke-width="5" stroke-linecap="round" fill="none" clip-path="url(#cpTop)"/>
</g>
<path d="M378.0 1221.6L382.0 1223.3L386.0 1224.7L389.0 1225.7L390.0 1226.3L394.0 1227.8L398.0 1229.6L400.0 1229.7L402.0 1230.2L406.0 1230.3L410.0 1231.2L414.0 1231.1L418.0 1231.3L422.0 1231.5L426.0 1231.8L430.0 1231.9L434.0 1231.9L438.0 1231.9L442.0 1231.9L445.0 1231.6L446.0 1231.5L450.0 1231.4L454.0 1231.1L458.0 1230.6L462.0 1230.5L466.0 1230.5L468.0 1230.2L470.0 1230.5L474.0 1231.3L478.0 1231.8L482.0 1231.9L486.0 1232.0L490.0 1232.5L491.0 1232.7L494.0 1232.7L498.0 1232.7L502.0 1232.6L506.0 1232.2L510.0 1231.9L514.0 1231.9L518.0 1232.1L522.0 1231.5L526.0 1231.0L530.0 1230.3L534.0 1229.9L537.0 1229.9L538.0 1230.2L542.0 1230.4L546.0 1230.6L550.0 1230.6L554.0 1230.8L558.0 1230.5L560.0 1230.5L562.0 1230.0L566.0 1229.9L570.0 1229.8L574.0 1229.6L578.0 1229.4L582.0 1229.1L583.0 1229.7L586.0 1229.5L590.0 1229.6L594.0 1229.5L598.0 1229.4L602.0 1229.5L605.0 1229.4M643.0 1225.0L645.0 1225.1L647.0 1225.4L649.0 1225.0L651.0 1225.6L653.0 1227.4L655.0 1225.4L657.0 1225.1L659.0 1223.9L661.0 1225.3L663.0 1223.5L665.0 1224.3L667.0 1223.2L669.0 1224.7L671.0 1224.7L673.0 1224.4L675.0 1223.7L677.0 1221.3L679.0 1223.0L681.0 1224.7L683.0 1227.7L685.0 1225.9L687.0 1224.0L689.0 1222.8L691.0 1225.9L693.0 1226.8L695.0 1225.5L697.0 1224.3L699.0 1223.9L701.0 1224.4L703.0 1223.5L705.0 1223.9L707.0 1224.4L709.0 1225.0L711.0 1224.4L713.0 1223.0L715.0 1222.6L717.0 1224.0L719.0 1225.0L721.0 1224.1L723.0 1224.2L725.0 1224.9L727.0 1228.2L729.0 1227.0L731.0 1226.1L733.0 1222.9L735.0 1224.0L737.0 1226.8L739.0 1227.4L741.0 1225.6L743.0 1223.8L745.0 1223.8L747.0 1224.2L749.0 1223.3L751.0 1224.3L753.0 1225.6L755.0 1225.9L757.0 1226.6L759.0 1225.2L761.0 1225.5L763.0 1222.7L765.0 1221.8L767.0 1222.2L769.0 1223.7L771.0 1225.5L773.0 1225.3L775.0 1227.1L777.0 1227.3L779.0 1227.8L781.0 1226.5L783.0 1225.1L785.0 1223.5L787.0 1223.2L789.0 1222.8L791.0 1223.0L793.0 1223.3L795.0 1224.6L797.0 1224.8L799.0 1223.1L800.0 1222.9L801.0 1223.4L803.0 1226.2L805.0 1226.8L807.0 1226.0L809.0 1224.3L811.0 1225.6L813.0 1226.9L815.0 1229.3L817.0 1229.4L819.0 1228.0L821.0 1226.7L823.0 1225.1L825.0 1226.4L827.0 1226.6L829.0 1226.3L831.0 1226.0L833.0 1224.1L835.0 1223.8L837.0 1223.0L839.0 1224.5L841.0 1224.2L843.0 1225.5L845.0 1226.1L847.0 1226.8L849.0 1226.6L851.0 1225.9L853.0 1225.2L855.0 1224.8L857.0 1224.3L859.0 1225.0L861.0 1225.2L863.0 1226.2L865.0 1224.7L867.0 1225.5L869.0 1224.2L871.0 1224.8L873.0 1223.8L875.0 1224.0L877.0 1225.0L879.0 1224.6L881.0 1224.2L883.0 1223.1L885.0 1224.9L887.0 1225.9L889.0 1225.6L891.0 1224.4L893.0 1223.0L895.0 1225.7L897.0 1224.3L899.0 1226.2L901.0 1225.0L903.0 1225.1L905.0 1225.0L907.0 1225.4L909.0 1227.2L911.0 1227.1L913.0 1227.1L915.0 1226.8L917.0 1226.9L919.0 1225.9L921.0 1226.4L923.0 1225.2L925.0 1226.1L927.0 1225.0L929.0 1224.9L931.0 1224.5L933.0 1226.6L935.0 1228.4L937.0 1227.6L939.0 1226.7L941.0 1225.5L943.0 1225.8L945.0 1225.3L947.0 1223.6L949.0 1223.9L951.0 1222.9L953.0 1224.4L955.0 1222.8L957.0 1222.4L959.0 1222.2L961.0 1224.3L963.0 1227.2L965.0 1228.1L967.0 1228.3L969.0 1226.6L971.0 1224.9L973.0 1224.0L975.0 1224.7L977.0 1226.0L979.0 1226.2L981.0 1226.3L983.0 1225.9L985.0 1224.3L987.0 1223.6L989.0 1224.2L991.0 1225.2L993.0 1226.4L995.0 1228.1L997.0 1228.1L999.0 1227.8L1000.0 1227.1L1001.0 1228.2L1003.0 1228.5L1005.0 1227.3L1007.0 1227.4L1009.0 1228.3L1011.0 1229.4L1013.0 1228.2L1015.0 1226.9L1017.0 1227.3L1019.0 1228.2L1021.0 1227.2L1023.0 1227.5L1025.0 1226.0L1027.0 1227.0L1029.0 1225.6L1031.0 1225.7L1033.0 1226.3L1035.0 1226.7L1037.0 1226.7L1039.0 1226.2L1041.0 1225.5L1043.0 1224.8L1045.0 1223.7L1047.0 1224.3L1049.0 1226.7L1051.0 1227.5L1053.0 1227.3L1055.0 1227.2L1057.0 1226.8L1059.0 1227.9L1061.0 1227.6L1063.0 1228.1L1065.0 1227.6L1067.0 1226.5L1069.0 1225.6L1071.0 1226.5L1073.0 1227.8L1075.0 1228.2L1077.0 1227.1L1079.0 1226.4L1081.0 1226.9L1083.0 1226.0L1085.0 1226.7L1087.0 1225.1L1089.0 1226.9L1091.0 1226.2L1093.0 1226.2L1095.0 1224.8L1097.0 1225.0L1099.0 1226.6L1100.0 1225.7L1101.0 1226.5L1103.0 1229.6L1105.0 1229.5L1107.0 1229.5L1109.0 1225.9L1111.0 1227.2L1113.0 1225.2L1115.0 1224.5L1117.0 1224.7L1119.0 1226.3L1121.0 1228.9L1123.0 1227.8L1125.0 1228.0L1127.0 1229.2L1129.0 1229.1L1131.0 1228.1L1133.0 1225.4L1135.0 1226.1L1137.0 1227.7L1139.0 1227.9L1141.0 1227.2L1143.0 1226.6L1145.0 1228.9L1147.0 1230.8L1149.0 1228.0L1151.0 1225.5L1153.0 1223.5L1155.0 1226.6L1157.0 1226.6L1159.0 1229.2L1161.0 1229.5L1163.0 1230.4L1165.0 1228.8L1167.0 1228.0L1169.0 1227.4L1171.0 1228.5L1173.0 1229.0L1175.0 1228.4L1177.0 1228.3L1179.0 1228.0L1181.0 1228.3L1183.0 1226.4L1185.0 1225.7L1187.0 1225.2L1189.0 1223.3L1191.0 1224.8L1193.0 1225.9L1195.0 1228.3L1197.0 1228.3L1199.0 1228.2L1201.0 1228.7L1203.0 1225.5L1205.0 1224.9L1207.0 1225.0L1209.0 1228.8L1211.0 1230.7L1213.0 1231.5L1215.0 1228.9L1217.0 1225.2L1219.0 1224.4L1221.0 1225.5L1223.0 1228.4L1225.0 1227.8L1227.0 1228.0L1229.0 1225.7L1231.0 1226.2L1233.0 1225.6L1235.0 1227.3L1237.0 1227.3L1239.0 1227.6L1241.0 1227.6L1243.0 1227.2L1245.0 1228.0L1247.0 1228.1L1249.0 1227.7L1251.0 1226.4L1253.0 1227.6L1255.0 1228.0L1257.0 1229.4L1259.0 1228.2L1261.0 1227.8L1263.0 1226.2L1265.0 1225.9L1267.0 1226.7L1269.0 1227.9L1271.0 1226.6L1273.0 1225.9L1275.0 1225.2L1277.0 1227.8L1279.0 1226.2L1281.0 1226.7L1283.0 1224.7L1285.0 1227.3L1287.0 1226.4L1289.0 1227.3L1291.0 1228.3L1293.0 1229.1L1295.0 1229.2L1297.0 1228.1L1299.0 1227.1L1300.0 1227.2L1301.0 1226.6L1303.0 1226.6L1305.0 1226.0L1307.0 1226.0L1309.0 1227.5L1311.0 1227.5L1313.0 1227.2L1315.0 1227.9L1317.0 1228.8L1319.0 1230.5L1321.0 1229.7L1323.0 1228.7L1325.0 1227.2L1327.0 1226.4L1329.0 1227.3L1331.0 1227.8L1333.0 1226.7L1335.0 1225.9L1337.0 1224.5L1339.0 1226.0L1341.0 1224.9L1343.0 1225.1L1345.0 1225.0L1347.0 1226.1L1349.0 1225.7L1351.0 1226.3L1353.0 1228.4L1355.0 1228.5L1357.0 1229.5L1359.0 1226.9L1361.0 1227.8L1363.0 1226.0L1365.0 1225.3L1367.0 1227.0L1369.0 1227.6L1371.0 1228.3L1373.0 1226.8L1375.0 1225.0L1377.0 1225.4L1379.0 1226.5L1381.0 1226.3L1383.0 1226.2L1385.0 1225.5L1387.0 1228.1L1389.0 1229.7L1391.0 1229.2L1393.0 1227.5L1395.0 1226.7L1397.0 1226.8L1399.0 1227.2L1401.0 1227.8L1403.0 1229.7L1405.0 1230.2L1407.0 1229.1L1409.0 1228.0L1411.0 1226.1L1413.0 1226.2L1415.0 1224.8L1417.0 1228.7L1419.0 1229.4L1421.0 1230.5L1423.0 1228.1L1425.0 1225.2L1427.0 1225.7L1429.0 1227.4L1431.0 1229.0L1433.0 1229.0L1435.0 1228.2L1437.0 1227.4L1439.0 1227.7L1441.0 1228.3L1443.0 1229.9L1445.0 1229.0L1447.0 1228.5L1449.0 1226.9L1451.0 1227.0L1453.0 1227.3L1455.0 1227.6L1457.0 1228.4L1459.0 1227.0L1461.0 1226.3L1463.0 1225.3L1465.0 1224.8L1467.0 1227.0L1469.0 1226.0L1471.0 1227.9L1473.0 1226.9L1475.0 1228.3L1477.0 1226.8L1479.0 1227.2L1481.0 1228.0L1483.0 1228.8L1485.0 1228.7L1487.0 1226.5L1489.0 1227.3L1491.0 1228.4L1493.0 1229.2L1495.0 1228.4L1497.0 1226.8L1499.0 1226.2L1501.0 1225.2L1503.0 1226.5L1505.0 1227.7L1507.0 1227.8L1509.0 1228.1L1511.0 1228.6L1513.0 1229.4L1515.0 1229.7L1517.0 1228.8L1519.0 1228.5L1521.0 1228.0L1523.0 1228.2L1525.0 1229.1L1527.0 1227.5L1529.0 1228.8L1531.0 1227.4L1533.0 1228.4L1535.0 1225.8L1537.0 1227.1L1539.0 1228.5L1540.0 1230.7L1541.0 1231.5L1543.0 1230.2L1545.0 1229.7L1547.0 1229.8L1548.0 1231.0L1549.0 1233.9L1551.0 1236.7L1553.0 1239.8L1555.0 1241.5L1556.0 1241.6L1557.0 1239.7L1559.0 1236.5L1561.0 1235.8L1563.0 1235.0L1565.0 1234.3L1567.0 1234.0L1569.0 1231.7L1571.0 1229.8L1573.0 1228.2L1575.0 1227.4L1577.0 1227.4L1579.0 1228.1L1581.0 1230.4L1583.0 1231.8L1585.0 1230.9L1587.0 1229.6L1589.0 1229.6L1591.0 1229.2L1593.0 1229.7L1595.0 1229.9L1597.0 1229.8L1599.0 1228.9L1601.0 1227.7L1603.0 1228.5L1605.0 1229.5L1607.0 1229.6L1609.0 1229.6L1611.0 1227.6L1613.0 1226.6L1615.0 1226.3L1617.0 1226.8L1619.0 1226.4L1621.0 1225.1L1623.0 1225.0L1625.0 1226.1L1627.0 1226.2L1629.0 1227.2L1631.0 1228.9L1633.0 1229.7L1635.0 1230.6L1637.0 1229.3L1639.0 1228.4L1641.0 1226.9L1643.0 1225.7L1645.0 1227.4L1647.0 1226.6L1649.0 1228.7L1651.0 1228.5L1653.0 1227.6L1655.0 1227.1L1657.0 1228.0L1659.0 1229.1L1661.0 1229.2L1663.0 1226.1L1665.0 1227.0L1667.0 1224.6L1669.0 1226.6L1671.0 1224.7L1673.0 1223.8L1675.0 1223.7L1677.0 1227.4L1679.0 1229.3L1681.0 1229.6L1683.0 1227.6L1685.0 1227.8L1687.0 1227.6L1689.0 1229.0L1691.0 1228.1L1693.0 1228.0L1695.0 1226.8L1697.0 1226.6L1699.0 1227.5L1700.0 1229.0L1701.0 1229.5L1703.0 1229.9L1705.0 1228.4L1707.0 1229.4L1708.0 1229.3L1709.0 1160.2L1709.4 1132.9L1711.0 1135.9L1713.0 1138.1L1715.0 1162.9L1716.0 1167.0L1717.0 1154.2L1719.0 1143.9L1721.0 1134.2L1721.5 1135.9L1723.0 1135.9L1725.0 1145.4L1726.0 1145.5L1727.0 1146.9L1729.0 1133.8L1730.0 1131.3L1731.0 1125.9L1733.0 1130.3L1735.0 1125.6L1736.0 1125.4L1737.0 1120.7L1739.0 1123.7L1741.0 1138.5L1743.0 1151.4L1745.0 1125.6L1747.0 1123.5L1748.0 1125.9L1749.0 1144.0L1750.0 1162.3L1751.0 1153.8L1753.0 1140.6L1755.0 1133.7L1757.0 1131.3L1759.0 1130.0L1760.0 1127.3L1761.0 1122.8L1763.0 1116.7L1765.0 1109.1L1767.0 1124.1L1769.0 1144.9L1771.0 1123.3L1772.5 1107.4L1773.0 1105.9L1775.0 1119.9L1777.0 1132.1L1779.0 1125.5L1781.0 1122.6L1783.0 1115.5L1785.0 1106.0L1787.0 1113.1L1789.0 1130.8L1791.0 1140.4L1792.0 1146.7L1793.0 1152.4L1795.0 1173.8L1796.0 1184.5L1797.0 1190.4L1799.0 1186.8L1801.0 1192.6L1802.0 1192.7L1803.0 1195.9L1805.0 1199.4L1806.0 1202.0L1807.0 1204.2L1809.0 1211.7L1811.0 1218.1L1812.0 1224.0L1813.0 1223.3L1815.0 1225.5L1817.0 1225.0L1819.0 1225.4L1821.0 1225.4L1823.0 1227.6L1825.0 1228.8L1827.0 1227.0L1829.0 1225.9L1830.0 1225.6L1831.0 1226.1L1833.0 1227.5L1835.0 1228.5L1837.0 1228.9L1839.0 1227.8L1841.0 1227.4L1843.0 1228.0L1845.0 1228.5L1847.0 1228.2L1849.0 1227.6L1851.0 1229.0L1853.0 1229.7L1855.0 1229.4L1857.0 1229.1L1859.0 1228.7L1861.0 1227.9L1863.0 1226.6L1865.0 1225.8L1867.0 1226.3L1869.0 1226.0L1871.0 1226.7L1873.0 1226.5L1875.0 1225.7L1877.0 1225.2L1879.0 1227.0L1881.0 1226.9L1883.0 1226.9L1885.0 1227.7L1887.0 1227.8L1889.0 1229.7L1891.0 1229.1L1893.0 1229.4L1895.0 1226.8L1897.0 1226.0L1899.0 1226.7L1900.0 1228.9L1901.0 1228.7L1903.0 1229.5L1905.0 1230.3L1907.0 1229.5L1909.0 1230.1L1911.0 1229.3L1913.0 1230.1L1915.0 1228.8L1917.0 1230.7L1919.0 1232.4L1921.0 1231.4L1923.0 1230.1L1925.0 1229.4L1927.0 1231.2L1929.0 1230.9L1931.0 1230.1L1933.0 1231.3L1935.0 1231.3L1937.0 1232.6L1939.0 1231.9L1941.0 1232.7L1943.0 1234.4L1945.0 1235.9L1947.0 1236.6L1949.0 1235.7L1951.0 1235.5L1953.0 1237.6L1955.0 1239.3L1956.0 1240.2L1957.0 1238.4L1959.0 1236.7L1961.0 1235.4L1963.0 1232.8L1965.0 1233.2L1967.0 1231.0L1969.0 1230.9L1970.0 1230.0L1971.0 1230.6L1973.0 1230.6L1975.0 1228.2L1977.0 1226.0L1979.0 1225.5L1981.0 1226.5L1983.0 1226.5L1985.0 1227.0L1987.0 1224.3L1989.0 1223.8L1990.0 1222.8L1991.0 1223.7L1993.0 1224.8L1995.0 1223.5L1997.0 1222.3L1999.0 1219.8L2001.0 1219.1L2003.0 1218.9L2005.0 1219.1L2007.0 1220.3L2009.0 1220.5L2010.0 1219.8L2011.0 1222.0L2013.0 1222.0L2015.0 1222.9L2017.0 1222.0L2019.0 1224.1L2021.0 1224.4L2023.0 1222.2L2025.0 1220.4L2027.0 1222.8L2029.0 1224.1L2031.0 1224.5L2033.0 1223.7L2035.0 1225.3L2037.0 1225.0L2039.0 1224.9L2041.0 1222.7L2043.0 1226.3L2044.0 1228.4L2045.0 1230.5L2046.0 1228.4L2047.0 1204.9L2048.0 1179.6L2049.0 1156.5L2050.0 1129.8L2051.0 1101.5L2053.0 1038.3L2055.0 1049.5L2056.0 1058.8L2057.0 1069.8L2059.0 1086.2L2061.0 1097.0L2063.0 1106.2L2065.0 1114.4L2066.0 1124.5L2067.0 1130.4L2069.0 1143.5L2070.0 1149.3L2071.0 1151.7L2073.0 1149.0L2074.0 1144.3L2075.0 1145.5L2077.0 1154.6L2079.0 1165.3L2080.0 1166.2L2081.0 1167.8L2083.0 1172.6L2084.0 1175.1L2085.0 1172.5L2087.0 1173.3L2088.0 1178.0L2089.0 1174.2L2091.0 1158.4L2093.0 1140.6L2094.0 1137.2L2095.0 1135.5L2097.0 1134.5L2099.0 1130.6L2100.0 1128.9L2101.0 1141.4L2102.0 1153.5L2103.0 1147.7L2105.0 1127.9L2107.0 1106.1L2109.0 1115.6L2111.0 1125.4L2113.0 1141.0L2115.0 1133.3L2117.0 1125.1L2119.0 1115.0L2120.0 1107.7L2121.0 1120.1L2123.0 1141.5L2125.0 1164.6L2126.0 1180.5L2127.0 1174.8L2129.0 1174.1L2131.0 1169.1L2133.0 1172.9L2135.0 1152.5L2137.0 1129.4L2138.5 1109.3L2139.0 1109.6L2141.0 1123.7L2143.0 1133.5L2145.0 1146.7L2147.0 1132.8L2149.0 1124.3L2151.0 1111.6L2153.0 1106.6L2155.0 1093.6L2156.0 1089.6L2157.0 1096.3L2159.0 1122.6L2160.6 1141.5L2161.0 1134.1L2163.0 1095.9L2164.0 1071.3L2165.0 1077.3L2167.0 1085.8L2169.0 1104.4L2169.3 1103.5L2171.0 1108.2L2173.0 1112.2L2175.0 1123.6L2177.0 1132.3L2177.3 1134.0L2179.0 1144.1L2181.0 1152.1L2183.0 1157.9L2184.0 1159.2L2185.0 1162.5L2187.0 1174.4L2189.0 1184.3L2190.7 1184.4L2191.0 1186.8L2193.0 1180.1L2195.0 1180.4L2197.0 1169.7L2198.7 1167.5L2199.0 1166.5L2201.0 1170.6L2203.0 1170.9L2205.0 1173.5L2205.4 1177.2L2207.0 1175.7L2209.0 1179.2L2211.0 1177.9L2213.0 1174.5L2215.0 1176.1L2217.0 1171.6L2219.0 1175.7L2220.0 1167.7L2221.0 1174.1L2223.0 1175.5L2225.0 1185.6L2226.9 1188.4L2227.0 1185.0L2229.0 1183.3L2230.0 1185.8L2231.0 1193.8L2233.0 1194.5L2235.0 1190.4L2237.0 1188.6L2239.0 1193.8L2240.0 1198.7L2241.0 1190.8L2243.0 1177.6L2245.0 1178.0L2247.0 1178.2L2249.0 1169.9L2251.0 1163.8L2253.0 1169.1L2255.0 1175.6L2257.0 1185.4L2258.0 1189.9L2259.0 1187.4L2261.0 1178.8L2263.0 1182.7L2265.0 1188.4L2267.0 1190.1L2269.0 1192.2L2270.0 1187.8L2271.0 1185.3L2273.0 1189.2L2275.0 1193.7L2277.0 1188.1L2279.0 1179.8L2281.0 1178.7L2283.0 1175.2L2285.0 1177.7L2287.0 1174.6L2289.0 1174.8L2291.0 1175.0L2293.0 1176.2L2295.0 1178.6L2297.0 1189.5L2299.0 1198.9L2301.0 1180.7L2303.0 1160.8L2305.0 1154.8L2307.0 1138.1L2309.0 1129.3L2311.0 1115.9L2312.0 1112.6L2313.0 1115.0L2315.0 1137.6L2317.0 1154.3L2319.0 1147.8L2321.0 1133.2L2322.0 1127.2L2323.0 1133.6L2325.0 1138.6L2327.0 1150.7L2328.0 1154.0L2329.0 1166.1L2331.0 1180.8L2333.0 1166.9L2335.0 1149.5L2337.0 1135.1L2339.0 1129.2L2341.0 1123.8L2343.0 1116.1L2345.0 1129.4L2347.0 1141.7L2348.0 1149.3L2349.0 1154.4L2351.0 1161.3L2352.0 1164.6L2353.0 1158.8L2355.0 1144.9L2357.0 1129.3L2359.0 1127.4L2361.0 1128.0L2363.0 1127.4L2365.0 1130.2L2366.0 1128.0L2367.0 1133.2L2369.0 1134.1L2371.0 1143.2L2372.0 1148.9L2373.0 1149.1L2375.0 1141.9L2377.0 1133.8L2379.0 1124.8L2381.0 1130.0L2383.0 1130.3L2385.0 1145.8L2386.0 1157.7L2387.0 1173.4L2389.0 1177.7L2391.0 1187.1L2393.0 1177.9L2395.0 1162.4L2396.0 1158.5L2397.0 1156.0L2399.0 1161.3L2401.0 1161.7L2402.0 1158.0L2403.0 1169.0L2405.0 1174.7L2407.0 1181.8L2408.0 1181.5L2409.0 1183.9L2411.0 1179.3L2413.0 1173.3L2414.0 1164.2L2415.0 1168.1L2417.0 1182.7L2419.0 1201.8L2420.0 1215.6L2421.0 1207.3L2423.0 1193.0L2425.0 1178.9L2427.0 1177.4L2429.0 1179.9L2431.0 1182.2L2432.0 1178.1" stroke="#808080" stroke-width="6.5" fill="none" stroke-linejoin="round" stroke-linecap="round"/>
<path d="M378.0 1221.1L382.0 1223.6L386.0 1226.1L389.0 1228.1L390.0 1228.8L394.0 1231.9L398.0 1234.5L400.0 1236.0L402.0 1235.7L406.0 1235.0L410.0 1234.7L414.0 1234.3L418.0 1234.6L422.0 1234.1L426.0 1234.5L430.0 1234.7L434.0 1235.1L438.0 1235.3L442.0 1235.2L445.0 1235.9L446.0 1235.7L450.0 1236.4L454.0 1236.5L458.0 1237.3L462.0 1237.9L466.0 1238.2L468.0 1238.6L470.0 1238.7L474.0 1239.6L478.0 1239.4L482.0 1239.7L486.0 1239.3L490.0 1239.8L491.0 1239.9L494.0 1239.9L498.0 1239.3L502.0 1238.6L506.0 1237.9L510.0 1237.7L514.0 1237.8L518.0 1238.0L522.0 1238.1L526.0 1237.7L530.0 1237.7L534.0 1237.8L537.0 1237.7L538.0 1237.7L542.0 1237.7L546.0 1238.1L550.0 1238.1L554.0 1238.6L558.0 1238.9L560.0 1239.3L562.0 1238.6L566.0 1237.9L570.0 1237.4L574.0 1237.3L578.0 1237.2L582.0 1237.0L583.0 1237.1L586.0 1237.1L590.0 1236.7L594.0 1236.2L598.0 1235.8L602.0 1235.9L605.0 1235.6M643.0 1232.5L645.0 1231.8L647.0 1230.6L649.0 1230.7L651.0 1231.9L653.0 1233.3L655.0 1233.0L657.0 1231.3L659.0 1231.9L661.0 1232.3L663.0 1233.8L665.0 1232.8L667.0 1231.5L669.0 1230.9L671.0 1230.8L673.0 1232.7L675.0 1233.0L677.0 1229.9L679.0 1228.7L681.0 1229.0L683.0 1233.0L685.0 1233.9L687.0 1235.9L689.0 1236.0L691.0 1236.5L693.0 1235.1L695.0 1232.5L697.0 1232.0L699.0 1231.7L701.0 1232.5L703.0 1232.2L705.0 1232.0L707.0 1232.1L709.0 1231.4L711.0 1230.8L713.0 1231.4L715.0 1231.1L717.0 1231.9L719.0 1229.9L721.0 1230.0L723.0 1227.9L725.0 1229.2L727.0 1229.9L729.0 1231.5L731.0 1231.8L733.0 1231.4L735.0 1232.8L737.0 1231.9L739.0 1232.6L741.0 1229.8L743.0 1230.4L745.0 1229.7L747.0 1230.3L749.0 1230.9L751.0 1231.4L753.0 1231.1L755.0 1230.8L757.0 1229.8L759.0 1229.1L761.0 1228.9L763.0 1228.5L765.0 1231.5L767.0 1230.9L769.0 1233.2L771.0 1231.5L773.0 1234.0L775.0 1232.9L777.0 1233.8L779.0 1232.8L781.0 1233.1L783.0 1234.0L785.0 1234.8L787.0 1233.6L789.0 1231.2L791.0 1227.1L793.0 1227.1L795.0 1228.9L797.0 1231.7L799.0 1232.2L800.0 1231.1L801.0 1230.2L803.0 1229.8L805.0 1230.5L807.0 1229.4L809.0 1230.3L811.0 1228.6L813.0 1230.1L815.0 1228.8L817.0 1229.8L819.0 1228.9L821.0 1228.4L823.0 1228.5L825.0 1228.5L827.0 1231.8L829.0 1231.6L831.0 1232.0L833.0 1229.2L835.0 1228.5L837.0 1226.9L839.0 1227.1L841.0 1228.4L843.0 1229.2L845.0 1229.4L847.0 1228.0L849.0 1229.4L851.0 1229.7L853.0 1231.2L855.0 1231.6L857.0 1230.6L859.0 1231.0L861.0 1230.1L863.0 1231.1L865.0 1230.9L867.0 1231.0L869.0 1229.5L871.0 1229.4L873.0 1228.6L875.0 1228.9L877.0 1227.3L879.0 1229.1L881.0 1229.8L883.0 1228.7L885.0 1228.6L887.0 1230.6L889.0 1234.3L891.0 1233.1L893.0 1231.2L895.0 1230.0L897.0 1231.4L899.0 1231.3L900.0 1229.8L901.0 1229.7L903.0 1230.1L905.0 1229.8L907.0 1228.7L909.0 1228.3L911.0 1229.4L913.0 1230.2L915.0 1230.6L917.0 1231.0L919.0 1230.3L921.0 1228.3L923.0 1228.3L925.0 1229.6L927.0 1232.6L929.0 1231.9L931.0 1230.5L933.0 1229.9L935.0 1231.2L937.0 1231.5L939.0 1230.7L941.0 1228.6L943.0 1228.7L945.0 1227.2L947.0 1227.7L949.0 1227.0L951.0 1227.2L953.0 1225.4L955.0 1224.6L957.0 1225.3L959.0 1227.1L961.0 1227.4L963.0 1227.4L965.0 1228.0L967.0 1229.1L969.0 1227.9L971.0 1227.2L973.0 1226.0L975.0 1225.9L977.0 1224.4L979.0 1224.5L981.0 1224.4L983.0 1227.7L985.0 1227.6L987.0 1228.2L989.0 1225.7L991.0 1227.5L993.0 1226.7L995.0 1226.9L997.0 1224.4L999.0 1225.0L1000.0 1225.1L1001.0 1226.8L1003.0 1225.4L1005.0 1225.3L1007.0 1225.7L1009.0 1226.4L1011.0 1226.1L1013.0 1223.7L1015.0 1221.7L1017.0 1221.6L1019.0 1223.4L1021.0 1225.2L1023.0 1223.5L1025.0 1222.6L1027.0 1223.0L1029.0 1225.5L1031.0 1225.9L1033.0 1225.5L1035.0 1224.8L1037.0 1222.2L1039.0 1223.4L1041.0 1223.0L1043.0 1225.6L1045.0 1225.4L1047.0 1224.8L1049.0 1223.6L1051.0 1221.7L1053.0 1219.9L1055.0 1219.8L1057.0 1220.7L1059.0 1221.4L1061.0 1222.1L1063.0 1221.9L1065.0 1223.2L1067.0 1221.7L1069.0 1219.9L1071.0 1220.1L1073.0 1221.2L1075.0 1222.6L1077.0 1221.4L1079.0 1220.5L1081.0 1220.3L1083.0 1220.1L1085.0 1218.4L1087.0 1219.1L1089.0 1218.1L1091.0 1219.5L1093.0 1218.4L1095.0 1219.9L1097.0 1218.6L1099.0 1219.9L1100.0 1220.2L1101.0 1222.4L1103.0 1222.4L1105.0 1221.1L1107.0 1217.5L1109.0 1216.6L1111.0 1218.5L1113.0 1222.5L1115.0 1221.6L1117.0 1220.3L1119.0 1219.5L1121.0 1218.3L1123.0 1217.8L1125.0 1216.9L1127.0 1220.0L1129.0 1220.0L1131.0 1222.1L1133.0 1220.6L1135.0 1219.6L1137.0 1220.2L1139.0 1219.3L1141.0 1221.4L1143.0 1220.9L1145.0 1221.3L1147.0 1219.6L1149.0 1219.0L1151.0 1219.5L1153.0 1219.5L1155.0 1217.5L1157.0 1217.1L1159.0 1219.1L1161.0 1219.8L1163.0 1220.8L1165.0 1221.4L1167.0 1222.8L1169.0 1223.5L1171.0 1223.1L1173.0 1220.4L1175.0 1220.2L1177.0 1219.4L1179.0 1220.7L1181.0 1218.6L1183.0 1216.8L1185.0 1215.9L1187.0 1216.8L1189.0 1217.2L1191.0 1217.5L1193.0 1216.9L1195.0 1218.6L1197.0 1219.0L1199.0 1219.5L1201.0 1220.1L1203.0 1220.0L1205.0 1220.7L1207.0 1218.5L1209.0 1219.1L1211.0 1218.6L1213.0 1219.7L1215.0 1219.0L1217.0 1217.9L1219.0 1217.5L1221.0 1217.4L1223.0 1219.3L1225.0 1220.4L1227.0 1219.7L1229.0 1219.3L1231.0 1218.0L1233.0 1219.6L1235.0 1218.5L1237.0 1217.6L1239.0 1218.1L1241.0 1218.9L1243.0 1219.2L1245.0 1216.5L1247.0 1215.5L1249.0 1215.6L1251.0 1217.0L1253.0 1218.0L1255.0 1220.4L1257.0 1220.4L1259.0 1221.1L1261.0 1220.8L1263.0 1220.7L1265.0 1217.9L1267.0 1217.6L1269.0 1218.5L1271.0 1222.2L1273.0 1222.7L1275.0 1222.9L1277.0 1222.3L1279.0 1220.0L1281.0 1219.4L1283.0 1217.6L1285.0 1220.2L1287.0 1220.5L1289.0 1217.9L1291.0 1217.5L1293.0 1216.2L1295.0 1219.7L1297.0 1218.0L1299.0 1219.0L1300.0 1218.9L1301.0 1219.5L1303.0 1218.4L1305.0 1219.1L1307.0 1219.3L1309.0 1220.2L1311.0 1219.6L1313.0 1218.7L1315.0 1220.5L1317.0 1220.0L1319.0 1220.9L1321.0 1219.5L1323.0 1218.4L1325.0 1217.0L1327.0 1216.9L1329.0 1218.1L1331.0 1220.4L1333.0 1220.6L1335.0 1219.3L1337.0 1218.5L1339.0 1218.9L1341.0 1220.8L1343.0 1220.6L1345.0 1218.8L1347.0 1218.9L1349.0 1217.9L1351.0 1219.6L1353.0 1217.1L1355.0 1218.5L1357.0 1217.2L1359.0 1219.7L1361.0 1220.6L1363.0 1222.4L1365.0 1220.3L1367.0 1217.8L1369.0 1216.0L1371.0 1217.6L1373.0 1218.8L1375.0 1219.8L1377.0 1219.5L1379.0 1219.7L1381.0 1220.1L1383.0 1221.4L1385.0 1220.8L1387.0 1220.4L1389.0 1217.2L1391.0 1216.0L1393.0 1215.2L1395.0 1215.8L1397.0 1217.2L1399.0 1218.8L1401.0 1219.5L1403.0 1218.9L1405.0 1217.4L1407.0 1218.0L1409.0 1217.9L1411.0 1218.8L1413.0 1218.9L1415.0 1219.7L1417.0 1220.1L1419.0 1219.8L1421.0 1219.6L1423.0 1220.5L1425.0 1220.5L1427.0 1221.1L1429.0 1219.5L1431.0 1219.1L1433.0 1218.0L1435.0 1217.2L1437.0 1217.6L1439.0 1217.5L1441.0 1217.9L1443.0 1219.0L1445.0 1219.4L1447.0 1220.8L1449.0 1220.0L1451.0 1220.9L1453.0 1219.3L1455.0 1219.2L1457.0 1220.8L1459.0 1222.1L1461.0 1222.9L1463.0 1220.7L1465.0 1220.8L1467.0 1218.8L1469.0 1217.8L1471.0 1217.4L1473.0 1219.2L1475.0 1219.6L1477.0 1219.1L1479.0 1218.0L1481.0 1218.2L1483.0 1217.3L1485.0 1216.3L1487.0 1216.4L1489.0 1215.9L1491.0 1216.3L1493.0 1215.8L1495.0 1216.4L1497.0 1217.5L1499.0 1217.7L1501.0 1218.6L1503.0 1217.5L1505.0 1217.2L1507.0 1217.7L1509.0 1219.0L1511.0 1219.3L1513.0 1219.1L1515.0 1219.0L1517.0 1219.5L1519.0 1220.7L1521.0 1220.1L1523.0 1220.4L1525.0 1219.3L1527.0 1219.5L1529.0 1218.0L1531.0 1218.2L1533.0 1218.7L1535.0 1219.8L1537.0 1219.2L1539.0 1219.0L1540.0 1218.1L1541.0 1219.0L1543.0 1218.6L1545.0 1220.6L1547.0 1220.2L1548.0 1222.2L1549.0 1223.5L1551.0 1225.9L1553.0 1227.0L1555.0 1228.0L1556.0 1228.7L1557.0 1228.2L1559.0 1226.4L1561.0 1227.0L1563.0 1227.0L1565.0 1226.8L1567.0 1223.3L1569.0 1222.3L1570.0 1220.1L1571.0 1221.6L1573.0 1220.0L1575.0 1222.9L1577.0 1220.8L1579.0 1222.9L1581.0 1221.7L1583.0 1221.6L1585.0 1220.1L1587.0 1220.7L1589.0 1223.3L1591.0 1221.9L1593.0 1220.0L1595.0 1217.8L1597.0 1218.3L1599.0 1218.1L1601.0 1220.8L1603.0 1221.8L1605.0 1222.1L1607.0 1220.0L1609.0 1220.4L1611.0 1221.2L1613.0 1220.6L1615.0 1221.2L1617.0 1219.5L1619.0 1220.0L1621.0 1219.0L1623.0 1221.5L1625.0 1221.4L1627.0 1221.1L1629.0 1220.7L1631.0 1221.5L1633.0 1222.2L1635.0 1221.9L1637.0 1221.5L1639.0 1220.9L1641.0 1220.8L1643.0 1220.4L1645.0 1221.2L1647.0 1218.5L1649.0 1217.6L1651.0 1217.4L1653.0 1219.5L1655.0 1219.7L1657.0 1218.6L1659.0 1219.2L1661.0 1219.2L1663.0 1219.4L1665.0 1218.2L1667.0 1218.6L1669.0 1217.7L1671.0 1218.8L1673.0 1217.8L1675.0 1217.4L1677.0 1217.0L1679.0 1216.8L1681.0 1215.6L1683.0 1215.4L1685.0 1216.5L1687.0 1217.7L1689.0 1217.2L1691.0 1216.3L1693.0 1219.0L1695.0 1217.9L1697.0 1218.3L1699.0 1214.3L1700.0 1214.7L1701.0 1216.3L1703.0 1217.1L1705.0 1217.5L1707.0 1215.2L1708.0 1216.6L1709.0 1215.7L1710.0 1214.5L1711.0 1202.2L1712.0 1190.3L1713.0 1199.1L1715.0 1205.5L1716.0 1211.1L1717.0 1205.2L1719.0 1193.0L1720.0 1183.6L1721.0 1186.8L1723.0 1190.8L1725.0 1197.4L1726.0 1194.7L1727.0 1184.8L1729.0 1170.8L1731.0 1182.6L1733.0 1192.8L1735.0 1191.5L1737.0 1180.5L1738.0 1179.4L1739.0 1181.4L1741.0 1188.6L1742.0 1191.8L1743.0 1187.1L1745.0 1178.2L1747.0 1185.1L1749.0 1194.4L1750.0 1198.9L1751.0 1197.7L1753.0 1185.7L1755.0 1174.9L1757.0 1177.9L1759.0 1189.2L1760.0 1190.8L1761.0 1188.7L1763.0 1184.3L1765.0 1189.4L1767.0 1184.6L1769.0 1184.4L1771.0 1176.8L1772.0 1172.8L1773.0 1175.6L1775.0 1193.8L1776.0 1202.2L1777.0 1196.2L1779.0 1186.3L1781.0 1185.3L1783.0 1184.8L1785.0 1186.6L1787.0 1187.7L1788.0 1187.9L1789.0 1190.3L1791.0 1192.4L1792.0 1189.8L1793.0 1194.4L1795.0 1196.6L1797.0 1205.6L1799.0 1207.1L1800.0 1211.8L1801.0 1213.3L1803.0 1216.7L1805.0 1221.5L1806.0 1222.3L1807.0 1224.3L1809.0 1225.8L1811.0 1228.3L1812.0 1229.5L1813.0 1230.1L1815.0 1232.3L1817.0 1230.1L1819.0 1228.3L1820.0 1224.8L1821.0 1224.7L1823.0 1223.9L1825.0 1222.4L1827.0 1222.4L1829.0 1222.5L1831.0 1220.6L1833.0 1220.1L1835.0 1218.6L1837.0 1219.6L1839.0 1219.9L1841.0 1219.8L1843.0 1220.4L1845.0 1221.1L1847.0 1219.6L1849.0 1220.5L1851.0 1219.2L1853.0 1219.5L1855.0 1218.8L1857.0 1218.7L1859.0 1220.4L1861.0 1219.3L1863.0 1219.4L1865.0 1218.3L1867.0 1221.1L1869.0 1220.3L1871.0 1221.7L1873.0 1218.7L1875.0 1220.1L1877.0 1219.0L1879.0 1221.0L1881.0 1220.1L1883.0 1218.4L1885.0 1216.7L1887.0 1218.6L1889.0 1220.6L1891.0 1221.3L1893.0 1220.9L1895.0 1220.0L1897.0 1220.2L1899.0 1218.3L1900.0 1220.1L1901.0 1222.5L1903.0 1222.6L1905.0 1221.7L1907.0 1220.7L1909.0 1223.4L1911.0 1220.8L1913.0 1220.0L1915.0 1218.5L1917.0 1219.3L1919.0 1219.4L1921.0 1218.9L1923.0 1220.8L1925.0 1219.8L1927.0 1219.9L1929.0 1218.6L1931.0 1219.6L1933.0 1219.2L1935.0 1219.3L1937.0 1217.4L1939.0 1218.7L1941.0 1219.9L1943.0 1221.9L1945.0 1219.7L1947.0 1218.3L1949.0 1218.9L1951.0 1220.1L1953.0 1219.5L1955.0 1217.9L1957.0 1217.3L1959.0 1217.8L1960.0 1216.8L1961.0 1217.8L1963.0 1218.6L1965.0 1219.3L1967.0 1216.7L1969.0 1215.6L1971.0 1215.8L1973.0 1218.0L1975.0 1218.2L1977.0 1219.2L1979.0 1218.6L1981.0 1218.2L1983.0 1214.6L1985.0 1213.4L1987.0 1212.8L1989.0 1215.2L1991.0 1216.6L1993.0 1219.2L1995.0 1219.4L1997.0 1218.0L1999.0 1218.9L2001.0 1219.2L2003.0 1220.0L2005.0 1217.6L2007.0 1216.1L2009.0 1216.9L2011.0 1217.5L2013.0 1220.2L2015.0 1220.6L2017.0 1221.1L2019.0 1220.8L2021.0 1219.5L2023.0 1218.3L2025.0 1217.1L2027.0 1216.2L2029.0 1216.5L2031.0 1216.2L2033.0 1218.0L2035.0 1218.1L2037.0 1216.7L2039.0 1216.1L2041.0 1217.4L2043.0 1217.5L2044.0 1216.8L2045.0 1217.5L2046.0 1219.9L2047.0 1171.6L2047.4 1152.2L2049.0 1133.8L2051.0 1117.1L2053.0 1100.0L2054.0 1091.1L2055.0 1097.7L2057.0 1113.9L2058.0 1124.0L2059.0 1141.1L2060.0 1156.0L2061.0 1168.5L2063.0 1195.2L2065.0 1187.7L2067.0 1178.9L2069.0 1170.9L2070.0 1168.7L2071.0 1178.1L2073.0 1184.7L2075.0 1193.3L2077.0 1200.8L2079.0 1209.0L2080.0 1213.9L2081.0 1209.8L2083.0 1201.1L2085.0 1191.7L2087.0 1179.6L2089.0 1174.5L2090.0 1168.5L2091.0 1169.1L2093.0 1168.7L2095.0 1171.1L2097.0 1175.9L2099.0 1179.6L2100.0 1178.0L2101.0 1173.2L2103.0 1168.7L2105.0 1168.8L2107.0 1166.5L2109.0 1168.2L2110.0 1167.8L2111.0 1170.4L2113.0 1171.4L2115.0 1178.0L2117.0 1185.2L2119.0 1184.8L2120.0 1184.6L2121.0 1192.1L2123.0 1218.8L2125.0 1208.7L2127.0 1207.4L2129.0 1196.4L2130.0 1201.0L2131.0 1197.5L2133.0 1201.0L2135.0 1204.1L2137.0 1207.6L2139.0 1176.6L2140.0 1156.8L2141.0 1154.0L2143.0 1147.7L2145.0 1143.6L2146.0 1142.9L2147.0 1158.0L2149.0 1178.3L2150.0 1185.3L2151.0 1173.7L2153.0 1165.1L2155.0 1156.1L2157.0 1168.4L2159.0 1176.2L2161.0 1180.5L2162.0 1181.8L2163.0 1164.7L2165.0 1151.0L2167.0 1138.3L2168.0 1134.1L2169.0 1133.9L2171.0 1136.2L2173.0 1147.9L2175.0 1163.4L2177.0 1175.5L2179.0 1180.6L2180.0 1174.7L2181.0 1170.8L2183.0 1185.1L2185.0 1209.4L2187.0 1203.5L2189.0 1194.0L2191.0 1182.3L2193.0 1178.9L2195.0 1185.5L2197.0 1193.7L2199.0 1202.1L2200.0 1205.6L2201.0 1204.7L2203.0 1203.9L2205.0 1197.9L2207.0 1190.0L2209.0 1183.0L2210.0 1188.9L2211.0 1193.6L2213.0 1198.3L2215.0 1196.0L2217.0 1201.1L2219.0 1199.9L2220.0 1204.0L2221.0 1203.9L2223.0 1208.8L2225.0 1213.0L2227.0 1217.1L2229.0 1216.8L2230.0 1216.7L2231.0 1210.4L2233.0 1216.1L2235.0 1222.6L2237.0 1229.9L2238.0 1229.5L2239.0 1217.3L2241.0 1207.4L2243.0 1194.3L2244.0 1190.5L2245.0 1191.7L2247.0 1199.8L2248.0 1202.4L2249.0 1204.2L2251.0 1203.2L2253.0 1210.6L2255.0 1213.6L2256.0 1214.9L2257.0 1209.4L2259.0 1203.3L2261.0 1202.4L2263.0 1195.7L2265.0 1195.8L2267.0 1189.9L2269.0 1190.1L2270.0 1194.2L2271.0 1203.4L2273.0 1199.6L2275.0 1196.2L2277.0 1192.5L2279.0 1191.5L2280.0 1190.5L2281.0 1191.0L2283.0 1190.8L2285.0 1197.2L2287.0 1195.7L2289.0 1200.0L2290.0 1195.8L2291.0 1197.4L2293.0 1200.8L2295.0 1206.4L2297.0 1214.1L2299.0 1216.4L2300.0 1213.7L2301.0 1208.4L2303.0 1195.7L2305.0 1189.6L2307.0 1182.9L2309.0 1182.4L2311.0 1173.5L2313.0 1162.5L2315.0 1174.7L2317.0 1185.7L2319.0 1194.6L2321.0 1179.1L2323.0 1172.4L2325.0 1171.7L2327.0 1166.9L2329.0 1176.8L2331.0 1181.2L2333.0 1189.3L2334.0 1192.1L2335.0 1187.7L2337.0 1181.5L2339.0 1172.2L2341.0 1165.7L2342.0 1163.8L2343.0 1167.2L2345.0 1178.2L2347.0 1183.5L2349.0 1194.5L2350.0 1197.5L2351.0 1201.5L2353.0 1200.0L2355.0 1199.7L2357.0 1199.3L2359.0 1187.1L2361.0 1179.5L2363.0 1163.6L2365.0 1166.5L2367.0 1169.3L2369.0 1176.7L2371.0 1176.2L2373.0 1171.5L2375.0 1182.8L2377.0 1191.3L2379.0 1201.3L2380.0 1198.1L2381.0 1196.7L2383.0 1192.7L2385.0 1191.0L2387.0 1187.1L2388.0 1187.2L2389.0 1189.0L2391.0 1197.1L2393.0 1199.4L2395.0 1204.0L2397.0 1200.2L2399.0 1201.7L2401.0 1203.3L2403.0 1200.1L2405.0 1198.4L2407.0 1202.2L2409.0 1204.4L2411.0 1211.7L2412.0 1213.2L2413.0 1215.5L2415.0 1212.7L2417.0 1212.6L2419.0 1217.6L2420.0 1210.7L2421.0 1207.1L2423.0 1196.9L2425.0 1200.8L2427.0 1198.9L2428.0 1193.3L2429.0 1192.4L2431.0 1189.9L2432.0 1192.7" stroke="#c8c8c8" stroke-width="8" fill="none" stroke-linejoin="round" stroke-linecap="round"/>
<path d="M378 1221h0M389 1228h0M398 1234h0M406 1235h0M418 1235h0M430 1235h0M442 1235h0M450 1236h0M462 1238h0M470 1239h0M482 1240h0M491 1240h0M502 1239h0M514 1238h0M526 1238h0M537 1238h0M546 1238h0M558 1239h0M566 1238h0M578 1237h0M586 1237h0M598 1236h0M643 1232h0M649 1231h0M655 1233h0M661 1232h0M667 1232h0M673 1233h0M679 1229h0M685 1234h0M691 1237h0M697 1232h0M703 1232h0M709 1231h0M715 1231h0M721 1230h0M727 1230h0M733 1231h0M739 1233h0M745 1230h0M751 1231h0M757 1230h0M763 1229h0M769 1233h0M775 1233h0M781 1233h0M787 1234h0M793 1227h0M799 1232h0M803 1230h0M809 1230h0M815 1229h0M821 1228h0M827 1232h0M833 1229h0M839 1227h0M845 1229h0M851 1230h0M857 1231h0M863 1231h0M869 1229h0M875 1229h0M881 1230h0M887 1231h0M893 1231h0M899 1231h0M903 1230h0M909 1228h0M915 1231h0M921 1228h0M927 1233h0M933 1230h0M939 1231h0M945 1227h0M951 1227h0M957 1225h0M963 1227h0M969 1228h0M975 1226h0M981 1224h0M987 1228h0M993 1227h0M999 1225h0M1003 1225h0M1009 1226h0M1015 1222h0M1021 1225h0M1027 1223h0M1033 1225h0M1039 1223h0M1045 1225h0M1051 1222h0M1057 1221h0M1063 1222h0M1069 1220h0M1075 1223h0M1081 1220h0M1087 1219h0M1093 1218h0M1099 1220h0M1103 1222h0M1109 1217h0M1115 1222h0M1121 1218h0M1127 1220h0M1133 1221h0M1139 1219h0M1145 1221h0M1151 1220h0M1157 1217h0M1163 1221h0M1169 1223h0M1175 1220h0M1181 1219h0M1187 1217h0M1193 1217h0M1199 1219h0M1205 1221h0M1211 1219h0M1217 1218h0M1223 1219h0M1229 1219h0M1235 1219h0M1241 1219h0M1247 1216h0M1253 1218h0M1259 1221h0M1265 1218h0M1271 1222h0M1277 1222h0M1283 1218h0M1289 1218h0M1295 1220h0M1300 1219h0M1305 1219h0M1311 1220h0M1317 1220h0M1323 1218h0M1329 1218h0M1335 1219h0M1341 1221h0M1347 1219h0M1353 1217h0M1359 1220h0M1365 1220h0M1371 1218h0M1377 1219h0M1383 1221h0M1389 1217h0M1395 1216h0M1401 1220h0M1407 1218h0M1413 1219h0M1419 1220h0M1425 1220h0M1431 1219h0M1437 1218h0M1443 1219h0M1449 1220h0M1455 1219h0M1461 1223h0M1467 1219h0M1473 1219h0M1479 1218h0M1485 1216h0M1491 1216h0M1497 1218h0M1503 1217h0M1509 1219h0M1515 1219h0M1521 1220h0M1527 1219h0M1533 1219h0M1539 1219h0M1543 1219h0M1548 1222h0M1553 1227h0M1557 1228h0M1563 1227h0M1569 1222h0M1573 1220h0M1579 1223h0M1585 1220h0M1591 1222h0M1597 1218h0M1603 1222h0M1609 1220h0M1615 1221h0M1621 1219h0M1627 1221h0M1633 1222h0M1639 1221h0M1645 1221h0M1651 1217h0M1657 1219h0M1663 1219h0M1669 1218h0M1675 1217h0M1681 1216h0M1687 1218h0M1693 1219h0M1699 1214h0M1703 1217h0M1708 1217h0M1711 1202h0M1715 1205h0M1719 1193h0M1723 1191h0M1727 1185h0M1733 1193h0M1738 1179h0M1742 1192h0M1747 1185h0M1751 1198h0M1757 1178h0M1761 1189h0M1767 1185h0M1772 1173h0M1776 1202h0M1781 1185h0M1787 1188h0M1791 1192h0M1795 1197h0M1800 1212h0M1805 1222h0M1809 1226h0M1813 1230h0M1819 1228h0M1823 1224h0M1829 1222h0M1835 1219h0M1841 1220h0M1847 1220h0M1853 1219h0M1859 1220h0M1865 1218h0M1871 1222h0M1877 1219h0M1883 1218h0M1889 1221h0M1895 1220h0M1900 1220h0M1905 1222h0M1911 1221h0M1917 1219h0M1923 1221h0M1929 1219h0M1935 1219h0M1941 1220h0M1947 1218h0M1953 1220h0M1959 1218h0M1963 1219h0M1969 1216h0M1975 1218h0M1981 1218h0M1987 1213h0M1993 1219h0M1999 1219h0M2005 1218h0M2011 1217h0M2017 1221h0M2023 1218h0M2029 1216h0M2035 1218h0M2041 1217h0M2045 1217h0M2047 1152h0M2053 1100h0M2057 1114h0M2060 1156h0M2065 1188h0M2070 1169h0M2075 1193h0M2080 1214h0M2085 1192h0M2090 1169h0M2095 1171h0M2100 1178h0M2105 1169h0M2110 1168h0M2115 1178h0M2120 1185h0M2125 1209h0M2130 1201h0M2135 1204h0M2140 1157h0M2145 1144h0M2149 1178h0M2153 1165h0M2159 1176h0M2163 1165h0M2168 1134h0M2173 1148h0M2179 1181h0M2183 1185h0M2189 1194h0M2195 1186h0M2200 1206h0M2205 1198h0M2210 1189h0M2215 1196h0M2220 1204h0M2225 1213h0M2230 1217h0M2235 1223h0M2239 1217h0M2244 1191h0M2248 1202h0M2253 1211h0M2257 1209h0M2263 1196h0M2269 1190h0M2273 1200h0M2279 1192h0M2283 1191h0M2289 1200h0M2293 1201h0M2299 1216h0M2303 1196h0M2309 1182h0M2315 1175h0M2321 1179h0M2327 1167h0M2333 1189h0M2337 1181h0M2342 1164h0M2347 1184h0M2351 1201h0M2357 1199h0M2363 1164h0M2369 1177h0M2375 1183h0M2380 1198h0M2385 1191h0M2389 1189h0M2395 1204h0M2401 1203h0M2407 1202h0M2412 1213h0M2417 1213h0M2421 1207h0M2427 1199h0M2431 1190h0" stroke="#d6d6d6" stroke-width="5" stroke-linecap="round" fill="none"/>
<line x1="1573.3" y1="1210.8" x2="1573.3" y2="1233.4" stroke="#1e90ff" stroke-width="5.5"/>
<line x1="443.5" y1="1121.3" x2="467" y2="1121.3" stroke="#808080" stroke-width="13.5" stroke-linecap="round"/>
<line x1="698" y1="1121.3" x2="722.3" y2="1121.3" stroke="#c8c8c8" stroke-width="13.5" stroke-linecap="round"/>
<circle cx="455" cy="1121.3" r="2" fill="#707070"/>
<circle cx="710" cy="1121.3" r="2.6" fill="#dcdcdc"/>
<defs><clipPath id="cm0"><rect x="377.5" y="1785.5" width="638.0" height="638.0"/></clipPath><clipPath id="cb0"><rect x="377.5" y="2826.8" width="638.0" height="637.6999999999998"/></clipPath><clipPath id="cm1"><rect x="1086.4" y="1785.5" width="638.0999999999999" height="638.0"/></clipPath><clipPath id="cb1"><rect x="1086.4" y="2826.8" width="638.0999999999999" height="637.6999999999998"/></clipPath><clipPath id="cm2"><rect x="1794.7" y="1785.5" width="637.8" height="638.0"/></clipPath><clipPath id="cb2"><rect x="1794.7" y="2826.8" width="637.8" height="637.6999999999998"/></clipPath></defs>
<path d="M507 2247h0m4-4h0m3-8h0m0 7h0m2-8h0m0 30h0m2-56h0m0 4h0m0 16h0m1-13h0m1 32h0m0 3h0m3-27h0m1 4h0m1 14h0m0 7h0m1-32h0m0 23h0m0 29h0m1-60h0m2 2h0m0 50h0m1-51h0m0 35h0m1-1h0m0 21h0m1-68h0m0 7h0m4-28h0m0 70h0m2-65h0m2-15h0m0 86h0m2-49h0m2-39h0m0 43h0m0 39h0m1-86h0m0 27h0m0 34h0m2-40h0m1 68h0m2-96h0m0 76h0m1 2h0m0 25h0m1 4h0m1-99h0m1 60h0m2-72h0m0 94h0m0 34h0m1-38h0m4-95h0m0 109h0m1-55h0m0 69h0m1-67h0m0 43h0m1-100h0m0 9h0m1-4h0m0 14h0m1-25h0m0 125h0m0 29h0m1-145h0m1 34h0m0 86h0m0 18h0m0 5h0m2-142h0m0 4h0m1 44h0m1 65h0m1-38h0m1-53h0m0 35h0m0 16h0m0 4h0m2 49h0m2-67h0m1 17h0m0 62h0m1-34h0m0 23h0m1-104h0m1-22h0m0 38h0m0 34h0m0 72h0m1-121h0m0 74h0m1-120h0m0 99h0m0 4h0m0 22h0m0 24h0m1-121h0m1-13h0m0 64h0m0 54h0m2-69h0m1 80h0m1-151h0m0 26h0m2-7h0m0 116h0m0 18h0m1-138h0m0 36h0m0 79h0m1 19h0m1-64h0m2 16h0m1-110h0m0 114h0m0 58h0m1-141h0m0 63h0m2-89h0m0 106h0m2-29h0m0 49h0m0 27h0m1-134h0m0 68h0m1-108h0m0 5h0m2 152h0m0 6h0m1-85h0m1 10h0m1-31h0m1-1h0m0 28h0m1-27h0m1-16h0m0 43h0m0 59h0m1-144h0m0 132h0m2-26h0m1-110h0m0 21h0m0 74h0m1-23h0m0 72h0m1-125h0m0 7h0m0 16h0m0 125h0m1-134h0m0 19h0m0 95h0m0 19h0m1-167h0m0 71h0m1 77h0m1-22h0m2-33h0m0 39h0m1-22h0m1-59h0m1-57h0m0 62h0m0 36h0m3-78h0m0 71h0m1-87h0m0 111h0m1-38h0m1-72h0m0 40h0m4-45h0m0 131h0m1-106h0m0 148h0m1-117h0m0 53h0m0 20h0m0 12h0m1 22h0m2-4h0m1-149h0m0 4h0m0 59h0m1-31h0m0 79h0m1 5h0m1-108h0m0 4h0m1 0h0m0 10h0m0 10h0m0 35h0m0 65h0m1-130h0m2 38h0m0 4h0m0 45h0m0 69h0m1-119h0m0 39h0m1-109h0m0 10h0m1-18h0m0 152h0m1-44h0m0 5h0m1-5h0m0 42h0m1-103h0m0 101h0m1-89h0m0 82h0m1-107h0m0 51h0m0 39h0m1 17h0m1-119h0m0 29h0m0 23h0m0 60h0m1-120h0m0 32h0m0 61h0m1-81h0m0 139h0m1-115h0m0 35h0m0 44h0m1-134h0m0 15h0m1 35h0m0 6h0m0 22h0m2 26h0m1-64h0m0 25h0m1-67h0m0 82h0m2-13h0m0 12h0m1-54h0m0 7h0m0 24h0m0 72h0m1-84h0m0 75h0m1-98h0m0 76h0m0 3h0m0 40h0m0 10h0m1-40h0m1-47h0m0 48h0m1-90h0m0 95h0m1-101h0m1 9h0m1-24h0m1-11h0m0 84h0m1-68h0m0 10h0m1 14h0m0 67h0m2-64h0m0 44h0m3-15h0m0 5h0m3-14h0m1-76h0m0 54h0m3-63h0m0 107h0m2-100h0m0 4h0m1-15h0m0 82h0m0 6h0m2 10h0m0 4h0m1-30h0m0 15h0m1-76h0m0 48h0m0 4h0m0 36h0m1-100h0m0 108h0m1-28h0m1-73h0m0 9h0m0 89h0m1-37h0m1-6h0m1-49h0m2-1h0m0 40h0m1-58h0m0 96h0m0 2h0m0 1h0m2-97h0m0 86h0m2-50h0m3-20h0m0 31h0m0 34h0m1-96h0m0 88h0m0 10h0m1 13h0m1-101h0m1 59h0m1-38h0m0 93h0m1 8h0m1-134h0m1 52h0m0 60h0m1-61h0m0 60h0m1-52h0m2-39h0m0 57h0m2-64h0m0 24h0m0 35h0m0 12h0m2 28h0m2-92h0m1-20h0m2-17h0m0 39h0m1 22h0m0 5h0m0 60h0m1-46h0m0 23h0m1 38h0m2-114h0m0 29h0m0 77h0m1 5h0m1-10h0m5-106h0m0 40h0m0 58h0m1-134h0m0 3h0m0 1h0m1 126h0m1-72h0m1 89h0m2-20h0m1-128h0m0 22h0m0 22h0m0 7h0m0 82h0m1-132h0m0 42h0m0 28h0m1-38h0m0 25h0m0 68h0m1-115h0m0 25h0m0 50h0m1-60h0m0 26h0m0 12h0m0 21h0m1-36h0m0 73h0m1-98h0m1-10h0m0 106h0m1 27h0m2-92h0m0 14h0m1-50h0m0 130h0m1-140h0m0 63h0m0 47h0m1-71h0m1-43h0m2-16h0m0 36h0m0 26h0m1 4h0m0 64h0m1-90h0m1 104h0m1-67h0m1 55h0m0 12h0m1-150h0m0 13h0m0 38h0m1 102h0m1-162h0m0 96h0m0 70h0m1-114h0m0 24h0m2-57h0m0 143h0m1-130h0m0 108h0m3-104h0m0 5h0m1 33h0m1-79h0m0 116h0m1 26h0m0 21h0m1-138h0m0 48h0m0 41h0m0 27h0m1-56h0m0 39h0m0 7h0m1-110h0m0 81h0m1-32h0m1-44h0m0 10h0m1-10h0m1-25h0m0 143h0m0 10h0m1-15h0m1-49h0m2-57h0m0 76h0m1 31h0m1-95h0m0 10h0m0 57h0m0 10h0m0 44h0m1-106h0m0 114h0m2-8h0m0 6h0m2-27h0m1-91h0m2-62h0m0 182h0m1-162h0m1-12h0m0 28h0m0 29h0m0 39h0m1-13h0m0 22h0m0 56h0m0 6h0m1-184h0m0 88h0m0 59h0m0 24h0m0 1h0m1-173h0m0 14h0m2 4h0m0 71h0m0 83h0m1-96h0m0 67h0m1-45h0m1-40h0m0 55h0m0 10h0m0 12h0m1-81h0m0 22h0m0 70h0m1-151h0m1 9h0m0 16h0m0 18h0m1 16h0m0 27h0m0 97h0m1-112h0m0 8h0m1 109h0m0 2h0m1-84h0m1 46h0m2-95h0m0 94h0m1 32h0m1-151h0m0 15h0m2-28h0m0 3h0m1 3h0m0 110h0m2 37h0m0 7h0m1-134h0m2 130h0m1-165h0m1 13h0m1 6h0m0 128h0m1-145h0m0 16h0m2-13h0m0 53h0m2 100h0m1-155h0m0 124h0m1-148h0m1 6h0m0 1h0m0 50h0m1 120h0m1-171h0m0 22h0m0 30h0m1-39h0m0 23h0m1-22h0m0 12h0m0 41h0m2-67h0m0 30h0m0 35h0m1-26h0m0 20h0m1-19h0m2-53h0m0 44h0m0 40h0m1-41h0m0 37h0m0 94h0m4-154h0m0 56h0m2-66h0m0 110h0m2-120h0m2 21h0m1 62h0m1-71h0m1 36h0m0 51h0m2-95h0m0 86h0m0 9h0m0 55h0m1-141h0m0 46h0m0 15h0m1 78h0m1-157h0m0 25h0m0 11h0m0 8h0m1-26h0m0 13h0m0 24h0m1 75h0m1-14h0m1-97h0m1-2h0m0 77h0m0 50h0m1-134h0m0 72h0m2 35h0m1 0h0m1-40h0m0 16h0m0 6h0m1 13h0m2-96h0m2 42h0m0 16h0m0 2h0m1-53h0m0 28h0m6-5h0m1-5h0m3 11h0m2-21h0m2 24h0m2-29h0" stroke="#008000" stroke-width="18.0" stroke-linecap="round" fill="none" clip-path="url(#cm0)"/>
<path d="M1193 2230h0m19-2h0m3 4h0m4-55h0m2 38h0m1-41h0m3 82h0m2-16h0m1-23h0m0 10h0m0 3h0m1-29h0m2 21h0m2-47h0m0 16h0m0 58h0m2 9h0m2-36h0m0 45h0m1 10h0m1-7h0m1-116h0m0 92h0m0 25h0m0 2h0m1-10h0m1-43h0m3 31h0m1-9h0m1 39h0m1-104h0m0 24h0m1-47h0m0 32h0m3-8h0m0 27h0m0 42h0m0 4h0m0 39h0m2-49h0m1 3h0m0 45h0m1-67h0m0 61h0m1-60h0m0 13h0m2-14h0m1 11h0m1-85h0m0 110h0m0 1h0m1-9h0m2-99h0m0 110h0m3-7h0m0 32h0m1-132h0m1-9h0m0 87h0m2-19h0m1 81h0m0 9h0m2-29h0m1-83h0m1 72h0m1-48h0m1 12h0m1-89h0m0 28h0m0 60h0m0 7h0m1 12h0m0 2h0m0 57h0m2-16h0m1-119h0m1 31h0m0 66h0m3-151h0m0 127h0m1 37h0m0 24h0m1-156h0m0 115h0m1-34h0m2 28h0m0 11h0m1-73h0m2-93h0m0 59h0m0 50h0m0 12h0m0 12h0m0 61h0m1-181h0m0 87h0m0 64h0m1-90h0m0 51h0m1-85h0m0 23h0m1 40h0m0 73h0m1-15h0m1-59h0m1-108h0m0 72h0m1 98h0m1-140h0m1 97h0m1-49h0m1-56h0m0 56h0m0 9h0m1-27h0m1-1h0m1 83h0m0 7h0m0 42h0m1-58h0m1-119h0m0 72h0m1-81h0m0 82h0m0 36h0m0 20h0m1-120h0m0 52h0m0 57h0m0 51h0m1-100h0m1-50h0m2-9h0m0 53h0m0 35h0m1-51h0m3-31h0m0 47h0m0 33h0m2 18h0m3-6h0m1-63h0m1 17h0m1-16h0m0 72h0m1-40h0m0 41h0m2-53h0m0 7h0m3 5h0m0 42h0m0 4h0m0 16h0m1-136h0m0 26h0m0 27h0m0 43h0m0 10h0m2-93h0m3 26h0m1 25h0m1 13h0m1-63h0m1 92h0m3 0h0m1-34h0m0 12h0m0 4h0m1-28h0m2 35h0m0 27h0m1-71h0m0 28h0m1-86h0m0 44h0m1-37h0m0 19h0m1 36h0m1-55h0m0 62h0m1-92h0m0 51h0m0 58h0m0 41h0m1-134h0m0 78h0m1-65h0m2-20h0m0 66h0m0 10h0m1-97h0m0 89h0m0 4h0m2-72h0m0 34h0m1-6h0m1-42h0m0 114h0m1-98h0m1 39h0m0 45h0m1-67h0m0 23h0m1-34h0m1 74h0m0 1h0m2-57h0m1 40h0m0 6h0m1-74h0m3 29h0m1-7h0m1-50h0m1 30h0m1 5h0m1-40h0m0 42h0m1 72h0m2-121h0m0 72h0m0 81h0m1-91h0m0 35h0m1-136h0m0 79h0m1-23h0m0 73h0m1-5h0m1 3h0m0 28h0m1-155h0m0 69h0m0 21h0m1 22h0m1 61h0m1-157h0m1 132h0m0 6h0m1-93h0m1 137h0m1-135h0m0 87h0m2-77h0m1 58h0m1-96h0m1 129h0m1-133h0m1 25h0m0 18h0m0 11h0m0 58h0m0 34h0m1-52h0m0 9h0m1-68h0m0 52h0m1 15h0m1-87h0m2 48h0m1-119h0m0 156h0m3-49h0m1 37h0m0 38h0m1-120h0m0 79h0m1-91h0m0 84h0m1-52h0m1 41h0m2-70h0m0 77h0m0 4h0m1-69h0m1 4h0m0 14h0m1-2h0m0 31h0m0 3h0m1-50h0m0 28h0m0 82h0m1-131h0m0 132h0m1-117h0m3-28h0m0 58h0m1-54h0m0 94h0m1-53h0m0 52h0m1-8h0m1-1h0m1-52h0m2-38h0m1 62h0m0 103h0m1-157h0m1-48h0m0 52h0m0 56h0m1 40h0m1-68h0m0 65h0m0 13h0m1-171h0m0 54h0m0 46h0m0 16h0m0 38h0m2-106h0m1 11h0m0 74h0m2-30h0m0 23h0m1-110h0m0 73h0m0 40h0m1-37h0m2 91h0m2-169h0m1 24h0m0 128h0m1-115h0m0 37h0m1-23h0m1 42h0m1-92h0m0 13h0m0 18h0m1 53h0m0 1h0m1-84h0m0 52h0m0 26h0m0 4h0m0 8h0m0 95h0m0 11h0m2-225h0m1 14h0m1-58h0m1 113h0m0 20h0m1 8h0m0 4h0m1-101h0m1 53h0m0 9h0m0 130h0m1 7h0m2-94h0m0 17h0m1-85h0m0 3h0m0 17h0m1-9h0m0 29h0m0 4h0m0 22h0m0 1h0m0 16h0m1-87h0m0 39h0m2-18h0m3-28h0m2-24h0m0 65h0m0 16h0m0 39h0m2-104h0m0 73h0m1-6h0m2-86h0m0 70h0m1-5h0m0 14h0m0 22h0m1-35h0m2-87h0m0 130h0m1-115h0m0 97h0m1-26h0m0 76h0m1-83h0m0 40h0m1-129h0m1 92h0m0 20h0m1-128h0m0 191h0m1-130h0m0 56h0m0 23h0m0 4h0m2-141h0m0 101h0m0 34h0m0 36h0m0 6h0m1-113h0m2-35h0m0 42h0m2 16h0m1-43h0m2 80h0m0 35h0m1-23h0m0 12h0m1-140h0m0 63h0m1-73h0m0 150h0m2-99h0m0 52h0m1 55h0m0 16h0m1-141h0m0 121h0m1-140h0m0 89h0m1-102h0m0 34h0m0 67h0m1-42h0m1-64h0m0 190h0m3-44h0m1-117h0m0 35h0m0 33h0m0 13h0m2-149h0m0 80h0m0 119h0m1 41h0m1-134h0m1 44h0m0 9h0m1-71h0m1-54h0m0 94h0m1 61h0m2-7h0m1-37h0m2-60h0m4-31h0m1 105h0m0 3h0m2-53h0m3-70h0m0 67h0m0 30h0m1-116h0m0 81h0m1-68h0m0 73h0m0 19h0m2-87h0m0 24h0m2 78h0m1-106h0m0 68h0m1-67h0m1 188h0m1-175h0m1-34h0m1 75h0m2 37h0m4-82h0m2-21h0m1 117h0m2-110h0m1 59h0m1 62h0m2-97h0m2-20h0m0 177h0m2-112h0m1-96h0m0 29h0m4 73h0m1 10h0m0 56h0m4-78h0m0 112h0m2-185h0m0 89h0m7 78h0m4-143h0m0 7h0m10 18h0m2-19h0" stroke="#ff0000" stroke-width="18.0" stroke-linecap="round" fill="none" clip-path="url(#cm1)"/>
<path d="M1835 2251h0m6 12h0m4-19h0m5 19h0m4-4h0m1-34h0m0 96h0m10-64h0m1 62h0m4-41h0m0 2h0m1-7h0m1 24h0m4-69h0m2-35h0m1 124h0m5 35h0m3-80h0m0 41h0m6-51h0m1 88h0m2-54h0m1 13h0m1-105h0m0 58h0m0 6h0m1 76h0m2-76h0m1 38h0m1-64h0m2 22h0m0 21h0m2-42h0m1-2h0m1 86h0m5-79h0m1 61h0m2-53h0m2 5h0m1-10h0m0 94h0m3-61h0m1-11h0m0 22h0m0 35h0m0 19h0m1-87h0m2-26h0m1-90h0m0 57h0m0 109h0m1-8h0m2-88h0m2 144h0m1 3h0m1-148h0m0 94h0m1-66h0m3-91h0m1 118h0m0 63h0m1-17h0m2-70h0m0 29h0m1-20h0m0 28h0m0 71h0m1-164h0m4 85h0m1-29h0m0 104h0m2-20h0m1-139h0m1-12h0m0 64h0m0 47h0m1-87h0m1-23h0m1 9h0m0 37h0m1-28h0m0 29h0m1 28h0m0 9h0m1-99h0m0 62h0m0 29h0m1-88h0m1-1h0m0 55h0m1-54h0m0 171h0m2-54h0m1-95h0m0 17h0m0 31h0m1 16h0m1-97h0m2 162h0m2-32h0m1-198h0m1 124h0m1-95h0m2 73h0m1 50h0m3-18h0m1 32h0m1-54h0m2 27h0m0 20h0m1-119h0m2-40h0m0 91h0m0 16h0m1-8h0m1-9h0m0 78h0m0 42h0m1-164h0m0 73h0m1-12h0m0 10h0m0 6h0m3-96h0m1 88h0m2 1h0m1-80h0m0 59h0m1 11h0m1-24h0m0 57h0m2-20h0m0 86h0m1-101h0m0 45h0m0 65h0m1-13h0m1-170h0m0 45h0m0 27h0m3-31h0m0 26h0m1 48h0m2-51h0m2 40h0m0 40h0m3-145h0m0 56h0m4 74h0m1-77h0m0 61h0m0 80h0m1-175h0m0 132h0m1-234h0m1 173h0m1-33h0m0 73h0m2-56h0m0 77h0m2-83h0m2 25h0m0 29h0m1-124h0m0 91h0m1-91h0m1 132h0m1 28h0m1-45h0m1-200h0m1 238h0m1-163h0m2 2h0m1-5h0m0 2h0m0 88h0m4-80h0m0 73h0m0 91h0m1-112h0m0 27h0m1-28h0m0 58h0m1-21h0m1-68h0m0 56h0m2-71h0m1 30h0m2-18h0m2 31h0m1-116h0m0 81h0m0 61h0m2-77h0m0 10h0m0 73h0m0 12h0m1-79h0m1-3h0m1-40h0m0 35h0m0 110h0m1-131h0m2-104h0m0 146h0m0 96h0m1-89h0m0 31h0m0 19h0m0 12h0m1-32h0m1-12h0m1 82h0m1-73h0m1-103h0m4 131h0m0 72h0m1-117h0m0 16h0m3-116h0m2 58h0m1 71h0m2-95h0m1 11h0m0 49h0m0 25h0m0 4h0m1-67h0m0 33h0m1 2h0m0 68h0m1-113h0m1 24h0m1-57h0m0 163h0m1-174h0m1 57h0m0 31h0m1-40h0m0 46h0m0 60h0m3-81h0m0 107h0m1-51h0m2-21h0m1-201h0m0 71h0m0 48h0m0 10h0m1-3h0m1-24h0m0 119h0m1-104h0m0 21h0m0 21h0m1-19h0m1-53h0m1 37h0m1-20h0m1 25h0m1-83h0m0 37h0m0 19h0m0 4h0m0 38h0m1 103h0m1-98h0m2-96h0m0 10h0m1 43h0m1 117h0m2-48h0m1-21h0m0 47h0m1-124h0m0 31h0m0 101h0m1-29h0m1-107h0m1 9h0m0 61h0m2-135h0m0 128h0m0 13h0m1-19h0m0 34h0m1 30h0m0 73h0m1-117h0m1 12h0m1 4h0m1-147h0m0 69h0m0 78h0m3-33h0m0 69h0m2-71h0m0 21h0m0 17h0m1-66h0m1 0h0m0 133h0m1-89h0m2-77h0m0 29h0m0 44h0m0 30h0m2-233h0m0 121h0m0 112h0m1-3h0m1-72h0m0 138h0m1-22h0m1-254h0m0 134h0m1-15h0m0 48h0m2-95h0m0 47h0m5-42h0m0 9h0m0 114h0m1-88h0m1-107h0m0 2h0m0 124h0m0 12h0m0 11h0m0 19h0m1 10h0m1-12h0m1-85h0m0 72h0m1-11h0m0 20h0m0 38h0m0 10h0m1-65h0m1-87h0m0 76h0m0 60h0m1-205h0m1 3h0m0 24h0m0 134h0m0 8h0m3-109h0m0 16h0m0 111h0m0 132h0m1-243h0m0 140h0m1-123h0m0 47h0m1 2h0m0 4h0m1-62h0m1 10h0m0 19h0m0 29h0m1-125h0m0 84h0m1 1h0m0 40h0m0 5h0m3 2h0m2-46h0m0 86h0m0 8h0m1 8h0m1-128h0m1-4h0m1 21h0m1-44h0m1 2h0m0 22h0m0 8h0m0 9h0m1 62h0m0 39h0m0 31h0m2-81h0m1-93h0m1-34h0m1-16h0m0 9h0m0 103h0m0 106h0m1-136h0m0 90h0m1-15h0m1-168h0m0 135h0m1 17h0m0 65h0m1-232h0m0 6h0m1 39h0m0 19h0m0 31h0m0 100h0m0 36h0m3-150h0m0 4h0m0 2h0m2 85h0m1-172h0m0 81h0m0 15h0m0 33h0m2-106h0m0 139h0m0 16h0m1-126h0m0 101h0m1-66h0m0 16h0m0 97h0m1-66h0m0 14h0m0 30h0m0 20h0m1-144h0m0 12h0m0 106h0m2-30h0m0 3h0m1-40h0m0 46h0m0 183h0m1-215h0m1-73h0m0 48h0m1-72h0m0 22h0m0 57h0m0 62h0m1 52h0m1-109h0m0 38h0m1-117h0m0 24h0m2-61h0m1 67h0m0 114h0m1-147h0m0 15h0m0 107h0m1-54h0m0 2h0m1-57h0m0 22h0m1-25h0m0 70h0m0 7h0m0 26h0m1-19h0m1-20h0m2-50h0m0 125h0m1-113h0m1 16h0m0 88h0m1-159h0m0 165h0m1-102h0m1 2h0m2 51h0m1-64h0m1 11h0m3 90h0m2-88h0m1 29h0m0 6h0m0 11h0m1 30h0m2-57h0m1-50h0m0 22h0m0 55h0m1-35h0m1-31h0m0 33h0m0 19h0m1-7h0m1-67h0m0 6h0m1 73h0m1 2h0m0 201h0m1-273h0m0 1h0m1 67h0m1-40h0m6 39h0m1-75h0m8 67h0m7-10h0m4 42h0m2 151h0m4-132h0m2-96h0m6 161h0m4 33h0m3-141h0m20-49h0m0 18h0" stroke="#0080ff" stroke-width="18.0" stroke-linecap="round" fill="none" clip-path="url(#cm2)"/>
<path d="M494 3380h0m1 8h0m3 15h0m2 8h0m1-38h0m0 1h0m1 33h0m1-4h0m1-9h0m0 5h0m2 19h0m1-49h0m0 44h0m2-55h0m0 2h0m0 20h0m0 12h0m0 21h0m0 10h0m1-30h0m0 11h0m1-11h0m0 16h0m0 13h0m1-36h0m0 13h0m0 17h0m0 9h0m1-32h0m1 6h0m1-22h0m0 37h0m1-2h0m0 6h0m1-4h0m1-19h0m0 1h0m0 17h0m1-37h0m0 3h0m0 27h0m1 6h0m0 2h0m1-47h0m0 6h0m0 1h0m0 23h0m2-1h0m0 25h0m1-57h0m0 12h0m0 15h0m0 28h0m1-79h0m0 54h0m0 5h0m1-32h0m0 20h0m1-22h0m0 9h0m0 9h0m0 24h0m1-49h0m1-13h0m0 34h0m0 25h0m2-70h0m0 22h0m0 41h0m1-30h0m0 35h0m1-35h0m0 40h0m1-65h0m0 13h0m0 1h0m1 15h0m0 5h0m1-46h0m0 59h0m0 2h0m1-53h0m0 40h0m1-48h0m0 15h0m0 25h0m1 11h0m0 34h0m1-83h0m0 8h0m0 10h0m0 18h0m0 31h0m0 15h0m1-83h0m0 53h0m1-32h0m1 5h0m0 6h0m0 46h0m1-79h0m0 69h0m0 7h0m1-65h0m0 49h0m0 7h0m0 21h0m1-47h0m0 17h0m1-51h0m0 15h0m0 5h0m0 7h0m0 36h0m1-32h0m0 3h0m1-18h0m0 58h0m1-96h0m0 93h0m1-93h0m0 1h0m0 41h0m1-39h0m0 9h0m1 7h0m0 18h0m0 39h0m1-49h0m0 12h0m0 40h0m2-84h0m0 56h0m1-47h0m0 10h0m0 8h0m0 11h0m0 21h0m1-51h0m0 24h0m0 14h0m0 10h0m0 27h0m0 15h0m1-82h0m0 31h0m1-43h0m0 52h0m0 35h0m3-76h0m0 7h0m0 66h0m1-84h0m0 50h0m0 23h0m1-53h0m0 50h0m1-82h0m0 9h0m0 34h0m0 57h0m1-35h0m0 32h0m2-39h0m0 1h0m1-27h0m0 40h0m1-33h0m1-38h0m1-5h0m0 15h0m0 28h0m0 34h0m1-65h0m0 5h0m1 23h0m0 36h0m2-48h0m0 28h0m0 1h0m1-17h0m1-16h0m0 7h0m0 32h0m3-48h0m0 27h0m1-53h0m1 38h0m3-17h0m0 27h0m2-49h0m0 36h0m0 8h0m1-20h0m0 22h0m2-42h0m1 89h0m1-88h0m0 26h0m1 2h0m2 8h0m0 6h0m1-42h0m0 8h0m0 17h0m1-41h0m0 27h0m1-29h0m0 14h0m0 22h0m0 78h0m1-109h0m0 7h0m1 16h0m0 5h0m0 11h0m0 2h0m0 4h0m0 2h0m0 5h0m1-58h0m0 34h0m0 24h0m2-10h0m1-47h0m1 2h0m0 32h0m0 68h0m1-106h0m0 19h0m0 20h0m0 16h0m1-41h0m0 33h0m1-27h0m1-5h0m0 2h0m2 21h0m1-41h0m0 13h0m0 12h0m0 4h0m1-12h0m0 7h0m1 27h0m0 42h0m1-42h0m2-35h0m1 11h0m0 4h0m0 6h0m1-18h0m1 14h0m0 37h0m3-35h0m1-39h0m0 14h0m2-2h0m0 18h0m1-11h0m0 1h0m0 24h0m1-21h0m0 28h0m1-26h0m1 16h0m0 4h0m0 5h0m2-25h0m3-34h0m1-2h0m1 42h0m1-34h0m0 24h0m1-8h0m0 3h0m0 15h0m0 11h0m0 36h0m1-45h0m0 11h0m0 53h0m1-59h0m1-19h0m0 9h0m1-3h0m0 10h0m1 5h0m1-32h0m0 5h0m3-1h0m0 25h0m1-23h0m0 24h0m1-22h0m1-25h0m1 15h0m1 4h0m1-25h0m1-7h0m0 3h0m0 28h0m0 65h0m1-70h0m1 14h0m2-46h0m2 40h0m0 4h0m1-44h0m0 6h0m0 92h0m1-78h0m0 22h0m0 1h0m3 41h0m1-28h0m1-44h0m0 38h0m1-57h0m0 44h0m1 8h0m0 6h0m1-6h0m1-6h0m0 2h0m1 49h0m1-101h0m0 20h0m1-8h0m0 2h0m0 9h0m0 1h0m0 69h0m1-96h0m1 46h0m1-49h0m1 54h0m0 2h0m1-55h0m0 11h0m0 11h0m1-16h0m0 3h0m1-4h0m0 8h0m0 27h0m1-17h0m0 19h0m0 8h0m0 21h0m0 21h0m2-111h0m0 7h0m0 25h0m0 8h0m1-29h0m0 19h0m0 4h0m1-12h0m0 32h0m1-33h0m0 14h0m0 66h0m1-93h0m0 14h0m1 8h0m1-20h0m1 54h0m2-81h0m0 21h0m0 59h0m1-92h0m0 4h0m0 58h0m1-51h0m0 71h0m0 3h0m2-71h0m0 1h0m0 61h0m1-48h0m0 6h0m0 55h0m1-65h0m0 45h0m1-46h0m0 47h0m1-8h0m0 13h0m0 12h0m1-35h0m1-19h0m0 47h0m1-58h0m1-10h0m0 24h0m1-29h0m0 2h0m0 4h0m0 26h0m0 7h0m0 33h0m1-34h0m0 1h0m0 16h0m1-33h0m0 24h0m1-1h0m1-20h0m0 8h0m0 15h0m0 24h0m1-68h0m1-9h0m0 45h0m0 27h0m1-69h0m1 5h0m0 20h0m0 7h0m1-17h0m1 6h0m1 3h0m0 43h0m1-29h0m0 1h0m0 13h0m1-16h0m0 20h0m2-18h0m0 13h0m2-20h0" stroke="#008000" stroke-width="18.0" stroke-linecap="round" fill="none" clip-path="url(#cb0)"/>
<path d="M1089 2889h0m5 541h0m1-16h0m0 5h0m1 4h0m1-7h0m2 29h0m1-4h0m1 3h0m1-27h0m2-4h0m3 13h0m0 22h0m2-55h0m0 38h0m1-40h0m0 24h0m5-537h0m0 535h0m1 33h0m8-41h0m0 18h0m1 32h0m5-27h0m2-597h0m1 565h0m1 46h0m0 13h0m1-38h0m1 21h0m3-54h0m3 21h0m0 1h0m0 7h0m1 0h0m2-8h0m2 0h0m1-11h0m0 15h0m0 15h0m1-42h0m0 55h0m1-41h0m2 36h0m1 1h0m0 18h0m1-28h0m2 2h0m0 29h0m2-47h0m4 8h0m3-36h0m1-1h0m1-7h0m1 80h0m1-68h0m1-13h0m1 10h0m0 26h0m1 14h0m0 29h0m0 1h0m1-14h0m1-34h0m1-35h0m2 3h0m1-8h0m0 16h0m0 12h0m1-2h0m1 36h0m0 44h0m1-38h0m2 13h0m0 5h0m1-67h0m2-18h0m1-1h0m0 2h0m0 51h0m0 22h0m1-74h0m0 9h0m1-2h0m1-13h0m0 21h0m1-21h0m0 4h0m0 24h0m0 31h0m1-38h0m1 54h0m1-73h0m0 42h0m0 26h0m2 1h0m2-39h0m1 18h0m1-40h0m0 37h0m2-365h0m0 46h0m0 373h0m1-79h0m0 20h0m1 16h0m0 6h0m1 5h0m1-50h0m2-15h0m0 65h0m2-75h0m0 23h0m0 24h0m1 16h0m3-9h0m1-27h0m2 7h0m1-22h0m0 55h0m0 4h0m2-467h0m0 347h0m2 109h0m2-584h0m1 565h0m0 15h0m0 4h0m1 4h0m1-364h0m1-166h0m0 468h0m1-367h0m1 409h0m1-42h0m1-514h0m1 538h0m0 8h0m0 6h0m3 7h0m1-181h0m0 173h0m1-7h0m0 3h0m2-367h0m1 258h0m2 57h0m0 5h0m0 36h0m4-69h0m1 18h0m0 12h0m1-9h0m0 16h0m1-262h0m0 206h0m1-115h0m0 78h0m3 90h0m1-31h0m1-12h0m1-240h0m0 51h0m1 206h0m0 17h0m1-6h0m1-316h0m2 329h0m1-284h0m0 261h0m1-29h0m3 43h0m0 21h0m0 16h0m2-25h0m0 30h0m1-72h0m0 16h0m1-94h0m1 61h0m0 25h0m2-11h0m2 47h0m1-264h0m1 239h0m0 8h0m1-268h0m0 212h0m1-176h0m2 244h0m2-229h0m1 201h0m0 4h0m1-184h0m0 165h0m1-35h0m2 37h0m0 3h0m1-182h0m1-51h0m1 319h0m1-107h0m1-137h0m4 137h0m0 25h0m0 12h0m2-213h0m4 172h0m1 4h0m1-4h0m0 3h0m1 5h0m0 18h0m2-16h0m0 18h0m1-14h0m1-8h0m0 51h0m1-44h0m1-21h0m1-25h0m5-161h0m0 208h0m8-15h0m4-15h0m1 21h0m2-186h0m2 176h0m2-55h0m0 63h0m0 1h0m3-70h0m1 23h0m0 18h0m1-2h0m4 23h0m3-40h0m0 156h0m1-188h0m0 47h0m3-12h0m1 46h0m2-23h0m1 2h0m1-58h0m1 52h0m1 27h0m4-96h0m3 40h0m0 111h0m2-98h0m1-41h0m0 28h0m0 28h0m1-29h0m0 48h0m1-54h0m0 17h0m2-28h0m1-18h0m0 32h0m1-3h0m1 10h0m2-28h0m2-42h0m1 57h0m0 18h0m2-6h0m0 9h0m0 20h0m2-102h0m1 45h0m3 28h0m1-4h0m0 28h0m1-62h0m0 10h0m0 5h0m2-54h0m2 69h0m1-5h0m2-28h0m0 41h0m1 66h0m1-139h0m1 24h0m0 15h0m2-23h0m0 60h0m1-25h0m0 100h0m2-93h0m0 114h0m2-149h0m3 170h0m1-161h0m1-9h0m0 7h0m0 1h0m0 8h0m0 22h0m2-72h0m3 28h0m2-34h0m0 21h0m0 29h0m1-11h0m5-3h0m0 23h0m2-14h0m4 29h0m3-82h0m1 13h0m2 16h0m3-27h0m1 20h0m0 2h0m2-46h0m0 35h0m0 5h0m0 15h0m1-70h0m0 54h0m1 82h0m2-92h0m1 34h0m0 4h0m1-33h0m1 23h0m3-18h0m1 13h0m1-6h0m1-22h0m1 10h0m1-49h0m0 53h0m0 125h0m1-103h0m1-44h0m4 3h0m0 159h0m1-166h0m3-2h0m0 65h0m1-117h0m1 12h0m0 35h0m0 4h0m2 66h0m1-36h0m1-20h0m1 15h0m1 15h0m1-40h0m0 19h0m1-37h0m3-21h0m0 38h0m0 38h0m2-35h0m1-6h0m1-5h0m1 0h0m0 20h0m1-29h0m0 38h0m3-10h0m1-8h0m0 50h0m2-61h0m0 10h0m4-25h0m0 11h0m0 18h0m1-51h0m1 9h0m2 53h0m1-76h0m1 44h0m2-9h0m1-11h0m0 6h0m1-1h0m1 0h0m0 1h0m2-14h0m0 9h0m4 26h0m1-19h0m1 18h0m1-88h0m1 24h0m0 41h0m0 26h0m2-38h0m1 5h0m0 4h0m2-9h0m1-5h0m2-50h0m0 80h0m5-74h0m0 34h0m6 6h0m4 6h0m1-30h0m0 8h0m1 27h0m0 16h0m1-35h0m1-18h0m0 55h0m4-34h0m1 29h0m1-44h0m1 5h0m2-41h0m1 59h0m1 5h0m3-23h0m0 29h0m0 3h0m1-62h0m1 22h0m4-45h0m2-7h0m0 14h0m0 46h0m1 5h0m4-33h0m1 53h0m0 31h0m2-106h0m0 36h0m2-21h0m2-2h0m0 11h0m1 24h0m1-79h0m1 84h0m4 13h0m1-70h0m5 177h0m3-165h0m0 14h0m6-148h0m0 278h0m1-130h0m1-93h0m3-52h0m9 173h0m0 332h0m4-358h0m0 437h0m21-9h0m1-420h0m3 384h0m3-6h0m5-462h0m4 13h0m10 38h0m4 424h0m1-14h0m10-447h0m5 434h0m5-449h0m3 476h0m3-17h0m11 29h0m2-572h0m5 19h0m2 34h0m1 492h0" stroke="#ff0000" stroke-width="18.0" stroke-linecap="round" fill="none" clip-path="url(#cb1)"/>
<path d="M1780 3409h0m7 11h0m2-24h0m3 13h0m0 31h0m4 0h0m2-600h0m1 53h0m0 514h0m1-507h0m1-69h0m1 619h0m1-26h0m0 32h0m1-535h0m0 517h0m1-2h0m1-526h0m1 515h0m0 19h0m0 10h0m2-71h0m1 79h0m2-31h0m1 4h0m0 4h0m1-608h0m1 567h0m2 23h0m2-487h0m1 417h0m0 106h0m2-51h0m0 8h0m0 3h0m1-558h0m1 537h0m0 90h0m1-43h0m3-3h0m1-51h0m1-502h0m0 585h0m2-11h0m1-57h0m1-11h0m1-24h0m0 70h0m1 8h0m2-596h0m0 587h0m1-21h0m1-534h0m0 480h0m1 4h0m0 56h0m4 78h0m1-125h0m1 22h0m1 104h0m1-108h0m0 28h0m1-10h0m3-51h0m1 55h0m1-587h0m0 26h0m0 572h0m1 21h0m1 10h0m2-28h0m6-18h0m1 35h0m4-68h0m1 23h0m1-560h0m1 604h0m1 17h0m1-66h0m1 12h0m0 17h0m1-31h0m0 55h0m1-82h0m1-11h0m0 57h0m0 11h0m1-4h0m1 17h0m2-604h0m2 519h0m0 23h0m2 4h0m6-43h0m1 64h0m1-305h0m0 293h0m2 36h0m1-45h0m0 13h0m1-16h0m1 73h0m5-62h0m3-553h0m0 514h0m2 48h0m1-24h0m1-38h0m1-32h0m1 100h0m1-49h0m1-41h0m1 17h0m1 11h0m0 9h0m0 36h0m0 14h0m1-46h0m3-11h0m1-7h0m1 43h0m0 14h0m1-62h0m1 23h0m2 8h0m2-3h0m3-16h0m1-32h0m0 24h0m3 16h0m2 49h0m3-72h0m3-12h0m2 11h0m1 18h0m1 26h0m1 22h0m3-128h0m1 25h0m0 71h0m2-46h0m2 40h0m1-38h0m1-24h0m0 8h0m5 50h0m3-58h0m0 15h0m1 9h0m2 18h0m1-20h0m2-45h0m0 21h0m1 62h0m1-40h0m0 31h0m6-63h0m0 8h0m0 47h0m0 4h0m0 14h0m1-28h0m2 22h0m1-22h0m1-15h0m0 14h0m1-28h0m0 2h0m1-18h0m0 45h0m1-10h0m2-22h0m0 88h0m5-29h0m3-48h0m1-25h0m5 16h0m0 3h0m3-35h0m1 78h0m2-74h0m0 35h0m1 60h0m1-60h0m1-80h0m0 81h0m1-66h0m0 101h0m2-71h0m0 43h0m0 1h0m1-72h0m0 9h0m0 65h0m2-23h0m1-116h0m0 121h0m2-69h0m2 75h0m2-42h0m0 10h0m1 7h0m0 34h0m2-69h0m1-14h0m2 54h0m2 25h0m1-40h0m0 17h0m2-12h0m1 29h0m3-44h0m5 12h0m1-117h0m1 80h0m0 25h0m1 48h0m4-34h0m1-28h0m1-4h0m0 39h0m1-46h0m0 59h0m1-21h0m0 4h0m3-21h0m3-25h0m0 29h0m0 1h0m1-130h0m0 176h0m1-13h0m2-33h0m1-17h0m0 2h0m1-28h0m1 58h0m1-72h0m0 66h0m0 111h0m3-155h0m3-22h0m1 24h0m0 36h0m0 4h0m1-53h0m0 1h0m0 63h0m1-44h0m1 12h0m1-2h0m0 53h0m1-59h0m0 1h0m0 17h0m2 5h0m2-94h0m0 55h0m0 5h0m0 39h0m2-39h0m2-37h0m0 49h0m5-160h0m1 173h0m0 4h0m4-56h0m0 40h0m0 1h0m1 1h0m0 24h0m1-12h0m2-32h0m0 1h0m0 85h0m2-134h0m0 17h0m0 73h0m2-58h0m0 12h0m1-11h0m2 1h0m0 6h0m1-31h0m1-76h0m0 54h0m2 11h0m0 3h0m0 16h0m1-5h0m1 4h0m0 14h0m0 34h0m3 22h0m3-88h0m1 6h0m2 43h0m1-47h0m0 29h0m2-15h0m1-19h0m1 6h0m0 16h0m0 34h0m3-81h0m4-12h0m1 36h0m0 25h0m5 8h0m2-29h0m3-12h0m1 19h0m1-3h0m2-3h0m4-3h0m1 2h0m2-21h0m1 28h0m2-49h0m3 26h0m1 32h0m1-63h0m1 51h0m0 3h0m3-29h0m1 7h0m2-37h0m1-2h0m0 53h0m1-59h0m5-10h0m1 88h0m3-75h0m0 21h0m1-6h0m3-2h0m0 46h0m1-34h0m0 16h0m1-54h0m3 12h0m2 27h0m3 5h0m2-65h0m0 79h0m1-46h0m0 7h0m0 32h0m3-72h0m1 1h0m1 46h0m1-32h0m1 12h0m0 2h0m0 26h0m2-29h0m2-11h0m2-34h0m0 11h0m1 14h0m1 32h0m5-22h0m1 11h0m0 19h0m3-69h0m0 32h0m0 23h0m2-39h0m0 7h0m1 43h0m1-43h0m2 47h0m3-81h0m1 21h0m2-24h0m0 18h0m5-15h0m0 41h0m1-1h0m4 42h0m2-61h0m3 12h0m0 1h0m2-9h0m0 26h0m2-27h0m2-35h0m1 22h0m3 10h0m5-42h0m0 31h0m1-3h0m1-184h0m0 223h0m1-70h0m0 48h0m3-17h0m1 16h0m2-21h0m0 24h0m3-45h0m1-1h0m2 21h0m2-22h0m0 16h0m1-9h0m0 25h0m2-7h0m2 0h0m4-2h0m2-62h0m1-2h0m0 12h0m2 21h0m1-39h0m0 7h0m3 1h0m1 49h0m0 9h0m5-48h0m1-1h0m2-30h0m2 26h0m0 435h0m3-453h0m3 18h0m5-1h0m0 4h0m1-49h0m1 466h0m3-497h0m4 92h0m3-47h0m3-11h0m0 466h0m1-402h0m5-90h0m0 17h0m4-6h0m3-3h0m4 5h0m0 5h0m0 15h0m1-14h0m6 58h0m3-71h0m1-57h0m0 83h0m2-28h0m1 14h0m1-27h0m1-21h0m4 30h0m2-45h0m0 48h0m7-34h0m1-44h0m2 52h0m1 511h0m1-387h0m2-135h0m1 17h0m1-47h0m1-17h0m2 100h0m0 517h0m2-581h0m2-75h0m1 48h0m1 74h0m4 24h0m4-39h0m1-46h0m0 7h0m4 44h0m1-64h0m0 35h0m0 14h0m1-69h0m2 69h0m0 508h0m0 32h0m0 22h0m2-629h0m0 13h0m0 77h0m0 472h0m9-567h0m3 33h0" stroke="#0080ff" stroke-width="18.0" stroke-linecap="round" fill="none" clip-path="url(#cb2)"/>
<line x1="898.4" y1="136.5" x2="898.4" y2="1267.3" stroke="#008000" stroke-width="7.5" stroke-dasharray="31 29.5"/>
<line x1="1844.1" y1="136.5" x2="1844.1" y2="1267.3" stroke="#ff0000" stroke-width="7.5" stroke-dasharray="31 29.5"/>
<line x1="2176.4" y1="136.5" x2="2176.4" y2="1267.3" stroke="#3399ee" stroke-width="7.5" stroke-dasharray="31 29.5"/>
<line x1="377.5" y1="1220.7" x2="2432" y2="1220.7" stroke="#000" stroke-width="4.8" stroke-dasharray="22 21"/>
<line x1="377.5" y1="2423.5" x2="1015.5" y2="1785.5" stroke="#000" stroke-width="6.8" stroke-dasharray="31 30"/>
<line x1="1086.4" y1="2423.5" x2="1724.5" y2="1785.5" stroke="#000" stroke-width="6.8" stroke-dasharray="31 30"/>
<line x1="1794.7" y1="2423.5" x2="2432.5" y2="1785.5" stroke="#000" stroke-width="6.8" stroke-dasharray="31 30"/>
<path d="M464.0 3456.4L480.0 3440.4M507.4 3413.0L523.4 3397.0M550.8 3369.6L566.8 3353.6M594.2 3326.2L610.2 3310.2M637.5 3282.9L653.5 3266.9M680.9 3239.5L696.9 3223.5M724.2 3196.2L740.2 3180.2M768.1 3152.3L784.1 3136.3M812.1 3108.3L841.1 3079.3M868.4 3052.0L884.4 3036.0M911.2 3009.2L927.2 2993.2M954.6 2965.8L970.6 2949.8M997.2 2923.2L1013.2 2907.2M1040.0 2880.4L1056.0 2864.4" stroke="#000" stroke-width="5.4" stroke-linecap="round" fill="none" clip-path="url(#cb0)"/>
<path d="M1126.8 3464.2L1140.6 3450.4M1163.6 3427.4L1177.4 3413.6M1202.3 3388.7L1216.1 3374.9M1241.9 3349.1L1255.7 3335.3M1278.8 3312.2L1292.6 3298.4M1314.9 3276.1L1328.7 3262.3M1352.2 3238.8L1366.0 3225.0M1390.4 3200.6L1404.2 3186.8M1428.2 3162.8L1442.0 3149.0M1467.6 3123.4L1481.4 3109.6M1504.0 3087.0L1517.8 3073.2M1534.0 3057.0L1547.8 3043.2M1571.2 3019.8L1585.0 3006.0M1610.3 2980.7L1624.1 2966.9M1646.7 2944.3L1660.5 2930.5M1686.6 2904.4L1700.4 2890.6M1724.1 2866.9L1737.9 2853.1" stroke="#000" stroke-width="5.2" stroke-linecap="round" fill="none" clip-path="url(#cb1)"/>
<path d="M1839.0 3458.3L1857.4 3439.9M1883.5 3413.8L1901.9 3395.4M1927.5 3369.8L1945.9 3351.4M1970.2 3327.1L1988.6 3308.7M2014.2 3283.1L2032.6 3264.7M2058.0 3239.3L2076.4 3220.9M2101.6 3195.7L2120.0 3177.3M2145.1 3152.2L2163.5 3133.8M2188.5 3108.8L2206.9 3090.4M2234.5 3062.8L2259.9 3037.4M2286.4 3010.9L2304.8 2992.5M2329.9 2967.4L2348.3 2949.0M2373.4 2923.9L2391.8 2905.5M2417.2 2880.1L2435.6 2861.7" stroke="#000" stroke-width="5.2" stroke-linecap="round" fill="none" clip-path="url(#cb2)"/>
<text font-family="'Liberation Sans', sans-serif" font-size="100" transform="matrix(0.9108 0 0 0.9606 218.05 162.14)">20</text>
<text font-family="'Liberation Sans', sans-serif" font-size="100" transform="matrix(0.8949 0 0 0.9606 219.74 311.07)">10</text>
<text font-family="'Liberation Sans', sans-serif" font-size="100" transform="matrix(0.9062 0 0 0.9606 268.38 460.01)">0</text>
<text font-family="'Liberation Sans', sans-serif" font-size="100" transform="matrix(0.9108 0 0 0.9606 218.05 608.94)">20</text>
<text font-family="'Liberation Sans', sans-serif" font-size="100" transform="matrix(0.8949 0 0 0.9606 219.74 758.24)">10</text>
<text font-family="'Liberation Sans', sans-serif" font-size="100" transform="matrix(0.9062 0 0 0.9606 268.38 907.54)">0</text>
<text font-family="'Liberation Sans', sans-serif" font-size="100" transform="matrix(0.8720 0 0 0.9578 198.21 1057.35)">0,4</text>
<text font-family="'Liberation Sans', sans-serif" font-size="100" transform="matrix(0.8710 0 0 0.9542 198.22 1243.08)">0,0</text>
<text font-family="'Liberation Sans', sans-serif" font-size="100" transform="matrix(0.8797 0 0 0.9747 291.98 1395.63)">0,00</text>
<text font-family="'Liberation Sans', sans-serif" font-size="100" transform="matrix(0.8742 0 0 0.9747 519.70 1395.63)">0,25</text>
<text font-family="'Liberation Sans', sans-serif" font-size="100" transform="matrix(0.8798 0 0 0.9747 812.96 1395.63)">1,50</text>
<text font-family="'Liberation Sans', sans-serif" font-size="100" transform="matrix(0.8621 0 0 0.9866 1069.60 1395.47)">1,75</text>
<text font-family="'Liberation Sans', sans-serif" font-size="100" transform="matrix(0.8871 0 0 0.9747 1322.56 1395.63)">2,00</text>
<text font-family="'Liberation Sans', sans-serif" font-size="100" transform="matrix(0.8659 0 0 0.9747 1579.07 1395.63)">2,25</text>
<text font-family="'Liberation Sans', sans-serif" font-size="100" transform="matrix(0.8210 0 0 0.9747 1835.40 1395.63)">2,50</text>
<text font-family="'Liberation Sans', sans-serif" font-size="100" transform="matrix(0.8789 0 0 0.9747 2091.31 1395.63)">2,75</text>
<text font-family="'Liberation Sans', sans-serif" font-size="100" transform="matrix(0.8695 0 0 0.9747 2348.32 1395.63)">3,00</text>
<text font-family="'Liberation Sans', sans-serif" font-size="100" transform="matrix(0.7288 0 0 0.8945 378.88 107.31)">a</text>
<text font-family="'Liberation Sans', sans-serif" font-size="100" transform="matrix(0.7923 0 0 0.8596 426.21 103.75)">)</text>
<text font-family="'Liberation Sans', sans-serif" font-size="100" transform="matrix(0.8738 0 0 0.9623 1315.53 1530.20)">V</text>
<text font-family="'Liberation Sans', sans-serif" font-size="100" transform="matrix(0.8932 0 0 0.8507 1374.45 1556.94)">p</text>
<text font-family="'Liberation Sans', sans-serif" font-size="100" transform="matrix(0.9028 0 0 0.8638 1458.28 1526.86)">[V]</text>
<text font-family="'Liberation Sans', sans-serif" font-size="100" transform="matrix(0 -0.8197 0.9565 0 165.00 475.16)">Y</text>
<text font-family="'Liberation Sans', sans-serif" font-size="100" transform="matrix(0 -0.6264 0.7884 0 190.40 420.21)">B</text>
<text font-family="'Liberation Sans', sans-serif" font-size="100" transform="matrix(0 -0.7600 0.7375 0 126.56 418.04)">-</text>
<text font-family="'Liberation Sans', sans-serif" font-size="100" transform="matrix(0 -0.8955 0.8673 0 164.33 343.77)">max.</text>
<text font-family="'Liberation Sans', sans-serif" font-size="100" transform="matrix(0 -0.8295 0.9696 0 166.20 968.99)">Y</text>
<text font-family="'Liberation Sans', sans-serif" font-size="100" transform="matrix(0 -0.6358 0.7957 0 191.30 912.49)">B</text>
<text font-family="'Liberation Sans', sans-serif" font-size="100" transform="matrix(0 -0.9958 1.0143 0 132.33 906.78)">+</text>
<text font-family="'Liberation Sans', sans-serif" font-size="100" transform="matrix(0 -0.8955 0.8764 0 165.32 808.27)">max.</text>
<text font-family="'Liberation Sans', sans-serif" font-size="100" transform="matrix(0 -0.7614 0.9580 0 150.00 1238.09)">LLE</text>
<text font-family="'Liberation Sans', sans-serif" font-size="100" transform="matrix(0.8279 0 0 0.9652 498.52 1159.00)">Y</text>
<text font-family="'Liberation Sans', sans-serif" font-size="100" transform="matrix(0.7898 0 0 0.8429 549.55 1131.19)">−</text>
<text font-family="'Liberation Sans', sans-serif" font-size="100" transform="matrix(0.6226 0 0 0.7899 554.22 1184.20)">B</text>
<text font-family="'Liberation Sans', sans-serif" font-size="100" transform="matrix(0.8230 0 0 0.9652 753.93 1159.00)">Y</text>
<text font-family="'Liberation Sans', sans-serif" font-size="100" transform="matrix(0.8271 0 0 0.7837 803.86 1129.25)">+</text>
<text font-family="'Liberation Sans', sans-serif" font-size="100" transform="matrix(0.6396 0 0 0.7899 808.68 1184.20)">B</text>
<text font-family="'Liberation Sans', sans-serif" font-size="100" transform="matrix(1.0091 0 0 0.9616 377.74 1731.70)">b</text>
<text font-family="'Liberation Sans', sans-serif" font-size="100" transform="matrix(0.8115 0 0 0.8755 433.89 1728.91)">)</text>
<text font-family="'Liberation Sans', sans-serif" font-size="100" transform="matrix(0.8815 0 0 0.9638 477.12 1722.00)">V</text>
<text font-family="'Liberation Sans', sans-serif" font-size="100" transform="matrix(0.9273 0 0 0.8467 536.51 1748.72)">p</text>
<text font-family="'Liberation Sans', sans-serif" font-size="100" transform="matrix(0.9229 0 0 0.8656 624.39 1723.12)">=</text>
<text font-family="'Liberation Sans', sans-serif" font-size="100" transform="matrix(0.8457 0 0 0.9600 718.23 1721.04)">1.5</text>
<text font-family="'Liberation Sans', sans-serif" font-size="100" transform="matrix(0.8538 0 0 0.9638 870.35 1722.00)">V</text>
<text font-family="'Liberation Sans', sans-serif" font-size="100" transform="matrix(0.8605 0 0 0.9091 1086.36 1732.09)">c</text>
<text font-family="'Liberation Sans', sans-serif" font-size="100" transform="matrix(0.8192 0 0 0.8649 1130.18 1728.64)">)</text>
<text font-family="'Liberation Sans', sans-serif" font-size="100" transform="matrix(0.9035 0 0 0.9423 1245.48 1737.96)">2.425 V</text>
<text font-family="'Liberation Sans', sans-serif" font-size="100" transform="matrix(0.9733 0 0 0.9432 1795.11 1730.86)">d</text>
<text font-family="'Liberation Sans', sans-serif" font-size="100" transform="matrix(0.8000 0 0 0.8649 1850.20 1728.64)">)</text>
<text font-family="'Liberation Sans', sans-serif" font-size="100" transform="matrix(0.9028 0 0 0.9380 1956.09 1737.66)">2.75 V</text>
<text font-family="'Liberation Sans', sans-serif" font-size="100" transform="matrix(0.8617 0 0 0.9577 271.25 1808.14)">3</text>
<text font-family="'Liberation Sans', sans-serif" font-size="100" transform="matrix(0.9333 0 0 0.9662 266.87 2127.93)">0</text>
<text font-family="'Liberation Sans', sans-serif" font-size="100" transform="matrix(0.9812 0 0 0.9577 232.07 2446.14)">-3</text>
<text font-family="'Liberation Sans', sans-serif" font-size="100" transform="matrix(0.9575 0 0 0.9310 316.57 2549.77)">-3</text>
<text font-family="'Liberation Sans', sans-serif" font-size="100" transform="matrix(0.9042 0 0 0.9310 671.38 2549.77)">0</text>
<text font-family="'Liberation Sans', sans-serif" font-size="100" transform="matrix(0.8681 0 0 0.9310 990.43 2549.77)">3</text>
<text font-family="'Liberation Sans', sans-serif" font-size="100" transform="matrix(0.9750 0 0 0.9310 1049.10 2549.77)">-3</text>
<text font-family="'Liberation Sans', sans-serif" font-size="100" transform="matrix(0.9375 0 0 0.9310 1378.85 2549.77)">0</text>
<text font-family="'Liberation Sans', sans-serif" font-size="100" transform="matrix(0.8936 0 0 0.9310 1669.83 2549.77)">3</text>
<text font-family="'Liberation Sans', sans-serif" font-size="100" transform="matrix(0.9575 0 0 0.9310 1757.87 2549.77)">-3</text>
<text font-family="'Liberation Sans', sans-serif" font-size="100" transform="matrix(0.9250 0 0 0.9310 2087.60 2549.77)">0</text>
<text font-family="'Liberation Sans', sans-serif" font-size="100" transform="matrix(0.8681 0 0 0.9310 2412.83 2549.77)">3</text>
<text font-family="'Liberation Sans', sans-serif" font-size="100" transform="matrix(0.8154 0 0 0.7979 1129.91 2681.24)">(</text>
<text font-family="'Liberation Sans', sans-serif" font-size="100" transform="matrix(0.7949 0 0 0.9382 1157.44 2685.54)">R</text>
<text font-family="'Liberation Sans', sans-serif" font-size="100" transform="matrix(0.6236 0 0 0.7123 1213.76 2707.90)">B</text>
<text font-family="'Liberation Sans', sans-serif" font-size="100" transform="matrix(0.7500 0 0 0.8750 1215.75 2650.12)">-</text>
<text font-family="'Liberation Sans', sans-serif" font-size="100" transform="matrix(1.0000 0 0 1.1187 1280.00 2693.43)">-</text>
<text font-family="'Liberation Sans', 'Noto Sans CJK JP', sans-serif" font-size="100" transform="matrix(0.7057 0 0 0.8570 1298.36 2694.79)">〈</text>
<text font-family="'Liberation Sans', sans-serif" font-size="100" transform="matrix(0.7797 0 0 0.9382 1370.56 2685.54)">R</text>
<text font-family="'Liberation Sans', sans-serif" font-size="100" transform="matrix(0.5189 0 0 0.7123 1425.35 2707.90)">B</text>
<text font-family="'Liberation Sans', sans-serif" font-size="100" transform="matrix(0.7400 0 0 0.8750 1426.54 2650.12)">-</text>
<text font-family="'Liberation Sans', 'Noto Sans CJK JP', sans-serif" font-size="100" transform="matrix(0.7343 0 0 0.8570 1459.59 2694.79)">〉</text>
<text font-family="'Liberation Sans', sans-serif" font-size="100" transform="matrix(0.6846 0 0 0.7979 1491.32 2681.24)">)</text>
<text font-family="'Liberation Sans', sans-serif" font-size="100" transform="matrix(0.9607 0 0 0.8740 1541.00 2684.60)">/</text>
<text font-family="'Liberation Sans', sans-serif" font-size="100" transform="matrix(0.9018 0 0 0.8037 1591.89 2685.60)">σ</text>
<text font-family="'Liberation Sans', sans-serif" font-size="100" transform="matrix(0.8000 0 0 0.8750 1651.80 2650.12)">-</text>
<text font-family="'Liberation Sans', sans-serif" font-size="100" transform="matrix(0 -0.6692 0.7830 0 157.56 2408.32)">(</text>
<text font-family="'Liberation Sans', sans-serif" font-size="100" transform="matrix(0 -0.7729 0.9750 0 162.17 2381.48)">R</text>
<text font-family="'Liberation Sans', sans-serif" font-size="100" transform="matrix(0 -0.6283 0.7797 0 185.80 2326.83)">B</text>
<text font-family="'Liberation Sans', sans-serif" font-size="100" transform="matrix(0 -0.7250 0.7224 0 125.70 2323.22)">+</text>
<text font-family="'Liberation Sans', sans-serif" font-size="100" transform="matrix(0 -1.0240 0.7500 0 155.25 2242.60)">-</text>
<text font-family="'Liberation Sans', 'Noto Sans CJK JP', sans-serif" font-size="100" transform="matrix(0 -0.6971 0.8710 0 169.96 2212.13)">〈</text>
<text font-family="'Liberation Sans', sans-serif" font-size="100" transform="matrix(0 -0.7797 0.9750 0 162.17 2141.24)">R</text>
<text font-family="'Liberation Sans', sans-serif" font-size="100" transform="matrix(0 -0.6170 0.7899 0 186.50 2085.44)">B</text>
<text font-family="'Liberation Sans', sans-serif" font-size="100" transform="matrix(0 -0.7354 0.7224 0 125.50 2082.68)">+</text>
<text font-family="'Liberation Sans', 'Noto Sans CJK JP', sans-serif" font-size="100" transform="matrix(0 -0.6800 0.8753 0 170.12 2036.88)">〉</text>
<text font-family="'Liberation Sans', sans-serif" font-size="100" transform="matrix(0 -0.7115 0.7798 0 157.92 2004.21)">)</text>
<text font-family="'Liberation Sans', sans-serif" font-size="100" transform="matrix(0 -0.9036 0.9110 0 161.00 1947.00)">/</text>
<text font-family="'Liberation Sans', sans-serif" font-size="100" transform="matrix(0 -0.9000 0.8074 0 161.19 1896.00)">σ</text>
<text font-family="'Liberation Sans', sans-serif" font-size="100" transform="matrix(0 -0.7583 0.7367 0 121.63 1840.39)">+</text>
<text font-family="'Liberation Sans', sans-serif" font-size="100" transform="matrix(0.9104 0 0 0.8959 209.55 2855.36)">+</text>
<text font-family="'Liberation Serif', serif" font-size="100" transform="matrix(0.9167 0 0 0.9170 269.08 2853.68)">π</text>
<text font-family="'Liberation Sans', sans-serif" font-size="100" transform="matrix(0.9208 0 0 0.9563 267.82 3167.79)">0</text>
<text font-family="'Liberation Sans', sans-serif" font-size="100" transform="matrix(1.0360 0 0 0.7875 233.06 3487.41)">-</text>
<text font-family="'Liberation Serif', serif" font-size="100" transform="matrix(0.9104 0 0 0.9213 269.29 3492.28)">π</text>
<text font-family="'Liberation Sans', sans-serif" font-size="100" transform="matrix(0.9560 0 0 0.7875 316.78 3597.41)">-</text>
<text font-family="'Liberation Serif', serif" font-size="100" transform="matrix(0.9312 0 0 0.9255 353.07 3602.17)">π</text>
<text font-family="'Liberation Sans', sans-serif" font-size="100" transform="matrix(0.9375 0 0 0.9549 670.25 3591.85)">0</text>
<text font-family="'Liberation Sans', sans-serif" font-size="100" transform="matrix(0.9083 0 0 0.9102 929.46 3604.79)">+</text>
<text font-family="'Liberation Serif', serif" font-size="100" transform="matrix(0.9062 0 0 0.9255 990.09 3602.17)">π</text>
<text font-family="'Liberation Sans', sans-serif" font-size="100" transform="matrix(1.0200 0 0 0.7875 1067.52 3597.41)">-</text>
<text font-family="'Liberation Serif', serif" font-size="100" transform="matrix(0.8500 0 0 0.9255 1108.05 3602.17)">π</text>
<text font-family="'Liberation Sans', sans-serif" font-size="100" transform="matrix(0.9354 0 0 0.9549 1379.16 3591.85)">0</text>
<text font-family="'Liberation Sans', sans-serif" font-size="100" transform="matrix(0.9042 0 0 0.9102 1642.58 3604.79)">+</text>
<text font-family="'Liberation Serif', serif" font-size="100" transform="matrix(0.9896 0 0 0.9255 1699.71 3602.17)">π</text>
<text font-family="'Liberation Sans', sans-serif" font-size="100" transform="matrix(1.0200 0 0 0.7875 1759.22 3597.41)">-</text>
<text font-family="'Liberation Serif', serif" font-size="100" transform="matrix(0.8187 0 0 0.9255 1798.18 3602.17)">π</text>
<text font-family="'Liberation Sans', sans-serif" font-size="100" transform="matrix(0.9583 0 0 0.9549 2083.37 3591.85)">0</text>
<text font-family="'Liberation Sans', sans-serif" font-size="100" transform="matrix(0.9354 0 0 0.9102 2383.62 3604.79)">+</text>
<text font-family="'Liberation Serif', serif" font-size="100" transform="matrix(0.9250 0 0 0.9255 2443.47 3602.17)">π</text>
<text font-family="'Liberation Serif', serif" font-size="100" transform="matrix(1.0410 0 0 0.9155 1356.19 3729.78)">θ</text>
<text font-family="'Liberation Sans', sans-serif" font-size="100" transform="matrix(0.6170 0 0 0.7812 1408.26 3754.70)">B</text>
<text font-family="'Liberation Sans', sans-serif" font-size="100" transform="matrix(0.8796 0 0 0.6714 1403.20 3693.44)">−</text>
<text font-family="'Liberation Serif', serif" font-size="100" transform="matrix(0 -1.0256 0.9127 0 162.79 3192.93)">θ</text>
<text font-family="'Liberation Sans', sans-serif" font-size="100" transform="matrix(0 -0.6075 0.7942 0 188.40 3141.76)">B</text>
<text font-family="'Liberation Sans', sans-serif" font-size="100" transform="matrix(0 -0.8792 0.8673 0 133.01 3146.40)">+</text>
</svg>
</body></html>
